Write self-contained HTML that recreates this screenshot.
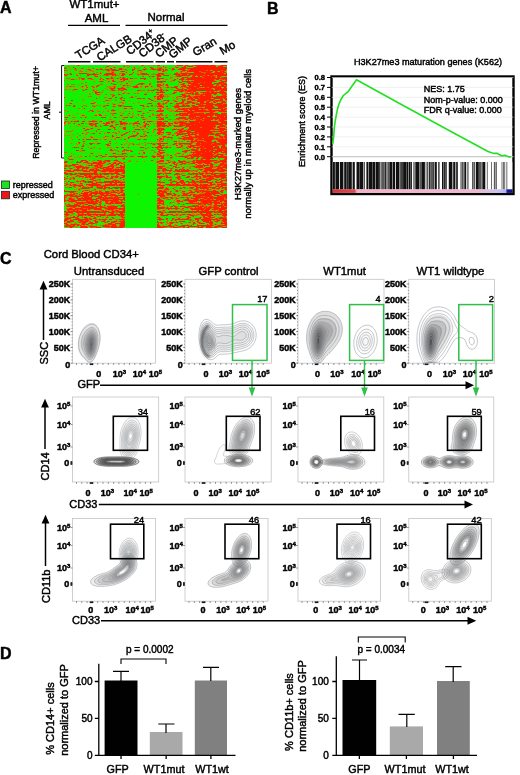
<!DOCTYPE html>
<html><head><meta charset="utf-8"><title>Figure</title>
<style>html,body{margin:0;padding:0;background:#fff}svg{display:block}text{font-family:"Liberation Sans",sans-serif;fill:#000;stroke:#000;stroke-width:0.45px}</style>
</head><body>
<svg width="520" height="775" viewBox="0 0 520 775" font-family="Liberation Sans, sans-serif">
<rect width="520" height="775" fill="#fff"/>
<g opacity="0.999">
<text x="0" y="13" font-size="16" text-anchor="start" font-weight="bold" >A</text>
<text x="94.5" y="7.5" font-size="11.5" text-anchor="middle" font-weight="normal" >WT1mut+</text>
<text x="96.5" y="21.5" font-size="11.5" text-anchor="middle" font-weight="normal" >AML</text>
<path d="M68 25.3H120M125.5 25.3H227.5" stroke="#000" stroke-width="1.3"/>
<text x="166" y="21.3" font-size="11.5" text-anchor="middle" font-weight="normal" >Normal</text>
<path d="M68 61.7H90.5M93 61.7H120.5M126 61.7H153.5M155.5 61.7H165M167 61.7H174M176 61.7H212.5M214.5 61.7H227.5" stroke="#000" stroke-width="1.5"/>
<text x="78.5" y="59.5" font-size="11.5" text-anchor="start" font-weight="normal" transform="rotate(-32 78.5 59.5)" >TCGA</text>
<text x="99.7" y="61.5" font-size="11.5" text-anchor="start" font-weight="normal" transform="rotate(-32 99.7 61.5)" >CALGB</text>
<text x="130" y="55.5" font-size="11.5" text-anchor="start" font-weight="normal" transform="rotate(-39 130 55.5)" >CD34<tspan font-size="7" dy="-4">+</tspan></text>
<text x="142.5" y="58" font-size="11.5" text-anchor="start" font-weight="normal" transform="rotate(-39 142.5 58)" >CD38<tspan font-size="7" dy="-4">-</tspan></text>
<text x="159" y="58" font-size="11.5" text-anchor="start" font-weight="normal" transform="rotate(-39 159 58)" >CMP</text>
<text x="172.5" y="59" font-size="11.5" text-anchor="start" font-weight="normal" transform="rotate(-39 172.5 59)" >GMP</text>
<text x="195.5" y="56.5" font-size="11.5" text-anchor="start" font-weight="normal" transform="rotate(-31 195.5 56.5)" >Gran</text>
<text x="222.5" y="55" font-size="11.5" text-anchor="start" font-weight="normal" transform="rotate(-30 222.5 55)" >Mo</text>
<path d="M64 65.6H61.6V158H64M61.6 112.2H59" stroke="#000" stroke-width="1" fill="none"/>
<text x="39.2" y="112.5" font-size="8.8" text-anchor="middle" font-weight="normal" transform="rotate(-90 39.2 112.5)" >Repressed in WT1mut+</text>
<text x="50.5" y="110.4" font-size="8.9" text-anchor="middle" font-weight="normal" transform="rotate(-90 50.5 110.4)" >AML</text>
<rect x="1.5" y="181" width="8" height="7.5" fill="#1fe21f" stroke="#222" stroke-width="0.8"/>
<rect x="1.5" y="191.3" width="8" height="7.5" fill="#ee1515" stroke="#222" stroke-width="0.8"/>
<text x="12.8" y="188" font-size="9" text-anchor="start" font-weight="normal" >repressed</text>
<text x="12.8" y="197.8" font-size="9" text-anchor="start" font-weight="normal" >expressed</text>
<text x="240.5" y="144" font-size="9.6" text-anchor="middle" font-weight="normal" transform="rotate(-90 240.5 144)" >H3K27me3-marked genes</text>
<text x="250.8" y="143.8" font-size="9.6" text-anchor="middle" font-weight="normal" transform="rotate(-90 250.8 143.8)" >normally up in mature myeloid cells</text>
<defs><filter id="hb" x="0" y="0" width="1" height="1"><feGaussianBlur stdDeviation="0.75 0.42"/></filter><clipPath id="hc"><rect x="64" y="65" width="163" height="163"/></clipPath></defs>
<g clip-path="url(#hc)"><g filter="url(#hb)">
<rect x="61" y="62" width="169" height="169" fill="#0af506"/>
<path d="M64 65.5m11 0h2m31 0h1m2 0h1m6 0h2m5 0h1m6 0h1m5 0h1m5 0h1m2 0h1m18 0h1m8 0h1m7 0h2m4 0h3m24 0h4M64 66.5m3 0h1m1 0h1m39 0h1m2 0h2m14 0h1m30 0h1m2 0h1m10 0h2m1 0h1m6 0h1m2 0h1m6 0h1m1 0h1m21 0h1m5 0h1m1 0h1M64 67.5m0 0h1m4 0h2m3 0h1m4 0h1m7 0h1m24 0h1m3 0h3m4 0h1m8 0h1m2 0h1m2 0h1m1 0h1m2 0h1m1 0h1m3 0h1m12 0h1m1 0h1m2 0h1m2 0h1m8 0h1m12 0h1M64 68.5m3 0h4m5 0h1m3 0h1m13 0h1m1 0h2m11 0h1m13 0h1m3 0h1m5 0h1m2 0h1m7 0h1m2 0h1m2 0h1m3 0h3m5 0h1m1 0h1m6 0h1m4 0h3M64 69.5m7 0h1m1 0h1m3 0h4m3 0h2m5 0h1m3 0h1m7 0h1m12 0h2m11 0h1m5 0h1m1 0h2m10 0h1m14 0h1m6 0h1m5 0h1m7 0h1m1 0h1M64 70.5m4 0h1m5 0h1m4 0h1m1 0h2m9 0h5m5 0h1m1 0h2m4 0h1m17 0h2m1 0h1m10 0h2m1 0h1m8 0h2m5 0h2m10 0h1m3 0h2m2 0h1m28 0h2m14 0h1M64 71.5m5 0h2m12 0h1m1 0h1m1 0h5m2 0h1m5 0h1m6 0h1m1 0h2m3 0h1m10 0h1m14 0h1m12 0h1m5 0h1m1 0h1m4 0h2m10 0h2m6 0h1m27 0h1m4 0h1m5 0h1M64 72.5m15 0h1m18 0h2m1 0h2m7 0h1m9 0h2m3 0h1m8 0h1m2 0h2m7 0h1m7 0h1m2 0h2m20 0h1m2 0h3m3 0h3m21 0h2m12 0h1M64 73.5m0 0h2m2 0h1m6 0h2m12 0h1m1 0h2m5 0h2m16 0h1m1 0h1m6 0h4m2 0h1m1 0h1m2 0h1m1 0h2m9 0h4m4 0h1m7 0h1m58 0h2M64 74.5m5 0h1m2 0h1m2 0h1m1 0h1m21 0h1m3 0h1m12 0h1m3 0h2m4 0h1m1 0h1m3 0h1m16 0h2m13 0h1m6 0h1m15 0h1M64 75.5m3 0h1m10 0h2m6 0h1m9 0h1m4 0h1m9 0h1m7 0h2m3 0h1m5 0h1m6 0h1m1 0h1m2 0h1m3 0h2m14 0h1m6 0h3m19 0h1m16 0h1m5 0h1m1 0h1M64 76.5m0 0h3m20 0h1m10 0h1m11 0h1m1 0h1m3 0h1m15 0h1m28 0h1m12 0h1m7 0h1m1 0h1m6 0h1m5 0h1m2 0h1m15 0h1m6 0h1m2 0h1M64 77.5m5 0h1m23 0h1m2 0h2m1 0h1m13 0h1m1 0h1m5 0h1m11 0h1m25 0h1m13 0h2m6 0h1m34 0h1m3 0h1M64 78.5m0 0h2m4 0h1m2 0h2m2 0h2m1 0h1m11 0h1m9 0h1m16 0h2m7 0h1m4 0h1m3 0h1m8 0h2m3 0h3m10 0h1m2 0h1m3 0h1m4 0h1m1 0h1m5 0h1m1 0h1M64 79.5m11 0h1m1 0h2m1 0h2m6 0h2m11 0h1m2 0h1m4 0h4m1 0h2m3 0h1m8 0h1m8 0h2m4 0h1m16 0h1m2 0h2m3 0h6m2 0h1m1 0h1m40 0h1M64 80.5m17 0h2m11 0h1m11 0h1m15 0h1m8 0h1m3 0h1m18 0h1m16 0h1m3 0h1m7 0h1m5 0h1m1 0h1m1 0h1m21 0h1m8 0h1M64 81.5m3 0h4m2 0h1m8 0h1m10 0h1m1 0h1m2 0h1m8 0h1m2 0h2m4 0h3m5 0h2m4 0h2m1 0h1m14 0h1m1 0h1m2 0h1m12 0h1m1 0h2m2 0h1m4 0h1m2 0h1m36 0h1m2 0h1M64 82.5m10 0h1m12 0h1m18 0h3m13 0h1m8 0h2m4 0h1m18 0h1m21 0h1m3 0h1m42 0h2M64 83.5m3 0h1m12 0h1m12 0h2m5 0h1m4 0h3m2 0h1m2 0h1m5 0h1m2 0h1m2 0h1m2 0h5m5 0h1m12 0h1m6 0h1m3 0h1m1 0h3m4 0h1m9 0h1m30 0h2M64 84.5m5 0h2m6 0h2m4 0h1m2 0h1m16 0h1m8 0h1m4 0h1m6 0h1m3 0h2m2 0h1m3 0h1m6 0h4m1 0h1m2 0h1m9 0h1m2 0h2m2 0h1m8 0h1m1 0h1m5 0h3m1 0h2m24 0h1M64 85.5m3 0h3m21 0h2m1 0h3m10 0h1m13 0h2m7 0h1m14 0h7m16 0h1m9 0h4m4 0h1m13 0h1m12 0h1m1 0h1m3 0h2M64 86.5m4 0h1m6 0h1m8 0h2m1 0h1m7 0h1m2 0h1m9 0h1m2 0h1m6 0h1m3 0h1m1 0h1m4 0h1m1 0h1m6 0h2m4 0h1m5 0h1m9 0h1m3 0h1m1 0h1m13 0h1m6 0h1M64 87.5m0 0h3m2 0h2m7 0h4m1 0h1m4 0h1m3 0h1m2 0h1m16 0h1m3 0h1m7 0h3m12 0h2m1 0h1m1 0h1m1 0h1m2 0h5m3 0h2m3 0h3m4 0h1m7 0h1m1 0h1m3 0h1m17 0h1m1 0h1m17 0h1m1 0h1M64 88.5m3 0h1m16 0h1m7 0h2m10 0h1m37 0h1m14 0h1m1 0h1m2 0h2m3 0h1m7 0h1m10 0h1m26 0h1M64 89.5m0 0h1m2 0h2m1 0h1m7 0h2m3 0h2m7 0h1m1 0h1m1 0h1m9 0h1m1 0h1m1 0h1m3 0h1m17 0h1m6 0h2m2 0h2m4 0h1m2 0h1m6 0h1m5 0h1m1 0h1m2 0h1m5 0h1m10 0h1m25 0h2M64 90.5m0 0h1m4 0h3m2 0h3m11 0h2m2 0h1m2 0h1m5 0h1m5 0h3m6 0h2m7 0h1m1 0h1m3 0h2m12 0h2M64 91.5m29 0h1m3 0h3m12 0h1m3 0h1m15 0h1m6 0h2m8 0h1m24 0h2m2 0h1m17 0h1m1 0h3m13 0h2m1 0h2m7 0h1M64 92.5m21 0h4m2 0h1m11 0h1m8 0h1m4 0h1m5 0h1m2 0h1m5 0h1m15 0h1m2 0h1m3 0h1m24 0h1m1 0h1m1 0h1m3 0h1m5 0h1m3 0h2m26 0h1M64 93.5m3 0h1m13 0h1m8 0h1m15 0h1m1 0h3m19 0h1m2 0h1m2 0h1m2 0h1m4 0h1m1 0h1m14 0h1m20 0h2m15 0h4m14 0h1M64 94.5m0 0h1m11 0h1m5 0h2m30 0h1m6 0h1m4 0h2m9 0h2m4 0h1m15 0h1m3 0h1m4 0h1m2 0h1m1 0h1m5 0h1m6 0h3m24 0h1m3 0h1m3 0h1M64 95.5m9 0h1m22 0h4m22 0h1m28 0h1m5 0h2m5 0h3m1 0h1m7 0h1m13 0h1m3 0h1m9 0h1m8 0h1m4 0h1m7 0h1M64 96.5m15 0h4m3 0h2m19 0h2m2 0h1m22 0h1m2 0h1m15 0h1m2 0h1m9 0h1m2 0h4m3 0h1m36 0h1m1 0h1M64 97.5m1 0h1m32 0h1m8 0h1m2 0h1m3 0h1m5 0h1m17 0h2m13 0h1m1 0h2m2 0h1m3 0h1m2 0h1m5 0h1m1 0h2m2 0h1m2 0h1m44 0h1M64 98.5m15 0h1m15 0h1m1 0h1m1 0h1m4 0h4m4 0h1m9 0h2m1 0h1m19 0h1m1 0h1m5 0h2m1 0h1m6 0h1m8 0h1m6 0h1m4 0h3m24 0h2M64 99.5m1 0h2m26 0h1m20 0h1m1 0h1m5 0h1m32 0h2m4 0h1m10 0h1m13 0h1m8 0h1m23 0h1m4 0h1M64 100.5m0 0h1m17 0h1m1 0h1m8 0h1m6 0h2m2 0h1m23 0h1m13 0h1m11 0h1m21 0h1m1 0h2m1 0h1m4 0h5m32 0h2M64 101.5m20 0h1m23 0h1m23 0h1m3 0h1m9 0h2m10 0h1m14 0h1m7 0h1m2 0h1m7 0h2m2 0h1m8 0h1m6 0h1m12 0h1M64 102.5m12 0h1m5 0h1m13 0h1m27 0h1m4 0h1m35 0h1m5 0h2m5 0h1m7 0h1m10 0h1m1 0h1m4 0h2m3 0h2m5 0h1m9 0h1M64 103.5m2 0h1m5 0h1m5 0h1m16 0h1m15 0h1m1 0h1m1 0h3m6 0h1m3 0h2m4 0h2m1 0h2m13 0h1m1 0h1m6 0h1m5 0h1m1 0h1m5 0h1m37 0h3m7 0h1M64 104.5m48 0h1m3 0h3m25 0h3m14 0h1m2 0h1m9 0h1m4 0h3m9 0h2m11 0h1M64 105.5m1 0h1m13 0h2m10 0h1m2 0h2m2 0h1m2 0h3m5 0h1m3 0h3m1 0h1m6 0h1m10 0h2m2 0h1m4 0h1m5 0h1m2 0h1m1 0h1m1 0h1m4 0h1m3 0h2m3 0h1m7 0h1m1 0h1m8 0h1m4 0h1m1 0h1M64 106.5m3 0h1m15 0h1m3 0h1m3 0h1m8 0h1m1 0h1m19 0h1m9 0h1m9 0h1m2 0h1m3 0h1m3 0h2m1 0h1m7 0h2m24 0h2m22 0h3M64 107.5m0 0h1m28 0h2m62 0h3m4 0h1m23 0h2m9 0h1m2 0h3m10 0h3m7 0h1M64 108.5m13 0h1m2 0h3m2 0h1m7 0h2m24 0h1m7 0h2m1 0h1m4 0h1m16 0h1m4 0h1m4 0h2m1 0h1m5 0h1m2 0h1m1 0h1m46 0h1M64 109.5m45 0h1m11 0h1m14 0h3m3 0h1m16 0h1m1 0h1m1 0h1m2 0h1m3 0h2m3 0h2m11 0h1m10 0h2m5 0h2m8 0h2m1 0h1M64 110.5m2 0h1m4 0h1m21 0h1m2 0h1m1 0h1m7 0h2m1 0h1m6 0h5m11 0h2m3 0h2m9 0h1m15 0h1m5 0h1m3 0h2m2 0h1m3 0h1m6 0h1m3 0h1M64 111.5m2 0h1m1 0h1m18 0h1m8 0h2m2 0h1m1 0h1m1 0h1m9 0h1m6 0h4m1 0h1m3 0h1m11 0h3m8 0h3m13 0h1m2 0h2m42 0h2M64 112.5m6 0h1m32 0h1m15 0h1m38 0h1m6 0h1m13 0h5m2 0h1m10 0h2m5 0h1m1 0h1m7 0h2m5 0h1m1 0h1m1 0h1M64 113.5m9 0h1m1 0h2m1 0h1m2 0h1m14 0h2m6 0h1m4 0h1m11 0h1m2 0h1m5 0h1m14 0h3m3 0h1m7 0h1m12 0h1m3 0h1m27 0h2M64 114.5m4 0h2m10 0h2m1 0h1m11 0h3m7 0h1m5 0h1m1 0h1m7 0h1m5 0h1m11 0h1m23 0h1m2 0h1m1 0h1m5 0h2m12 0h2M64 115.5m1 0h3m2 0h1m1 0h1m8 0h1m3 0h1m5 0h1m5 0h2m5 0h1m2 0h1m3 0h1m6 0h2m9 0h1m1 0h1m1 0h5m1 0h2m9 0h2m1 0h2m12 0h1m1 0h1m1 0h3m4 0h1m35 0h1M64 116.5m18 0h1m2 0h1m4 0h1m31 0h1m25 0h1m11 0h1m13 0h1m9 0h2m2 0h1m7 0h1m12 0h1m6 0h1m7 0h1M64 117.5m4 0h1m2 0h1m4 0h2m4 0h1m10 0h2m14 0h1m3 0h1m4 0h1m1 0h2m6 0h2m3 0h3m4 0h1m4 0h1m3 0h4m2 0h1m6 0h1m1 0h1m3 0h1m4 0h2m12 0h1M64 118.5m6 0h1m25 0h2m27 0h2m15 0h1m2 0h1m1 0h1m9 0h2m44 0h1M64 119.5m3 0h1m6 0h1m33 0h1m3 0h1m6 0h3m4 0h1m8 0h1m10 0h5m29 0h2m1 0h1m4 0h1m24 0h1M64 120.5m0 0h1m30 0h1m4 0h1m14 0h2m2 0h2m28 0h1m4 0h2m1 0h5m5 0h1m6 0h3m1 0h1m1 0h1m3 0h1m1 0h3m4 0h2m16 0h4m1 0h1m8 0h1M64 121.5m5 0h1m11 0h1m3 0h3m9 0h2m8 0h1m7 0h1m6 0h1m2 0h1m13 0h3m1 0h1m2 0h1m7 0h2m6 0h1m8 0h1m1 0h1M64 122.5m2 0h2m5 0h1m12 0h1m5 0h1m7 0h4m6 0h1m3 0h1m11 0h1m3 0h1m14 0h1m1 0h2m16 0h3m2 0h1m2 0h1m14 0h1m30 0h2M64 123.5m1 0h3m7 0h1m9 0h1m1 0h1m10 0h1m1 0h3m7 0h2m1 0h1m1 0h1m3 0h1m8 0h1m11 0h4m5 0h1m2 0h1m1 0h1m12 0h1m5 0h1m4 0h1M64 124.5m0 0h1m12 0h1m5 0h2m3 0h1m12 0h1m12 0h1m4 0h1m8 0h1m3 0h1m1 0h1m9 0h1m6 0h2m12 0h1m1 0h1m3 0h1m1 0h1m1 0h4m45 0h1M64 125.5m2 0h1m6 0h3m1 0h1m1 0h1m1 0h1m7 0h1m3 0h2m4 0h1m9 0h1m6 0h1m6 0h1m5 0h2m1 0h1m2 0h1m2 0h1m3 0h1m3 0h1m1 0h1m1 0h2m1 0h1m1 0h1m16 0h1m45 0h1M64 126.5m5 0h1m3 0h2m4 0h1m1 0h1m1 0h3m5 0h1m1 0h2m3 0h2m26 0h1m2 0h2m8 0h3m14 0h1m12 0h3m11 0h2m31 0h1M64 127.5m24 0h2m22 0h1m7 0h3m3 0h1m8 0h2m2 0h1m2 0h2m5 0h1m13 0h1m1 0h3m1 0h1m1 0h1m2 0h1m8 0h1m4 0h1m26 0h2m6 0h1M64 128.5m12 0h1m9 0h2m25 0h1m1 0h1m2 0h4m4 0h1m26 0h2m2 0h1m15 0h1m1 0h1m4 0h1m3 0h1m31 0h1m1 0h1m7 0h1M64 129.5m9 0h2m2 0h1m4 0h2m1 0h1m4 0h3m18 0h1m4 0h1m1 0h1m7 0h1m6 0h1m6 0h1m3 0h4m1 0h1m3 0h1m2 0h1m8 0h1m5 0h1M64 130.5m0 0h2m7 0h1m9 0h1m10 0h2m36 0h1m7 0h1m11 0h1m1 0h1m22 0h1m33 0h2m4 0h1m7 0h1M64 131.5m1 0h1m6 0h1m24 0h1m2 0h1m1 0h1m10 0h2m2 0h1m2 0h1m7 0h1m13 0h1m3 0h1m5 0h1m4 0h1m3 0h3m12 0h1M64 132.5m0 0h1m24 0h1m10 0h1m3 0h2m4 0h2m4 0h1m3 0h1m1 0h1m2 0h1m6 0h2m10 0h3m5 0h1m3 0h1m7 0h2m5 0h1m2 0h1m3 0h1m4 0h1m29 0h1m1 0h1m2 0h2M64 133.5m0 0h3m3 0h2m6 0h1m2 0h1m2 0h2m1 0h1m2 0h1m7 0h1m6 0h1m1 0h1m1 0h1m7 0h3m3 0h1m3 0h1m3 0h1m4 0h1m2 0h1m5 0h1m3 0h1m6 0h1m4 0h2m4 0h1m22 0h1m23 0h1M64 134.5m6 0h3m10 0h2m2 0h1m23 0h1m5 0h1m2 0h1m8 0h2m1 0h1m5 0h1m2 0h2m2 0h1m11 0h1m8 0h1m5 0h1m1 0h1m1 0h1m10 0h1m9 0h1m23 0h2M64 135.5m2 0h1m1 0h1m1 0h1m12 0h1m12 0h1m1 0h2m4 0h2m7 0h1m1 0h1m23 0h1m7 0h1m2 0h1m5 0h1m1 0h1m1 0h4m4 0h1m5 0h1m8 0h1m8 0h1m1 0h1m15 0h1m3 0h1m6 0h1M64 136.5m0 0h1m11 0h1m9 0h1m5 0h3m6 0h1m2 0h1m4 0h1m1 0h1m2 0h1m2 0h1m5 0h3m2 0h1m7 0h1m9 0h1m1 0h1m3 0h2m5 0h2m6 0h1m11 0h2m5 0h1m1 0h1m26 0h1m1 0h2M64 137.5m0 0h1m7 0h1m3 0h1m3 0h2m1 0h1m1 0h1m4 0h1m2 0h1m1 0h2m5 0h1m2 0h1m5 0h1m3 0h1m4 0h1m1 0h1m3 0h2m2 0h1m3 0h2m2 0h2m3 0h2m3 0h2m5 0h1m1 0h2m1 0h3m13 0h2m4 0h1m31 0h1m1 0h1m1 0h1M64 138.5m3 0h2m2 0h1m12 0h2m12 0h2m2 0h2m2 0h1m7 0h1m9 0h4m9 0h3m18 0h1m17 0h2m16 0h1m29 0h1M64 139.5m6 0h2m1 0h1m10 0h2m5 0h2m5 0h2m1 0h1m1 0h1m3 0h4m1 0h2m2 0h3m7 0h1m6 0h1m2 0h1m4 0h2m21 0h1m1 0h1m3 0h1m1 0h1m7 0h2m12 0h1M64 140.5m6 0h1m33 0h2m21 0h1m30 0h1m17 0h1m8 0h1m1 0h1m2 0h1m2 0h1m9 0h1m8 0h1m3 0h1M64 141.5m18 0h1m2 0h1m8 0h2m12 0h1m12 0h1m4 0h1m24 0h1m5 0h1m10 0h1m8 0h1m2 0h1m2 0h1m2 0h1m26 0h1m2 0h1M64 142.5m4 0h1m14 0h2m9 0h2m14 0h1m12 0h2m32 0h2m4 0h3m11 0h2m1 0h1m2 0h2m10 0h2M64 143.5m4 0h1m1 0h1m1 0h3m2 0h2m1 0h1m4 0h1m9 0h2m10 0h1m3 0h1m4 0h1m2 0h2m2 0h3m1 0h2m1 0h1m7 0h1m1 0h1m2 0h1m2 0h1m21 0h1m1 0h4m19 0h2M64 144.5m0 0h1m11 0h1m19 0h1m1 0h1m14 0h2m8 0h1m1 0h1m2 0h1m1 0h2m3 0h1m4 0h2m4 0h1m24 0h1m5 0h2m4 0h1m8 0h1m2 0h1M64 145.5m12 0h2m6 0h1m53 0h1m5 0h1m6 0h2m5 0h1m6 0h2m1 0h2m10 0h1m2 0h1m2 0h1m2 0h1m30 0h2m3 0h1M64 146.5m20 0h1m2 0h2m5 0h2m8 0h1m63 0h1m7 0h2m5 0h3m1 0h1m7 0h2m16 0h2m4 0h2M64 147.5m0 0h1m2 0h2m10 0h1m7 0h1m1 0h1m2 0h1m6 0h2m5 0h1m2 0h1m2 0h1m2 0h1m3 0h1m4 0h1m1 0h1m2 0h1m7 0h1m1 0h1m4 0h1m6 0h1m2 0h1m16 0h1m2 0h2m5 0h1m3 0h1m6 0h1M64 148.5m16 0h1m8 0h1m2 0h1m1 0h3m1 0h1m8 0h1m4 0h1m26 0h2m3 0h1m2 0h2m3 0h1m6 0h1m3 0h1m1 0h1m4 0h1m3 0h1m3 0h1m2 0h2m6 0h1m9 0h1M64 149.5m35 0h2m11 0h2m9 0h1m3 0h2m6 0h1m7 0h2m3 0h1m22 0h1m4 0h2m3 0h1m16 0h2m15 0h2M64 150.5m15 0h2m4 0h1m21 0h3m4 0h1m3 0h2m2 0h1m22 0h3m2 0h1m7 0h1m15 0h3m1 0h1m20 0h1M64 151.5m15 0h1m1 0h1m9 0h2m18 0h2m6 0h1m1 0h1m6 0h2m25 0h1m4 0h1m5 0h1m21 0h1m1 0h1m1 0h2m28 0h1M64 152.5m3 0h1m3 0h2m9 0h2m1 0h1m8 0h1m12 0h2m1 0h2m6 0h3m4 0h1m16 0h1m2 0h1m2 0h2m3 0h1m2 0h2m7 0h1m5 0h1m4 0h1m1 0h1m4 0h1m5 0h1m29 0h2M64 153.5m3 0h1m18 0h1m8 0h6m9 0h2m4 0h1m4 0h1m6 0h2m10 0h1m4 0h1m3 0h1m6 0h1m6 0h1m2 0h1m8 0h1m5 0h2m1 0h2m3 0h1m2 0h1m20 0h1m7 0h2m1 0h1M64 154.5m10 0h1m32 0h1m5 0h4m11 0h1m4 0h1m7 0h1m13 0h2m6 0h2m1 0h1m1 0h1m4 0h1m2 0h1m10 0h2m26 0h1M64 155.5m6 0h1m1 0h1m4 0h2m1 0h2m6 0h1m1 0h1m1 0h1m4 0h1m4 0h1m2 0h4m3 0h1m2 0h1m3 0h2m20 0h2m8 0h1m2 0h1m1 0h1m5 0h1m2 0h2m5 0h1m6 0h3m1 0h3m38 0h1M64 156.5m3 0h1m4 0h2m4 0h1m3 0h1m15 0h1m8 0h1m20 0h1m5 0h3m19 0h1m7 0h4m3 0h1m1 0h1m15 0h1M64 157.5m11 0h1m2 0h1m1 0h4m7 0h1m3 0h1m24 0h2m11 0h3m5 0h1m3 0h1m6 0h1m2 0h1m1 0h2m1 0h1m3 0h1m11 0h2m2 0h1m7 0h1m7 0h1m2 0h3m11 0h1M64 158.5m3 0h1m1 0h1m5 0h2m14 0h1m4 0h1m12 0h2m10 0h1m31 0h1m3 0h1m9 0h2m17 0h1m13 0h1m15 0h2m5 0h1M64 159.5m10 0h1m30 0h1m9 0h1m5 0h1m16 0h1m19 0h1m2 0h2m11 0h1m9 0h1m4 0h2m4 0h1m14 0h1m7 0h1M64 160.5m24 0h1m6 0h2m14 0h1m6 0h1m3 0h1m5 0h1m21 0h1m2 0h1m3 0h2m5 0h2m4 0h1m14 0h1m32 0h2M64 161.5m4 0h1m1 0h2m1 0h1m4 0h1m4 0h2m3 0h1m2 0h1m1 0h1m8 0h1m17 0h2m2 0h1m2 0h1m15 0h1m11 0h2m7 0h1m4 0h1m5 0h1m11 0h1m7 0h1M64 162.5m6 0h1m10 0h1m7 0h2m1 0h1m18 0h2m4 0h2m3 0h1m3 0h2m27 0h1m7 0h1m2 0h2m3 0h1m4 0h2m5 0h1m7 0h1m21 0h1m6 0h2M64 163.5m1 0h1m4 0h1m8 0h1m2 0h1m1 0h1m1 0h1m18 0h3m27 0h2m5 0h1m14 0h1m12 0h1m4 0h1m12 0h1m6 0h2m6 0h1m9 0h2m2 0h3M64 164.5m0 0h1m2 0h2m10 0h2m6 0h1m2 0h1m4 0h1m7 0h4m2 0h2m11 0h1m17 0h1m17 0h5m2 0h2m3 0h1m12 0h1m6 0h3m4 0h2m3 0h1m1 0h1m4 0h1m5 0h1M64 165.5m13 0h1m4 0h3m1 0h1m16 0h1m4 0h2m7 0h1m4 0h2m34 0h1m1 0h3m2 0h1m9 0h1m13 0h2m26 0h1M64 166.5m20 0h1m18 0h1m10 0h1m2 0h1m47 0h1m14 0h1m1 0h2m2 0h1m1 0h2m13 0h1m1 0h1m3 0h1M64 167.5m1 0h1m2 0h1m1 0h1m4 0h1m15 0h1m18 0h1m3 0h2m47 0h1m5 0h1m1 0h1m1 0h2m29 0h1m11 0h1M64 168.5m9 0h1m2 0h1m4 0h1m7 0h3m6 0h2m14 0h1m4 0h1m46 0h1m1 0h1m4 0h2m12 0h2m11 0h3m9 0h4m7 0h1M64 169.5m5 0h1m3 0h1m6 0h1m2 0h1m1 0h1m2 0h1m10 0h1m2 0h1m56 0h1m7 0h1m10 0h1m6 0h1m7 0h4m6 0h1m22 0h1M64 170.5m7 0h2m14 0h2m72 0h1m18 0h1m17 0h2m2 0h2M64 171.5m10 0h4m1 0h2m9 0h2m5 0h1m1 0h1m14 0h1m46 0h1m3 0h1m5 0h1m18 0h1m2 0h2m13 0h1m8 0h1m7 0h1M64 172.5m9 0h2m5 0h1m2 0h1m2 0h2m3 0h1m11 0h1m1 0h1m2 0h1m3 0h2m4 0h1m2 0h1m39 0h1m1 0h1m6 0h1m9 0h2m10 0h1m7 0h2m2 0h1m3 0h1m1 0h2m4 0h2m1 0h2m1 0h4M64 173.5m34 0h1m21 0h1m51 0h1m7 0h1m4 0h1M64 174.5m0 0h1m12 0h2m30 0h2m3 0h2m6 0h1m37 0h1m3 0h2m1 0h1m5 0h1m8 0h1m2 0h2m16 0h2m5 0h1m5 0h1m1 0h1m7 0h1M64 175.5m11 0h1m16 0h1m1 0h1m9 0h2m4 0h2m3 0h1m41 0h1m15 0h1m5 0h1m1 0h1m19 0h1M64 176.5m2 0h1m1 0h1m3 0h3m9 0h1m20 0h2m12 0h1m1 0h1m18 0h1m27 0h2m14 0h1m8 0h1m7 0h1M64 177.5m1 0h1m12 0h1m1 0h2m2 0h1m22 0h4m7 0h2m43 0h1m1 0h1m6 0h1m11 0h1m5 0h1m11 0h1m11 0h1M64 178.5m4 0h1m12 0h1m1 0h1m2 0h1m2 0h1m6 0h1m6 0h2m8 0h1m3 0h2m2 0h1m2 0h1m33 0h1m8 0h2m2 0h1m4 0h1m5 0h1m12 0h1m2 0h1m16 0h1m4 0h1M64 179.5m4 0h1m2 0h1m3 0h3m1 0h1m6 0h1m1 0h1m7 0h1m8 0h3m1 0h5m2 0h3m39 0h1m1 0h1m2 0h1m1 0h1m3 0h1m5 0h1m1 0h1m3 0h1m5 0h1m5 0h2m23 0h1m5 0h1M64 180.5m10 0h1m3 0h1m1 0h1m11 0h1m5 0h2m1 0h1m17 0h1m2 0h3m38 0h1m1 0h3m8 0h4m4 0h1m13 0h1m6 0h1m5 0h3m2 0h1m2 0h2M64 181.5m2 0h2m6 0h2m17 0h1m3 0h2m15 0h1m6 0h1m41 0h1m13 0h2m5 0h2m3 0h1m18 0h1m2 0h1m5 0h3m3 0h3M64 182.5m5 0h1m5 0h2m2 0h1m1 0h1m1 0h1m11 0h1m69 0h1m3 0h1m5 0h1m11 0h1m35 0h1M64 183.5m8 0h1m4 0h1m1 0h1m3 0h1m18 0h1m1 0h1m2 0h2m3 0h1m4 0h1m4 0h3m34 0h1m3 0h1m8 0h1m12 0h1m5 0h1m5 0h1m4 0h2m3 0h1m4 0h2m1 0h2m2 0h2M64 184.5m1 0h1m5 0h1m5 0h2m4 0h1m20 0h1m56 0h3m17 0h1m17 0h1m8 0h2m6 0h1M64 185.5m19 0h3m1 0h1m125 0h2M64 186.5m4 0h1m7 0h2m3 0h1m2 0h1m1 0h1m1 0h1m1 0h1m15 0h2m12 0h1m2 0h1m26 0h1m8 0h1m13 0h2m7 0h2m3 0h5m1 0h1m4 0h1m15 0h1m10 0h2M64 187.5m0 0h1m11 0h3m2 0h1m11 0h1m9 0h1m6 0h2m45 0h1m7 0h1m1 0h1m5 0h1m5 0h1m1 0h1m6 0h1m5 0h2m20 0h1M64 188.5m11 0h4m11 0h4m2 0h1m9 0h1m57 0h1m4 0h1m12 0h2m2 0h1m1 0h1m4 0h1m5 0h1m9 0h3m8 0h1M64 189.5m11 0h1m1 0h1m11 0h1m3 0h1m2 0h1m8 0h1m1 0h2m1 0h1m13 0h1m33 0h1m3 0h2m5 0h3m1 0h1m2 0h1m5 0h1m5 0h2m2 0h1m7 0h3m3 0h1m5 0h3m1 0h1m2 0h4M64 190.5m1 0h1m3 0h2m5 0h3m3 0h1m7 0h2m2 0h1m1 0h3m3 0h3m4 0h2m3 0h1m4 0h1m47 0h1m1 0h1m4 0h1m3 0h1m2 0h3m8 0h3m17 0h1m3 0h1m3 0h1m4 0h1M64 191.5m14 0h1m2 0h1m2 0h3m7 0h1m3 0h1m5 0h1m11 0h1m6 0h1m33 0h1m10 0h2m11 0h1m4 0h2m1 0h1m3 0h1m25 0h1m3 0h1M64 192.5m2 0h3m6 0h2m3 0h1m1 0h2m83 0h1m8 0h2m7 0h1m14 0h1m3 0h1m15 0h1m5 0h1M64 193.5m3 0h1m12 0h1m7 0h1m23 0h5m3 0h3m41 0h1m7 0h1m5 0h4m8 0h1m2 0h7m2 0h1m19 0h2M64 194.5m2 0h1m8 0h2m1 0h1m18 0h1m1 0h1m5 0h1m14 0h1m16 0h1m19 0h1m6 0h2m6 0h1m6 0h1m2 0h1M64 195.5m33 0h1m67 0h1m3 0h1m1 0h1m4 0h1m3 0h1m11 0h1m20 0h1M64 196.5m3 0h1m1 0h1m19 0h1m12 0h2m3 0h1m1 0h1m3 0h1m4 0h2m2 0h1m42 0h1m1 0h2m2 0h1m1 0h4m2 0h1m6 0h2m1 0h2m1 0h1m23 0h1M64 197.5m3 0h2m3 0h2m1 0h1m4 0h1m2 0h1m8 0h1m65 0h1m14 0h1m3 0h2m13 0h1m15 0h1M64 198.5m11 0h2m42 0h4m38 0h1m8 0h1m4 0h1m13 0h2m10 0h1M64 199.5m2 0h2m31 0h1m65 0h1m5 0h2m4 0h6m8 0h2m6 0h1m15 0h1M64 200.5m35 0h1m19 0h1m3 0h1m40 0h1m3 0h1m4 0h1m1 0h1m4 0h2M64 201.5m2 0h2m9 0h2m4 0h1m20 0h1m4 0h1m10 0h1m43 0h1m7 0h4m7 0h1m3 0h1m9 0h1m14 0h1m10 0h1M64 202.5m2 0h5m2 0h1m23 0h1m10 0h1m48 0h1m3 0h2m2 0h1m10 0h1m2 0h1m1 0h2m12 0h1m3 0h1m22 0h2M64 203.5m0 0h1m1 0h1m3 0h2m1 0h1m1 0h1m22 0h1m5 0h1m59 0h2m11 0h1m34 0h1M64 204.5m0 0h1m1 0h1m3 0h1m10 0h1m10 0h1m3 0h1m4 0h1m5 0h1m3 0h1m6 0h1m2 0h1m36 0h1m1 0h2m8 0h1m5 0h1m12 0h4m4 0h1m8 0h1m5 0h2m6 0h1M64 205.5m1 0h1m14 0h1m3 0h1m2 0h1m9 0h1m3 0h1m4 0h4m5 0h3m44 0h3m1 0h1m32 0h1m9 0h1M64 206.5m1 0h1m11 0h1m27 0h2m52 0h3m2 0h1m3 0h1m4 0h1m5 0h1m6 0h1m25 0h1m12 0h1M64 207.5m1 0h2m2 0h1m6 0h4m37 0h1m4 0h1m46 0h1m2 0h1m1 0h1m5 0h1m2 0h1m10 0h1m8 0h1m15 0h2M64 208.5m9 0h2m27 0h2m76 0h2m2 0h1m3 0h2m22 0h1M64 209.5m2 0h1m25 0h2m23 0h2m41 0h1m1 0h4m1 0h1m2 0h2m11 0h1m4 0h1m1 0h1m19 0h2M64 210.5m2 0h1m13 0h2m5 0h3m5 0h3m1 0h1m4 0h1m2 0h2m1 0h1m3 0h1m4 0h1m1 0h1m37 0h1m2 0h1m2 0h1m12 0h1m9 0h2m3 0h1m15 0h1m2 0h2m3 0h1m4 0h1M64 211.5m46 0h1m53 0h1m1 0h1m15 0h1M64 212.5m9 0h1m33 0h1m105 0h1M64 213.5m4 0h1m11 0h1m5 0h1m4 0h1m1 0h1m2 0h2m1 0h2m22 0h1m47 0h1m4 0h2m9 0h1m4 0h1m1 0h1m1 0h4m11 0h6m3 0h1M64 214.5m12 0h2m29 0h1m51 0h1m3 0h1m1 0h1m7 0h2m4 0h1m13 0h1m1 0h1M64 215.5m5 0h1m2 0h1m2 0h1m16 0h1m5 0h1m18 0h1m41 0h1m8 0h1m2 0h1m6 0h1m3 0h1m15 0h3m18 0h3M64 216.5m3 0h2m1 0h1m1 0h1m6 0h1m1 0h1m1 0h1m11 0h1m5 0h1m4 0h1m12 0h1m4 0h1m33 0h1m1 0h1m15 0h1m12 0h1m4 0h1m7 0h1m2 0h2m6 0h1m1 0h2M64 217.5m1 0h1m12 0h1m2 0h1m8 0h1m2 0h1m10 0h2m8 0h1m1 0h2m2 0h1m39 0h1m14 0h1m2 0h1m5 0h2m5 0h1m3 0h1m6 0h1m12 0h1m1 0h1M64 218.5m7 0h1m20 0h1m3 0h5m3 0h1m1 0h2m3 0h1m3 0h1m5 0h1m43 0h1m2 0h1m8 0h1m2 0h2m1 0h2m5 0h1m1 0h1m8 0h2m9 0h1m1 0h1M64 219.5m8 0h1m34 0h2m5 0h1m50 0h1m8 0h1m24 0h2m20 0h1M64 220.5m5 0h1m4 0h4m18 0h1m1 0h1m1 0h1m9 0h3m2 0h1m1 0h1m43 0h1m1 0h1m4 0h1m1 0h1m6 0h3m14 0h1m1 0h1m2 0h2m10 0h2m2 0h1m4 0h1M64 221.5m2 0h1m24 0h2m5 0h1m1 0h1m5 0h1m3 0h1m47 0h1m1 0h1m7 0h3m3 0h2m15 0h1m1 0h3m3 0h2m20 0h1M64 222.5m0 0h2m5 0h1m2 0h1m1 0h1m11 0h1m9 0h1m17 0h4m44 0h2m2 0h1m9 0h4m4 0h2m3 0h2m2 0h1m9 0h1m7 0h3m1 0h1m2 0h1m2 0h1M64 223.5m3 0h1m2 0h1m1 0h2m6 0h1m5 0h2m14 0h3m2 0h1m5 0h2m42 0h1m1 0h1m6 0h1m12 0h1m3 0h1m3 0h1m1 0h2m5 0h3m6 0h2m6 0h1m1 0h2m2 0h2M64 224.5m5 0h1m10 0h1m12 0h1m1 0h1m8 0h1m11 0h1m42 0h1m3 0h3m1 0h2m2 0h1m2 0h1m1 0h1m9 0h1m1 0h1m5 0h1m3 0h3m8 0h1m3 0h1m3 0h4m1 0h2M64 225.5m11 0h1m6 0h1m4 0h1m22 0h1m7 0h1m41 0h1m11 0h1m5 0h1m13 0h1m23 0h1M64 226.5m12 0h1m11 0h1m8 0h1m1 0h1m17 0h1m69 0h1m12 0h1m12 0h1m9 0h1m1 0h1M64 227.5m4 0h1m10 0h1m8 0h1m12 0h1m2 0h1m5 0h1m13 0h1m47 0h1m8 0h2m2 0h1m3 0h1m4 0h3m6 0h1m1 0h1m12 0h1m1 0h2" stroke="#86b406" stroke-width="1" fill="none"/>
<path d="M64 65.5m13 0h1m1 0h1m29 0h2m13 0h1m1 0h3m12 0h1m1 0h1m4 0h2m3 0h2m21 0h1m11 0h1m3 0h3m14 0h1m5 0h1m4 0h1M64 66.5m4 0h1m37 0h1m16 0h1m5 0h1m45 0h1m11 0h1m8 0h1M64 67.5m1 0h2m21 0h1m16 0h2m6 0h1m1 0h1m11 0h2m4 0h1m5 0h1m12 0h1m4 0h5m1 0h1m2 0h1m8 0h1m2 0h1m2 0h1m4 0h1m6 0h1M64 68.5m2 0h1m7 0h1m6 0h1m1 0h1m8 0h1m7 0h2m20 0h1m11 0h2m1 0h2m6 0h2m10 0h2m10 0h2m8 0h1m6 0h1M64 69.5m6 0h1m3 0h3m9 0h2m2 0h1m7 0h2m4 0h1m4 0h2m7 0h1m3 0h3m1 0h1m15 0h1m3 0h1m3 0h2m4 0h1m4 0h1m5 0h1m20 0h2m36 0h1M64 70.5m1 0h3m7 0h2m3 0h1m8 0h1m1 0h1m11 0h1m2 0h1m4 0h1m14 0h2m5 0h1m7 0h1m2 0h1m12 0h1m6 0h1m1 0h2m3 0h2m13 0h3m17 0h2m4 0h1m8 0h2M64 71.5m15 0h4m3 0h1m5 0h2m14 0h1m2 0h3m6 0h1m16 0h1m3 0h2m21 0h1m15 0h1m1 0h3m14 0h2m16 0h1m6 0h1M64 72.5m32 0h2m2 0h1m10 0h1m28 0h2m34 0h2m2 0h2m3 0h3m13 0h5m5 0h1m2 0h1m7 0h1M64 73.5m5 0h1m1 0h1m15 0h2m12 0h1m3 0h1m7 0h3m3 0h3m2 0h1m12 0h1m2 0h2m3 0h1m7 0h1m12 0h1m7 0h1m3 0h3m23 0h1M64 74.5m1 0h2m1 0h1m7 0h1m21 0h1m20 0h1m5 0h1m11 0h1m1 0h2m10 0h5m4 0h2m8 0h1m2 0h1m6 0h2m6 0h1M64 75.5m0 0h1m11 0h1m3 0h1m8 0h1m5 0h1m4 0h1m2 0h3m2 0h1m4 0h2m1 0h3m10 0h1m8 0h1m9 0h1m7 0h1m4 0h1m1 0h1m13 0h1m12 0h1m1 0h1m3 0h1m6 0h2m2 0h1m5 0h1m1 0h1M64 76.5m22 0h1m24 0h1m30 0h1m7 0h2m2 0h1m20 0h2m4 0h1m5 0h1m23 0h1m3 0h1m5 0h1M64 77.5m14 0h3m19 0h1m11 0h1m1 0h1m4 0h1m2 0h1m1 0h1m33 0h1m11 0h3m15 0h3m11 0h2m11 0h1m5 0h1m1 0h1M64 78.5m2 0h4m9 0h1m4 0h1m2 0h1m12 0h1m8 0h2m2 0h1m2 0h1m1 0h1m2 0h1m3 0h2m2 0h1m4 0h3m13 0h1m5 0h1m13 0h1M64 79.5m6 0h1m3 0h1m1 0h1m2 0h1m4 0h1m5 0h4m5 0h1m2 0h1m4 0h2m4 0h1m8 0h1m22 0h1m19 0h3m16 0h2m28 0h2m4 0h3m1 0h1M64 80.5m0 0h1m40 0h1m66 0h1m8 0h1m5 0h2m3 0h1m21 0h1m4 0h1m5 0h1M64 81.5m30 0h1m4 0h1m3 0h1m5 0h1m2 0h1m2 0h1m3 0h2m1 0h2m4 0h2m2 0h1m16 0h1m20 0h2m7 0h1m10 0h1m25 0h1M64 82.5m21 0h2m30 0h2m2 0h1m37 0h1m2 0h1m23 0h1m4 0h2m7 0h1m3 0h1m13 0h1m5 0h1M64 83.5m17 0h2m18 0h1m10 0h1m31 0h1m4 0h1m13 0h1m18 0h1m15 0h2m22 0h1m3 0h1M64 84.5m3 0h2m2 0h4m10 0h1m13 0h4m13 0h1m3 0h2m17 0h2m9 0h1m11 0h1m15 0h1m1 0h1m3 0h1m3 0h1m25 0h1m1 0h1m2 0h2M64 85.5m14 0h1m6 0h1m13 0h1m25 0h2m1 0h2m5 0h1m23 0h1m2 0h1m2 0h1m16 0h1m4 0h1m30 0h1m5 0h2M64 86.5m2 0h2m1 0h1m1 0h4m6 0h1m1 0h1m2 0h1m4 0h1m1 0h1m12 0h2m1 0h2m1 0h2m1 0h1m7 0h1m6 0h1m1 0h1m7 0h2m6 0h1m3 0h1m10 0h1m3 0h2m5 0h1m11 0h1m1 0h1m5 0h2m21 0h1m8 0h1M64 87.5m18 0h1m3 0h1m7 0h1m1 0h1m11 0h4m1 0h1m1 0h1m5 0h1m1 0h1m3 0h2m4 0h1m4 0h1m2 0h1m17 0h1m1 0h1m3 0h2m3 0h1m1 0h1m7 0h3m1 0h2m13 0h2m1 0h1m1 0h1m2 0h2m17 0h1M64 88.5m41 0h1m3 0h1m7 0h1m7 0h1m32 0h1m1 0h2m16 0h1m4 0h1m6 0h1m6 0h2m12 0h2m1 0h1m7 0h1M64 89.5m1 0h2m2 0h1m3 0h1m3 0h1m4 0h1m4 0h1m5 0h1m13 0h1m5 0h1m6 0h3m25 0h1m4 0h2m3 0h1m3 0h1m3 0h1m4 0h2m4 0h1m5 0h1m4 0h1M64 90.5m8 0h2m8 0h1m1 0h1m9 0h1m1 0h2m4 0h2m6 0h2m3 0h1m2 0h3m2 0h1m2 0h1m13 0h5m2 0h1m1 0h2m3 0h1m7 0h1m1 0h2m2 0h1m4 0h1m6 0h1m3 0h1m33 0h3M64 91.5m30 0h1m1 0h1m79 0h1m6 0h4m4 0h2m13 0h1m2 0h2m5 0h1m2 0h1m4 0h1M64 92.5m28 0h1m7 0h3m15 0h1m5 0h2m11 0h1m9 0h1m4 0h1m20 0h1m2 0h1m4 0h1m3 0h3m2 0h1m2 0h1m1 0h1m4 0h1m9 0h1M64 93.5m25 0h1m32 0h1m1 0h1m2 0h1m1 0h1m4 0h2m1 0h2m6 0h1m11 0h2m3 0h1m8 0h2m11 0h2m5 0h1m6 0h1m5 0h1m14 0h1m6 0h1M64 94.5m25 0h2m5 0h1m2 0h2m4 0h2m3 0h4m6 0h1m35 0h1m8 0h2m2 0h2m9 0h1m4 0h1m3 0h3m2 0h1m4 0h2m10 0h1m4 0h1m6 0h2M64 95.5m48 0h1m8 0h1m40 0h1m4 0h1m18 0h2m7 0h5m3 0h1m7 0h2m4 0h1m3 0h2M64 96.5m24 0h4m21 0h1m17 0h2m2 0h2m27 0h2m1 0h2m8 0h2m3 0h2m7 0h3m17 0h1M64 97.5m35 0h1m4 0h3m22 0h2m2 0h1m20 0h1m12 0h1m5 0h1m3 0h1m4 0h1m2 0h1m2 0h1m3 0h1m5 0h1M64 98.5m44 0h1m10 0h1m21 0h2m12 0h1m4 0h2m15 0h2m1 0h2m5 0h1m5 0h2m4 0h1m13 0h1m8 0h2M64 99.5m18 0h1m32 0h1m4 0h2m27 0h1m1 0h1m21 0h1m2 0h2m3 0h1m1 0h1m1 0h1m3 0h2m6 0h1M64 100.5m19 0h1m8 0h1m12 0h1m2 0h3m4 0h2m4 0h2m6 0h1m23 0h1m9 0h1m2 0h1m2 0h1m3 0h3m9 0h1m5 0h1m3 0h2m10 0h2m4 0h2m10 0h2M64 101.5m39 0h2m49 0h2m1 0h1m3 0h3m3 0h1m6 0h1m2 0h1m13 0h1m12 0h1m1 0h1m3 0h1m4 0h1m2 0h4m4 0h1M64 102.5m31 0h1m23 0h5m1 0h1m12 0h2m18 0h2m7 0h1m11 0h2m13 0h3m14 0h3M64 103.5m5 0h1m20 0h1m3 0h1m12 0h2m3 0h1m9 0h2m9 0h1m13 0h1m12 0h1m1 0h1m1 0h1m1 0h1m5 0h1m10 0h2m4 0h1m5 0h2m1 0h2m16 0h1m7 0h2M64 104.5m51 0h1m31 0h1m9 0h1m2 0h1m1 0h1m12 0h2m1 0h1m3 0h1m1 0h4m13 0h1m1 0h1m1 0h1m16 0h1M64 105.5m3 0h2m1 0h1m2 0h1m9 0h4m5 0h2m2 0h2m1 0h2m3 0h2m16 0h2m32 0h1m1 0h1m11 0h1m3 0h2m9 0h1m3 0h1m1 0h1m6 0h1M64 106.5m11 0h1m10 0h1m5 0h2m1 0h1m9 0h1m6 0h1m2 0h1m2 0h2m1 0h1m1 0h1m20 0h1m1 0h1m4 0h2m2 0h1m7 0h1m8 0h2m12 0h1m17 0h1m12 0h1M64 107.5m96 0h3m11 0h1m4 0h1m10 0h1m1 0h1m5 0h1m1 0h2m12 0h1M64 108.5m14 0h2m3 0h1m21 0h2m16 0h1m5 0h1m12 0h3m8 0h1m7 0h1m4 0h5m4 0h1m2 0h1m1 0h2m42 0h1M64 109.5m48 0h2m53 0h1m17 0h1m1 0h1m15 0h3m12 0h1m7 0h1M64 110.5m0 0h2m31 0h1m10 0h1m6 0h1m35 0h3m3 0h1m10 0h2m1 0h3m3 0h1m5 0h1m4 0h1m3 0h1m1 0h1m11 0h3m16 0h1M64 111.5m3 0h1m20 0h2m8 0h2m3 0h1m3 0h2m4 0h1m11 0h1m3 0h1m7 0h1m3 0h1m21 0h1m6 0h2m2 0h1m40 0h1m2 0h1M64 112.5m38 0h1m17 0h1m26 0h2m35 0h2m8 0h3m2 0h5m1 0h1m3 0h1m3 0h1m8 0h1m1 0h1M64 113.5m13 0h1m32 0h3m3 0h1m5 0h2m4 0h1m3 0h2m8 0h1m1 0h1m7 0h1m4 0h1m4 0h1m10 0h1m19 0h1M64 114.5m34 0h1m13 0h1m24 0h1m14 0h1m4 0h2m3 0h1m4 0h1m13 0h1m32 0h1m5 0h1m5 0h1M64 115.5m4 0h1m4 0h1m10 0h1m9 0h1m10 0h2m5 0h2m8 0h1m4 0h2m3 0h1m5 0h1m4 0h1m8 0h1m2 0h1m4 0h2m1 0h1m1 0h1m4 0h1m3 0h2m1 0h1m1 0h1m33 0h1M64 116.5m22 0h1m45 0h2m16 0h1m7 0h2m22 0h2m13 0h3m7 0h1m4 0h1M64 117.5m0 0h1m7 0h4m4 0h1m3 0h1m1 0h1m5 0h1m17 0h1m5 0h1m2 0h1m2 0h2m8 0h1m3 0h1m7 0h1m14 0h1m1 0h1m1 0h1m1 0h1m12 0h1m7 0h1m1 0h1m5 0h1m24 0h1M64 118.5m82 0h1m12 0h2m25 0h2m3 0h1m5 0h1m6 0h1m15 0h1M64 119.5m1 0h1m7 0h1m10 0h1m20 0h1m3 0h3m10 0h1m1 0h1m17 0h1m2 0h1m11 0h1m10 0h4m2 0h4m1 0h1m2 0h1m1 0h1m8 0h3m4 0h2m12 0h1m2 0h2M64 120.5m13 0h2m13 0h3m19 0h1m64 0h1m3 0h1m5 0h1m5 0h1m6 0h2m11 0h1m2 0h1m5 0h1M64 121.5m2 0h3m1 0h1m1 0h2m14 0h1m10 0h1m8 0h3m3 0h1m11 0h1m18 0h1m6 0h2m2 0h1m6 0h1m8 0h1m1 0h6m3 0h2m2 0h2m29 0h2M64 122.5m1 0h1m2 0h2m23 0h1m15 0h1m3 0h1m1 0h2m5 0h1m2 0h1m8 0h1m2 0h1m11 0h1m18 0h2m6 0h2m7 0h2m2 0h1m9 0h1m18 0h1M64 123.5m4 0h3m2 0h1m12 0h1m1 0h1m4 0h2m10 0h1m6 0h1m16 0h4m11 0h2m4 0h1m2 0h1m1 0h2m17 0h1m4 0h1M64 124.5m4 0h1m23 0h1m3 0h1m18 0h1m2 0h1m4 0h4m2 0h1m3 0h1m5 0h2m21 0h1m5 0h1m1 0h1m1 0h1m6 0h1m3 0h2m9 0h1M64 125.5m0 0h2m10 0h1m3 0h1m9 0h1m5 0h1m3 0h1m2 0h1m4 0h1m1 0h1m4 0h1m8 0h2m7 0h2m1 0h1m6 0h1m5 0h1m4 0h1m1 0h1m10 0h2m2 0h1m1 0h1m1 0h4m6 0h1m4 0h1m24 0h1m3 0h1m5 0h1M64 126.5m6 0h1m7 0h1m3 0h1m3 0h1m5 0h1m4 0h1m3 0h1m7 0h1m3 0h1m5 0h3m15 0h2m3 0h2m16 0h2m3 0h2m15 0h1m2 0h1m31 0h1m7 0h2M64 127.5m51 0h1m17 0h2m6 0h1m2 0h2m11 0h4m23 0h1m1 0h1m13 0h2m11 0h1m6 0h3m1 0h2M64 128.5m26 0h1m31 0h1m23 0h2m26 0h1m1 0h1m4 0h1m6 0h1m25 0h2m9 0h1M64 129.5m25 0h1m7 0h1m9 0h1m6 0h1m8 0h1m5 0h1m4 0h1m6 0h1m6 0h1m11 0h1m15 0h1m6 0h1m2 0h2M64 130.5m8 0h1m11 0h1m1 0h1m9 0h1m41 0h2m13 0h1m3 0h1m4 0h2m8 0h1m5 0h1m3 0h2m2 0h1m2 0h2m19 0h1m2 0h2m3 0h2m6 0h1M64 131.5m2 0h6m29 0h1m16 0h2m12 0h2m1 0h1m7 0h3m7 0h1m4 0h1m18 0h1m7 0h1m8 0h1m27 0h2M64 132.5m22 0h3m23 0h4m3 0h1m8 0h1m7 0h2m15 0h1m21 0h1m1 0h1m4 0h1m14 0h1m14 0h1m1 0h1m5 0h1M64 133.5m13 0h1m5 0h1m2 0h1m4 0h2m7 0h1m3 0h1m3 0h1m6 0h1m8 0h1m1 0h1m5 0h1m10 0h2m15 0h1m2 0h1m4 0h3m3 0h3m3 0h2m9 0h1m1 0h2m3 0h1m16 0h1m10 0h1M64 134.5m9 0h1m11 0h2m34 0h2m13 0h1m6 0h2m15 0h1m1 0h1m4 0h1m2 0h1m2 0h1m9 0h3m10 0h1m1 0h1m10 0h1m4 0h1m4 0h2M64 135.5m0 0h1m2 0h1m1 0h1m9 0h2m35 0h1m14 0h2m7 0h1m10 0h1m3 0h1m1 0h1m15 0h1m4 0h1m5 0h1m5 0h2m5 0h2m9 0h1m11 0h1m3 0h1M64 136.5m13 0h1m12 0h2m14 0h3m20 0h1m5 0h1m7 0h1m1 0h1m1 0h1m14 0h1m3 0h1m1 0h1m12 0h1m2 0h2m6 0h3m13 0h1m4 0h1m2 0h1m6 0h1M64 137.5m7 0h1m5 0h1m6 0h1m18 0h2m7 0h1m8 0h1m37 0h1m4 0h3m5 0h1m5 0h1m4 0h1m33 0h1m1 0h1m3 0h1M64 138.5m51 0h1m43 0h1m2 0h2m7 0h2m5 0h1m6 0h1m7 0h1m1 0h3m4 0h2m14 0h4m1 0h1M64 139.5m8 0h1m5 0h1m3 0h1m17 0h1m3 0h1m1 0h1m4 0h1m2 0h2m4 0h2m15 0h1m2 0h1m2 0h1m2 0h1m11 0h2m2 0h1m4 0h2m2 0h1m10 0h1m4 0h1m7 0h1m2 0h1m14 0h3M64 140.5m93 0h1m2 0h1m2 0h1m20 0h1m9 0h1m2 0h6m14 0h1M64 141.5m32 0h1m30 0h1m30 0h3m6 0h1m5 0h1m4 0h2m1 0h2m6 0h2m13 0h2m5 0h1m5 0h1M64 142.5m52 0h1m27 0h2m13 0h2m15 0h1m2 0h1m10 0h1m2 0h2m21 0h1m2 0h1M64 143.5m7 0h1m4 0h1m6 0h2m8 0h2m5 0h1m7 0h2m5 0h1m10 0h1m2 0h1m1 0h3m5 0h1m2 0h1m4 0h4m1 0h5m20 0h2m13 0h1m2 0h1m4 0h1m11 0h2M64 144.5m13 0h1m5 0h1m2 0h1m10 0h1m7 0h1m16 0h1m1 0h1m4 0h1m2 0h1m1 0h1m1 0h4m5 0h1m6 0h1m2 0h1m1 0h1m5 0h1m8 0h1m2 0h2m4 0h2m1 0h5m2 0h1m19 0h1m13 0h2M64 145.5m18 0h1m27 0h1m17 0h1m16 0h1m15 0h1m2 0h1m2 0h1m2 0h1m16 0h2m11 0h1m16 0h3M64 146.5m17 0h1m75 0h1m8 0h2m11 0h2m1 0h1m11 0h1m2 0h3m3 0h1m21 0h1M64 147.5m8 0h2m3 0h1m10 0h1m4 0h2m12 0h2m1 0h2m6 0h1m2 0h1m5 0h1m19 0h2m4 0h1m8 0h1m1 0h1m3 0h2m6 0h1m5 0h1m4 0h2m2 0h1m21 0h1M64 148.5m26 0h1m8 0h2m45 0h1m11 0h1m1 0h1m5 0h1m16 0h2m3 0h1m3 0h2m2 0h1m3 0h1m3 0h2m14 0h1m1 0h1M64 149.5m50 0h1m10 0h2m30 0h1m2 0h1m21 0h1m7 0h1m4 0h1m17 0h2m8 0h2M64 150.5m17 0h1m31 0h1m1 0h3m7 0h1m3 0h1m1 0h1m7 0h3m1 0h1m7 0h3m10 0h1m19 0h1m5 0h2m6 0h1m1 0h1m9 0h1M64 151.5m16 0h1m42 0h2m5 0h1m23 0h1m32 0h1m3 0h1m2 0h1m10 0h1m3 0h1m13 0h1M64 152.5m0 0h3m87 0h2m2 0h1m18 0h1m6 0h1m1 0h1m3 0h1m27 0h1M64 153.5m7 0h1m18 0h1m21 0h1m13 0h1m11 0h1m4 0h1m14 0h2m2 0h1m13 0h2m2 0h1m2 0h1m10 0h2m5 0h1m10 0h1m3 0h3m4 0h1m1 0h1M64 154.5m9 0h1m43 0h5m1 0h1m3 0h1m6 0h1m7 0h1m17 0h1m6 0h1m6 0h2m6 0h2m5 0h3m22 0h1m1 0h1m6 0h2M64 155.5m7 0h1m17 0h1m3 0h1m4 0h2m13 0h2m9 0h2m26 0h2m3 0h3m1 0h1m2 0h1m2 0h2m6 0h2m5 0h1m3 0h2m4 0h1m6 0h1m13 0h2m3 0h1m1 0h1m2 0h1M64 156.5m4 0h2m1 0h1m5 0h1m2 0h2m7 0h2m4 0h1m9 0h2m1 0h1m15 0h2m1 0h1m1 0h2m2 0h1m3 0h1m5 0h2m2 0h1m3 0h1m20 0h1m3 0h3m9 0h1m1 0h1m9 0h1M64 157.5m10 0h1m4 0h1m20 0h3m8 0h1m12 0h1m18 0h2m27 0h1m11 0h1m2 0h1m1 0h2m11 0h1m9 0h1M64 158.5m58 0h1m37 0h1m9 0h2m18 0h1m2 0h1m1 0h1m22 0h2m4 0h1M64 159.5m9 0h1m42 0h1m6 0h2m32 0h1m38 0h2m2 0h1m4 0h1m13 0h1m3 0h1M64 160.5m22 0h1m2 0h1m3 0h2m4 0h1m1 0h1m2 0h1m5 0h1m2 0h1m15 0h2m28 0h1m6 0h1m2 0h1m13 0h2m10 0h1m21 0h1m8 0h1M64 161.5m0 0h1m2 0h1m4 0h1m12 0h1m6 0h1m5 0h1m6 0h2m8 0h3m1 0h1m8 0h3m5 0h2m6 0h1m23 0h1m1 0h4m4 0h1m7 0h1m1 0h4m2 0h1m17 0h6M64 162.5m3 0h1m3 0h1m11 0h1m4 0h1m8 0h1m4 0h2m9 0h1m2 0h1m4 0h1m1 0h1m32 0h1m1 0h2m10 0h1m1 0h1m5 0h1m5 0h3m2 0h1m2 0h1m17 0h1m7 0h2m6 0h1M64 163.5m0 0h1m18 0h1m3 0h1m2 0h1m13 0h1m3 0h1m3 0h1m3 0h2m2 0h1m2 0h1m34 0h1m4 0h2m2 0h1m4 0h1m3 0h1m4 0h1m4 0h1m2 0h2m6 0h1m3 0h2m1 0h1m7 0h1m2 0h2m7 0h3M64 164.5m1 0h2m11 0h1m7 0h1m5 0h1m3 0h1m4 0h2m4 0h2m14 0h1m33 0h1m21 0h1m2 0h1m1 0h2m2 0h2m5 0h1m3 0h2m7 0h1m4 0h2m4 0h1M64 165.5m0 0h1m2 0h2m6 0h1m2 0h2m1 0h1m5 0h1m4 0h2m4 0h1m14 0h3m41 0h1m5 0h2m4 0h1m7 0h1m17 0h2m12 0h1m8 0h1m4 0h1M64 166.5m0 0h1m2 0h1m1 0h2m3 0h1m8 0h1m1 0h2m7 0h1m3 0h2m2 0h1m4 0h1m49 0h1m6 0h1m11 0h1m4 0h1m5 0h1m2 0h3m2 0h1m17 0h3m4 0h1m1 0h1M64 167.5m0 0h1m4 0h1m3 0h2m6 0h1m7 0h1m2 0h5m4 0h2m6 0h1m1 0h1m45 0h2m3 0h1m3 0h3m3 0h1m4 0h1m1 0h1m2 0h1m1 0h1m4 0h2m3 0h1m8 0h1m1 0h1m7 0h3m1 0h1M64 168.5m2 0h1m2 0h1m2 0h1m6 0h1m5 0h1m2 0h1m3 0h3m2 0h1m6 0h2m7 0h1m1 0h4m1 0h1m1 0h1m1 0h1m32 0h1m4 0h1m6 0h2m1 0h1m10 0h1m5 0h2m7 0h2m3 0h1m12 0h1m8 0h1M64 169.5m6 0h1m4 0h1m3 0h1m1 0h1m4 0h2m1 0h1m4 0h2m16 0h1m11 0h1m32 0h2m11 0h2m5 0h1m4 0h1m3 0h1m1 0h1m8 0h2m5 0h1m14 0h2m4 0h1M64 170.5m37 0h1m58 0h1m11 0h1m17 0h3m1 0h4m2 0h2M64 171.5m2 0h2m10 0h1m13 0h2m6 0h1m5 0h3m50 0h1m2 0h1m1 0h1m4 0h1m3 0h1m1 0h2m12 0h1m1 0h2m2 0h1m1 0h1m4 0h1m4 0h1m1 0h1m5 0h1m2 0h1m5 0h1m1 0h1M64 172.5m2 0h1m23 0h1m2 0h1m10 0h1m4 0h3m2 0h1m7 0h1m37 0h1m3 0h2m3 0h1m23 0h1m4 0h1m3 0h2m3 0h1m1 0h1m3 0h1M64 173.5m4 0h1m3 0h1m1 0h1m2 0h1m19 0h1m1 0h1m1 0h1m17 0h1m1 0h1m40 0h3m6 0h1m3 0h1m3 0h1m1 0h4m5 0h2m6 0h1m5 0h2m7 0h1m5 0h1M64 174.5m1 0h1m2 0h2m6 0h1m2 0h1m10 0h1m2 0h1m4 0h2m2 0h2m9 0h1m2 0h1m3 0h2m44 0h1m11 0h1m1 0h2m5 0h3m2 0h1m1 0h2m2 0h2m5 0h3m11 0h1m5 0h1M64 175.5m6 0h2m4 0h1m2 0h2m6 0h2m2 0h1m3 0h2m1 0h2m1 0h1m15 0h1m2 0h1m37 0h1m6 0h1m1 0h1m6 0h1m2 0h2m6 0h1m9 0h1m1 0h1m8 0h1m4 0h3M64 176.5m11 0h1m1 0h2m6 0h1m1 0h1m4 0h2m10 0h1m3 0h1m5 0h1m7 0h1m41 0h2m4 0h2m5 0h1m2 0h1m21 0h1M64 177.5m6 0h3m1 0h1m4 0h1m2 0h2m4 0h1m2 0h1m4 0h2m4 0h2m1 0h2m6 0h2m9 0h1m37 0h1m1 0h1m6 0h1m3 0h1m4 0h1m4 0h1m3 0h1m4 0h6m1 0h1m4 0h3m4 0h1m1 0h1m3 0h2M64 178.5m0 0h2m1 0h1m1 0h4m9 0h1m7 0h2m3 0h1m12 0h2m9 0h1m59 0h1m1 0h1m15 0h1m3 0h1m4 0h1m7 0h1m9 0h3M64 179.5m1 0h1m3 0h1m3 0h2m12 0h1m1 0h1m3 0h1m3 0h2m1 0h1m7 0h1m5 0h2m8 0h1m34 0h1m6 0h1m22 0h1m1 0h2m2 0h1m2 0h1m2 0h1m10 0h3m2 0h1m3 0h1m3 0h1M64 180.5m13 0h1m3 0h1m2 0h1m11 0h2m2 0h1m11 0h1m5 0h1m1 0h2m38 0h1m3 0h1m3 0h1m2 0h1m2 0h1m16 0h1m2 0h1m4 0h1m2 0h3m13 0h1M64 181.5m0 0h2m3 0h1m9 0h1m1 0h2m3 0h2m7 0h2m2 0h2m16 0h1m2 0h1m1 0h3m32 0h1m2 0h1m10 0h1m7 0h1m11 0h1m3 0h1m3 0h1m12 0h1m9 0h1m3 0h1M64 182.5m2 0h2m6 0h1m5 0h1m3 0h1m1 0h2m5 0h1m78 0h1m3 0h1m8 0h1m10 0h3m14 0h1m1 0h1m6 0h1M64 183.5m0 0h4m2 0h2m6 0h1m3 0h1m8 0h1m5 0h1m2 0h2m3 0h1m3 0h1m4 0h1m5 0h1m39 0h1m9 0h1m7 0h1m4 0h1m4 0h2m2 0h2m2 0h1m3 0h2m6 0h2m4 0h1m2 0h2M64 184.5m4 0h2m2 0h1m3 0h1m2 0h4m17 0h1m16 0h2m41 0h1m4 0h1m14 0h1m1 0h1m8 0h1m2 0h1m3 0h1m3 0h1m12 0h1m10 0h1M64 185.5m0 0h1m1 0h1m2 0h1m2 0h2m12 0h1m1 0h1m12 0h2m12 0h1m51 0h2m6 0h1m9 0h1m26 0h1m2 0h3m1 0h2M64 186.5m3 0h1m7 0h1m2 0h1m3 0h1m4 0h1m8 0h1m1 0h3m2 0h1m17 0h1m2 0h1m35 0h2m1 0h1m30 0h1m4 0h1m1 0h1m5 0h4m4 0h1m3 0h1M64 187.5m1 0h4m5 0h2m11 0h1m8 0h1m15 0h1m45 0h1m15 0h3m3 0h1m1 0h1m2 0h1m3 0h1m28 0h1m1 0h2M64 188.5m15 0h2m8 0h1m7 0h2m3 0h1m5 0h1m3 0h1m1 0h1m3 0h1m4 0h1m39 0h1m1 0h1m2 0h1m3 0h1m6 0h1m4 0h2m1 0h1m1 0h2m7 0h1m9 0h1m6 0h1m5 0h1m1 0h2m1 0h1M64 189.5m10 0h1m5 0h1m22 0h1m16 0h1m1 0h1m41 0h1m10 0h1m17 0h1m4 0h1m4 0h2m4 0h1m1 0h1m5 0h2m5 0h1M64 190.5m15 0h1m3 0h2m3 0h2m2 0h2m1 0h1m3 0h3m9 0h1m3 0h1m4 0h1m3 0h1m33 0h1m3 0h2m1 0h2m1 0h1m6 0h1m3 0h2m7 0h1m2 0h1m3 0h1m1 0h2m5 0h2m1 0h3m16 0h1M64 191.5m12 0h2m5 0h1m17 0h1m7 0h4m2 0h1m1 0h4m45 0h2m3 0h1m3 0h1m2 0h1m6 0h1m4 0h1m1 0h1m1 0h1m4 0h1m1 0h1m16 0h1m7 0h1M64 192.5m5 0h1m4 0h1m4 0h1m1 0h1m7 0h2m7 0h1m4 0h2m4 0h2m6 0h3m3 0h1m36 0h2m8 0h1m10 0h4m3 0h1m10 0h1m1 0h1m1 0h1m1 0h1m4 0h1m8 0h1M64 193.5m6 0h2m1 0h1m1 0h1m13 0h1m21 0h1m5 0h1m53 0h1m10 0h1m2 0h1m3 0h1m1 0h2m7 0h2m1 0h1M64 194.5m4 0h2m10 0h1m1 0h1m5 0h1m5 0h1m9 0h1m3 0h1m1 0h1m4 0h1m22 0h1m19 0h1m7 0h1m9 0h1m10 0h1m4 0h1m3 0h3m13 0h1m2 0h1m6 0h2M64 195.5m9 0h2m2 0h3m13 0h1m1 0h1m2 0h3m16 0h1m48 0h3m8 0h1m3 0h1m13 0h1m15 0h1m7 0h1m1 0h1M64 196.5m1 0h2m13 0h3m10 0h2m11 0h1m3 0h3m1 0h1m8 0h2m47 0h1m4 0h2m22 0h1m1 0h2m8 0h1M64 197.5m2 0h1m2 0h3m9 0h1m22 0h1m3 0h1m4 0h1m2 0h1m5 0h1m36 0h2m1 0h3m3 0h2m2 0h1m1 0h3m2 0h2m3 0h2m2 0h4m15 0h1m16 0h1M64 198.5m4 0h1m3 0h3m26 0h2m59 0h1m2 0h3m5 0h1m4 0h1m20 0h2m1 0h2m9 0h1m10 0h2M64 199.5m1 0h1m2 0h1m5 0h1m2 0h1m3 0h2m14 0h1m8 0h1m1 0h5m44 0h1m3 0h1m4 0h2m1 0h2m4 0h2m6 0h2m4 0h2m2 0h1m4 0h1m5 0h3m3 0h2m1 0h1m10 0h3M64 200.5m2 0h1m2 0h2m17 0h2m3 0h1m1 0h1m4 0h2m16 0h1m1 0h1m1 0h1m40 0h1m10 0h1m1 0h1m5 0h2m35 0h1M64 201.5m1 0h1m2 0h1m7 0h1m5 0h1m7 0h1m7 0h2m1 0h1m6 0h1m1 0h1m8 0h1m2 0h1m34 0h2m17 0h1m23 0h1m12 0h1m3 0h3m2 0h1M64 202.5m7 0h2m2 0h1m18 0h1m3 0h1m2 0h1m3 0h1m3 0h1m3 0h2m56 0h4m2 0h2m4 0h1m5 0h1m3 0h2m1 0h3m1 0h2m18 0h2m2 0h1M64 203.5m1 0h1m8 0h1m1 0h1m7 0h4m11 0h3m3 0h1m8 0h1m9 0h1m44 0h2m14 0h1m22 0h2m10 0h1m1 0h1M64 204.5m1 0h1m1 0h1m10 0h2m2 0h3m10 0h1m12 0h3m11 0h1m1 0h1m32 0h1m1 0h1m2 0h1m1 0h1m12 0h1m3 0h2m1 0h1m16 0h3m3 0h1m3 0h1m2 0h1m8 0h1M64 205.5m3 0h2m13 0h1m9 0h1m2 0h2m2 0h1m5 0h1m4 0h5m3 0h3m3 0h1m35 0h1m6 0h1m6 0h1m17 0h1m2 0h1m2 0h1m1 0h2m1 0h3m4 0h4m9 0h1M64 206.5m2 0h1m23 0h1m3 0h2m6 0h3m15 0h1m41 0h2m3 0h1m2 0h1m5 0h3m6 0h1m1 0h1m11 0h1m4 0h2m1 0h2m2 0h1m1 0h1m3 0h2m1 0h1m3 0h1M64 207.5m6 0h3m2 0h1m23 0h1m6 0h2m15 0h1m41 0h2m1 0h1m1 0h2m5 0h1m6 0h1m4 0h3m4 0h2m4 0h1m4 0h1M64 208.5m2 0h3m3 0h1m10 0h3m1 0h1m13 0h1m2 0h1m59 0h2m13 0h1m7 0h1m5 0h1m11 0h1m5 0h1m1 0h1M64 209.5m15 0h1m7 0h1m2 0h1m14 0h2m7 0h3m4 0h1m35 0h3m9 0h1m5 0h1m4 0h3m21 0h1m13 0h1m6 0h1M64 210.5m3 0h1m1 0h4m2 0h2m1 0h2m20 0h2m3 0h2m2 0h1m1 0h1m1 0h1m1 0h1m2 0h1m3 0h1m59 0h2m8 0h1m3 0h1m6 0h1m10 0h2m2 0h1m5 0h1M64 211.5m2 0h2m32 0h2m7 0h1m1 0h1m3 0h1m45 0h3m1 0h1m18 0h1m30 0h2M64 212.5m0 0h2m40 0h1m7 0h5m38 0h1m5 0h2m1 0h2m8 0h2m2 0h1m6 0h1m5 0h1m3 0h2m13 0h1m4 0h1m5 0h1M64 213.5m1 0h1m4 0h5m2 0h1m1 0h1m1 0h1m1 0h1m5 0h2m3 0h2m9 0h1m4 0h1m5 0h2m6 0h1m38 0h1m29 0h1m8 0h1m14 0h1m3 0h1m4 0h1M64 214.5m5 0h1m2 0h2m32 0h1m1 0h1m15 0h1m41 0h1m2 0h1m5 0h1m2 0h1m1 0h2m3 0h2m4 0h2m1 0h1m1 0h2m1 0h2m7 0h1m7 0h1m2 0h1m1 0h2M64 215.5m1 0h1m2 0h1m1 0h2m4 0h2m5 0h2m1 0h2m3 0h1m1 0h3m3 0h1m5 0h2m13 0h1m3 0h1m35 0h1m11 0h1m2 0h3m1 0h1m1 0h1m6 0h2m4 0h4m3 0h1m11 0h1M64 216.5m0 0h3m15 0h1m7 0h1m2 0h2m2 0h1m1 0h1m7 0h1m12 0h1m2 0h1m62 0h1m5 0h1m14 0h1m6 0h1m8 0h1m1 0h1M64 217.5m2 0h1m1 0h2m13 0h1m5 0h1m6 0h1m5 0h2m4 0h1m2 0h1m1 0h1m7 0h1m54 0h2m1 0h2m6 0h1m11 0h1m1 0h1m5 0h2m5 0h1m3 0h2m3 0h2m1 0h1M64 218.5m11 0h1m3 0h1m4 0h1m3 0h1m2 0h1m13 0h1m6 0h1m1 0h1m7 0h2m34 0h1m2 0h1m12 0h1m7 0h1m2 0h2m2 0h1m4 0h1m8 0h1m6 0h2m3 0h1m1 0h2m7 0h1M64 219.5m0 0h1m3 0h4m16 0h2m2 0h1m2 0h1m1 0h2m2 0h1m13 0h4m48 0h1m5 0h1m15 0h1m1 0h1m26 0h3m1 0h1M64 220.5m3 0h1m5 0h1m9 0h2m4 0h1m3 0h1m5 0h1m1 0h3m1 0h1m14 0h3m1 0h1m34 0h2m6 0h1m4 0h1m1 0h1m1 0h1m12 0h1m1 0h3m19 0h2m1 0h1m4 0h1M64 221.5m1 0h1m11 0h3m8 0h3m3 0h1m6 0h1m3 0h1m3 0h1m1 0h2m4 0h2m47 0h2m8 0h1m15 0h1m3 0h1m1 0h1m10 0h1m2 0h1m1 0h1m3 0h1m3 0h1m3 0h1M64 222.5m2 0h1m3 0h1m4 0h1m2 0h1m2 0h1m4 0h1m2 0h1m14 0h1m1 0h2m7 0h1m4 0h1m38 0h1m2 0h1m3 0h2m1 0h1m4 0h2m9 0h1m2 0h1m8 0h1m2 0h1m15 0h1m5 0h1M64 223.5m7 0h1m2 0h3m4 0h1m3 0h1m9 0h2m15 0h1m47 0h1m1 0h1m4 0h3m10 0h1m1 0h1m12 0h1m8 0h1M64 224.5m1 0h1m2 0h1m1 0h1m5 0h1m2 0h1m1 0h1m3 0h1m2 0h1m2 0h2m3 0h1m9 0h2m11 0h1m46 0h1m2 0h1m5 0h1m11 0h1m4 0h1m4 0h1m10 0h1m3 0h1m1 0h1m1 0h1m4 0h1m2 0h1M64 225.5m0 0h2m5 0h2m3 0h1m2 0h1m1 0h1m1 0h2m3 0h5m7 0h3m6 0h1m1 0h1m4 0h2m1 0h1m42 0h2m7 0h1m2 0h2m1 0h1m3 0h1m7 0h2m22 0h1m3 0h1m3 0h1M64 226.5m0 0h1m3 0h1m5 0h2m4 0h1m6 0h1m1 0h1m8 0h1m3 0h1m58 0h2m5 0h1m5 0h1m2 0h2m25 0h2m5 0h1m2 0h1m7 0h1m3 0h1M64 227.5m5 0h1m2 0h1m3 0h2m12 0h1m1 0h4m9 0h5m13 0h1m40 0h3m3 0h2m6 0h3m5 0h1m10 0h1m15 0h1m3 0h1" stroke="#cf6a06" stroke-width="1" fill="none"/>
<path d="M64 65.5m14 0h1m63 0h1m14 0h3m17 0h6m2 0h3m7 0h14m1 0h5m6 0h6M64 66.5m43 0h2m15 0h1m38 0h1m20 0h2m2 0h5m4 0h19m2 0h5M64 67.5m9 0h1m40 0h1m19 0h1m9 0h1m5 0h2m13 0h1m10 0h2m4 0h4m8 0h33M64 68.5m0 0h2m9 0h1m6 0h1m10 0h1m16 0h2m7 0h3m29 0h3m5 0h3m10 0h2m6 0h6m1 0h40M64 69.5m24 0h2m6 0h2m2 0h3m2 0h4m2 0h5m3 0h3m3 0h1m6 0h3m8 0h3m6 0h4m1 0h4m1 0h2m1 0h2m5 0h3m3 0h7m5 0h36M64 70.5m0 0h1m25 0h1m16 0h3m2 0h7m13 0h1m5 0h3m17 0h3m2 0h1m1 0h1m16 0h4m3 0h17m2 0h2m3 0h8m2 0h3M64 71.5m57 0h4m37 0h2m17 0h1m5 0h12m2 0h12m2 0h2m3 0h4M64 72.5m48 0h2m12 0h1m6 0h1m60 0h7m5 0h5m4 0h7m1 0h3M64 73.5m6 0h1m8 0h8m6 0h2m5 0h1m5 0h7m9 0h2m8 0h1m9 0h3m1 0h1m11 0h6m11 0h3m3 0h23m1 0h19m2 0h1M64 74.5m0 0h1m2 0h1m2 0h2m15 0h11m6 0h12m6 0h3m4 0h3m6 0h1m2 0h8m7 0h4m2 0h2m10 0h6m2 0h5m2 0h38M64 75.5m1 0h2m10 0h1m9 0h2m5 0h1m11 0h2m4 0h1m2 0h1m5 0h3m33 0h4m3 0h5m7 0h1m1 0h12m3 0h3m1 0h6m2 0h2m2 0h4m4 0h10M64 76.5m31 0h3m45 0h1m5 0h1m2 0h2m3 0h4m16 0h4m11 0h3m3 0h2m2 0h9m1 0h3m2 0h4M64 77.5m47 0h1m8 0h1m2 0h1m33 0h1m24 0h6m3 0h11m2 0h11m2 0h3m2 0h1m1 0h3M64 78.5m17 0h3m4 0h4m9 0h1m4 0h3m2 0h2m4 0h1m4 0h3m2 0h1m2 0h3m7 0h6m11 0h7m13 0h1m3 0h3m3 0h40M64 79.5m7 0h3m8 0h2m16 0h1m2 0h1m16 0h2m1 0h5m16 0h1m12 0h3m14 0h2m3 0h5m2 0h28m2 0h3m4 0h1m1 0h2M64 80.5m48 0h2m9 0h2m48 0h2m7 0h1m11 0h20m6 0h2m4 0h1M64 81.5m36 0h3m5 0h1m4 0h2m6 0h1m35 0h9m12 0h1m3 0h8m1 0h25m5 0h6M64 82.5m93 0h2m1 0h2m17 0h3m5 0h4m2 0h7m1 0h3m1 0h7m7 0h5M64 83.5m47 0h1m14 0h2m11 0h5m6 0h1m32 0h2m3 0h10m2 0h12m2 0h8m1 0h3M64 84.5m49 0h3m21 0h2m2 0h2m6 0h1m7 0h4m2 0h1m2 0h2m13 0h3m7 0h23m3 0h2m2 0h6M64 85.5m22 0h1m10 0h2m24 0h2m2 0h1m8 0h1m20 0h2m1 0h2m4 0h2m15 0h3m2 0h12m2 0h11m3 0h2m3 0h3m2 0h1M64 86.5m6 0h1m11 0h1m9 0h1m3 0h2m16 0h1m18 0h5m7 0h3m3 0h1m5 0h3m15 0h3m3 0h5m3 0h5m2 0h21m1 0h8M64 87.5m23 0h1m5 0h1m20 0h1m7 0h1m11 0h4m7 0h1m14 0h1m6 0h2m2 0h1m1 0h4m9 0h13m6 0h2m2 0h12m3 0h2M64 88.5m46 0h5m3 0h7m51 0h2m4 0h1m4 0h3m1 0h6m2 0h12m4 0h7m1 0h4M64 89.5m10 0h3m8 0h2m24 0h2m5 0h2m3 0h4m28 0h3m2 0h2m16 0h5m1 0h3m2 0h24m2 0h12M64 90.5m19 0h1m9 0h1m18 0h3m6 0h2m14 0h3m8 0h1m2 0h3m3 0h5m1 0h1m2 0h2m6 0h6m1 0h3m1 0h33m3 0h6M64 91.5m31 0h1m64 0h3m16 0h4m4 0h4m2 0h3m11 0h2m2 0h3m6 0h4M64 92.5m31 0h5m56 0h9m9 0h2m15 0h2m3 0h2m3 0h9m1 0h15M64 93.5m31 0h2m26 0h1m4 0h1m44 0h2m11 0h5m1 0h2m1 0h3m5 0h1m1 0h12m3 0h6M64 94.5m33 0h2m19 0h2m24 0h3m10 0h2m1 0h3m18 0h4m7 0h2m1 0h4m2 0h10m3 0h2m6 0h1m2 0h2M64 95.5m49 0h2m44 0h3m1 0h1m18 0h4m2 0h2m10 0h3m2 0h6m12 0h3M64 96.5m48 0h1m41 0h2m1 0h7m15 0h3m2 0h7m3 0h17m1 0h1m3 0h11M64 97.5m0 0h1m50 0h2m4 0h2m8 0h2m24 0h2m1 0h3m13 0h1m6 0h2m4 0h3m1 0h5m1 0h27M64 98.5m32 0h1m12 0h3m8 0h2m2 0h1m12 0h4m2 0h2m3 0h2m7 0h3m2 0h1m25 0h5m2 0h4m1 0h11m3 0h8m2 0h3M64 99.5m86 0h1m6 0h4m21 0h1m1 0h1m2 0h2m2 0h4m3 0h17m5 0h3m2 0h2M64 100.5m7 0h2m33 0h2m15 0h2m26 0h2m11 0h2m1 0h2m13 0h3m7 0h3m2 0h10m2 0h4m2 0h8M64 101.5m104 0h1m6 0h2m5 0h2m3 0h4m6 0h7m3 0h3m3 0h2m1 0h2m4 0h3M64 102.5m30 0h1m71 0h1m14 0h3m3 0h7m6 0h4m2 0h3m5 0h2m5 0h5M64 103.5m6 0h2m19 0h3m54 0h4m5 0h3m3 0h1m1 0h1m4 0h2m4 0h7m2 0h4m3 0h3m2 0h1m2 0h13m4 0h6M64 104.5m49 0h2m43 0h2m3 0h1m13 0h1m5 0h1m12 0h5m1 0h1m3 0h16m1 0h4M64 105.5m2 0h1m2 0h1m4 0h1m31 0h3m9 0h4m18 0h4m7 0h2m6 0h3m14 0h3m3 0h3m1 0h3m3 0h3m4 0h14m2 0h12M64 106.5m9 0h2m7 0h1m11 0h1m8 0h2m8 0h2m5 0h1m3 0h8m11 0h1m3 0h2m8 0h6m3 0h2m6 0h12m1 0h3m2 0h12m1 0h9m4 0h9M64 107.5m99 0h1m11 0h4m12 0h1m1 0h5m7 0h9m4 0h7M64 108.5m20 0h1m39 0h3m4 0h2m25 0h3m18 0h1m2 0h41m2 0h2M64 109.5m96 0h1m16 0h8m1 0h1m2 0h10m2 0h2m5 0h4m9 0h5M64 110.5m26 0h3m18 0h4m34 0h2m7 0h6m12 0h1m7 0h4m2 0h2m3 0h11m3 0h16M64 111.5m28 0h2m44 0h3m15 0h7m12 0h40m4 0h8M64 112.5m123 0h7m16 0h3M64 113.5m49 0h3m13 0h1m13 0h1m16 0h2m17 0h14m1 0h10m2 0h12m3 0h6M64 114.5m35 0h2m37 0h1m14 0h1m5 0h3m14 0h5m1 0h6m2 0h24m1 0h5m1 0h5M64 115.5m5 0h1m12 0h2m11 0h2m2 0h3m18 0h2m19 0h2m13 0h4m2 0h1m3 0h1m9 0h1m3 0h33m2 0h12M64 116.5m85 0h1m39 0h7m4 0h7m3 0h2m5 0h7m1 0h2M64 117.5m1 0h3m13 0h1m3 0h1m15 0h5m8 0h2m8 0h4m2 0h2m9 0h3m12 0h3m1 0h1m5 0h2m11 0h7m3 0h5m1 0h24m1 0h7M64 118.5m97 0h3m12 0h10m2 0h3m1 0h5m1 0h5m2 0h15m1 0h6M64 119.5m2 0h1m56 0h1m19 0h2m13 0h6m14 0h1m6 0h3m2 0h3m3 0h4m2 0h11m2 0h2m2 0h8M64 120.5m132 0h6m2 0h7m8 0h5M64 121.5m1 0h1m5 0h1m2 0h5m3 0h3m4 0h8m3 0h2m9 0h3m5 0h3m15 0h2m5 0h1m2 0h5m5 0h5m2 0h4m12 0h3m2 0h2m2 0h29m2 0h7M64 122.5m0 0h1m41 0h3m2 0h2m7 0h2m1 0h2m10 0h2m6 0h2m12 0h7m10 0h2m2 0h7m5 0h9m1 0h18m3 0h6M64 123.5m0 0h1m9 0h1m6 0h3m5 0h4m2 0h3m5 0h2m1 0h4m10 0h8m5 0h7m6 0h1m10 0h9m2 0h5m2 0h3m2 0h47M64 124.5m14 0h2m9 0h3m1 0h3m9 0h2m9 0h2m2 0h3m22 0h4m8 0h5m1 0h2m4 0h1m10 0h3m2 0h9m1 0h28m2 0h2M64 125.5m27 0h2m2 0h1m8 0h4m3 0h2m24 0h1m6 0h2m11 0h10m2 0h2m3 0h1m4 0h6m1 0h4m1 0h24m5 0h5M64 126.5m31 0h2m3 0h1m9 0h3m31 0h2m2 0h1m8 0h3m2 0h3m2 0h2m5 0h8m4 0h30m2 0h7M64 127.5m49 0h2m8 0h3m14 0h1m44 0h1m3 0h11m2 0h11m1 0h1m2 0h3m6 0h1M64 128.5m19 0h2m6 0h2m21 0h1m8 0h3m32 0h6m18 0h2m5 0h25m5 0h6M64 129.5m22 0h3m9 0h2m8 0h3m4 0h1m8 0h2m9 0h5m2 0h2m10 0h2m1 0h3m1 0h4m7 0h4m1 0h6m5 0h39M64 130.5m21 0h1m72 0h4m17 0h3m2 0h2m1 0h2m2 0h19m10 0h4M64 131.5m32 0h1m32 0h1m4 0h1m24 0h2m17 0h7m1 0h5m4 0h27m2 0h3M64 132.5m43 0h3m16 0h2m19 0h2m8 0h7m2 0h5m5 0h1m2 0h3m5 0h10m1 0h14m9 0h6M64 133.5m18 0h1m10 0h2m4 0h1m16 0h1m8 0h1m11 0h2m18 0h3m17 0h3m2 0h8m2 0h1m2 0h3m1 0h15m2 0h10M64 134.5m59 0h2m12 0h1m20 0h2m1 0h1m6 0h2m7 0h6m5 0h8m3 0h10m1 0h4m1 0h4m4 0h4M64 135.5m48 0h1m8 0h2m10 0h4m8 0h2m25 0h1m3 0h2m7 0h5m5 0h2m2 0h9m7 0h5m5 0h2M64 136.5m41 0h1m6 0h2m16 0h5m5 0h3m1 0h1m18 0h3m16 0h2m5 0h3m3 0h13m1 0h4m6 0h4m1 0h3M64 137.5m27 0h2m23 0h4m8 0h2m33 0h1m3 0h5m12 0h30m6 0h3m1 0h3M64 138.5m64 0h1m31 0h2m17 0h6m1 0h7m5 0h4m2 0h14m4 0h1m2 0h2M64 139.5m15 0h1m3 0h1m2 0h5m2 0h5m7 0h1m18 0h2m12 0h2m4 0h2m11 0h1m2 0h2m1 0h1m19 0h4m1 0h6m2 0h2m1 0h14m3 0h11M64 140.5m95 0h1m31 0h2m2 0h2m7 0h8m6 0h9M64 141.5m19 0h2m24 0h2m50 0h2m11 0h3m10 0h2m2 0h13m2 0h5m3 0h2m2 0h9M64 142.5m14 0h2m111 0h2m4 0h19m4 0h7M64 143.5m15 0h1m9 0h4m4 0h3m10 0h1m40 0h1m5 0h11m6 0h3m2 0h13m4 0h4m1 0h11m2 0h13M64 144.5m26 0h2m14 0h3m12 0h1m11 0h1m19 0h2m3 0h3m12 0h2m4 0h2m8 0h2m5 0h15m1 0h13M64 145.5m19 0h1m23 0h3m49 0h2m1 0h2m12 0h2m3 0h2m7 0h10m1 0h16m5 0h3M64 146.5m18 0h2m74 0h4m19 0h1m6 0h6m6 0h3m1 0h9m2 0h4m2 0h4M64 147.5m10 0h3m1 0h1m37 0h2m4 0h2m4 0h1m11 0h4m8 0h1m2 0h7m1 0h1m1 0h3m2 0h1m6 0h4m5 0h1m2 0h2m2 0h20m1 0h5m2 0h6M64 148.5m17 0h2m8 0h1m53 0h1m11 0h1m3 0h2m24 0h1m9 0h2m2 0h3m2 0h14m1 0h1m1 0h4M64 149.5m46 0h2m12 0h1m33 0h2m31 0h4m1 0h2m2 0h13m4 0h6m2 0h2M64 150.5m12 0h3m3 0h3m25 0h3m10 0h2m1 0h3m1 0h1m11 0h1m16 0h5m21 0h5m2 0h6m3 0h9m1 0h16M64 151.5m54 0h1m3 0h1m8 0h2m25 0h2m22 0h5m8 0h10m1 0h3m1 0h3m2 0h7m2 0h3M64 152.5m79 0h2m14 0h6m20 0h1m5 0h27m3 0h6M64 153.5m27 0h2m20 0h3m6 0h4m13 0h1m4 0h1m12 0h1m2 0h2m16 0h2m13 0h1m2 0h5m1 0h10m2 0h2m10 0h1M64 154.5m41 0h2m15 0h1m34 0h3m32 0h22m3 0h6m2 0h2M64 155.5m36 0h2m58 0h1m2 0h1m6 0h2m16 0h4m1 0h6m1 0h13m2 0h3m3 0h2M64 156.5m6 0h1m14 0h2m9 0h2m4 0h3m4 0h15m2 0h1m4 0h2m5 0h5m2 0h2m5 0h4m1 0h7m15 0h9m3 0h9m1 0h26M64 157.5m51 0h2m25 0h1m10 0h2m6 0h3m6 0h2m13 0h2m4 0h3m3 0h2m4 0h9m2 0h2m2 0h9M64 158.5m4 0h1m54 0h2m36 0h3m23 0h3m1 0h2m3 0h2m3 0h13m11 0h2M64 159.5m5 0h4m128 0h2m3 0h4m14 0h3M64 160.5m17 0h5m11 0h2m1 0h1m4 0h5m4 0h4m33 0h2m7 0h4m3 0h2m9 0h2m13 0h2m1 0h21m3 0h6M64 161.5m1 0h2m10 0h1m2 0h3m3 0h2m11 0h3m1 0h2m2 0h3m8 0h1m38 0h7m10 0h1m4 0h7m6 0h2m2 0h16m6 0h9M64 162.5m0 0h3m9 0h5m3 0h4m5 0h4m1 0h4m2 0h2m8 0h2m3 0h2m3 0h1m32 0h1m10 0h2m3 0h3m3 0h4m4 0h2m4 0h17m4 0h4m4 0h4M64 163.5m24 0h2m1 0h13m5 0h2m2 0h3m2 0h2m1 0h2m36 0h4m2 0h2m6 0h2m2 0h1m4 0h4m5 0h4m3 0h3m4 0h7m8 0h4M64 164.5m8 0h6m13 0h1m5 0h4m10 0h3m2 0h3m5 0h1m49 0h3m3 0h2m14 0h1m6 0h1m3 0h1m2 0h3m7 0h7M64 165.5m1 0h2m2 0h6m5 0h1m7 0h4m2 0h4m1 0h4m7 0h3m3 0h1m3 0h2m2 0h1m45 0h2m4 0h1m20 0h12m1 0h3m6 0h4m1 0h3M64 166.5m1 0h2m1 0h1m6 0h8m12 0h3m2 0h2m6 0h6m6 0h5m33 0h6m9 0h3m17 0h2m1 0h7m1 0h1m5 0h3m3 0h4m3 0h4M64 167.5m12 0h5m1 0h7m8 0h4m2 0h6m3 0h2m2 0h9m34 0h3m13 0h2m1 0h1m4 0h1m11 0h8m3 0h7m5 0h9M64 168.5m0 0h2m4 0h2m5 0h2m3 0h3m1 0h2m7 0h2m3 0h4m2 0h7m8 0h1m1 0h1m34 0h4m1 0h3m5 0h1m10 0h1m21 0h8m5 0h6m3 0h1M64 169.5m10 0h1m1 0h3m3 0h1m7 0h4m2 0h3m4 0h9m1 0h11m38 0h5m8 0h2m2 0h3m1 0h2m2 0h1m11 0h4m2 0h14m2 0h4M64 170.5m0 0h7m2 0h14m2 0h12m1 0h23m32 0h3m2 0h10m3 0h5m1 0h9m3 0h1m10 0h23M64 171.5m4 0h6m9 0h7m4 0h3m4 0h5m3 0h5m1 0h10m32 0h2m4 0h1m6 0h1m3 0h1m2 0h12m7 0h1m6 0h4m3 0h5m4 0h5M64 172.5m0 0h2m28 0h3m18 0h3m5 0h2m74 0h1m5 0h2m5 0h1M64 173.5m0 0h4m1 0h3m3 0h2m1 0h19m3 0h1m1 0h17m3 0h3m32 0h5m3 0h6m5 0h3m9 0h2m2 0h6m1 0h5m2 0h7m1 0h5m1 0h7M64 174.5m2 0h2m2 0h6m4 0h10m1 0h2m1 0h4m2 0h2m2 0h5m2 0h2m4 0h3m37 0h3m3 0h1m10 0h4m1 0h1m10 0h2m1 0h1m2 0h2m2 0h3m8 0h5m4 0h5M64 175.5m13 0h2m5 0h3m2 0h2m6 0h1m2 0h1m15 0h1m4 0h4m41 0h1m15 0h3m11 0h1m5 0h4m1 0h4m3 0h13M64 176.5m3 0h1m8 0h1m2 0h5m2 0h1m1 0h4m2 0h10m3 0h1m3 0h3m1 0h4m4 0h2m32 0h7m2 0h2m10 0h2m7 0h3m4 0h7m2 0h23M64 177.5m0 0h1m8 0h1m11 0h3m1 0h2m1 0h4m2 0h4m2 0h1m6 0h2m2 0h3m2 0h4m33 0h5m4 0h5m5 0h4m6 0h3m2 0h3m6 0h1m2 0h3m3 0h4m3 0h3m2 0h6M64 178.5m2 0h1m6 0h2m17 0h3m10 0h3m2 0h3m7 0h1m38 0h2m16 0h2m1 0h1m15 0h1m2 0h2m6 0h7m7 0h3M64 179.5m0 0h1m5 0h1m19 0h3m6 0h1m23 0h1m33 0h1m12 0h2m6 0h2m10 0h1m5 0h2m4 0h10m3 0h2m2 0h2m5 0h1M64 180.5m18 0h2m9 0h3m17 0h5m51 0h2m9 0h4m8 0h2m6 0h2m4 0h5m6 0h1m3 0h6M64 181.5m4 0h1m7 0h3m1 0h1m2 0h3m2 0h5m11 0h10m1 0h2m1 0h2m38 0h2m12 0h5m3 0h4m2 0h3m3 0h3m1 0h3m1 0h8m7 0h2m3 0h2M64 182.5m6 0h4m11 0h1m2 0h5m3 0h29m32 0h8m5 0h2m5 0h8m3 0h8m3 0h14m3 0h6M64 183.5m16 0h2m10 0h5m13 0h2m3 0h2m4 0h1m49 0h1m4 0h2m3 0h2m1 0h1m9 0h2m14 0h2m9 0h6M64 184.5m2 0h2m2 0h1m2 0h3m10 0h14m5 0h12m2 0h6m32 0h3m6 0h14m3 0h8m1 0h2m1 0h3m2 0h2m1 0h5m2 0h5m2 0h9M64 185.5m1 0h1m4 0h2m2 0h9m6 0h12m2 0h12m1 0h9m32 0h8m4 0h6m1 0h9m1 0h26m6 0h1m2 0h6M64 186.5m9 0h2m4 0h2m2 0h1m7 0h2m4 0h1m3 0h2m1 0h2m56 0h1m32 0h3m2 0h1m1 0h5m9 0h3m1 0h3M64 187.5m5 0h3m10 0h5m1 0h5m4 0h6m1 0h6m3 0h12m34 0h5m2 0h1m16 0h2m5 0h4m2 0h20m3 0h1m2 0h5M64 188.5m17 0h8m10 0h3m1 0h3m3 0h3m3 0h3m2 0h3m34 0h6m3 0h2m5 0h1m6 0h2m9 0h2m3 0h2m2 0h8m4 0h3m1 0h4m2 0h1m2 0h1M64 189.5m14 0h2m14 0h2m8 0h1m16 0h1m35 0h1m7 0h4m5 0h1m19 0h4m9 0h2m1 0h1m14 0h2M64 190.5m0 0h1m20 0h3m24 0h2m2 0h3m2 0h3m33 0h1m1 0h3m2 0h1m11 0h2m11 0h2m5 0h1m2 0h5m2 0h1m6 0h3m5 0h3M64 191.5m0 0h12m6 0h1m6 0h3m3 0h3m1 0h2m4 0h4m4 0h2m6 0h2m35 0h8m4 0h1m5 0h2m4 0h3m6 0h1m3 0h4m1 0h1m1 0h16m2 0h3M64 192.5m6 0h4m10 0h5m2 0h7m1 0h4m2 0h4m2 0h6m3 0h3m34 0h3m2 0h5m22 0h6m2 0h2m3 0h1m3 0h4m1 0h8m2 0h2M64 193.5m10 0h1m1 0h2m3 0h7m2 0h21m7 0h2m3 0h2m32 0h7m2 0h5m2 0h2m8 0h2m1 0h3m15 0h16M64 194.5m3 0h1m2 0h5m4 0h1m3 0h5m1 0h3m3 0h2m3 0h4m2 0h2m3 0h4m6 0h4m34 0h5m3 0h5m2 0h2m7 0h4m3 0h2m1 0h3m3 0h13m1 0h2m5 0h2m2 0h3M64 195.5m0 0h9m2 0h2m3 0h13m1 0h1m6 0h16m1 0h7m32 0h8m7 0h4m2 0h2m2 0h9m2 0h2m1 0h15m3 0h5m3 0h5M64 196.5m0 0h1m5 0h10m3 0h6m2 0h2m2 0h7m2 0h2m9 0h3m42 0h5m28 0h8m1 0h1m2 0h8m4 0h10M64 197.5m0 0h2m10 0h2m4 0h1m1 0h8m6 0h6m1 0h3m1 0h4m1 0h2m1 0h5m1 0h2m36 0h1m3 0h3m2 0h2m9 0h3m2 0h2m7 0h12m2 0h15m1 0h2M64 198.5m0 0h1m4 0h3m5 0h15m4 0h5m2 0h16m4 0h2m32 0h3m3 0h2m6 0h2m3 0h2m9 0h2m2 0h8m5 0h9m1 0h10m2 0h1M64 199.5m0 0h1m4 0h5m4 0h3m2 0h14m3 0h6m1 0h1m5 0h12m33 0h3m7 0h1m16 0h4m5 0h4m2 0h4m3 0h3m2 0h1m3 0h8M64 200.5m0 0h2m1 0h2m2 0h17m2 0h3m3 0h3m3 0h16m3 0h1m2 0h1m32 0h6m14 0h3m4 0h35m1 0h7M64 201.5m0 0h1m4 0h7m10 0h4m1 0h7m2 0h1m4 0h3m3 0h8m2 0h1m37 0h5m13 0h6m5 0h9m4 0h11m2 0h3m3 0h2m2 0h3M64 202.5m12 0h18m1 0h2m2 0h2m5 0h2m2 0h3m2 0h10m33 0h3m2 0h1m6 0h1m19 0h3m9 0h18m5 0h2M64 203.5m13 0h7m4 0h10m8 0h8m1 0h7m35 0h7m14 0h2m6 0h22m2 0h2m2 0h6m1 0h1m1 0h4M64 204.5m4 0h2m4 0h4m2 0h1m4 0h3m5 0h2m4 0h2m22 0h1m39 0h1m19 0h1m14 0h3m3 0h2m2 0h3m4 0h2m4 0h2m1 0h3M64 205.5m2 0h1m2 0h11m3 0h1m4 0h4m8 0h1m3 0h1m16 0h3m33 0h3m13 0h1m19 0h2m1 0h2m4 0h1m11 0h9m1 0h3M64 206.5m3 0h10m1 0h12m1 0h3m2 0h6m5 0h11m3 0h4m32 0h2m12 0h2m1 0h2m4 0h5m3 0h11m1 0h4m2 0h1m2 0h2m3 0h3m2 0h1m1 0h3m2 0h1M64 207.5m9 0h2m6 0h16m3 0h6m2 0h9m7 0h1m32 0h8m2 0h1m7 0h2m8 0h4m6 0h1m2 0h4m2 0h3m1 0h11m2 0h6M64 208.5m5 0h3m3 0h8m3 0h1m1 0h13m4 0h20m32 0h7m2 0h13m3 0h2m6 0h3m1 0h11m1 0h5m3 0h13M64 209.5m3 0h12m1 0h7m1 0h2m4 0h8m5 0h7m5 0h2m1 0h3m43 0h1m7 0h1m14 0h13m1 0h5m2 0h6m1 0h6M64 210.5m4 0h1m4 0h2m2 0h1m4 0h5m15 0h2m8 0h1m3 0h2m5 0h2m38 0h2m32 0h2m2 0h2m1 0h5m10 0h3m3 0h2M64 211.5m0 0h2m2 0h32m2 0h7m3 0h3m1 0h9m32 0h4m8 0h13m3 0h30m2 0h10M64 212.5m2 0h7m3 0h30m2 0h6m5 0h6m33 0h5m2 0h1m2 0h8m2 0h2m1 0h6m1 0h5m1 0h3m2 0h13m2 0h3m1 0h5m1 0h3M64 213.5m2 0h2m10 0h1m3 0h1m4 0h2m15 0h1m6 0h3m6 0h3m38 0h2m37 0h2m4 0h5m11 0h4M64 214.5m0 0h5m9 0h28m3 0h15m33 0h2m1 0h3m4 0h2m1 0h3m3 0h2m4 0h3m2 0h4m7 0h1m2 0h7m1 0h3m2 0h2m1 0h2m1 0h1m2 0h4M64 215.5m2 0h2m10 0h5m2 0h1m2 0h3m5 0h2m2 0h5m2 0h9m2 0h2m1 0h3m37 0h7m5 0h2m5 0h1m9 0h4m8 0h11m9 0h5M64 216.5m9 0h2m2 0h2m12 0h2m5 0h1m1 0h1m20 0h2m64 0h2m4 0h1m9 0h2m3 0h3m13 0h1M64 217.5m3 0h1m2 0h8m4 0h1m1 0h3m7 0h2m10 0h2m4 0h1m9 0h3m32 0h3m28 0h3m9 0h1m2 0h4m2 0h5m6 0h3m2 0h1M64 218.5m1 0h6m5 0h3m6 0h3m1 0h2m2 0h3m17 0h1m45 0h2m5 0h2m4 0h2m4 0h2m7 0h2m6 0h6m3 0h6m6 0h1m2 0h7M64 219.5m1 0h3m5 0h15m2 0h2m4 0h1m2 0h2m1 0h5m2 0h3m7 0h6m32 0h7m2 0h1m5 0h1m2 0h14m1 0h1m4 0h4m2 0h17m5 0h4M64 220.5m0 0h3m3 0h3m5 0h5m2 0h4m5 0h2m8 0h1m11 0h1m6 0h1m47 0h1m3 0h1m14 0h1m6 0h2m3 0h9m6 0h3m2 0h5M64 221.5m0 0h1m2 0h7m6 0h8m7 0h3m4 0h3m2 0h2m4 0h4m2 0h6m32 0h1m21 0h6m12 0h1m5 0h6m1 0h2m3 0h3m5 0h3M64 222.5m3 0h3m9 0h2m1 0h4m4 0h3m2 0h3m7 0h1m5 0h4m6 0h4m32 0h2m1 0h2m1 0h1m6 0h4m2 0h2m11 0h2m2 0h2m3 0h2m6 0h7m8 0h1m2 0h3M64 223.5m0 0h3m15 0h3m3 0h7m13 0h4m3 0h10m33 0h1m2 0h1m8 0h3m8 0h1m11 0h2m4 0h5m5 0h4m8 0h6M64 224.5m2 0h2m3 0h5m1 0h2m3 0h3m1 0h2m17 0h1m2 0h8m4 0h5m32 0h2m11 0h1m22 0h1m13 0h1m2 0h2m3 0h1m9 0h2M64 225.5m2 0h5m2 0h2m2 0h2m1 0h1m22 0h6m3 0h4m4 0h5m32 0h3m8 0h3m5 0h1m5 0h7m2 0h1m5 0h16m5 0h3m1 0h5M64 226.5m1 0h3m1 0h5m7 0h6m3 0h7m6 0h14m2 0h6m32 0h4m2 0h5m1 0h5m5 0h6m3 0h11m2 0h3m2 0h5m4 0h7M64 227.5m6 0h2m8 0h8m3 0h1m4 0h5m10 0h12m34 0h7m9 0h5m5 0h2m2 0h2m9 0h5m3 0h7m1 0h3m5 0h5" stroke="#ff1a04" stroke-width="1" fill="none"/>
</g></g>
<text x="267" y="14" font-size="16" text-anchor="start" font-weight="bold" >B</text>
<text x="428" y="65" font-size="9.1" text-anchor="middle" font-weight="normal" >H3K27me3 maturation genes (K562)</text>
<rect x="331.5" y="76.5" width="182.0" height="117.5" fill="#fff" stroke="#000" stroke-width="2.4"/>
<path d="M331.5 156.7H513.5M331.5 146.8H513.5M331.5 136.9H513.5M331.5 127.0H513.5M331.5 117.1H513.5M331.5 107.2H513.5M331.5 97.3H513.5M331.5 87.4H513.5M331.5 77.5H513.5" stroke="#e6e6e6" stroke-width="0.6"/>
<path d="M331.5 156.7H513.5" stroke="#aaa" stroke-width="0.7"/>
<text x="325" y="159.5" font-size="7.6" text-anchor="end" font-weight="bold" >0.0</text>
<text x="325" y="149.6" font-size="7.6" text-anchor="end" font-weight="bold" >0.1</text>
<text x="325" y="139.7" font-size="7.6" text-anchor="end" font-weight="bold" >0.2</text>
<text x="325" y="129.79999999999998" font-size="7.6" text-anchor="end" font-weight="bold" >0.3</text>
<text x="325" y="119.89999999999999" font-size="7.6" text-anchor="end" font-weight="bold" >0.4</text>
<text x="325" y="109.99999999999999" font-size="7.6" text-anchor="end" font-weight="bold" >0.5</text>
<text x="325" y="100.09999999999998" font-size="7.6" text-anchor="end" font-weight="bold" >0.6</text>
<text x="325" y="90.19999999999999" font-size="7.6" text-anchor="end" font-weight="bold" >0.7</text>
<text x="325" y="80.29999999999998" font-size="7.6" text-anchor="end" font-weight="bold" >0.8</text>
<path d="M327 156.7H331.5M327 146.8H331.5M327 136.9H331.5M327 127.0H331.5M327 117.1H331.5M327 107.2H331.5M327 97.3H331.5M327 87.4H331.5M327 77.5H331.5" stroke="#000" stroke-width="1"/>
<text x="305.4" y="121.4" font-size="9.05" text-anchor="middle" font-weight="normal" transform="rotate(-90 305.4 121.4)" >Enrichment score (ES)</text>
<polyline points="332.7,144.5 333.5,138 334.3,128 335.2,121 336.3,115 337.5,109 338.8,104.5 340.2,101 341.8,98 343.3,95.5 344.8,94.3 346.3,93 347.6,92.2 349,90.5 351,87.5 353.5,84 356.5,79.8 400,103.8 450,131 488,151.5 491,152.6 494,153.4 497,153.2 499,154.5 502,155.8 505,155.2 508,156.6 511,157" fill="none" stroke="#22e022" stroke-width="1.6" stroke-linejoin="round"/>
<rect x="332.7" y="162" width="179.59999999999997" height="27.5" fill="#fff"/>
<path d="M332.7 162h2.2v27.5h-2.2zM335.4 162h3.6v27.5h-3.6zM339.8 162h3.6v27.5h-3.6zM344.2 162h2.2v27.5h-2.2zM346.7 162h1.2v27.5h-1.2zM348.2 162h3.6v27.5h-3.6zM352.6 162h2.2v27.5h-2.2zM356.5 162h3.0v27.5h-3.0zM359.8 162h3.6v27.5h-3.6zM364.2 162h0.7v27.5h-0.7zM366.4 162h1.6v27.5h-1.6zM368.5 162h3.6v27.5h-3.6zM372.4 162h3.0v27.5h-3.0zM375.9 162h3.0v27.5h-3.0zM379.2 162h1.2v27.5h-1.2zM381.4 162h1.2v27.5h-1.2zM382.9 162h0.7v27.5h-0.7zM383.9 162h0.7v27.5h-0.7zM385.1 162h1.2v27.5h-1.2zM386.8 162h0.7v27.5h-0.7zM388.3 162h0.9v27.5h-0.9zM389.5 162h3.0v27.5h-3.0zM393.0 162h2.2v27.5h-2.2zM396.0 162h3.0v27.5h-3.0zM399.5 162h1.2v27.5h-1.2zM401.2 162h1.6v27.5h-1.6zM403.1 162h3.0v27.5h-3.0zM406.4 162h1.6v27.5h-1.6zM408.5 162h2.2v27.5h-2.2zM411.0 162h0.9v27.5h-0.9zM413.5 162h0.7v27.5h-0.7zM414.7 162h0.9v27.5h-0.9zM415.9 162h3.6v27.5h-3.6zM420.3 162h0.7v27.5h-0.7zM421.3 162h3.6v27.5h-3.6zM425.7 162h0.7v27.5h-0.7zM427.2 162h0.7v27.5h-0.7zM428.7 162h1.2v27.5h-1.2zM430.4 162h0.7v27.5h-0.7zM431.4 162h0.9v27.5h-0.9zM432.6 162h1.2v27.5h-1.2zM434.6 162h2.2v27.5h-2.2zM438.3 162h1.2v27.5h-1.2zM442.0 162h1.6v27.5h-1.6zM444.1 162h1.6v27.5h-1.6zM446.0 162h0.7v27.5h-0.7zM448.8 162h3.6v27.5h-3.6zM453.2 162h2.2v27.5h-2.2zM456.2 162h1.6v27.5h-1.6zM460.6 162h0.9v27.5h-0.9zM462.3 162h1.2v27.5h-1.2zM464.0 162h0.7v27.5h-0.7zM465.0 162h1.2v27.5h-1.2zM467.5 162h0.9v27.5h-0.9zM472.3 162h1.2v27.5h-1.2zM474.3 162h0.7v27.5h-0.7zM475.8 162h3.0v27.5h-3.0zM479.3 162h0.7v27.5h-0.7zM480.3 162h1.2v27.5h-1.2zM482.3 162h3.0v27.5h-3.0zM486.9 162h0.6v27.5h-0.6zM491.3 162h0.6v27.5h-0.6zM493.9 162h0.6v27.5h-0.6zM494.8 162h0.6v27.5h-0.6zM496.2 162h0.6v27.5h-0.6zM501.7 162h0.6v27.5h-0.6zM503.1 162h0.6v27.5h-0.6zM504.5 162h0.6v27.5h-0.6zM506.6 162h0.6v27.5h-0.6z" fill="#111"/>
<defs><linearGradient id="cb" x1="0" x2="1"><stop offset="0" stop-color="#d23434"/><stop offset="0.122" stop-color="#dc4a52"/><stop offset="0.135" stop-color="#f3b2c8"/><stop offset="0.8" stop-color="#eeb8d2"/><stop offset="0.92" stop-color="#c9c4ee"/><stop offset="0.965" stop-color="#b0b0f0"/><stop offset="0.97" stop-color="#1a1a9a"/><stop offset="1" stop-color="#10108a"/></linearGradient></defs>
<rect x="332.7" y="189.3" width="179.59999999999997" height="3.6" fill="url(#cb)"/>
<text x="423.8" y="92.3" font-size="9" text-anchor="start" font-weight="normal" >NES: 1.75</text>
<text x="423.8" y="103.2" font-size="9" text-anchor="start" font-weight="normal" >Nom-p-value: 0.000</text>
<text x="423.8" y="113.2" font-size="9" text-anchor="start" font-weight="normal" >FDR q-value: 0.000</text>
<text x="0" y="264" font-size="16" text-anchor="start" font-weight="bold" >C</text>
<text x="43.7" y="258.4" font-size="11.3" text-anchor="start" font-weight="normal" >Cord Blood CD34+</text>
<text x="109" y="274.6" font-size="11.3" text-anchor="middle" font-weight="normal" >Untransduced</text>
<text x="228.5" y="274.6" font-size="11.3" text-anchor="middle" font-weight="normal" >GFP control</text>
<text x="344.6" y="274.6" font-size="11.3" text-anchor="middle" font-weight="normal" >WT1mut</text>
<text x="450.4" y="274.6" font-size="11.3" text-anchor="middle" font-weight="normal" >WT1 wildtype</text>
<rect x="72.5" y="279.3" width="83.0" height="83.89999999999998" fill="#fff" stroke="#c4c4c4" stroke-width="0.8"/>
<text x="70.2" y="287.2" font-size="9" text-anchor="end" font-weight="bold" stroke="none">250K</text>
<text x="70.2" y="303.05" font-size="9" text-anchor="end" font-weight="bold" stroke="none">200K</text>
<text x="70.2" y="318.9" font-size="9" text-anchor="end" font-weight="bold" stroke="none">150K</text>
<text x="70.2" y="334.75" font-size="9" text-anchor="end" font-weight="bold" stroke="none">100K</text>
<text x="70.2" y="350.59999999999997" font-size="9" text-anchor="end" font-weight="bold" stroke="none">50K</text>
<text x="70.2" y="367.65" font-size="9" text-anchor="end" font-weight="bold" stroke="none">0</text>
<path d="M70.5 284.0H72.5M70.5 299.9H72.5M70.5 315.7H72.5M70.5 331.6H72.5M70.5 347.4H72.5M70.5 363.2H72.5M71.5 284.0H72.5M71.5 287.2H72.5M71.5 290.3H72.5M71.5 293.5H72.5M71.5 296.7H72.5M71.5 299.9H72.5M71.5 303.0H72.5M71.5 306.2H72.5M71.5 309.4H72.5M71.5 312.5H72.5M71.5 315.7H72.5M71.5 318.9H72.5M71.5 322.0H72.5M71.5 325.2H72.5M71.5 328.4H72.5M71.5 331.6H72.5M71.5 334.7H72.5M71.5 337.9H72.5M71.5 341.1H72.5M71.5 344.2H72.5M71.5 347.4H72.5M71.5 350.6H72.5M71.5 353.7H72.5M71.5 356.9H72.5M71.5 360.1H72.5M71.5 363.2H72.5" stroke="#555" stroke-width="0.6"/>
<text x="98.8" y="377.2" font-size="9" text-anchor="middle" font-weight="bold" stroke="none">0</text>
<text x="112.7" y="377.2" font-size="9" text-anchor="start" font-weight="bold" stroke="none">10<tspan font-size="6" dy="-3.2">3</tspan></text>
<text x="132.7" y="377.2" font-size="9" text-anchor="start" font-weight="bold" stroke="none">10<tspan font-size="6" dy="-3.2">4</tspan></text>
<text x="148.7" y="377.2" font-size="9" text-anchor="start" font-weight="bold" stroke="none">10<tspan font-size="6" dy="-3.2">5</tspan></text>
<path d="M76.5 363.2v1.8M81.8 363.2v1.8M87.1 363.2v1.8M92.4 363.2v1.8M97.7 363.2v1.8M103.0 363.2v1.8M108.3 363.2v1.8M113.6 363.2v1.8M118.9 363.2v1.8M124.2 363.2v1.8M129.5 363.2v1.8M134.8 363.2v1.8M140.1 363.2v1.8M145.4 363.2v1.8M150.7 363.2v1.8" stroke="#666" stroke-width="0.7"/>
<rect x="89.7" y="363.4" width="3.6" height="1.7" fill="#1a1a1a"/>
<rect x="185" y="279.3" width="86.5" height="83.89999999999998" fill="#fff" stroke="#c4c4c4" stroke-width="0.8"/>
<text x="182.7" y="287.2" font-size="9" text-anchor="end" font-weight="bold" stroke="none">250K</text>
<text x="182.7" y="303.05" font-size="9" text-anchor="end" font-weight="bold" stroke="none">200K</text>
<text x="182.7" y="318.9" font-size="9" text-anchor="end" font-weight="bold" stroke="none">150K</text>
<text x="182.7" y="334.75" font-size="9" text-anchor="end" font-weight="bold" stroke="none">100K</text>
<text x="182.7" y="350.59999999999997" font-size="9" text-anchor="end" font-weight="bold" stroke="none">50K</text>
<text x="182.7" y="367.65" font-size="9" text-anchor="end" font-weight="bold" stroke="none">0</text>
<path d="M183 284.0H185M183 299.9H185M183 315.7H185M183 331.6H185M183 347.4H185M183 363.2H185M184 284.0H185M184 287.2H185M184 290.3H185M184 293.5H185M184 296.7H185M184 299.9H185M184 303.0H185M184 306.2H185M184 309.4H185M184 312.5H185M184 315.7H185M184 318.9H185M184 322.0H185M184 325.2H185M184 328.4H185M184 331.6H185M184 334.7H185M184 337.9H185M184 341.1H185M184 344.2H185M184 347.4H185M184 350.6H185M184 353.7H185M184 356.9H185M184 360.1H185M184 363.2H185" stroke="#555" stroke-width="0.6"/>
<text x="206" y="377.2" font-size="9" text-anchor="middle" font-weight="bold" stroke="none">0</text>
<text x="218.7" y="377.2" font-size="9" text-anchor="start" font-weight="bold" stroke="none">10<tspan font-size="6" dy="-3.2">3</tspan></text>
<text x="238.7" y="377.2" font-size="9" text-anchor="start" font-weight="bold" stroke="none">10<tspan font-size="6" dy="-3.2">4</tspan></text>
<text x="256.2" y="377.2" font-size="9" text-anchor="start" font-weight="bold" stroke="none">10<tspan font-size="6" dy="-3.2">5</tspan></text>
<path d="M189.0 363.2v1.8M194.3 363.2v1.8M199.6 363.2v1.8M204.9 363.2v1.8M210.2 363.2v1.8M215.5 363.2v1.8M220.8 363.2v1.8M226.1 363.2v1.8M231.4 363.2v1.8M236.7 363.2v1.8M242.0 363.2v1.8M247.3 363.2v1.8M252.6 363.2v1.8M257.9 363.2v1.8M263.2 363.2v1.8" stroke="#666" stroke-width="0.7"/>
<rect x="201.7" y="363.4" width="3.6" height="1.7" fill="#1a1a1a"/>
<rect x="298" y="279.3" width="86" height="83.89999999999998" fill="#fff" stroke="#c4c4c4" stroke-width="0.8"/>
<text x="295.7" y="287.2" font-size="9" text-anchor="end" font-weight="bold" stroke="none">250K</text>
<text x="295.7" y="303.05" font-size="9" text-anchor="end" font-weight="bold" stroke="none">200K</text>
<text x="295.7" y="318.9" font-size="9" text-anchor="end" font-weight="bold" stroke="none">150K</text>
<text x="295.7" y="334.75" font-size="9" text-anchor="end" font-weight="bold" stroke="none">100K</text>
<text x="295.7" y="350.59999999999997" font-size="9" text-anchor="end" font-weight="bold" stroke="none">50K</text>
<text x="295.7" y="367.65" font-size="9" text-anchor="end" font-weight="bold" stroke="none">0</text>
<path d="M296 284.0H298M296 299.9H298M296 315.7H298M296 331.6H298M296 347.4H298M296 363.2H298M297 284.0H298M297 287.2H298M297 290.3H298M297 293.5H298M297 296.7H298M297 299.9H298M297 303.0H298M297 306.2H298M297 309.4H298M297 312.5H298M297 315.7H298M297 318.9H298M297 322.0H298M297 325.2H298M297 328.4H298M297 331.6H298M297 334.7H298M297 337.9H298M297 341.1H298M297 344.2H298M297 347.4H298M297 350.6H298M297 353.7H298M297 356.9H298M297 360.1H298M297 363.2H298" stroke="#555" stroke-width="0.6"/>
<text x="317.5" y="377.2" font-size="9" text-anchor="middle" font-weight="bold" stroke="none">0</text>
<text x="330.2" y="377.2" font-size="9" text-anchor="start" font-weight="bold" stroke="none">10<tspan font-size="6" dy="-3.2">3</tspan></text>
<text x="351.2" y="377.2" font-size="9" text-anchor="start" font-weight="bold" stroke="none">10<tspan font-size="6" dy="-3.2">4</tspan></text>
<text x="367.7" y="377.2" font-size="9" text-anchor="start" font-weight="bold" stroke="none">10<tspan font-size="6" dy="-3.2">5</tspan></text>
<path d="M302.0 363.2v1.8M307.3 363.2v1.8M312.6 363.2v1.8M317.9 363.2v1.8M323.2 363.2v1.8M328.5 363.2v1.8M333.8 363.2v1.8M339.1 363.2v1.8M344.4 363.2v1.8M349.7 363.2v1.8M355.0 363.2v1.8M360.3 363.2v1.8M365.6 363.2v1.8M370.9 363.2v1.8M376.2 363.2v1.8" stroke="#666" stroke-width="0.7"/>
<rect x="314.7" y="363.4" width="3.6" height="1.7" fill="#1a1a1a"/>
<rect x="408.8" y="279.3" width="85.69999999999999" height="83.89999999999998" fill="#fff" stroke="#c4c4c4" stroke-width="0.8"/>
<text x="406.5" y="287.2" font-size="9" text-anchor="end" font-weight="bold" stroke="none">250K</text>
<text x="406.5" y="303.05" font-size="9" text-anchor="end" font-weight="bold" stroke="none">200K</text>
<text x="406.5" y="318.9" font-size="9" text-anchor="end" font-weight="bold" stroke="none">150K</text>
<text x="406.5" y="334.75" font-size="9" text-anchor="end" font-weight="bold" stroke="none">100K</text>
<text x="406.5" y="350.59999999999997" font-size="9" text-anchor="end" font-weight="bold" stroke="none">50K</text>
<text x="406.5" y="367.65" font-size="9" text-anchor="end" font-weight="bold" stroke="none">0</text>
<path d="M406.8 284.0H408.8M406.8 299.9H408.8M406.8 315.7H408.8M406.8 331.6H408.8M406.8 347.4H408.8M406.8 363.2H408.8M407.8 284.0H408.8M407.8 287.2H408.8M407.8 290.3H408.8M407.8 293.5H408.8M407.8 296.7H408.8M407.8 299.9H408.8M407.8 303.0H408.8M407.8 306.2H408.8M407.8 309.4H408.8M407.8 312.5H408.8M407.8 315.7H408.8M407.8 318.9H408.8M407.8 322.0H408.8M407.8 325.2H408.8M407.8 328.4H408.8M407.8 331.6H408.8M407.8 334.7H408.8M407.8 337.9H408.8M407.8 341.1H408.8M407.8 344.2H408.8M407.8 347.4H408.8M407.8 350.6H408.8M407.8 353.7H408.8M407.8 356.9H408.8M407.8 360.1H408.8M407.8 363.2H408.8" stroke="#555" stroke-width="0.6"/>
<text x="429.5" y="377.2" font-size="9" text-anchor="middle" font-weight="bold" stroke="none">0</text>
<text x="442.7" y="377.2" font-size="9" text-anchor="start" font-weight="bold" stroke="none">10<tspan font-size="6" dy="-3.2">3</tspan></text>
<text x="462.7" y="377.2" font-size="9" text-anchor="start" font-weight="bold" stroke="none">10<tspan font-size="6" dy="-3.2">4</tspan></text>
<text x="479.2" y="377.2" font-size="9" text-anchor="start" font-weight="bold" stroke="none">10<tspan font-size="6" dy="-3.2">5</tspan></text>
<path d="M412.8 363.2v1.8M418.1 363.2v1.8M423.4 363.2v1.8M428.7 363.2v1.8M434.0 363.2v1.8M439.3 363.2v1.8M444.6 363.2v1.8M449.9 363.2v1.8M455.2 363.2v1.8M460.5 363.2v1.8M465.8 363.2v1.8M471.1 363.2v1.8M476.4 363.2v1.8M481.7 363.2v1.8M487.0 363.2v1.8" stroke="#666" stroke-width="0.7"/>
<rect x="424.5" y="363.4" width="3.6" height="1.7" fill="#1a1a1a"/>
<path d="M89 363l-1.1-0.5-1.3-1-1-1-0.9-1-1-1-1.1-1-0.9-1-0.9-1-0.6-1-0.7-1.2-0.5-1.2-0.5-1.5-0.4-1.6-0.2-1.5-0.1-1.5-0.1-2 0.1-2 0.2-1.5 0.3-1.5 0.3-1.5 0.4-1.3 0.5-1.5 0.5-1.2 0.5-1.2 0.7-1.3 0.8-1.3 0.8-1.2 0.8-1 0.9-0.9 1-0.9 1-0.8 1-0.6 1.5-0.8 1.5-0.4 1.5-0.2 1.5 0.2 1.5 0.6 1 0.7 1 1 0.8 1.1 0.6 1 0.6 1.1 0.5 1.3 0.5 1.6 0.3 1.5 0.3 1.5 0.1 1.5 0 2-0.1 2-0.1 1.5-0.3 1.5-0.3 1.5-0.3 1.5-0.4 1.5-0.5 1.5-0.5 1.5-0.6 1.5-0.5 1.5-0.6 1.4-0.5 1.1-0.7 1.5-0.8 1.4-0.7 1.1-0.7 1-1 1-1.1 0.8z" fill="#1c1c1c" fill-opacity="0.130"/>
<path d="M90.4 328l1.6-0.3 1.3 0.3 1.2 0.7 1 1.2 0.7 1.1 0.6 1.5 0.4 1.5 0.3 1.5 0.2 1.5 0.1 2 0 2-0.1 1.5-0.2 1.5-0.2 1.5-0.3 1.4-0.3 1.6-0.4 1.5-0.5 1.5-0.5 1.5-0.6 1.5-0.7 1.5-0.6 1-0.7 1-1 1-1.2 0.6-1.5-0.2-1-0.7-1-1.2-0.6-1-0.8-1.5-0.6-1.1-0.8-1.4-0.7-1.3-0.6-1.2-0.6-1.5-0.4-1.5-0.3-1.5-0.1-1.5 0.1-2 0.1-1.5 0.3-1.3 0.5-1.7 0.5-1.5 0.7-1.5 0.8-1.3 0.8-1.2 0.9-1 0.8-0.8 1-0.9 1-0.6z" fill="#1c1c1c" fill-opacity="0.130"/>
<path d="M90.4 331l1.6-0.4 1.2 0.4 1.1 1 0.7 1 0.5 1.2 0.4 1.3 0.3 1.5 0.2 1.5 0.1 2-0.1 2-0.1 1.5-0.2 1.5-0.2 1.5-0.3 1.5-0.4 1.5-0.5 1.5-0.5 1.5-0.7 1.5-0.6 1-0.8 1-1.1 0.8-2-0.2-1-1.1-0.6-1-0.7-1.5-0.6-1.5-0.5-1.5-0.4-1.5-0.4-1.5-0.3-1.5-0.2-1.5 0-2 0.1-1.5 0.3-1.5 0.5-1.5 0.6-1.5 0.7-1.4 0.7-1.1 0.8-1 1-1 1-0.8z" fill="#1c1c1c" fill-opacity="0.130"/>
<path d="M91 333l1.6 0 1.2 1 0.6 1 0.6 1.5 0.3 1.5 0.2 1.5 0.1 2-0.1 2-0.1 1.5-0.2 1.5-0.3 1.5-0.3 1.5-0.5 1.5-0.6 1.5-0.8 1.5-0.8 1-1.4 0.8-1.5-0.7-0.8-1.1-0.7-1.5-0.5-1.5-0.4-1.5-0.2-1.5-0.2-1.5-0.2-2 0.1-2 0.2-1.5 0.3-1.5 0.5-1.5 0.7-1.5 0.7-1.2 1-1.3 1-0.8z" fill="#1c1c1c" fill-opacity="0.130"/>
<path d="M90.8 335l1.7-0.1 1 0.9 0.6 1.2 0.4 1.3 0.3 1.7 0.1 1.5 0 2-0.1 1.5-0.2 1.5-0.3 1.5-0.4 1.5-0.5 1.5-0.8 1.5-0.7 1-1.4 0.7-1.3-0.7-0.7-1-0.5-1.3-0.5-1.7-0.2-1.5-0.2-1.5 0-2 0.1-2 0.3-1.5 0.4-1.5 0.5-1.5 0.6-1.1 1-1.3z" fill="#1c1c1c" fill-opacity="0.130"/>
<path d="M91.2 336.5l1.6 0.5 0.7 1 0.5 1.5 0.2 1.5 0.1 2-0.1 2-0.2 1.5-0.3 1.5-0.5 1.5-0.6 1.5-0.7 1-0.9 0.7-1.5-0.5-0.7-1.2-0.5-1.5-0.3-1.5-0.1-1.5 0-2 0.1-1.5 0.3-1.5 0.4-1.5 0.6-1.5 0.7-1 1-0.9z" fill="#1c1c1c" fill-opacity="0.130"/>
<path d="M90.7 338.5l1.3-0.4 0.8 0.9 0.6 1.5 0.2 1.5 0.1 2-0.2 1.5-0.2 1.5-0.4 1.5-0.7 1.5-0.7 1-1.9-0.5-0.6-1.4-0.3-1.6-0.1-1.5 0-2 0.3-1.5 0.4-1.5 0.6-1.5z" fill="#1c1c1c" fill-opacity="0.130"/>
<path d="M91.1 340l1.3 0.5 0.5 1.5 0.1 1.5-0.1 2-0.3 1.5-0.5 1.5-0.8 1-1.3-0.4-0.5-1.4-0.2-1.7 0.1-2 0.3-1.5 0.5-1.5 0.8-1z" fill="#1c1c1c" fill-opacity="0.130"/>
<path d="M90.9 342.5l1.1 0.5 0.2 1.5-0.2 1.5-0.5 1.2-1.2-0.7-0.1-1.5 0.2-1.5z" fill="#1c1c1c" fill-opacity="0.130"/>
<path d="M89.7 324.5l1.3-0.4 2 0.1 1.5 0.5 1 0.7 1 1 0.8 1.1 0.7 1.2 0.6 1.3 0.5 1.5 0.4 1.5 0.2 1.5 0.2 1.5 0.1 2-0.1 2-0.2 1.5-0.2 1.5-0.3 1.5-0.3 1.5-0.4 1.5-0.4 1.5-0.5 1.5-0.5 1.5-0.6 1.5-0.5 1.3-0.5 1.2-0.7 1.5-0.8 1.3-0.8 1.2-0.9 1-1.3 0.9-1.5 0.3-1.5-0.5-1-0.9-0.8-0.8-0.8-1-0.8-1-0.9-1-1-1-0.8-1-0.8-1-0.6-1.1-0.7-1.4-0.5-1.5-0.3-1.4-0.3-1.6-0.1-1.5 0-2 0.1-2 0.2-1.5 0.3-1.5 0.4-1.5 0.5-1.5 0.6-1.5 0.7-1.5 0.6-1.1 0.9-1.4 0.7-1 0.9-1 1-1 1-0.8 1-0.7 1.5-0.8zM91.1 327.5l1.9 0.1 1.5 0.8 1 1.1 0.6 1 0.7 1.5 0.5 1.5 0.3 1.5 0.2 1.5 0.2 1.5 0 2-0.1 2-0.2 1.5-0.2 1.5-0.3 1.5-0.3 1.5-0.4 1.5-0.4 1.5-0.5 1.5-0.6 1.5-0.5 1.2-0.7 1.3-0.6 1-0.7 0.9-1 0.9-1.5 0.6-1.5-0.6-0.9-0.8-0.8-1-0.6-1-0.7-1.2-0.7-1.3-0.8-1.4-0.6-1.1-0.8-1.5-0.6-1.5-0.4-1.5-0.2-1.5-0.1-1.5 0-2 0.2-1.5 0.3-1.5 0.4-1.5 0.5-1.5 0.7-1.5 0.6-1 0.6-1 0.8-1 0.9-1 1.1-1 1.1-0.8 1.1-0.7 1.4-0.5zM91.5 330l1.5 0.2 1 0.7 0.9 1.1 0.6 1.1 0.5 1.4 0.4 1.5 0.2 1.5 0.1 1.5 0.1 2-0.1 2-0.2 1.5-0.2 1.5-0.3 1.5-0.3 1.5-0.4 1.5-0.5 1.5-0.6 1.5-0.7 1.5-0.6 1-0.8 1-1.1 0.8-2-0.2-1-0.9-0.8-1.2-0.7-1.5-0.5-1.3-0.5-1.2-0.5-1.5-0.5-1.5-0.4-1.5-0.2-1.5-0.2-1.5 0-2 0.2-1.5 0.3-1.5 0.5-1.5 0.6-1.5 0.7-1.2 0.9-1.3 0.8-1 0.8-0.9 1-0.8 1.5-0.7zM90.5 332.5l1.5-0.4 1.5 0.7 0.9 1.2 0.6 1.3 0.5 1.7 0.2 1.5 0.1 1.5 0.1 2-0.1 2-0.2 1.5-0.2 1.5-0.4 1.5-0.3 1.5-0.5 1.5-0.6 1.5-0.6 1.1-1 1.3-1 0.8-1.7-0.2-0.8-0.8-0.7-1.2-0.7-1.5-0.5-1.5-0.3-1.5-0.3-1.5-0.3-1.5-0.1-1.5 0-2 0.1-1.5 0.3-1.5 0.4-1.5 0.6-1.5 0.5-1.1 0.9-1.4 0.8-1 1.3-1zM90.6 334.5l1.4-0.4 1.4 0.9 0.6 1 0.5 1.2 0.3 1.3 0.2 1.5 0.1 2 0 2-0.2 1.5-0.2 1.5-0.3 1.5-0.4 1.3-0.4 1.2-0.6 1.3-0.7 1.2-1.1 1-1.7-0.1-0.8-0.9-0.7-1.4-0.5-1.6-0.3-1.5-0.2-1.5-0.2-1.5 0-2 0.1-1.5 0.2-1.5 0.4-1.4 0.5-1.5 0.5-1.1 0.6-1 0.9-1zM90.6 336.5l1.4-0.4 1 0.6 0.7 1.3 0.4 1.5 0.2 1.5 0.1 2-0.1 2-0.2 1.5-0.3 1.5-0.4 1.5-0.6 1.5-0.8 1.2-0.9 0.8-1.6-0.4-0.7-1.1-0.5-1.5-0.3-1.5-0.2-1.5-0.1-2 0.2-2 0.2-1.5 0.4-1.5 0.5-1.3 0.7-1.2 0.8-1zM91.2 338l1.3 0.3 0.7 1.2 0.4 1.5 0.1 1.5 0 2-0.2 1.5-0.3 1.5-0.4 1.5-0.7 1.5-1.1 1-1.2-0.5-0.8-1.5-0.3-1.5-0.2-1.5 0-2 0.2-1.5 0.3-1.5 0.5-1.4 0.6-1.1 0.9-0.9zM91 340l1.4 0.5 0.5 1.5 0.1 1.5-0.1 2-0.3 1.5-0.5 1.5-0.7 1-1.4-0.4-0.5-1.3-0.2-1.8 0.1-2 0.3-1.5 0.5-1.5 0.8-1zM90.9 342l1.2 0.5 0.3 1.5-0.2 2-0.6 1.5-1.4-0.5-0.2-1.5 0.1-1.5 0.4-1.5z" fill="none" stroke="#8a8f94" stroke-width="0.5"/>
<path d="M204.9 322.5l1.6-0.4 1.5 0.2 1.5 0.7 1 0.7 1 0.8 1 0.9 1 0.9 1 0.7 1 0.6 1.5 0.4 2 0 1.5-0.2 1.5-0.2 1.5-0.1 2 0 2-0.1 2 0 1.5-0.2 1.5-0.4 1.5-0.5 1.5-0.6 1.5-0.7 1.3-0.5 1.6-0.5 1.6-0.3 2-0.1 1.5 0.2 1.5 0.4 1.5 0.7 1 0.7 1 0.8 1 1.1 0.7 1 0.8 1.5 0.5 1.3 0.4 1.7 0.2 1.5-0.1 2-0.2 1.5-0.4 1.5-0.7 1.5-0.7 1.3-0.9 1.2-1 1-1.1 0.9-1 0.7-1.5 0.8-1.5 0.6-1.5 0.4-1.5 0.4-1.5 0.3-1.5 0.3-1.5 0.3-1.5 0.3-1.5 0.4-1.5 0.4-1.5 0.3-1.5 0.3-1.5 0.3-1.5 0.1-2 0.1-2 0-2 0-1.5 0.2-1.5 0.8-1 0.8-1 1-1 1-0.9 0.8-1.1 0.7-1.5 0.4-1.5-0.2-1.5-0.7-1-0.9-0.8-0.8-0.8-1-0.7-1-0.7-1.2-0.6-1.3-0.7-1.5-0.5-1.5-0.5-1.5-0.4-1.5-0.3-1.5-0.3-1.5-0.2-1.5-0.1-1.5-0.1-2 0.1-2 0.1-1.5 0.2-1.5 0.3-1.5 0.4-1.5 0.5-1.5 0.6-1.3 0.8-1.2 0.9-1z" fill="#1c1c1c" fill-opacity="0.035"/>
<path d="M205.6 325l1.4-0.4 1.5 0.4 1.5 0.8 1 0.8 1 0.9 1 1 1 0.9 1 0.7 1.5 0.7 1.5 0.2 1.5-0.2 1.5-0.2 1.5-0.2 1.5-0.1 2 0 2 0 2 0 1.5-0.1 1.5-0.4 1.5-0.5 1.5-0.7 1.2-0.6 1.1-0.5 1.2-0.5 1.5-0.4 1.5-0.1 2 0.1 1.5 0.5 1.5 0.9 1 0.9 0.9 1.1 0.8 1.5 0.5 1.5 0.3 1.5-0.1 2-0.3 1.5-0.6 1.5-0.9 1.5-0.8 1-1.2 1-1.1 0.8-1.5 0.7-1.5 0.5-1.5 0.4-1.5 0.2-1.5 0.2-1.5 0.3-1.5 0.3-1.5 0.3-1.5 0.5-1.5 0.4-1.5 0.4-1.5 0.3-1.5 0.2-2 0.1-2-0.1-2-0.1-1.5 0.1-1.2 0.5-1.3 1-1 1-0.8 1-1 1-1.2 0.9-1.5 0.6-1.5-0.1-1.5-0.8-1-0.8-1-1.2-0.8-1.1-0.7-1.3-0.5-1.2-0.7-1.5-0.5-1.5-0.3-1.3-0.4-1.7-0.2-1.5-0.2-1.5-0.1-2 0-2 0.1-1.5 0.2-1.5 0.3-1.5 0.5-1.5 0.6-1.5 0.6-1 0.9-1z" fill="#1c1c1c" fill-opacity="0.035"/>
<path d="M205.9 327l1.6-0.4 1.3 0.4 1.2 0.7 1 0.8 1 1 0.9 1 1 1 1.1 1 1 0.7 1.5 0.5 2-0.2 1.5-0.3 1.5-0.3 1.5-0.1 2 0 2 0.1 1.5 0.1 2 0 1.5-0.2 1.5-0.6 1.5-0.7 1-0.6 1.5-0.8 1.4-0.6 1.6-0.4 2 0 1.5 0.4 1.5 0.9 1 1.1 0.7 1.5 0.4 1.5-0.1 2-0.4 1.5-0.6 1.1-1 1.3-1 0.8-1 0.6-1.5 0.6-1.5 0.4-1.5 0.2-1.5 0.1-1.5 0.1-1.5 0.2-1.5 0.4-1.5 0.5-1.5 0.5-1.5 0.5-1.5 0.4-1.5 0.3-1.5 0.1-2-0.1-1.5-0.1-1.5-0.2-1.5 0.1-1.3 0.7-1 1-0.8 1-0.8 1-0.8 1-0.8 0.9-1 0.7-1.5 0.5-1.5-0.3-1.3-0.8-1-1-0.7-1-0.6-1-0.8-1.5-0.6-1.5-0.4-1.5-0.4-1.5-0.3-1.5-0.2-1.5-0.1-1.5-0.1-2 0.2-2 0.2-1.5 0.4-1.5 0.5-1.5 0.7-1.2 1-1z" fill="#1c1c1c" fill-opacity="0.035"/>
<path d="M206.6 328.5l1.9 0 1.5 0.8 1 0.9 1 1.1 1 1.2 0.8 1 0.8 1 0.9 1 1 1 1 0.6 1.8-0.1 1.2-0.5 1.3-0.5 1.7-0.4 2 0 1.5 0.2 1.5 0.3 1.5 0.5 1.5 0.6 1.5 0.4 1.5-0.5 1-0.9 1-1 1-1 1-0.8 1-0.7 1.5-0.6 1.5-0.2 1.5 0.3 1 0.8 0.6 1 0.3 1.5-0.3 1.5-1.1 1.5-1 0.7-1.5 0.6-1.5 0.2-2-0.2-1.4-0.3-1.6-0.5-1.5-0.3-1.2 0.8-1.3 1-1 0.8-1 0.6-1.1 0.6-1.4 0.5-1.5 0.3-2 0-1.5-0.3-1.5-0.4-1.5-0.4-1.5 0.6-1 1.2-0.6 1-0.9 1.4-0.6 1.1-0.7 1-0.8 1-0.9 0.8-1.5 0.6-1.5-0.2-1-0.6-1-1-0.8-1.1-0.7-1.3-0.5-1.1-0.5-1.3-0.4-1.3-0.3-1.5-0.3-1.5-0.1-1.5 0-2 0.1-2 0.3-1.5 0.4-1.5 0.7-1.5 0.9-1z" fill="#1c1c1c" fill-opacity="0.035"/>
<path d="M207 330l1.6 0 1.4 0.8 1 0.9 1 1.2 0.8 1.1 0.6 1 0.6 1 0.7 1.5 0.5 1.5 0.2 1.5-0.2 1.5-0.4 1.5-0.5 1.5-0.8 1.5-0.6 1-0.9 1-1 0.7-1.5 0.1-1.5-0.8-1-1-0.6-1-0.8-1.5-0.6-1.5-0.4-1.5-0.3-1.5-0.1-1.5-0.1-2 0.2-2 0.3-1.5 0.4-1.3 0.7-1.2z" fill="#1c1c1c" fill-opacity="0.035"/>
<path d="M207.2 331.5l1.8 0.1 1 0.7 1 1 0.9 1.2 0.6 1.1 0.7 1.4 0.5 1.5 0.2 1.5 0 2-0.3 1.5-0.6 1.5-0.8 1.5-1.1 1-1.6 0.4-1.5-0.8-0.9-1.1-0.6-1-0.7-1.5-0.4-1.5-0.3-1.5-0.2-1.5-0.1-2 0.2-1.5 0.3-1.5 0.7-1.4 1-1z" fill="#1c1c1c" fill-opacity="0.035"/>
<path d="M207.5 333l2 0.4 1 0.9 0.8 1.2 0.7 1.3 0.4 1.2 0.4 1.5 0 2-0.2 1.5-0.6 1.5-0.6 1-1.4 0.9-1.4-0.4-1.1-1-0.6-1-0.6-1.5-0.4-1.5-0.2-1.5-0.1-2 0.2-1.5 0.4-1.5 0.6-1z" fill="#1c1c1c" fill-opacity="0.035"/>
<path d="M207.4 335l1.6-0.3 1 0.8 0.7 1 0.7 1.5 0.3 1.5 0 2-0.3 1.5-0.9 1.3-1.5 0.3-1-0.8-0.8-1.3-0.5-1.5-0.2-1.5 0-2 0.3-1.5z" fill="#1c1c1c" fill-opacity="0.035"/>
<path d="M208.2 337l1.5 0.5 0.7 1.5 0.1 1.5-0.4 1.5-1.6 0.1-0.6-1.1-0.3-1.5 0.2-2z" fill="#1c1c1c" fill-opacity="0.035"/>
<path d="M205 319.5l1.5-0.2 1.5 0.3 1.5 0.8 1 0.7 1 0.8 1 0.8 0.9 0.8 1.1 0.8 1.5 0.7 1.5 0.2 2-0.1 1.5-0.2 1.5-0.1 2-0.1 2 0 2-0.1 1.5-0.2 1.5-0.3 1.5-0.5 1.5-0.5 1.5-0.6 1.2-0.5 1.3-0.4 1.5-0.4 1.5-0.3 2-0.1 1.5 0.2 1.5 0.3 1.5 0.5 1.3 0.7 1.2 0.8 1 0.8 0.9 0.9 0.8 1 0.7 1 0.6 1.1 0.5 1.1 0.5 1.3 0.3 1.5 0.3 1.5 0 2-0.1 1.5-0.2 1.5-0.4 1.5-0.6 1.5-0.7 1.5-0.6 1-0.8 1-0.8 1-0.9 0.8-1 0.8-1 0.7-1.1 0.7-1.4 0.7-1.5 0.5-1.5 0.5-1.5 0.4-1.5 0.3-1.5 0.3-1.4 0.3-1.6 0.4-1.5 0.3-1.5 0.4-1.5 0.3-1.5 0.3-1.5 0.2-1.5 0.1-2 0.1-2 0.1-2 0-1.5 0.3-1.2 0.5-1.3 1-1 1-1 0.9-1 0.8-1.4 0.8-1.6 0.3-1.5-0.2-1.2-0.6-1.3-0.9-1-1-0.9-1.1-0.7-1-0.6-1-0.8-1.4-0.5-1.1-0.7-1.5-0.6-1.5-0.5-1.5-0.4-1.5-0.4-1.5-0.3-1.5-0.3-1.5-0.2-1.5-0.1-1.5-0.1-2 0.1-2 0.1-2 0.2-1.5 0.2-1.5 0.4-1.5 0.4-1.5 0.5-1.5 0.7-1.5 0.9-1.5 1-1 1.1-0.8zM205.3 322l1.7-0.3 1.5 0.4 1.5 0.9 1 0.8 1 0.9 1 0.8 1 0.9 1 0.6 1.2 0.5 1.8 0.2 1.5-0.1 1.5-0.2 1.5-0.2 2-0.1 2 0 2 0 1.5-0.1 1.5-0.3 1.5-0.4 1.5-0.6 1.5-0.6 1.4-0.6 1.4-0.5 1.2-0.4 1.5-0.2 2-0.1 1.5 0.1 1.5 0.5 1.4 0.6 1.1 0.7 1 0.8 1 1 0.8 1 0.6 1 0.6 1.3 0.5 1.6 0.3 1.6 0.1 1.5-0.1 2-0.3 1.5-0.5 1.5-0.5 1.2-0.8 1.3-0.7 1-0.9 1-1.1 0.9-1 0.8-1.5 0.8-1.1 0.5-1.4 0.5-1.5 0.4-1.5 0.4-1.5 0.2-1.5 0.3-1.5 0.3-1.5 0.4-1.5 0.4-1.5 0.3-1.5 0.4-1.5 0.3-1.5 0.2-1.5 0.1-2 0-2 0-2 0.1-1.5 0.4-1.3 0.8-1.1 1-1 1-1 1-1.1 0.8-1.5 0.5-2-0.1-1.4-0.7-1.1-0.8-1-1.1-0.8-1.1-0.7-1-0.8-1.5-0.7-1.4-0.5-1.2-0.5-1.4-0.5-1.5-0.4-1.5-0.3-1.5-0.3-1.5-0.2-1.5-0.1-1.5 0-2 0-2 0.1-1.5 0.2-1.5 0.3-1.5 0.4-1.5 0.5-1.5 0.6-1.5 0.6-1 0.9-1 1.2-0.9zM206.4 323.5l1.6 0.1 1.5 0.7 0.9 0.7 1.1 0.9 1 0.9 1 0.9 1 0.8 1 0.6 1.2 0.4 1.8 0.1 1.5-0.2 1.5-0.2 1.5-0.2 2 0 2 0 2 0 1.5-0.2 1.5-0.2 1.5-0.5 1.5-0.6 1.2-0.5 1.1-0.5 1.2-0.5 1.5-0.5 1.5-0.3 2-0.1 1.5 0.3 1.5 0.5 1.2 0.6 1.3 1 0.9 1 0.7 1 0.8 1.5 0.5 1.5 0.3 1.5 0 2-0.2 1.4-0.4 1.6-0.6 1.3-0.7 1.2-0.8 1-0.9 1-1.1 0.9-1 0.6-1.5 0.7-1.5 0.5-1.5 0.4-1.5 0.3-1.5 0.3-1.5 0.3-1.5 0.3-1.5 0.3-1.5 0.4-1.5 0.4-1.5 0.4-1.5 0.3-1.5 0.2-1.5 0.1-2 0-2-0.1-2 0.1-1.5 0.5-1 0.6-1 1-0.9 1-1 1-1.1 0.9-1.3 0.6-1.7 0.1-1.5-0.5-1-0.7-0.9-0.9-0.9-1-0.6-1-0.9-1.5-0.7-1.5-0.5-1.2-0.4-1.3-0.5-1.5-0.4-1.5-0.2-1.5-0.3-1.5-0.1-1.5-0.1-2 0-2 0.2-1.5 0.2-1.5 0.3-1.5 0.4-1.5 0.6-1.5 0.8-1.5 0.9-1 1.1-0.7zM205.5 325.5l1.5-0.4 1.5 0.3 1.2 0.6 1.3 1 1 0.9 1 1 1 1 1 0.7 1.5 0.8 1.5 0.1 1.5-0.1 1.5-0.3 1.5-0.2 1.5-0.1 2 0 2 0.1 2 0 1.5-0.2 1.5-0.3 1.5-0.6 1.5-0.7 1.3-0.6 1.2-0.5 1.2-0.5 1.3-0.3 1.5-0.2 2 0.2 1.5 0.5 1.3 0.8 1.1 1 0.8 1 0.7 1.5 0.4 1.5 0.2 1.5-0.2 2-0.4 1.5-0.7 1.5-0.7 1-0.9 1-1.1 0.9-1 0.6-1.1 0.5-1.4 0.5-1.5 0.3-1.5 0.3-1.5 0.2-1.4 0.2-1.6 0.3-1.5 0.4-1.5 0.4-1.4 0.4-1.6 0.4-1.5 0.4-1.5 0.2-1.5 0.1-2-0.1-1.5-0.1-2 0-1.5 0.4-1 0.6-1 1-0.9 1.1-0.9 1-1.1 1-1.1 0.7-1.5 0.4-1.5-0.3-1.3-0.8-1-1-0.8-1-0.7-1-0.7-1.4-0.5-1.1-0.5-1.2-0.4-1.3-0.4-1.5-0.4-1.5-0.2-1.5-0.2-1.5-0.1-2 0-2 0.1-1.5 0.3-1.5 0.3-1.5 0.5-1.5 0.5-1.2 0.9-1.3 1.1-1zM205.9 327l1.6-0.4 1.3 0.4 1.2 0.7 1 0.8 1 1 0.9 1 1 1 1.1 1 1 0.7 1.5 0.5 2-0.2 1.5-0.3 1.5-0.3 1.5-0.1 2 0 2 0.1 1.5 0.1 2 0 1.5-0.2 1.5-0.6 1.5-0.7 1-0.6 1.5-0.8 1.4-0.6 1.6-0.4 2 0 1.5 0.4 1.5 0.9 1 1.1 0.7 1.5 0.4 1.5-0.1 2-0.4 1.5-0.6 1.1-1 1.3-1 0.8-1 0.6-1.5 0.6-1.5 0.4-1.5 0.2-1.5 0.1-1.5 0.1-1.5 0.2-1.5 0.4-1.5 0.5-1.5 0.5-1.5 0.5-1.5 0.4-1.5 0.3-1.5 0.1-2-0.1-1.5-0.1-1.5-0.2-1.5 0.1-1.3 0.7-1 1-0.8 1-0.8 1-0.8 1-0.8 0.9-1 0.7-1.5 0.5-1.5-0.3-1.3-0.8-1-1-0.7-1-0.6-1-0.8-1.5-0.6-1.5-0.4-1.5-0.4-1.5-0.3-1.5-0.2-1.5-0.1-1.5-0.1-2 0.2-2 0.2-1.5 0.4-1.5 0.5-1.5 0.7-1.2 1-1zM206.2 328.5l1.3-0.4 1.4 0.4 1.1 0.7 1 0.8 0.9 1 0.9 1 0.7 0.9 0.9 1.1 0.9 1 1.1 1 1.1 0.7 1.9-0.2 1.3-0.5 1.3-0.4 1.5-0.3 2 0 1.5 0.1 1.5 0.3 1.5 0.4 1.5 0.4 1.5 0.1 1.5-0.5 1-0.7 1-0.9 1-0.8 0.9-0.7 1.1-0.7 1.5-0.6 1.5-0.2 1.5 0.4 1 0.6 0.7 1 0.5 1.5-0.1 1.5-0.6 1.3-1 1.1-1 0.7-1.5 0.5-1.5 0.2-2-0.1-1.5-0.2-1.5-0.2-1.5 0.1-1.3 0.6-1.2 0.7-1 0.6-1.3 0.7-1.1 0.5-1.6 0.5-1.5 0.1-2 0-1.5-0.4-1.5-0.4-2 0.1-1 0.8-0.9 1.3-0.7 1-0.6 1-0.6 1-0.7 1-1 1-1 0.7-1.5 0.4-1.5-0.5-1-0.8-1-1.2-0.7-1.1-0.7-1.5-0.6-1.5-0.5-1.5-0.3-1.5-0.2-1.5-0.2-1.5 0-2 0.1-2 0.3-1.5 0.4-1.5 0.7-1.5 0.7-0.9zM206.6 330l1.4-0.3 1.5 0.6 1 0.8 0.9 0.9 0.8 1 0.7 1 0.6 1 0.9 1.5 0.6 1.3 0.5 1.7 0 1.8-0.4 1.7-0.5 1.5-0.6 1.4-0.6 1.1-0.7 1-1.1 1-1.3 0.5-1.8-0.4-1-0.9-0.9-1.2-0.9-1.5-0.6-1.5-0.4-1.5-0.3-1.5-0.3-1.5-0.1-1.5 0.1-2 0.2-1.5 0.3-1.5 0.6-1.5 0.8-1zM207.2 331.5l1.8 0.1 1 0.7 1 1 0.9 1.2 0.6 1.1 0.7 1.4 0.5 1.5 0.2 1.5 0 2-0.3 1.5-0.6 1.5-0.8 1.5-1.1 1-1.6 0.4-1.5-0.8-0.9-1.1-0.6-1-0.7-1.5-0.4-1.5-0.3-1.5-0.2-1.5-0.1-2 0.2-1.5 0.3-1.5 0.7-1.4 1-1zM207.3 333.5l1.7-0.1 1 0.7 0.8 0.9 0.6 1 0.6 1.3 0.5 1.7 0.1 1.5-0.1 1.9-0.5 1.6-1 1.5-1.5 0.6-1.2-0.6-0.8-0.9-0.6-1.1-0.6-1.5-0.4-1.5-0.1-1.5 0-2 0.3-1.5 0.7-1.5zM207.9 335.5l1.6 0.3 0.9 1.2 0.6 1.3 0.3 1.7-0.1 2-0.7 1.4-1.5 0.4-1-0.8-0.7-1.5-0.4-1.5-0.1-2 0.4-1.5z" fill="none" stroke="#8a8f94" stroke-width="0.5"/>
<defs><filter id="b1" x="-0.5" y="-0.2" width="2" height="1.4"><feGaussianBlur stdDeviation="0.9"/></filter></defs>
<path d="M208.5 325.5C203.5 329 201 337 202 345C202.8 351 205.5 355.5 209.5 357" fill="none" stroke="#3c3c3c" stroke-width="2.6" stroke-opacity="0.75" filter="url(#b1)"/>
<path d="M206 330C204 336 204 347 207.5 354L216 345Z" fill="#444" fill-opacity="0.22" filter="url(#b1)"/>
<path d="M314.6 363l-0.8-1-0.7-1-0.9-1.5-0.7-1.5-0.5-1.2-0.5-1.3-0.5-1.3-0.4-1.2-0.5-1.5-0.5-1.5-0.5-1.5-0.4-1.5-0.3-1.5-0.3-1.5-0.3-1.5-0.1-1.5-0.1-2 0-2 0.1-2 0.1-1.5 0.2-1.5 0.3-1.5 0.4-1.5 0.4-1.5 0.4-1.3 0.4-1.2 0.6-1.4 0.5-1.1 0.8-1.5 0.7-1.2 0.8-1.3 0.8-1 0.8-1 0.9-1 1.1-1 1.1-0.8 1-0.6 1.2-0.6 1.3-0.5 1.5-0.4 1.5-0.2 1.5-0.1 2 0.1 1.5 0.1 1.5 0.4 1.5 0.5 1.4 0.6 1.1 0.6 1 0.6 1 0.8 1 0.9 1 1.1 0.8 1 0.7 1 0.8 1.5 0.7 1.5 0.5 1.4 0.4 1.6 0.3 1.5 0.1 1.5 0 2-0.1 1.5-0.2 1.5-0.3 1.5-0.4 1.5-0.6 1.5-0.6 1.5-0.6 1.2-0.7 1.3-0.7 1-0.6 1-0.7 1-0.8 1-0.7 1-0.8 1-0.9 1-0.8 1-0.8 0.9-1 1.1-1 1-1 0.9-1 1-1 0.9-1 1-1 1.2-0.8 1-0.7 0.9-0.8 1.1-0.8 1-0.9 0.9z" fill="#1c1c1c" fill-opacity="0.140"/>
<path d="M319.6 318.5l1.4-0.3 1.5-0.2 2 0 2 0.1 1.5 0.3 1.5 0.4 1.5 0.7 1 0.6 1 0.8 1 1 0.9 1.1 0.6 1.1 0.5 1.1 0.4 1.3 0.3 1.5 0.1 1.5-0.1 2-0.2 1.4-0.4 1.6-0.6 1.5-0.7 1.5-0.8 1.4-0.7 1.1-0.7 1-0.7 1-0.8 1-0.8 1-0.8 1-0.9 1-0.9 1-0.8 1-0.8 1-0.6 1-0.6 1-0.9 1.5-0.8 1.5-0.7 1.2-0.8 1.3-0.7 1-0.9 1-1.1 0.8-1.5 0.4-1.5-0.5-1-0.9-0.9-1.3-0.6-1.2-0.5-1.2-0.5-1.4-0.5-1.7-0.4-1.5-0.3-1.5-0.3-1.5-0.2-1.5-0.2-1.5-0.1-1.5-0.1-2 0-2 0-2 0.2-1.5 0.2-1.5 0.2-1.4 0.3-1.6 0.5-1.5 0.4-1.5 0.6-1.5 0.7-1.4 0.6-1.1 0.6-1 0.8-1 0.9-1 1.1-0.9 1-0.6z" fill="#1c1c1c" fill-opacity="0.140"/>
<path d="M318.8 322.5l1.7-0.4 2 0.2 1.5 0.3 1.4 0.4 1.6 0.5 1.2 0.5 1.3 0.8 1 1 0.8 1.2 0.6 1.5 0.3 1.5-0.1 2-0.3 1.5-0.5 1.5-0.7 1.5-0.6 1.1-0.9 1.4-0.7 1-0.6 1-0.7 1-0.6 1-0.8 1.5-0.7 1.4-0.5 1.1-0.5 1.2-0.5 1.1-0.5 1.2-0.7 1.5-0.8 1.5-0.6 1-0.8 1-1.1 1-1.5 0.4-1.5-0.7-1-1.2-0.8-1.5-0.6-1.5-0.4-1.5-0.4-1.5-0.3-1.5-0.2-1.5-0.2-1.5-0.1-1.5 0-2 0-2 0.1-2 0.1-1.5 0.3-1.5 0.3-1.5 0.3-1.5 0.5-1.5 0.6-1.5 0.7-1.5 0.6-1 0.7-1 0.8-0.8 1-0.8z" fill="#1c1c1c" fill-opacity="0.140"/>
<path d="M318.3 325.5l1.7-0.4 1.5 0.3 1.1 0.6 0.9 0.7 0.9 0.8 1 1 0.6 1 0.7 1.5 0.2 1.5-0.2 2-0.3 1.5-0.4 1.3-0.5 1.7-0.5 1.5-0.4 1.5-0.5 1.5-0.4 1.5-0.5 1.5-0.5 1.5-0.6 1.5-0.6 1.3-0.6 1.2-0.7 1-0.7 0.9-1 0.7-1.6-0.1-1.1-1-0.7-1-0.6-1.4-0.5-1.6-0.3-1.5-0.3-1.5-0.2-1.5-0.1-1.5-0.1-2 0-2 0.1-2 0.2-1.5 0.3-1.5 0.3-1.5 0.4-1.5 0.6-1.5 0.6-1.4 0.7-1.1 0.8-1 1-0.8z" fill="#1c1c1c" fill-opacity="0.140"/>
<path d="M318 328l1.5-0.4 1.3 0.4 1.2 1 0.7 1 0.7 1.5 0.4 1.5 0.2 1.5 0 2-0.1 1.5-0.2 1.5-0.3 1.5-0.3 1.5-0.3 1.5-0.4 1.5-0.4 1.3-0.5 1.4-0.5 1.2-0.6 1.1-0.6 1-1.1 1-1.7 0.1-1-1-0.6-1.1-0.6-1.5-0.4-1.5-0.2-1.5-0.2-1.5-0.1-1.5-0.1-2 0.1-2 0.1-1.5 0.2-1.5 0.3-1.5 0.4-1.5 0.6-1.5 0.5-1.1 0.9-1.4 1.1-1z" fill="#1c1c1c" fill-opacity="0.140"/>
<path d="M318.4 330l1.6 0 1 0.9 0.7 1.1 0.5 1.5 0.3 1.5 0.1 1.5 0 2-0.1 1.5-0.2 1.5-0.2 1.5-0.4 1.5-0.4 1.5-0.5 1.5-0.7 1.5-0.7 1-0.9 0.8-1.5-0.2-0.9-1.1-0.6-1.4-0.4-1.6-0.3-1.5-0.2-1.5 0-2 0-2 0.2-1.5 0.2-1.5 0.3-1.5 0.5-1.5 0.7-1.5 0.6-1 0.9-0.8z" fill="#1c1c1c" fill-opacity="0.140"/>
<path d="M317.8 332.5l1.2-0.5 1.4 1 0.6 1.2 0.4 1.3 0.2 1.5 0 2-0.1 2-0.2 1.5-0.3 1.5-0.4 1.5-0.6 1.5-1 1.5-1.3 0.5-1.1-1-0.6-1.3-0.4-1.7-0.2-1.5-0.1-2 0.1-2 0.1-1.5 0.3-1.5 0.5-1.5 0.7-1.5z" fill="#1c1c1c" fill-opacity="0.140"/>
<path d="M318.2 334.5l1.5 0.5 0.7 1.5 0.2 1.5 0.1 2-0.1 1.5-0.3 1.5-0.4 1.5-0.7 1.5-1.2 1-1-0.8-0.5-1.2-0.3-1.5-0.1-1.5 0-2 0.2-1.5 0.3-1.5 0.7-1.5 0.7-0.9z" fill="#1c1c1c" fill-opacity="0.140"/>
<path d="M318.1 337.5l1.3 1 0.2 1.5-0.2 2-0.4 1.3-1 0.9-0.7-1.2-0.2-1.5 0.1-2 0.5-1.5z" fill="#1c1c1c" fill-opacity="0.140"/>
<path d="M314.6 363l-0.8-1-0.7-1-0.9-1.5-0.7-1.5-0.5-1.2-0.5-1.3-0.5-1.3-0.4-1.2-0.5-1.5-0.5-1.5-0.5-1.5-0.4-1.5-0.3-1.5-0.3-1.5-0.3-1.5-0.1-1.5-0.1-2 0-2 0.1-2 0.1-1.5 0.2-1.5 0.3-1.5 0.4-1.5 0.4-1.5 0.4-1.3 0.4-1.2 0.6-1.4 0.5-1.1 0.8-1.5 0.7-1.2 0.8-1.3 0.8-1 0.8-1 0.9-1 1.1-1 1.1-0.8 1-0.6 1.2-0.6 1.3-0.5 1.5-0.4 1.5-0.2 1.5-0.1 2 0.1 1.5 0.1 1.5 0.4 1.5 0.5 1.4 0.6 1.1 0.6 1 0.6 1 0.8 1 0.9 1 1.1 0.8 1 0.7 1 0.8 1.5 0.7 1.5 0.5 1.4 0.4 1.6 0.3 1.5 0.1 1.5 0 2-0.1 1.5-0.2 1.5-0.3 1.5-0.4 1.5-0.6 1.5-0.6 1.5-0.6 1.2-0.7 1.3-0.7 1-0.6 1-0.7 1-0.8 1-0.7 1-0.8 1-0.9 1-0.8 1-0.8 0.9-1 1.1-1 1-1 0.9-1 1-1 0.9-1 1-1 1.2-0.8 1-0.7 0.9-0.8 1.1-0.8 1-0.9 0.9zM323.4 315.5l1.6-0.1 1.7 0.1 1.8 0.3 1.5 0.4 1.5 0.6 1.3 0.7 1.2 0.9 1 0.8 1 1.2 0.8 1.1 0.7 1.2 0.5 1.1 0.5 1.5 0.4 1.7 0.1 1.5 0 2-0.1 1.5-0.3 1.5-0.4 1.5-0.6 1.5-0.6 1.4-0.6 1.1-0.9 1.5-0.6 1-0.7 1-0.8 1-0.8 1-0.8 1-0.8 1-0.9 1-1 1-0.9 1-1 1-0.8 1-0.8 1-0.7 1-0.6 1-0.7 1-0.6 1-0.6 1-0.7 1-0.9 1-0.8 0.8-1 0.7-1.5 0.4-1.5-0.4-1-0.8-0.9-1.2-0.6-1-0.8-1.5-0.6-1.5-0.5-1.5-0.4-1.5-0.4-1.5-0.4-1.5-0.3-1.5-0.3-1.5-0.2-1.5-0.2-1.5-0.2-1.5-0.1-2 0-2 0.1-2 0.2-1.5 0.2-1.5 0.3-1.5 0.3-1.5 0.5-1.5 0.5-1.5 0.6-1.5 0.7-1.5 0.8-1.5 0.6-1 0.8-1 0.8-1 1-0.9 1-0.8 1.4-0.8 1.4-0.5 1.7-0.4zM321 319l1.5-0.1 2 0 1.5 0.1 1.5 0.3 1.5 0.4 1.5 0.6 1.1 0.7 1.2 1 0.9 1 0.7 1 0.6 1.1 0.5 1.4 0.4 1.5 0.1 1.5-0.1 2-0.3 1.5-0.4 1.5-0.6 1.5-0.6 1.3-0.7 1.2-0.6 1-0.6 1-0.8 1-0.7 1-0.9 1-0.7 0.9-1 1.1-0.8 1-0.7 0.9-0.7 1.1-0.6 1-0.7 1.2-0.7 1.3-0.8 1.5-0.8 1.5-0.6 1-0.7 1-0.9 1-1 0.8-1.5 0.4-1.5-0.6-1-1-0.7-1.1-0.8-1.5-0.5-1.3-0.4-1.2-0.4-1.5-0.4-1.5-0.3-1.5-0.2-1.5-0.2-1.5-0.2-1.5-0.1-1.5-0.1-2 0-2 0.2-2 0.1-1.5 0.2-1.5 0.3-1.5 0.4-1.5 0.5-1.5 0.5-1.5 0.6-1.4 0.6-1.1 0.9-1.5 0.7-1 1-1 1.3-1 1.5-0.7zM319.4 322l1.6-0.2 1.5 0.1 1.5 0.3 1.5 0.4 1.5 0.4 1.3 0.5 1.2 0.7 1 0.8 0.8 1 0.7 1.3 0.4 1.2 0.2 1.5-0.1 2-0.3 1.5-0.5 1.5-0.7 1.5-0.8 1.5-0.7 1-0.6 1-0.7 1-0.7 1-0.7 1-0.6 1-0.7 1.3-0.6 1.2-0.7 1.5-0.6 1.5-0.6 1.3-0.6 1.2-0.7 1.5-0.6 1-0.8 1-0.8 0.9-1 0.6-1.6 0-1.4-1-0.7-1-0.7-1.5-0.6-1.5-0.4-1.5-0.4-1.5-0.3-1.5-0.2-1.5-0.2-1.5-0.1-1.5-0.1-2 0.1-2 0.1-2 0.1-1.5 0.2-1.5 0.3-1.5 0.4-1.5 0.4-1.5 0.6-1.5 0.5-1.1 0.8-1.4 0.7-1 0.9-1 1.1-0.9zM319 324.5l1.5-0.1 1.5 0.4 1.5 0.7 1 0.7 1 0.7 1 0.8 1 1.2 0.5 1.1 0.3 1.5-0.1 2-0.4 1.5-0.5 1.5-0.7 1.5-0.6 1.5-0.5 1.4-0.5 1.3-0.4 1.3-0.6 1.5-0.5 1.5-0.5 1.5-0.5 1.3-0.5 1.2-0.7 1.5-0.8 1.3-1 1.2-1 0.6-1.8-0.1-1.1-1-0.6-1-0.5-1.1-0.5-1.4-0.4-1.5-0.3-1.5-0.2-1.5-0.2-1.5-0.1-1.5-0.1-2 0.1-2 0.1-1.5 0.1-1.5 0.3-1.5 0.3-1.5 0.4-1.5 0.5-1.5 0.5-1.2 0.7-1.3 0.7-1 0.9-1 1.2-0.8zM319 327l1.5 0.1 1.4 0.9 0.9 1 0.6 1 0.6 1.4 0.4 1.6 0.1 1.5 0 2-0.2 1.5-0.2 1.5-0.3 1.5-0.3 1.5-0.4 1.5-0.4 1.5-0.5 1.5-0.5 1.5-0.7 1.5-0.8 1.5-0.8 1-1.4 0.8-1.5-0.6-0.9-1.2-0.6-1.2-0.4-1.3-0.4-1.5-0.3-1.5-0.1-1.5-0.2-1.5 0-2 0.1-2 0.1-1.5 0.2-1.5 0.3-1.5 0.4-1.5 0.5-1.5 0.6-1.5 0.7-1.1 0.8-0.9 1.2-0.9zM318.7 329.5l1.8 0.4 1 1.1 0.5 1.1 0.5 1.4 0.2 1.5 0.2 1.5-0.1 2-0.1 1.5-0.2 1.5-0.3 1.5-0.3 1.5-0.4 1.5-0.5 1.4-0.5 1.2-0.8 1.4-1 1-1.6 0-0.9-1-0.7-1.4-0.5-1.6-0.3-1.5-0.2-1.5-0.1-2 0.1-2 0.1-1.5 0.2-1.5 0.2-1.5 0.4-1.5 0.6-1.5 0.8-1.5 0.9-1zM318.2 332l1.8 0.3 0.8 1.2 0.6 1.5 0.2 1.5 0.1 1.5 0 2-0.2 1.5-0.2 1.5-0.3 1.3-0.5 1.7-0.5 1.2-0.8 1.3-1.2 0.7-1.2-0.7-0.8-1.5-0.4-1.5-0.2-1.5-0.2-1.5 0-2 0.1-1.5 0.2-1.5 0.4-1.5 0.5-1.5 0.6-1.3 1-1.1zM318.2 334.5l1.5 0.5 0.7 1.5 0.2 1.5 0.1 2-0.1 1.5-0.3 1.5-0.4 1.5-0.7 1.5-1.2 1-1-0.8-0.5-1.2-0.3-1.5-0.1-1.5 0-2 0.2-1.5 0.3-1.5 0.7-1.5 0.7-0.9zM317.9 337l1.5 0.5 0.3 1.5 0.1 2-0.3 1.5-0.5 1.5-1 0.8-0.9-1.3-0.2-1.5 0-2 0.3-1.5z" fill="none" stroke="#8a8f94" stroke-width="0.5"/>
<path d="M366.3 324.5l1.7 0 1.5 0.3 1.5 0.7 1 0.6 1 0.8 1 1 0.8 1.1 0.7 1 0.5 1.1 0.5 1.2 0.4 1.2 0.4 1.5 0.2 1.5 0.2 1.5 0 2-0.1 2-0.2 1.5-0.4 1.5-0.4 1.5-0.5 1.5-0.6 1.5-0.8 1.5-0.6 1-0.7 1-0.8 1-0.9 1-1.1 1-1.1 0.8-1.3 0.7-1.2 0.5-1.5 0.4-1.5 0.1-1.5-0.1-1.5-0.4-1.1-0.5-1.4-0.9-1-0.9-1-1.2-0.7-1-0.8-1.5-0.5-1.3-0.4-1.2-0.4-1.5-0.2-1.5-0.2-1.5 0-2 0.1-2 0.2-1.5 0.4-1.5 0.4-1.5 0.5-1.5 0.6-1.5 0.8-1.5 0.6-1 0.7-1 0.8-1 0.9-1 1.1-1 1.1-0.8 1.3-0.7 1.2-0.5 1.5-0.4z" fill="#1c1c1c" fill-opacity="0.004"/>
<path d="M365.5 327.5l2-0.1 1.5 0.4 1.5 0.7 1 0.7 0.8 0.8 0.8 1 0.7 1 0.7 1.5 0.5 1.5 0.3 1.5 0.2 1.5 0.1 2-0.1 1.8-0.2 1.7-0.4 1.5-0.4 1.3-0.5 1.2-0.5 1.2-0.7 1.3-0.7 1-0.8 1-1 1-1.3 1-1 0.6-1.5 0.7-1.5 0.3-2-0.1-1.5-0.5-1.5-0.8-1-0.9-1-1.1-0.8-1.2-0.7-1.5-0.5-1.5-0.3-1.5-0.2-1.5-0.1-2 0.1-1.8 0.2-1.7 0.4-1.5 0.4-1.3 0.5-1.2 0.5-1.2 0.7-1.3 0.7-1 0.8-1 1-1 1.3-1 1-0.6 1.5-0.7z" fill="#1c1c1c" fill-opacity="0.004"/>
<path d="M365.4 329.5l1.6-0.1 1.5 0.3 1.5 0.8 1 0.8 1 1.1 0.7 1.1 0.6 1.5 0.5 1.5 0.3 1.5 0.1 1.5-0.1 2-0.2 1.5-0.3 1.5-0.5 1.5-0.6 1.4-0.6 1.1-0.6 1-0.8 1-1 1-1 0.8-1.3 0.7-1.6 0.5-1.6 0.1-1.5-0.3-1.5-0.8-1-0.8-1-1.1-0.7-1.1-0.6-1.5-0.5-1.5-0.3-1.5-0.1-1.5 0.1-2 0.2-1.5 0.3-1.5 0.5-1.5 0.6-1.4 0.6-1.1 0.6-1 0.8-1 1-1 1-0.8 1.3-0.7z" fill="#1c1c1c" fill-opacity="0.004"/>
<path d="M364.2 331.5l1.3-0.4 2 0 1.5 0.6 1 0.7 1 1.1 0.7 1 0.6 1.5 0.4 1.5 0.3 1.5 0 2-0.2 1.5-0.3 1.5-0.5 1.5-0.5 1.2-0.7 1.3-0.8 1-0.9 1-1.1 0.9-1.2 0.6-1.3 0.4-2 0-1.5-0.6-1-0.7-1-1.1-0.7-1-0.6-1.5-0.4-1.5-0.3-1.5 0-2 0.2-1.5 0.3-1.5 0.5-1.5 0.5-1.2 0.7-1.3 0.8-1 0.9-1 1.1-0.9z" fill="#1c1c1c" fill-opacity="0.004"/>
<path d="M366 332.5l1.5 0.2 1.5 0.7 1 0.9 0.8 1.2 0.6 1.5 0.4 1.5 0.2 1.5-0.1 2-0.3 1.5-0.5 1.5-0.6 1.3-0.8 1.2-0.7 0.9-1 0.9-1 0.6-1.5 0.5-2-0.1-1.5-0.7-1-0.9-0.8-1.2-0.6-1.5-0.4-1.5-0.2-1.5 0.1-2 0.3-1.5 0.5-1.5 0.6-1.3 0.8-1.2 0.7-0.9 1-0.9 1-0.6 1.5-0.5z" fill="#1c1c1c" fill-opacity="0.004"/>
<path d="M365.3 334l1.7 0 1.2 0.5 1.2 1 0.6 1 0.6 1.5 0.3 1.5 0 2-0.2 1.5-0.5 1.5-0.7 1.4-0.7 1.1-1.1 1-1.2 0.8-1.5 0.3-1.5-0.2-1.4-0.9-0.8-1-0.8-1.5-0.3-1.5-0.2-1.5 0.2-2 0.4-1.5 0.7-1.5 0.6-1 0.8-1 1.3-1z" fill="#1c1c1c" fill-opacity="0.004"/>
<path d="M364.9 335.5l1.6-0.2 1.5 0.7 0.9 1 0.6 1.2 0.3 1.3 0.1 2-0.3 1.5-0.5 1.5-1 1.5-1.1 1-1.5 0.6-1.5-0.1-1.5-1-0.7-1-0.5-1.5-0.2-1.5 0.1-2 0.5-1.5 0.8-1.5 0.9-1 1.1-0.8z" fill="#1c1c1c" fill-opacity="0.004"/>
<path d="M365.2 337l1.8 0.2 1 0.8 0.6 1.5 0.2 1.5-0.2 1.5-0.6 1.5-0.7 1-1.3 1-1.6 0-1.4-1-0.6-1.5-0.2-1.5 0.2-1.5 0.6-1.5 0.7-1 1.3-1z" fill="#1c1c1c" fill-opacity="0.004"/>
<path d="M365.4 339l1.4 0.5 0.5 1.5-0.2 1.5-0.7 1-1.4 0.5-1-0.8-0.3-1.7 0.5-1.5 0.8-0.8z" fill="#1c1c1c" fill-opacity="0.004"/>
<path d="M364.5 325.5l1.5-0.3 2 0 1.5 0.4 1.5 0.6 1 0.7 1 0.8 1 1.2 0.8 1.1 0.7 1.3 0.5 1.2 0.5 1.5 0.3 1.5 0.3 1.5 0.1 1.5 0 2-0.1 1.5-0.2 1.5-0.4 1.5-0.4 1.5-0.5 1.5-0.6 1.3-0.6 1.2-0.9 1.5-0.8 1-0.7 0.9-1 1-1 0.8-1 0.7-1.2 0.6-1.3 0.5-1.5 0.3-2 0-1.5-0.4-1.5-0.6-1-0.7-1-0.8-1-1.2-0.8-1.1-0.7-1.3-0.5-1.2-0.5-1.5-0.3-1.5-0.3-1.5-0.1-1.5 0-2 0.1-1.5 0.2-1.5 0.4-1.5 0.4-1.5 0.5-1.5 0.6-1.3 0.6-1.2 0.9-1.5 0.8-1 0.7-0.9 1-1 1-0.8 1-0.7 1.2-0.6 1.3-0.5zM364.6 329.5l1.4-0.3 2 0.1 1.5 0.6 1 0.7 1 0.9 0.8 1 0.7 1.3 0.5 1.2 0.4 1.5 0.3 1.5 0.1 1.5 0 2-0.2 1.5-0.4 1.5-0.4 1.5-0.7 1.5-0.6 1.1-0.9 1.4-0.9 1-1.1 1-1.1 0.8-1.5 0.7-1.5 0.3-2-0.1-1.5-0.6-1-0.7-1-0.9-0.8-1-0.7-1.3-0.5-1.2-0.4-1.5-0.3-1.5-0.1-1.5 0-2 0.2-1.5 0.4-1.5 0.4-1.5 0.7-1.5 0.6-1.1 0.9-1.4 0.9-1 1.1-1 1.1-0.8 1.5-0.7zM364.5 332.5l1.5-0.3 1.5 0.1 1.5 0.7 1 0.9 0.8 1.1 0.7 1.4 0.5 1.6 0.2 1.5-0.1 2-0.2 1.5-0.4 1.5-0.5 1.3-0.6 1.2-0.7 1-0.9 1-1.3 1-1.5 0.7-1.5 0.1-1.5-0.3-1.5-0.9-1-1.1-0.6-1-0.6-1.5-0.4-1.5-0.1-1.5 0.1-2 0.3-1.5 0.4-1.5 0.7-1.5 0.6-1 0.8-1 1.1-1 1.2-0.8zM364.9 335l1.6-0.2 1.5 0.6 1 0.9 0.7 1.2 0.4 1.5 0.2 1.5-0.2 2-0.4 1.5-0.7 1.5-0.8 1-1.1 1-1.1 0.5-1.5 0.2-1.5-0.6-1-0.9-0.7-1.2-0.4-1.5-0.2-1.5 0.2-2 0.4-1.5 0.7-1.5 0.8-1 1.1-1zM365.8 337.5l1.4 0.5 0.7 1 0.4 1.5-0.1 2-0.7 1.5-0.9 1-1.4 0.5-1.4-0.5-0.7-1-0.4-1.5 0.1-2 0.7-1.5 0.9-1z" fill="none" stroke="#8a8f94" stroke-width="0.5"/>
<path d="M428.7 363l-1.2-0.9-0.9-1.1-0.6-1-0.5-1.1-0.5-1.1-0.5-1.3-0.4-1.5-0.5-1.5-0.3-1.5-0.3-1.4-0.3-1.6-0.2-1.5-0.3-1.5-0.1-1.5-0.1-1.5-0.1-2 0-2 0-2 0.2-1.5 0.1-1.5 0.3-1.5 0.3-1.5 0.3-1.5 0.4-1.3 0.4-1.2 0.6-1.5 0.5-1.2 0.6-1.3 0.9-1.5 0.7-1 0.8-1 0.9-1 1.1-0.9 1-0.7 1.5-0.7 1.5-0.6 1.5-0.3 1.5-0.2 2-0.1 2 0.1 1.5 0.4 1.5 0.5 1.5 0.8 0.9 0.7 1.1 1 0.9 1 0.7 1 0.8 1.5 0.6 1.4 0.5 1.5 0.3 1.6 0.2 1.5-0.1 2-0.3 1.5-0.5 1.5-0.6 1.4-0.7 1.6-0.8 1.5-0.8 1.5-0.7 1.4-0.6 1.1-0.8 1.5-0.9 1.5-0.7 1.2-0.8 1.3-0.6 1-0.7 1-0.7 1-0.7 0.9-0.8 1.1-0.7 1-0.7 1-0.6 1-0.7 1-0.6 1-0.6 1-0.6 1-0.7 1-0.7 1-0.8 0.8-1 0.9z" fill="#1c1c1c" fill-opacity="0.140"/>
<path d="M434.2 320.5l1.8-0.1 2-0.1 1.5 0.2 1.5 0.3 1.5 0.6 1 0.6 1 1 0.8 1 0.7 1.4 0.4 1.6 0.2 1.5-0.1 1.7-0.3 1.8-0.5 1.5-0.6 1.5-0.6 1.5-0.7 1.5-0.8 1.5-0.8 1.5-0.7 1.3-0.7 1.2-0.8 1.5-0.6 1-0.8 1.5-0.6 1.3-0.6 1.2-0.7 1.5-0.6 1.5-0.6 1.2-0.7 1.3-0.8 1.4-0.8 1.1-0.7 0.9-1 0.7-1.5 0.4-1.4-0.5-1-1-0.6-1-0.8-1.5-0.5-1.5-0.5-1.5-0.3-1.5-0.3-1.5-0.3-1.5-0.1-1.5-0.2-1.5-0.1-1.5-0.1-2 0.1-2 0.1-2 0.1-1.5 0.2-1.5 0.3-1.5 0.3-1.5 0.4-1.5 0.5-1.5 0.6-1.5 0.6-1.3 0.7-1.2 0.6-1 0.9-1 1.1-1 1.2-0.7 1.5-0.6z" fill="#1c1c1c" fill-opacity="0.140"/>
<path d="M431.5 324.5l1.5-0.3 2 0.2 1.5 0.4 1.5 0.5 1.4 0.7 1.1 0.9 0.8 1.1 0.5 1.5 0.1 1.5-0.2 1.5-0.3 1.5-0.4 1.3-0.5 1.5-0.5 1.2-0.5 1.4-0.5 1.3-0.5 1.3-0.5 1.5-0.5 1.4-0.5 1.5-0.5 1.5-0.5 1.4-0.5 1.4-0.5 1.2-0.5 1.2-0.7 1.4-0.6 1-0.8 1-0.9 0.8-1.5 0.4-1.3-0.7-0.9-1-0.8-1.5-0.5-1.4-0.5-1.6-0.3-1.5-0.3-1.5-0.2-1.5-0.1-1.5-0.1-2 0-2 0.1-2 0.1-1.5 0.2-1.5 0.2-1.5 0.4-1.5 0.4-1.5 0.5-1.5 0.6-1.5 0.8-1.5 0.7-1 0.9-1 1.1-0.8z" fill="#1c1c1c" fill-opacity="0.140"/>
<path d="M432.2 327l1.8 0.4 1 0.6 1 1 0.7 1 0.6 1.5 0.4 1.5 0 2-0.1 2-0.2 1.5-0.2 1.5-0.3 1.5-0.3 1.5-0.4 1.5-0.3 1.5-0.4 1.3-0.5 1.6-0.5 1.4-0.5 1.2-0.5 1.1-0.8 1.4-0.9 1-1.3 0.7-1.5-0.5-0.9-1.2-0.6-1.1-0.5-1.4-0.4-1.5-0.3-1.5-0.2-1.5-0.2-1.5-0.1-2 0.1-2 0.1-2 0.1-1.5 0.3-1.5 0.3-1.5 0.3-1.3 0.5-1.5 0.5-1.2 0.8-1.5 0.7-1 1-0.9 1.5-0.6z" fill="#1c1c1c" fill-opacity="0.140"/>
<path d="M431.2 329.5l1.8 0.1 1 0.8 0.8 1.1 0.6 1.5 0.4 1.5 0.1 1.5 0.1 2-0.1 2-0.2 1.5-0.2 1.4-0.3 1.6-0.3 1.5-0.4 1.5-0.5 1.5-0.5 1.4-0.5 1.1-0.7 1-0.8 0.9-1.5 0.4-1-0.6-0.8-1.2-0.6-1.5-0.4-1.5-0.3-1.5-0.2-1.5-0.1-1.5 0-2 0-2 0.2-1.5 0.2-1.5 0.3-1.5 0.4-1.5 0.6-1.5 0.7-1.4 0.8-1.1 1.2-0.9z" fill="#1c1c1c" fill-opacity="0.140"/>
<path d="M430.4 332l1.6-0.4 1.3 0.9 0.6 1 0.5 1.5 0.3 1.5 0.2 1.5 0 2-0.2 2-0.2 1.5-0.2 1.5-0.4 1.5-0.4 1.5-0.5 1.3-0.6 1.2-0.8 1-1.1 0.6-1.3-0.6-0.6-1-0.6-1.5-0.4-1.5-0.2-1.5-0.1-1.5-0.1-2 0.1-2 0.2-1.5 0.3-1.5 0.4-1.5 0.5-1.5 0.8-1.5z" fill="#1c1c1c" fill-opacity="0.140"/>
<path d="M430.5 334l1.5-0.2 1 1.1 0.5 1.3 0.4 1.8 0.1 1.5 0 2-0.2 1.5-0.2 1.5-0.3 1.5-0.5 1.5-0.7 1.5-0.8 1-1.8-0.2-0.8-1.3-0.4-1.5-0.3-1.5-0.1-1.5 0-2 0.1-1.5 0.2-1.5 0.4-1.5 0.4-1.2 0.6-1.3z" fill="#1c1c1c" fill-opacity="0.140"/>
<path d="M430.9 336l1.2 0.5 0.7 1.5 0.2 1.5 0.1 2-0.1 1.5-0.2 1.5-0.4 1.5-0.7 1.5-1.2 0.9-1-0.9-0.5-1.3-0.3-1.7-0.1-2 0.2-2 0.3-1.5 0.4-1.3 0.7-1.2z" fill="#1c1c1c" fill-opacity="0.140"/>
<path d="M430.6 339l1.3 1 0.2 1.5-0.2 2-0.4 1.3-1 0.9-0.7-1.2-0.2-1.5 0.2-2 0.4-1.5z" fill="#1c1c1c" fill-opacity="0.140"/>
<path d="M423.4 363l-0.8-1.5-0.6-1.4-0.5-1.1-0.5-1.2-0.5-1.2-0.5-1.3-0.5-1.3-0.5-1.5-0.5-1.5-0.4-1.5-0.3-1.5-0.3-1.5-0.2-1.5-0.2-1.5-0.1-1.5-0.1-2 0-2 0.1-1.9 0.1-1.6 0.2-1.5 0.2-1.5 0.3-1.5 0.3-1.5 0.4-1.5 0.4-1.5 0.5-1.5 0.6-1.5 0.5-1.3 0.5-1.1 0.6-1.1 0.8-1.5 0.6-1 0.6-1 0.7-1 0.8-1 0.9-1 1-1 1-0.9 1-0.8 1-0.7 1.2-0.6 1.3-0.6 1.5-0.5 1.5-0.3 1.5-0.2 2-0.1 1.5 0.1 1.5 0.3 1.4 0.3 1.5 0.5 1.1 0.5 1.5 0.8 1 0.6 1 0.7 1 0.9 1 1 0.9 1 0.7 1 0.7 1 0.7 1.2 0.7 1.3 0.7 1.5 0.6 1.2 0.7 1.3 0.7 1 0.8 1 0.8 0.8 1 0.8 1 0.7 1 0.7 1 0.7 1 0.7 1 0.8 0.9 0.8 1.1 0.8 1.4 0.7 1.4 0.5 1.2 0.4 1.3 0.6 1.2 0.8 1 0.9 1 1.3 0.7 1.5 0.5 1.5 0.2 1.5 0 2-0.3 1.5-0.4 1.5-0.7 1.3-1 1.2-1 0.8-1.5 0.5-2-0.3-1.5-0.9-0.9-1.1-0.7-1-0.7-1.5-0.5-1.5-0.6-1.5-0.6-1.5-0.8-1-1.2-0.8-1.5-0.4-1.5-0.2-2 0.2-1.5 0.5-1 0.7-1 0.9-0.8 1.1-0.7 1-0.6 1-0.9 1.5-0.8 1.5-0.7 1.2-0.7 1.3-0.8 1.4-0.6 1.1-0.9 1.5-0.6 1-0.6 1-0.7 1-0.7 1-0.8 1-0.8 1-1 1-0.8 0.8-1 1-1 0.9zM470.4 337.5l1.6-0.1 1 0.6 0.7 1 0.5 1.5 0 2-0.7 1.5-1 0.7-1.5-0.1-1-1-0.7-1.6-0.2-1.5 0.2-1.5 0.7-1.3zM425.4 363l-0.8-1.5-0.6-1.4-0.5-1.2-0.5-1.3-0.5-1.5-0.5-1.6-0.5-1.5-0.4-1.5-0.4-1.5-0.3-1.5-0.3-1.5-0.3-1.5-0.2-1.5-0.1-1.5-0.1-1.5-0.1-2 0.1-2 0.1-1.7 0.2-1.8 0.2-1.5 0.3-1.5 0.3-1.4 0.4-1.6 0.5-1.5 0.5-1.5 0.6-1.4 0.5-1.1 0.7-1.5 0.8-1.3 0.8-1.2 0.7-1 0.8-1 0.9-1 1.1-1 1.2-0.9 1-0.6 1.5-0.8 1.5-0.5 1.5-0.4 1.5-0.2 2-0.1 2 0.2 1.5 0.2 1.5 0.5 1.5 0.6 1.5 0.8 0.9 0.7 1.1 0.9 1 1 0.9 1.1 0.7 1 0.6 1 0.8 1.5 0.7 1.5 0.7 1.5 0.6 1.4 0.7 1.6 0.8 1.5 0.8 1.5 0.6 1.5-0.3 1.5-1.1 1-1 0.9-1 1-0.9 1.1-0.7 1-0.7 1-0.6 1-0.9 1.5-0.7 1.2-0.7 1.3-0.8 1.4-0.6 1.1-0.9 1.5-0.8 1.5-0.7 1.1-0.9 1.4-0.6 1-0.7 1-0.8 1-0.8 1-0.8 1-0.9 1-0.9 1-0.9 1-0.8 1-0.8 1-0.8 1zM427.5 363l-0.9-1-0.6-1-0.8-1.5-0.6-1.5-0.6-1.5-0.4-1.5-0.5-1.5-0.3-1.5-0.3-1.5-0.4-1.5-0.2-1.5-0.2-1.5-0.2-1.5-0.1-1.5-0.2-2 0-2 0.1-2 0.1-1.5 0.2-1.5 0.2-1.5 0.3-1.5 0.3-1.5 0.4-1.5 0.5-1.5 0.6-1.5 0.6-1.4 0.5-1.1 0.9-1.5 0.6-1 0.8-1 0.9-1 0.8-0.8 1-0.9 1-0.6 1.3-0.7 1.2-0.4 1.5-0.5 1.5-0.2 1.5-0.2 2 0 1.5 0.2 1.5 0.4 1.5 0.6 1.2 0.6 1.3 0.9 1 0.9 1 1.1 0.8 1.1 0.6 1 0.6 1.2 0.5 1.2 0.5 1.5 0.4 1.6 0.3 1.5 0.1 2-0.3 1.5-0.5 1.5-0.5 1.2-0.6 1.3-0.8 1.5-0.6 1.2-0.7 1.3-0.8 1.5-0.8 1.5-0.7 1.2-0.7 1.3-0.8 1.4-0.7 1.1-0.6 1-0.6 1-0.7 1-0.7 1-0.8 1-0.8 1-0.7 1-0.8 1-0.7 1-0.7 1-0.6 1-0.7 1-0.7 1-0.7 1-0.8 1zM435.3 317.5l1.7-0.2 2-0.1 1.5 0.2 1.5 0.3 1.5 0.5 1.3 0.8 1.2 1 1 1 0.7 1 0.7 1.5 0.6 1.5 0.3 1.5 0.1 1.5-0.1 2-0.3 1.5-0.4 1.5-0.6 1.5-0.5 1.2-0.6 1.3-0.8 1.5-0.6 1.2-0.7 1.3-0.8 1.4-0.6 1.1-0.9 1.5-0.6 1-0.7 1-0.6 1-0.7 1-0.6 1-0.6 1-0.7 1.1-0.8 1.4-0.7 1.3-0.6 1.2-0.9 1.5-0.6 1-0.7 1-0.9 1-1.3 1-1.5 0.4-1.3-0.4-1.2-1-0.7-1-0.8-1.5-0.5-1.2-0.5-1.3-0.4-1.5-0.4-1.5-0.3-1.5-0.3-1.5-0.3-1.5-0.1-1.5-0.2-1.5-0.1-1.5-0.1-2 0-2 0.1-2 0.1-1.5 0.2-1.5 0.3-1.5 0.3-1.5 0.3-1.5 0.4-1.2 0.4-1.3 0.6-1.5 0.7-1.5 0.8-1.4 0.8-1.1 0.7-0.9 1-1 1-0.8 1-0.6 1.5-0.6 1.5-0.4zM432.4 321.5l1.6-0.3 2-0.2 2 0.1 1.5 0.2 1.5 0.3 1.5 0.8 1 0.7 0.8 0.9 0.7 1 0.5 1.3 0.3 1.7 0 2-0.2 1.5-0.4 1.5-0.5 1.5-0.6 1.5-0.6 1.3-0.6 1.2-0.7 1.5-0.7 1.2-0.7 1.3-0.8 1.5-0.8 1.5-0.7 1.4-0.5 1.1-0.7 1.5-0.6 1.5-0.7 1.5-0.7 1.5-0.8 1.5-0.9 1.5-0.7 1-0.9 0.9-1.1 0.6-1.9-0.2-1-0.8-0.7-1-0.8-1.5-0.5-1.3-0.4-1.2-0.4-1.5-0.3-1.5-0.3-1.5-0.2-1.5-0.2-1.5-0.1-1.5 0-2 0-2 0.1-2 0.1-1.5 0.2-1.5 0.2-1.5 0.3-1.3 0.4-1.7 0.5-1.5 0.6-1.5 0.5-1.2 0.7-1.3 0.7-1 0.9-1 1.1-1 1.1-0.7zM431.2 325l1.3-0.4 2 0.1 1.5 0.4 1.5 0.6 1.4 0.8 1.1 0.9 0.7 1.1 0.5 1.5 0 2-0.2 1.5-0.4 1.5-0.4 1.5-0.5 1.5-0.6 1.5-0.5 1.5-0.5 1.5-0.5 1.5-0.5 1.5-0.5 1.5-0.5 1.5-0.5 1.5-0.6 1.5-0.5 1.2-0.6 1.3-0.9 1.4-0.9 1.1-1.1 0.8-2-0.3-1-1-0.6-1-0.6-1.5-0.5-1.5-0.4-1.5-0.3-1.5-0.2-1.5-0.2-1.5-0.1-2 0-2 0.1-2 0.1-1.5 0.1-1.5 0.3-1.5 0.3-1.5 0.4-1.5 0.4-1.5 0.6-1.5 0.6-1.1 0.9-1.4 0.9-1 1.2-0.9zM431.8 327.5l1.7 0.2 1.3 0.8 0.9 1 0.6 1 0.6 1.5 0.3 1.5 0.1 2-0.1 2-0.2 1.5-0.2 1.5-0.3 1.5-0.2 1.5-0.4 1.5-0.4 1.5-0.4 1.5-0.5 1.5-0.5 1.5-0.6 1.2-0.7 1.3-0.8 1-1 0.7-1.7-0.2-1-1-0.8-1.5-0.5-1.5-0.4-1.5-0.2-1.5-0.2-1.5-0.2-1.5 0-2 0-1.6 0.1-1.9 0.2-1.5 0.2-1.4 0.3-1.6 0.4-1.5 0.6-1.5 0.7-1.5 0.6-1 0.8-1 1.1-0.8zM430.6 330.5l1.4-0.4 1.5 0.8 0.8 1.1 0.7 1.5 0.3 1.5 0.2 1.5 0.1 2-0.1 1.6-0.2 1.9-0.2 1.5-0.3 1.5-0.3 1.4-0.4 1.6-0.6 1.5-0.5 1.2-0.8 1.3-1 1-1.7 0-0.9-1-0.6-1.2-0.4-1.3-0.4-1.5-0.2-1.5-0.1-1.5-0.1-2 0-2 0.2-1.5 0.2-1.5 0.3-1.5 0.4-1.5 0.5-1.5 0.6-1.2 1-1.3zM430.4 333l1.6-0.3 1 0.8 0.8 1.5 0.4 1.5 0.2 1.5 0 2-0.1 2-0.1 1.5-0.3 1.5-0.4 1.5-0.4 1.5-0.6 1.3-0.8 1.2-1.2 0.8-1.3-0.8-0.7-1.3-0.5-1.7-0.2-1.5-0.2-1.5 0-2 0.1-2 0.2-1.5 0.3-1.5 0.4-1.5 0.7-1.5 0.6-1zM430.4 335.5l1.6-0.1 0.7 1.1 0.5 1.5 0.2 1.5 0 2-0.1 1.5-0.2 1.5-0.4 1.5-0.6 1.5-0.6 1-1 0.6-1-0.7-0.6-1.4-0.4-1.5-0.1-1.5 0-2 0.1-1.5 0.3-1.5 0.4-1.5 0.7-1.5zM430.3 338l1.7 0.4 0.4 1.6 0.1 2-0.2 1.5-0.3 1.5-0.5 1.2-1 0.7-0.8-0.9-0.4-1.5-0.1-1.5 0.1-2 0.3-1.5z" fill="none" stroke="#8a8f94" stroke-width="0.5"/>
<rect x="232.5" y="304.6" width="34.5" height="55.8" fill="none" stroke="#2fbf4a" stroke-width="1.5"/>
<path d="M252 361V389" stroke="#2fbf4a" stroke-width="1.4"/>
<path d="M248.7 387.5H255.3L252 396.5Z" fill="#2fbf4a"/>
<text x="267.5" y="302.3" font-size="9.3" text-anchor="end" font-weight="normal" >17</text>
<rect x="349.6" y="304.6" width="34.0" height="55.8" fill="none" stroke="#2fbf4a" stroke-width="1.5"/>
<path d="M364.5 361V389" stroke="#2fbf4a" stroke-width="1.4"/>
<path d="M361.2 387.5H367.8L364.5 396.5Z" fill="#2fbf4a"/>
<text x="380.7" y="302.3" font-size="9.3" text-anchor="end" font-weight="normal" >4</text>
<rect x="458.8" y="304.6" width="33.80000000000001" height="55.8" fill="none" stroke="#2fbf4a" stroke-width="1.5"/>
<path d="M476 361V389" stroke="#2fbf4a" stroke-width="1.4"/>
<path d="M472.7 387.5H479.3L476 396.5Z" fill="#2fbf4a"/>
<text x="494" y="302.3" font-size="9.3" text-anchor="end" font-weight="normal" >2</text>
<path d="M43.5 340V287" stroke="#000" stroke-width="1.5"/><path d="M39.6 289.5H47.4L43.5 280.8Z" fill="#000"/>
<text x="47.6" y="364.5" font-size="11" text-anchor="start" font-weight="normal" transform="rotate(-90 47.6 364.5)" >SSC</text>
<text x="77.5" y="388.3" font-size="11" text-anchor="start" font-weight="normal" >GFP</text>
<path d="M100 385.3H467" stroke="#000" stroke-width="1.5"/><path d="M465.5 381.3V389.3L474 385.3Z" fill="#000"/>
<rect x="72.5" y="397" width="86.19999999999999" height="85" fill="#fff" stroke="#c4c4c4" stroke-width="0.8"/>
<text x="70.3" y="409.4" font-size="9" text-anchor="end" font-weight="bold" stroke="none">10<tspan font-size="6" dy="-3.2">5</tspan></text>
<text x="70.3" y="427.9" font-size="9" text-anchor="end" font-weight="bold" stroke="none">10<tspan font-size="6" dy="-3.2">4</tspan></text>
<text x="70.3" y="450.4" font-size="9" text-anchor="end" font-weight="bold" stroke="none">10<tspan font-size="6" dy="-3.2">3</tspan></text>
<text x="69.3" y="466.2" font-size="9" text-anchor="end" font-weight="bold" stroke="none">0</text>
<rect x="70.5" y="461.2" width="1.8" height="3.6" fill="#111"/>
<path d="M70.5 406.0H72.5M70.5 424.5H72.5M70.5 447.0H72.5M70.5 463.0H72.5" stroke="#555" stroke-width="0.6"/>
<text x="88" y="495.7" font-size="9" text-anchor="middle" font-weight="bold" stroke="none">0</text>
<text x="100.8" y="495.7" font-size="9" text-anchor="start" font-weight="bold" stroke="none">10<tspan font-size="6" dy="-3.2">3</tspan></text>
<text x="123.60000000000001" y="495.7" font-size="9" text-anchor="start" font-weight="bold" stroke="none">10<tspan font-size="6" dy="-3.2">4</tspan></text>
<text x="139.39999999999998" y="495.7" font-size="9" text-anchor="start" font-weight="bold" stroke="none">10<tspan font-size="6" dy="-3.2">5</tspan></text>
<path d="M76.5 482v1.8M81.8 482v1.8M87.1 482v1.8M92.4 482v1.8M97.7 482v1.8M103.0 482v1.8M108.3 482v1.8M113.6 482v1.8M118.9 482v1.8M124.2 482v1.8M129.5 482v1.8M134.8 482v1.8M140.1 482v1.8M145.4 482v1.8M150.7 482v1.8" stroke="#666" stroke-width="0.7"/>
<rect x="89.7" y="482.2" width="3.6" height="1.7" fill="#1a1a1a"/>
<rect x="185" y="397" width="86.19999999999999" height="85" fill="#fff" stroke="#c4c4c4" stroke-width="0.8"/>
<text x="182.8" y="409.4" font-size="9" text-anchor="end" font-weight="bold" stroke="none">10<tspan font-size="6" dy="-3.2">5</tspan></text>
<text x="182.8" y="427.9" font-size="9" text-anchor="end" font-weight="bold" stroke="none">10<tspan font-size="6" dy="-3.2">4</tspan></text>
<text x="182.8" y="450.4" font-size="9" text-anchor="end" font-weight="bold" stroke="none">10<tspan font-size="6" dy="-3.2">3</tspan></text>
<text x="181.8" y="466.2" font-size="9" text-anchor="end" font-weight="bold" stroke="none">0</text>
<rect x="183" y="461.2" width="1.8" height="3.6" fill="#111"/>
<path d="M183 406.0H185M183 424.5H185M183 447.0H185M183 463.0H185" stroke="#555" stroke-width="0.6"/>
<text x="196" y="495.7" font-size="9" text-anchor="middle" font-weight="bold" stroke="none">0</text>
<text x="208.6" y="495.7" font-size="9" text-anchor="start" font-weight="bold" stroke="none">10<tspan font-size="6" dy="-3.2">3</tspan></text>
<text x="228.6" y="495.7" font-size="9" text-anchor="start" font-weight="bold" stroke="none">10<tspan font-size="6" dy="-3.2">4</tspan></text>
<text x="245.89999999999998" y="495.7" font-size="9" text-anchor="start" font-weight="bold" stroke="none">10<tspan font-size="6" dy="-3.2">5</tspan></text>
<path d="M189.0 482v1.8M194.3 482v1.8M199.6 482v1.8M204.9 482v1.8M210.2 482v1.8M215.5 482v1.8M220.8 482v1.8M226.1 482v1.8M231.4 482v1.8M236.7 482v1.8M242.0 482v1.8M247.3 482v1.8M252.6 482v1.8M257.9 482v1.8M263.2 482v1.8" stroke="#666" stroke-width="0.7"/>
<rect x="201.7" y="482.2" width="3.6" height="1.7" fill="#1a1a1a"/>
<rect x="298" y="397" width="85.80000000000001" height="85" fill="#fff" stroke="#c4c4c4" stroke-width="0.8"/>
<text x="295.8" y="409.4" font-size="9" text-anchor="end" font-weight="bold" stroke="none">10<tspan font-size="6" dy="-3.2">5</tspan></text>
<text x="295.8" y="427.9" font-size="9" text-anchor="end" font-weight="bold" stroke="none">10<tspan font-size="6" dy="-3.2">4</tspan></text>
<text x="295.8" y="450.4" font-size="9" text-anchor="end" font-weight="bold" stroke="none">10<tspan font-size="6" dy="-3.2">3</tspan></text>
<text x="294.8" y="466.2" font-size="9" text-anchor="end" font-weight="bold" stroke="none">0</text>
<rect x="296" y="461.2" width="1.8" height="3.6" fill="#111"/>
<path d="M296 406.0H298M296 424.5H298M296 447.0H298M296 463.0H298" stroke="#555" stroke-width="0.6"/>
<text x="317.5" y="495.7" font-size="9" text-anchor="middle" font-weight="bold" stroke="none">0</text>
<text x="329.7" y="495.7" font-size="9" text-anchor="start" font-weight="bold" stroke="none">10<tspan font-size="6" dy="-3.2">3</tspan></text>
<text x="349.9" y="495.7" font-size="9" text-anchor="start" font-weight="bold" stroke="none">10<tspan font-size="6" dy="-3.2">4</tspan></text>
<text x="367.09999999999997" y="495.7" font-size="9" text-anchor="start" font-weight="bold" stroke="none">10<tspan font-size="6" dy="-3.2">5</tspan></text>
<path d="M302.0 482v1.8M307.3 482v1.8M312.6 482v1.8M317.9 482v1.8M323.2 482v1.8M328.5 482v1.8M333.8 482v1.8M339.1 482v1.8M344.4 482v1.8M349.7 482v1.8M355.0 482v1.8M360.3 482v1.8M365.6 482v1.8M370.9 482v1.8M376.2 482v1.8" stroke="#666" stroke-width="0.7"/>
<rect x="314.7" y="482.2" width="3.6" height="1.7" fill="#1a1a1a"/>
<rect x="408.8" y="397" width="85.0" height="85" fill="#fff" stroke="#c4c4c4" stroke-width="0.8"/>
<text x="406.6" y="409.4" font-size="9" text-anchor="end" font-weight="bold" stroke="none">10<tspan font-size="6" dy="-3.2">5</tspan></text>
<text x="406.6" y="427.9" font-size="9" text-anchor="end" font-weight="bold" stroke="none">10<tspan font-size="6" dy="-3.2">4</tspan></text>
<text x="406.6" y="450.4" font-size="9" text-anchor="end" font-weight="bold" stroke="none">10<tspan font-size="6" dy="-3.2">3</tspan></text>
<text x="405.6" y="466.2" font-size="9" text-anchor="end" font-weight="bold" stroke="none">0</text>
<rect x="406.8" y="461.2" width="1.8" height="3.6" fill="#111"/>
<path d="M406.8 406.0H408.8M406.8 424.5H408.8M406.8 447.0H408.8M406.8 463.0H408.8" stroke="#555" stroke-width="0.6"/>
<text x="426" y="495.7" font-size="9" text-anchor="middle" font-weight="bold" stroke="none">0</text>
<text x="437.7" y="495.7" font-size="9" text-anchor="start" font-weight="bold" stroke="none">10<tspan font-size="6" dy="-3.2">3</tspan></text>
<text x="457.4" y="495.7" font-size="9" text-anchor="start" font-weight="bold" stroke="none">10<tspan font-size="6" dy="-3.2">4</tspan></text>
<text x="474.2" y="495.7" font-size="9" text-anchor="start" font-weight="bold" stroke="none">10<tspan font-size="6" dy="-3.2">5</tspan></text>
<path d="M412.8 482v1.8M418.1 482v1.8M423.4 482v1.8M428.7 482v1.8M434.0 482v1.8M439.3 482v1.8M444.6 482v1.8M449.9 482v1.8M455.2 482v1.8M460.5 482v1.8M465.8 482v1.8M471.1 482v1.8M476.4 482v1.8M481.7 482v1.8M487.0 482v1.8" stroke="#666" stroke-width="0.7"/>
<rect x="424.5" y="482.2" width="3.6" height="1.7" fill="#1a1a1a"/>
<path d="M130.6 417.5l1.4-0.2 1.5 0.1 1.5 0.5 1 0.6 1 0.9 0.9 1.1 0.6 1 0.8 1.5 0.6 1.5 0.4 1.5 0.3 1.5 0.2 1.5 0.2 1.5 0.1 2-0.1 2-0.1 1.5-0.2 1.5-0.2 1.4-0.3 1.6-0.4 1.5-0.4 1.5-0.4 1.3-0.5 1.7-0.4 1.5-0.4 1.5-0.4 1.5-0.5 1.5-0.6 1.5-0.7 1.2-1 1.3-1 1-1 0.7-1.5 0.8-1.5 0.4-2 0-1.5-0.4-1.1-0.5-1.4-0.9-1-1.1-0.8-1-0.7-1.4-0.5-1.5-0.4-1.6-0.1-1.5-0.1-2 0-2 0-2 0-2 0-2 0.1-2 0.1-1.5 0.2-1.5 0.2-1.4 0.3-1.6 0.4-1.5 0.5-1.5 0.5-1.5 0.7-1.5 0.6-1.2 0.8-1.3 0.6-1 0.8-1 0.8-0.9 1-0.9 1-0.7 1.5-0.8z" fill="#1c1c1c" fill-opacity="0.030"/>
<path d="M129.9 420.5l1.6-0.4 2 0.1 1.5 0.8 1 0.9 0.9 1.1 0.6 1 0.7 1.5 0.5 1.5 0.4 1.5 0.2 1.5 0.1 1.5 0.1 2-0.1 2-0.1 1.5-0.3 1.5-0.3 1.5-0.4 1.5-0.4 1.5-0.4 1.2-0.4 1.3-0.4 1.5-0.5 1.5-0.4 1.5-0.4 1.5-0.6 1.5-0.8 1.3-1 1.2-1 0.9-1.2 0.6-1.3 0.4-2 0-1.3-0.4-1.2-0.6-1-0.9-0.8-1-0.7-1.4-0.5-1.5-0.3-1.6-0.1-1.5 0-2 0-2-0.1-2 0-2 0-2 0.1-2 0.1-1.5 0.3-1.5 0.3-1.5 0.4-1.5 0.5-1.5 0.6-1.5 0.7-1.4 0.6-1.1 0.7-1 0.8-1 0.9-0.9 1-0.8 1-0.6z" fill="#1c1c1c" fill-opacity="0.030"/>
<path d="M130 422.5l1.5-0.4 1.5 0.2 1.5 0.7 1 0.9 0.8 1.1 0.7 1.4 0.5 1.3 0.3 1.3 0.3 1.5 0.2 1.5 0 2-0.1 2-0.2 1.5-0.2 1.5-0.4 1.5-0.4 1.3-0.5 1.6-0.5 1.4-0.5 1.6-0.5 1.6-0.4 1.5-0.5 1.5-0.6 1.5-0.6 1-0.9 1-1 0.7-1.5 0.6-2 0-1.5-0.6-1-0.8-0.7-0.9-0.8-1.5-0.4-1.5-0.2-1.5 0-2-0.1-2 0-2-0.1-2-0.1-2 0.1-2 0.1-1.5 0.3-1.5 0.3-1.5 0.4-1.5 0.5-1.5 0.7-1.5 0.8-1.5 0.7-1 0.8-1 1.1-1 1.1-0.8z" fill="#1c1c1c" fill-opacity="0.030"/>
<path d="M130.9 424l2.1 0.2 1.3 0.8 0.9 1 0.7 1 0.6 1.5 0.4 1.5 0.3 1.5 0.1 1.5 0 2-0.1 1.5-0.3 1.5-0.3 1.5-0.4 1.5-0.5 1.5-0.6 1.5-0.5 1.5-0.5 1.5-0.5 1.5-0.4 1.5-0.6 1.5-0.7 1-0.9 1-1 0.6-1.5 0.3-1.5-0.3-1-0.7-1-1.4-0.5-1.2-0.3-1.8-0.1-2-0.1-2-0.1-2-0.1-1.5-0.1-2 0-2 0.1-1.5 0.2-1.5 0.3-1.5 0.4-1.5 0.6-1.5 0.7-1.5 0.9-1.5 0.8-1 1.1-1 1.2-0.7z" fill="#1c1c1c" fill-opacity="0.030"/>
<path d="M129.9 426l1.6-0.4 1.5 0.4 1 0.7 1 1.3 0.5 1.1 0.4 1.4 0.3 1.5 0.1 1.5 0 2-0.2 1.5-0.2 1.5-0.4 1.4-0.5 1.5-0.5 1.3-0.5 1.2-0.5 1.2-0.5 1.3-0.5 1.5-0.5 1.5-0.5 1.1-1 1.4-1 0.6-1.8 0-1.2-0.9-0.6-1.1-0.4-1.5-0.1-1.5-0.2-2-0.1-1.5-0.2-1.5-0.1-1.5-0.1-1.5-0.1-2 0.2-2 0.2-1.5 0.4-1.5 0.5-1.5 0.6-1.2 0.7-1.3 0.8-1 1-0.9z" fill="#1c1c1c" fill-opacity="0.030"/>
<path d="M130.3 427.5l1.7-0.1 1.2 0.6 0.8 0.9 0.6 1.1 0.4 1.2 0.3 1.8 0.1 2-0.1 1.5-0.3 1.5-0.4 1.5-0.5 1.5-0.6 1.3-0.6 1.2-0.8 1.5-0.6 1.3-0.5 1.2-0.8 1.5-1 1-1.5-0.5-0.6-1.5-0.3-1.5-0.2-1.5-0.3-1.5-0.3-1.5-0.2-1.5-0.2-1.5 0-2 0.1-1.5 0.3-1.5 0.4-1.5 0.6-1.4 0.6-1.1 0.7-1 1.1-1z" fill="#1c1c1c" fill-opacity="0.030"/>
<path d="M130.9 429l1.6 0.4 1 1.1 0.5 1.2 0.3 1.3 0.2 1.5-0.1 2-0.3 1.5-0.5 1.5-0.6 1.4-0.6 1.1-0.7 1-0.8 1-0.9 0.7-1.5-0.2-0.6-1-0.6-1.5-0.5-1.5-0.2-1.5-0.1-2 0.1-1.5 0.4-1.5 0.5-1.5 0.5-1.1 1-1.4 1-0.7z" fill="#1c1c1c" fill-opacity="0.030"/>
<path d="M130.7 430.5l1.6 0.5 0.7 0.9 0.5 1.6 0.1 1.5-0.1 1.5-0.3 1.5-0.6 1.5-0.6 1.1-1 1.2-1.5 0.5-1-0.7-0.6-1.1-0.4-1.5-0.1-1.5 0.1-2 0.3-1.5 0.6-1.5 0.7-1 0.9-0.7z" fill="#fff" fill-opacity="0.4"/>
<path d="M130 432.5l1.5-0.1 0.8 1.1 0.3 1.5-0.1 1.8-0.5 1.5-0.8 1.2-1.2 0.7-1-0.7-0.5-1.2-0.2-1.8 0.3-1.5 0.4-1.2 1-1.3z" fill="#fff" fill-opacity="0.5"/>
<path d="M130 434l1.5 0.2 0.3 1.3-0.2 1.5-0.6 1.1-1.5-0.1-0.3-1.5 0.2-1.5z" fill="#fff" fill-opacity="0.7"/>
<path d="M130.6 417.5l1.4-0.2 1.5 0.1 1.5 0.5 1 0.6 1 0.9 0.9 1.1 0.6 1 0.8 1.5 0.6 1.5 0.4 1.5 0.3 1.5 0.2 1.5 0.2 1.5 0.1 2-0.1 2-0.1 1.5-0.2 1.5-0.2 1.4-0.3 1.6-0.4 1.5-0.4 1.5-0.4 1.3-0.5 1.7-0.4 1.5-0.4 1.5-0.4 1.5-0.5 1.5-0.6 1.5-0.7 1.2-1 1.3-1 1-1 0.7-1.5 0.8-1.5 0.4-2 0-1.5-0.4-1.1-0.5-1.4-0.9-1-1.1-0.8-1-0.7-1.4-0.5-1.5-0.4-1.6-0.1-1.5-0.1-2 0-2 0-2 0-2 0-2 0.1-2 0.1-1.5 0.2-1.5 0.2-1.4 0.3-1.6 0.4-1.5 0.5-1.5 0.5-1.5 0.7-1.5 0.6-1.2 0.8-1.3 0.6-1 0.8-1 0.8-0.9 1-0.9 1-0.7 1.5-0.8zM129.9 420.5l1.6-0.4 2 0.1 1.5 0.8 1 0.9 0.9 1.1 0.6 1 0.7 1.5 0.5 1.5 0.4 1.5 0.2 1.5 0.1 1.5 0.1 2-0.1 2-0.1 1.5-0.3 1.5-0.3 1.5-0.4 1.5-0.4 1.5-0.4 1.2-0.4 1.3-0.4 1.5-0.5 1.5-0.4 1.5-0.4 1.5-0.6 1.5-0.8 1.3-1 1.2-1 0.9-1.2 0.6-1.3 0.4-2 0-1.3-0.4-1.2-0.6-1-0.9-0.8-1-0.7-1.4-0.5-1.5-0.3-1.6-0.1-1.5 0-2 0-2-0.1-2 0-2 0-2 0.1-2 0.1-1.5 0.3-1.5 0.3-1.5 0.4-1.5 0.5-1.5 0.6-1.5 0.7-1.4 0.6-1.1 0.7-1 0.8-1 0.9-0.9 1-0.8 1-0.6zM130 422.5l1.5-0.4 1.5 0.2 1.5 0.7 1 0.9 0.8 1.1 0.7 1.4 0.5 1.3 0.3 1.3 0.3 1.5 0.2 1.5 0 2-0.1 2-0.2 1.5-0.2 1.5-0.4 1.5-0.4 1.3-0.5 1.6-0.5 1.4-0.5 1.6-0.5 1.6-0.4 1.5-0.5 1.5-0.6 1.5-0.6 1-0.9 1-1 0.7-1.5 0.6-2 0-1.5-0.6-1-0.8-0.7-0.9-0.8-1.5-0.4-1.5-0.2-1.5 0-2-0.1-2 0-2-0.1-2-0.1-2 0.1-2 0.1-1.5 0.3-1.5 0.3-1.5 0.4-1.5 0.5-1.5 0.7-1.5 0.8-1.5 0.7-1 0.8-1 1.1-1 1.1-0.8zM130.9 424l2.1 0.2 1.3 0.8 0.9 1 0.7 1 0.6 1.5 0.4 1.5 0.3 1.5 0.1 1.5 0 2-0.1 1.5-0.3 1.5-0.3 1.5-0.4 1.5-0.5 1.5-0.6 1.5-0.5 1.5-0.5 1.5-0.5 1.5-0.4 1.5-0.6 1.5-0.7 1-0.9 1-1 0.6-1.5 0.3-1.5-0.3-1-0.7-1-1.4-0.5-1.2-0.3-1.8-0.1-2-0.1-2-0.1-2-0.1-1.5-0.1-2 0-2 0.1-1.5 0.2-1.5 0.3-1.5 0.4-1.5 0.6-1.5 0.7-1.5 0.9-1.5 0.8-1 1.1-1 1.2-0.7zM129.9 426l1.6-0.4 1.5 0.4 1 0.7 1 1.3 0.5 1.1 0.4 1.4 0.3 1.5 0.1 1.5 0 2-0.2 1.5-0.2 1.5-0.4 1.4-0.5 1.5-0.5 1.3-0.5 1.2-0.5 1.2-0.5 1.3-0.5 1.5-0.5 1.5-0.5 1.1-1 1.4-1 0.6-1.8 0-1.2-0.9-0.6-1.1-0.4-1.5-0.1-1.5-0.2-2-0.1-1.5-0.2-1.5-0.1-1.5-0.1-1.5-0.1-2 0.2-2 0.2-1.5 0.4-1.5 0.5-1.5 0.6-1.2 0.7-1.3 0.8-1 1-0.9zM130.3 427.5l1.7-0.1 1.2 0.6 0.8 0.9 0.6 1.1 0.4 1.2 0.3 1.8 0.1 2-0.1 1.5-0.3 1.5-0.4 1.5-0.5 1.5-0.6 1.3-0.6 1.2-0.8 1.5-0.6 1.3-0.5 1.2-0.8 1.5-1 1-1.5-0.5-0.6-1.5-0.3-1.5-0.2-1.5-0.3-1.5-0.3-1.5-0.2-1.5-0.2-1.5 0-2 0.1-1.5 0.3-1.5 0.4-1.5 0.6-1.4 0.6-1.1 0.7-1 1.1-1zM130.9 429l1.6 0.4 1 1.1 0.5 1.2 0.3 1.3 0.2 1.5-0.1 2-0.3 1.5-0.5 1.5-0.6 1.4-0.6 1.1-0.7 1-0.8 1-0.9 0.7-1.5-0.2-0.6-1-0.6-1.5-0.5-1.5-0.2-1.5-0.1-2 0.1-1.5 0.4-1.5 0.5-1.5 0.5-1.1 1-1.4 1-0.7zM130.1 431l1.7 0 1 1 0.5 1.5 0.2 1.5-0.1 1.5-0.4 1.5-0.5 1.3-0.7 1.2-0.8 0.9-1.5 0.5-1-0.9-0.7-1.5-0.2-1.5 0-2 0.3-1.5 0.5-1.5 0.6-1 1-0.9zM129.9 433l1.6-0.1 0.7 1.1 0.2 1.5-0.2 1.5-0.6 1.5-0.9 1-1.6-0.5-0.5-1.5 0.1-2 0.5-1.5z" fill="none" stroke="#a3a6aa" stroke-width="0.5"/>
<path d="M103.6 457l1.9-0.2 2-0.1 2 0 2 0 2 0 2-0.1 2 0 2 0 2 0 2 0.1 2 0.1 1.5 0.1 1.5 0.2 1.5 0.1 1.5 0.3 1.5 0.3 1.5 0.3 1.5 0.5 1.5 0.6 1.2 0.8 0.8 0.9-0.1 1.6-0.9 0.9-1.1 0.6-1.2 0.5-1.2 0.4-1.5 0.4-1.5 0.3-1.5 0.3-1.5 0.2-1.5 0.2-1.5 0.1-2 0.1-2 0-2 0.1-2-0.1-2 0-2 0-2 0-2 0-2 0-2-0.1-2-0.1-1.5-0.2-1.5-0.2-1.5-0.3-1.5-0.4-1.5-0.6-1.3-0.6-1.2-0.9-0.7-1.1 0.3-1.5 0.9-0.9 1-0.6 1.2-0.5 1.3-0.5 1.5-0.4 1.5-0.3 1.5-0.2z" fill="#1c1c1c" fill-opacity="0.170"/>
<path d="M107.2 457.5l1.8-0.1 2 0 2 0 2 0 2 0 2 0 2 0 2 0 2 0.1 1.5 0.1 1.5 0.2 1.5 0.2 1.5 0.3 1.5 0.3 1.5 0.5 1.5 0.7 1 0.7 0.4 1.5-0.8 1-1.1 0.7-1.5 0.6-1.5 0.4-1.5 0.3-1.5 0.3-1.5 0.2-1.5 0.1-1.5 0.1-2 0.1-2 0-2 0-2 0-2 0-2 0-2 0-2 0-2-0.1-1.5-0.1-1.5-0.2-1.5-0.2-1.5-0.3-1.2-0.4-1.3-0.5-1.5-0.8-0.9-1.2 0.4-1.5 1-0.8 1.4-0.7 1.5-0.5 1.6-0.4 1.5-0.2 1.5-0.2 1.5-0.1z" fill="#1c1c1c" fill-opacity="0.170"/>
<path d="M108.9 458l1.6 0 2 0 2 0 2-0.1 2 0 2 0 2 0.1 2 0.1 1.5 0.1 1.5 0.2 1.5 0.2 1.5 0.3 1.5 0.4 1.5 0.7 1 0.7 0.4 1.3-0.9 0.9-1.5 0.8-1.5 0.5-1.4 0.3-1.6 0.3-1.5 0.2-1.5 0.1-2 0.1-2 0.1-2 0-2 0-2 0-2-0.1-2 0-2 0-2-0.1-1.5-0.1-1.5-0.1-1.5-0.3-1.5-0.4-1.5-0.5-1.3-0.7-0.9-1 0.5-1.5 1.2-0.8 1.5-0.6 1.5-0.4 1.5-0.3 1.5-0.2 1.5-0.1 2-0.1z" fill="#1c1c1c" fill-opacity="0.170"/>
<path d="M108.4 458.5l1.6 0 2-0.1 2 0 2 0 2 0 2 0 2 0 2 0.1 1.5 0.1 1.5 0.2 1.5 0.3 1.5 0.3 1.5 0.6 1.5 1-0.3 1.5-1.2 0.7-1.5 0.6-1.5 0.3-1.5 0.3-1.5 0.1-1.5 0.2-2 0.1-2 0-2 0-2 0-2 0-2 0-2 0-2-0.1-2-0.1-1.5-0.2-1.5-0.3-1.5-0.4-1.5-0.6-1-0.9 0.5-1.7 1-0.6 1.5-0.6 1.5-0.3 1.5-0.2 1.5-0.2z" fill="#1c1c1c" fill-opacity="0.170"/>
<path d="M107.7 459l1.8-0.1 2 0 2 0 2 0 2 0 2 0 2 0 2 0.1 1.5 0.1 1.5 0.2 1.5 0.3 1.5 0.4 1.1 0.5 0.9 1-1 1.2-1.5 0.7-1.5 0.3-1.5 0.3-1.5 0.2-1.5 0.1-2 0-2 0-2 0-2 0-2 0-2 0-2 0-2-0.1-1.5-0.2-1.5-0.3-1.5-0.4-1.5-0.7-0.7-1.1 0.7-0.9 1.1-0.6 1.4-0.4 1.5-0.3 1.5-0.2z" fill="#1c1c1c" fill-opacity="0.170"/>
<path d="M107.3 459.5l1.7-0.1 2 0 2-0.1 2 0 2 0 2 0 2 0 2 0.1 1.5 0.1 1.5 0.2 1.5 0.4 1.2 0.4 1.1 1-0.7 1-1.2 0.5-1.4 0.4-1.5 0.2-1.5 0.2-2 0.1-2 0-2 0-2 0-2-0.1-2 0-2 0-2-0.1-1.5-0.1-1.5-0.3-1.5-0.5-1-0.8 0.5-1.3 1.5-0.6 1.5-0.4 1.5-0.2z" fill="#1c1c1c" fill-opacity="0.170"/>
<path d="M107.3 460l1.7-0.1 2-0.1 2 0 2 0 2 0 2-0.1 2 0.1 2 0.1 1.5 0.1 1.5 0.3 1.5 0.6-0.4 1.6-1.6 0.5-1.5 0.2-1.5 0.2-2 0.1-2 0-2-0.1-2 0-2 0-2 0-2-0.1-1.5-0.1-1.5-0.3-1.5-0.6 0.5-1.7 1.5-0.4z" fill="#1c1c1c" fill-opacity="0.170"/>
<path d="M110.8 460.5l1.7 0 2 0 2-0.1 2 0 2 0 1.8 0.1 1.7 0.3 1.4 0.7-0.9 0.8-1.5 0.3-1.5 0.1-2 0.1-2 0-2-0.1-2 0-2 0-2-0.1-1.5-0.1-1.5-0.4 0.5-1.2 1.5-0.2 1.5-0.2z" fill="#fff" fill-opacity="0.3"/>
<path d="M116.1 461l1.9-0.1 2 0 1.6 0.1 1.4 0.4-1 0.7-1.5 0.1-2 0.1-2-0.1-2-0.1-2 0-2 0-1.5-0.4 1.5-0.5 2-0.1 2 0z" fill="#fff" fill-opacity="0.5"/>
<path d="M106.7 457l1.8-0.1 2 0 2 0 2 0 2 0 2 0 2 0 2 0 2 0.1 2 0.1 1.5 0.1 1.5 0.2 1.5 0.3 1.5 0.3 1.5 0.3 1.5 0.5 1.5 0.7 1 0.6 0.8 0.9-0.2 1.5-1.1 0.9-1.5 0.8-1.5 0.5-1.5 0.4-1.5 0.3-1.5 0.3-1.5 0.2-1.5 0.2-1.5 0.1-2 0.1-2 0-2 0-2 0-2 0-2 0-2 0-2 0-2 0-2-0.2-1.5-0.1-1.5-0.2-1.5-0.2-1.5-0.3-1.5-0.5-1.5-0.5-1.3-0.8-1-1-0.2-1.5 0.8-1 1.2-0.8 1.5-0.7 1.5-0.4 1.5-0.4 1.5-0.3 1.5-0.2 1.5-0.1zM104.3 458l1.7-0.2 2-0.1 2 0 2 0 2 0 2 0 2-0.1 2 0 2 0.1 2 0 2 0.2 1.5 0.1 1.5 0.2 1.3 0.3 1.7 0.4 1.5 0.5 1.3 0.6 1.1 1-0.3 1.5-1.1 0.8-1.5 0.7-1.5 0.4-1.5 0.4-1.5 0.2-1.5 0.2-1.5 0.2-2 0.1-2 0-2 0.1-2-0.1-2 0-2 0-2 0-2 0-2-0.1-2-0.1-1.5-0.1-1.5-0.3-1.5-0.3-1.5-0.4-1.5-0.7-1-0.7-0.6-1.3 0.6-1.1 1-0.7 1.5-0.7 1.5-0.4 1.5-0.3 1.5-0.3zM106.1 458.5l1.9-0.1 2-0.1 2 0 2 0 2 0 2 0 2 0 2 0 2 0.1 1.5 0.1 1.5 0.2 1.5 0.2 1.5 0.4 1.5 0.4 1.5 0.8 0.7 1-0.7 1.2-1.5 0.8-1.5 0.4-1.5 0.4-1.4 0.2-1.6 0.2-1.5 0.1-2 0.1-2 0-2 0-2 0-2 0-2 0-2 0-2-0.1-2-0.1-1.5-0.2-1.5-0.2-1.5-0.4-1.5-0.6-1-0.6-0.6-1.2 0.6-1 1-0.6 1.5-0.6 1.5-0.4 1.5-0.2 1.5-0.2zM107.1 459l1.9-0.1 2 0 2 0 2-0.1 2 0 2 0 2 0 2 0.1 1.5 0.1 1.5 0.2 1.5 0.2 1.5 0.4 1.5 0.6 1 0.8-0.4 1.3-1.1 0.6-1.3 0.4-1.7 0.4-1.5 0.2-1.5 0.1-2 0.1-2 0.1-2 0-2 0-2-0.1-2 0-2 0-2 0-1.5-0.1-1.5-0.2-1.5-0.3-1.5-0.5-1.3-0.7-0.3-1.5 1.1-0.8 1.5-0.6 1.5-0.3 1.5-0.2zM107.3 459.5l1.7-0.1 2 0 2-0.1 2 0 2 0 2 0 2 0 2 0.1 1.5 0.1 1.5 0.2 1.5 0.4 1.2 0.4 1.1 1-0.7 1-1.2 0.5-1.4 0.4-1.5 0.2-1.5 0.2-2 0.1-2 0-2 0-2 0-2-0.1-2 0-2 0-2-0.1-1.5-0.1-1.5-0.3-1.5-0.5-1-0.8 0.5-1.3 1.5-0.6 1.5-0.4 1.5-0.2zM107.3 460l1.7-0.1 2-0.1 2 0 2 0 2 0 2-0.1 2 0.1 2 0.1 1.5 0.1 1.5 0.3 1.5 0.6-0.4 1.6-1.6 0.5-1.5 0.2-1.5 0.2-2 0.1-2 0-2-0.1-2 0-2 0-2 0-2-0.1-1.5-0.1-1.5-0.3-1.5-0.6 0.5-1.7 1.5-0.4z" fill="none" stroke="#505050" stroke-width="0.6"/>
<path d="M223.9 444.5l1.1 0.6 0.3 1.4-0.1 2-0.3 1.5-0.5 1.5-0.6 1.5-0.5 1.5 0.5 1.5 1.7 0.3 2-0.1 2 0 1.5 0.1 1.5 0.4 1.3 0.8 0.1 1.5-0.7 1-1.2 0.9-1.5 0.9-1.5 0.6-1.5 0.5-1.5 0.4-1.5 0.3-1.5 0.2-1.5 0.1-1.5 0.1-2 0.1-1.5-0.1-1.2-0.5-0.8-0.9-0.1-1.6 0.6-1.5 0.8-1.5 0.6-1.5 0.4-1.5 0.5-1.5 0.5-1.5 0.7-1.5 0.8-1.5 0.6-1 0.7-1 0.9-1 1-0.9z" fill="none" stroke="#aaa" stroke-width="0.5"/>
<path d="M246.3 417l1.7 0 1.5 0.5 1.5 0.9 1 1.1 0.7 1 0.8 1.5 0.5 1.5 0.3 1.5 0.2 1.5 0.1 2-0.1 2-0.1 1.5-0.2 1.5-0.3 1.5-0.4 1.5-0.4 1.5-0.6 1.5-0.5 1.4-0.5 1.3-0.5 1.2-0.5 1.4-0.4 1.2-0.4 1.5-0.5 1.5-0.6 1.5-0.6 1.2-0.9 1.3-1 1-1.1 0.9-1 0.6-1.5 0.7-1.5 0.5-1.5 0.2-2 0.1-1.5-0.3-1.5-0.4-1.5-0.8-1-0.8-1-1-0.9-1.2-0.6-1.4-0.4-1.6-0.1-1.5 0.1-2 0.3-1.5 0.3-1.5 0.3-1.3 0.3-1.7 0.3-1.5 0.3-1.5 0.3-1.5 0.4-1.5 0.5-1.5 0.6-1.5 0.6-1.5 0.7-1.5 0.8-1.5 0.6-1 0.7-1 0.7-1 0.8-1 0.9-1 1-1 1-0.9 1-0.7 1-0.6 1.5-0.7 1.5-0.5z" fill="#1c1c1c" fill-opacity="0.075"/>
<path d="M244.4 420l1.6-0.3 1.5 0.1 1.5 0.6 1 0.8 1 1.2 0.6 1.1 0.6 1.5 0.3 1.3 0.2 1.7 0.1 2-0.1 2-0.2 1.5-0.3 1.5-0.4 1.5-0.4 1.5-0.6 1.5-0.6 1.5-0.6 1.5-0.6 1.4-0.5 1.4-0.5 1.6-0.5 1.5-0.5 1.3-0.7 1.3-0.7 1-1 1-1.1 0.8-1.3 0.7-1.6 0.5-1.6 0.2-2-0.1-1.5-0.4-1.3-0.7-1.2-0.9-0.9-1.1-0.8-1.5-0.4-1.5-0.1-2 0.2-1.5 0.3-1.5 0.3-1.5 0.3-1.5 0.2-1.5 0.3-1.5 0.3-1.5 0.3-1.4 0.5-1.6 0.5-1.5 0.5-1.2 0.6-1.3 0.8-1.5 0.6-1 0.6-1 0.8-1 0.8-1 0.8-0.8 1-1 0.9-0.7 1.1-0.7 1.5-0.7z" fill="#1c1c1c" fill-opacity="0.075"/>
<path d="M244.3 422l1.7-0.2 1.5 0.3 1.4 0.9 0.9 1 0.7 1.2 0.5 1.3 0.3 1.5 0.1 1.5 0 2-0.1 1.5-0.2 1.5-0.4 1.5-0.4 1.5-0.6 1.5-0.6 1.5-0.6 1.4-0.5 1.1-0.5 1.2-0.5 1.3-0.5 1.5-0.5 1.5-0.5 1.1-0.9 1.4-0.9 1-1.2 0.8-1.5 0.7-1.5 0.3-2 0-1.5-0.5-1.4-0.8-1-1-0.7-1-0.5-1.5-0.1-1.5 0.1-1.5 0.2-1.5 0.3-1.5 0.2-1.5 0.2-1.5 0.3-1.5 0.2-1.5 0.4-1.5 0.4-1.5 0.4-1.3 0.5-1.2 0.5-1.1 0.7-1.4 0.6-1 0.7-1 0.8-1 0.9-1 0.8-0.8 1-0.8 1-0.7 1.5-0.6z" fill="#1c1c1c" fill-opacity="0.075"/>
<path d="M243.3 424l1.7-0.4 1.5 0.1 1.5 0.8 0.9 1 0.6 1.2 0.4 1.3 0.3 1.5 0.1 2-0.1 1.5-0.2 1.5-0.4 1.5-0.4 1.5-0.6 1.5-0.6 1.4-0.7 1.6-0.8 1.5-0.5 1.3-0.4 1.2-0.6 1.5-0.5 1.3-0.7 1.2-0.8 0.9-1 0.8-1.5 0.6-1.5 0.3-1.5-0.2-1.2-0.4-1.3-1-0.8-1-0.5-1.5-0.1-1.5 0.1-1.5 0.3-1.5 0.2-1.5 0.2-1.5 0.2-1.5 0.1-1.5 0.3-1.4 0.4-1.6 0.4-1.5 0.6-1.5 0.6-1.3 0.7-1.2 0.6-1 0.7-0.9 0.9-1.1 1-1 1.1-0.8z" fill="#1c1c1c" fill-opacity="0.075"/>
<path d="M243.5 425.5l1.5-0.3 1.5 0.4 1 0.7 0.8 1.2 0.6 1.5 0.3 1.5 0 2-0.2 1.5-0.3 1.5-0.4 1.5-0.5 1.5-0.7 1.5-0.6 1.2-0.7 1.3-0.7 1.5-0.6 1.4-0.5 1.3-0.5 1.2-0.6 1.1-0.9 1-1 0.7-1.5 0.5-2-0.2-1.5-1-0.7-1-0.3-1.5 0-1.8 0.2-1.7 0.2-1.5 0.1-1.5 0.1-1.5 0.2-1.5 0.2-1.5 0.4-1.5 0.5-1.5 0.6-1.5 0.8-1.5 0.6-1 0.7-1 0.9-1 1-0.9 1-0.6z" fill="#1c1c1c" fill-opacity="0.075"/>
<path d="M243.8 427l1.7 0 1.4 1 0.6 1 0.4 1.5 0.2 1.5-0.1 2-0.3 1.5-0.4 1.5-0.6 1.5-0.7 1.4-0.6 1.1-0.9 1.5-0.8 1.5-0.7 1.4-0.5 1.2-0.8 1.4-1 1-1.1 0.5-1.6-0.2-1-0.8-0.5-1.5 0-1.6 0.1-1.9 0.1-2 0-2 0.2-2 0.3-1.5 0.3-1.3 0.5-1.4 0.5-1.2 0.6-1.1 0.7-1 0.9-1 0.8-0.8 1-0.7z" fill="#1c1c1c" fill-opacity="0.075"/>
<path d="M242.6 429l1.4-0.4 1.5 0.4 0.9 1 0.5 1.5 0.1 1.5-0.1 1.5-0.3 1.5-0.5 1.5-0.6 1.3-0.7 1.2-0.7 1-0.7 1-0.8 1-0.7 1-0.8 1-0.9 1-1.4-0.5-0.4-1.5-0.2-1.5-0.2-1.5-0.1-1.5 0-2 0.3-1.5 0.3-1.3 0.4-1.2 0.6-1.2 0.9-1.3 0.8-1 1.3-1z" fill="#1c1c1c" fill-opacity="0.075"/>
<path d="M242.5 431l1.5-0.3 1 0.6 0.5 1.2 0.2 1.5-0.2 1.5-0.5 1.4-0.5 1.1-0.7 1-0.8 1-1 0.8-1.5 0.1-0.8-0.9-0.4-1.5 0.1-2 0.3-1.5 0.6-1.5 0.6-1 0.9-1z" fill="#fff" fill-opacity="0.3"/>
<path d="M242.3 432.5l1.7-0.1 0.6 1.1-0.1 2-0.5 1.5-0.7 1-0.8 0.8-1.5 0.2-0.6-1-0.1-1.5 0.3-1.5 0.8-1.5z" fill="#fff" fill-opacity="0.4"/>
<path d="M246.3 417l1.7 0 1.5 0.5 1.5 0.9 1 1.1 0.7 1 0.8 1.5 0.5 1.5 0.3 1.5 0.2 1.5 0.1 2-0.1 2-0.1 1.5-0.2 1.5-0.3 1.5-0.4 1.5-0.4 1.5-0.6 1.5-0.5 1.4-0.5 1.3-0.5 1.2-0.5 1.4-0.4 1.2-0.4 1.5-0.5 1.5-0.6 1.5-0.6 1.2-0.9 1.3-1 1-1.1 0.9-1 0.6-1.5 0.7-1.5 0.5-1.5 0.2-2 0.1-1.5-0.3-1.5-0.4-1.5-0.8-1-0.8-1-1-0.9-1.2-0.6-1.4-0.4-1.6-0.1-1.5 0.1-2 0.3-1.5 0.3-1.5 0.3-1.3 0.3-1.7 0.3-1.5 0.3-1.5 0.3-1.5 0.4-1.5 0.5-1.5 0.6-1.5 0.6-1.5 0.7-1.5 0.8-1.5 0.6-1 0.7-1 0.7-1 0.8-1 0.9-1 1-1 1-0.9 1-0.7 1-0.6 1.5-0.7 1.5-0.5zM244.4 420l1.6-0.3 1.5 0.1 1.5 0.6 1 0.8 1 1.2 0.6 1.1 0.6 1.5 0.3 1.3 0.2 1.7 0.1 2-0.1 2-0.2 1.5-0.3 1.5-0.4 1.5-0.4 1.5-0.6 1.5-0.6 1.5-0.6 1.5-0.6 1.4-0.5 1.4-0.5 1.6-0.5 1.5-0.5 1.3-0.7 1.3-0.7 1-1 1-1.1 0.8-1.3 0.7-1.6 0.5-1.6 0.2-2-0.1-1.5-0.4-1.3-0.7-1.2-0.9-0.9-1.1-0.8-1.5-0.4-1.5-0.1-2 0.2-1.5 0.3-1.5 0.3-1.5 0.3-1.5 0.2-1.5 0.3-1.5 0.3-1.5 0.3-1.4 0.5-1.6 0.5-1.5 0.5-1.2 0.6-1.3 0.8-1.5 0.6-1 0.6-1 0.8-1 0.8-1 0.8-0.8 1-1 0.9-0.7 1.1-0.7 1.5-0.7zM244.3 422l1.7-0.2 1.5 0.3 1.4 0.9 0.9 1 0.7 1.2 0.5 1.3 0.3 1.5 0.1 1.5 0 2-0.1 1.5-0.2 1.5-0.4 1.5-0.4 1.5-0.6 1.5-0.6 1.5-0.6 1.4-0.5 1.1-0.5 1.2-0.5 1.3-0.5 1.5-0.5 1.5-0.5 1.1-0.9 1.4-0.9 1-1.2 0.8-1.5 0.7-1.5 0.3-2 0-1.5-0.5-1.4-0.8-1-1-0.7-1-0.5-1.5-0.1-1.5 0.1-1.5 0.2-1.5 0.3-1.5 0.2-1.5 0.2-1.5 0.3-1.5 0.2-1.5 0.4-1.5 0.4-1.5 0.4-1.3 0.5-1.2 0.5-1.1 0.7-1.4 0.6-1 0.7-1 0.8-1 0.9-1 0.8-0.8 1-0.8 1-0.7 1.5-0.6zM243.3 424l1.7-0.4 1.5 0.1 1.5 0.8 0.9 1 0.6 1.2 0.4 1.3 0.3 1.5 0.1 2-0.1 1.5-0.2 1.5-0.4 1.5-0.4 1.5-0.6 1.5-0.6 1.4-0.7 1.6-0.8 1.5-0.5 1.3-0.4 1.2-0.6 1.5-0.5 1.3-0.7 1.2-0.8 0.9-1 0.8-1.5 0.6-1.5 0.3-1.5-0.2-1.2-0.4-1.3-1-0.8-1-0.5-1.5-0.1-1.5 0.1-1.5 0.3-1.5 0.2-1.5 0.2-1.5 0.2-1.5 0.1-1.5 0.3-1.4 0.4-1.6 0.4-1.5 0.6-1.5 0.6-1.3 0.7-1.2 0.6-1 0.7-0.9 0.9-1.1 1-1 1.1-0.8zM243.5 425.5l1.5-0.3 1.5 0.4 1 0.7 0.8 1.2 0.6 1.5 0.3 1.5 0 2-0.2 1.5-0.3 1.5-0.4 1.5-0.5 1.5-0.7 1.5-0.6 1.2-0.7 1.3-0.7 1.5-0.6 1.4-0.5 1.3-0.5 1.2-0.6 1.1-0.9 1-1 0.7-1.5 0.5-2-0.2-1.5-1-0.7-1-0.3-1.5 0-1.8 0.2-1.7 0.2-1.5 0.1-1.5 0.1-1.5 0.2-1.5 0.2-1.5 0.4-1.5 0.5-1.5 0.6-1.5 0.8-1.5 0.6-1 0.7-1 0.9-1 1-0.9 1-0.6zM243.8 427l1.7 0 1.4 1 0.6 1 0.4 1.5 0.2 1.5-0.1 2-0.3 1.5-0.4 1.5-0.6 1.5-0.7 1.4-0.6 1.1-0.9 1.5-0.8 1.5-0.7 1.4-0.5 1.2-0.8 1.4-1 1-1.1 0.5-1.6-0.2-1-0.8-0.5-1.5 0-1.6 0.1-1.9 0.1-2 0-2 0.2-2 0.3-1.5 0.3-1.3 0.5-1.4 0.5-1.2 0.6-1.1 0.7-1 0.9-1 0.8-0.8 1-0.7zM242.6 429l1.4-0.4 1.5 0.4 0.9 1 0.5 1.5 0.1 1.5-0.1 1.5-0.3 1.5-0.5 1.5-0.6 1.3-0.7 1.2-0.7 1-0.7 1-0.8 1-0.7 1-0.8 1-0.9 1-1.4-0.5-0.4-1.5-0.2-1.5-0.2-1.5-0.1-1.5 0-2 0.3-1.5 0.3-1.3 0.4-1.2 0.6-1.2 0.9-1.3 0.8-1 1.3-1zM242.9 430.5l1.6 0 1 1 0.4 1.5-0.2 2-0.3 1.5-0.7 1.5-0.6 1-0.8 1-0.8 0.8-1 0.6-1.5-0.3-0.6-1.1-0.3-1.5 0.1-2 0.3-1.5 0.5-1.3 0.7-1.2 0.8-1 1-0.8zM242.3 432.5l1.7-0.1 0.6 1.1-0.1 2-0.5 1.5-0.7 1-0.8 0.8-1.5 0.2-0.6-1-0.1-1.5 0.3-1.5 0.8-1.5z" fill="none" stroke="#9a9da1" stroke-width="0.5"/>
<path d="M234.6 455l1.9-0.2 2-0.1 2 0.1 1.5 0.1 1.5 0.3 1.5 0.3 1.5 0.4 1.5 0.5 1.1 0.6 1.4 0.9 1 1.1 0.5 1.5-0.4 1.5-0.8 1-1.3 1-1.5 0.8-1.5 0.5-1.5 0.4-1.3 0.3-1.7 0.3-1.5 0.1-2 0.1-2-0.1-1.5-0.1-1.5-0.3-1.5-0.3-1.5-0.4-1.5-0.5-1.5-0.8-1-0.7-1-1.2-0.5-1.1 0.2-1.5 0.7-1 1.1-1 1-0.6 1.5-0.7 1.5-0.5 1.5-0.3 1.5-0.3z" fill="#1c1c1c" fill-opacity="0.130"/>
<path d="M234.1 456l1.4-0.2 1.5-0.1 2-0.1 2 0.1 1.5 0.2 1.5 0.3 1.5 0.4 1.5 0.6 1.3 0.8 1.1 1 0.6 1.5-0.5 1.5-0.9 1-1.1 0.7-1.5 0.7-1.5 0.5-1.5 0.3-1.5 0.2-1.5 0.1-2 0.1-1.5-0.1-1.5-0.1-1.5-0.3-1.5-0.4-1.5-0.5-1.3-0.7-1.2-0.9-0.8-1.1-0.1-1.5 0.9-1.4 1-0.8 1.5-0.8 1.5-0.5 1.5-0.4z" fill="#1c1c1c" fill-opacity="0.130"/>
<path d="M235.3 456.5l1.7-0.2 2 0 2 0.1 1.5 0.2 1.5 0.4 1.5 0.5 1.5 0.8 1 1 0.5 1.2-0.5 1.4-1 1-1.1 0.6-1.2 0.5-1.7 0.5-1.5 0.2-1.5 0.2-2 0-2-0.1-1.5-0.2-1.5-0.4-1.5-0.5-1.3-0.7-1.2-1-0.5-1.5 0.5-1.2 1-1 1.5-0.8 1.4-0.5 1.6-0.4z" fill="#1c1c1c" fill-opacity="0.130"/>
<path d="M235.9 457l1.6-0.2 2 0 1.5 0.2 1.5 0.2 1.5 0.5 1.5 0.7 1 0.7 0.7 1.4-0.6 1.5-1.1 0.8-1.4 0.7-1.6 0.4-1.5 0.3-1.5 0.2-2 0-1.5-0.2-1.5-0.3-1.5-0.4-1.2-0.5-1.3-0.9-0.7-1.1 0.4-1.5 0.8-0.8 1-0.6 1.5-0.6 1.5-0.4z" fill="#1c1c1c" fill-opacity="0.130"/>
<path d="M236.3 457.5l1.7-0.1 2 0 1.5 0.2 1.5 0.4 1.2 0.5 1.3 1 0.4 1.5-0.7 1-1.2 0.8-1.5 0.5-1.5 0.4-1.5 0.1-2 0-1.5-0.1-1.5-0.4-1.5-0.5-1.2-0.8-0.7-1 0.4-1.5 1-0.8 1.5-0.7 1.5-0.4z" fill="#1c1c1c" fill-opacity="0.130"/>
<path d="M236.7 458l1.8-0.1 1.8 0.1 1.7 0.3 1.5 0.7 1 0.8-0.1 1.7-0.9 0.7-1.5 0.6-1.5 0.4-1.5 0.1-2-0.1-1.4-0.2-1.6-0.5-1-0.6-0.8-1.4 0.8-1.2 1.5-0.8 1.5-0.4z" fill="#1c1c1c" fill-opacity="0.130"/>
<path d="M237 458.5l2-0.1 1.5 0.2 1.5 0.4 1 0.6 0.5 1.3-1 1-1.5 0.6-1.5 0.3-2 0-1.5-0.3-1.4-0.5-1.1-1 0.5-1.4 1-0.6 1.5-0.4z" fill="#1c1c1c" fill-opacity="0.130"/>
<path d="M236.9 459l1.6-0.1 1.5 0.1 1.5 0.5 1 1-1 1.2-1.5 0.5-1.5 0.1-1.5-0.1-1.5-0.5-0.9-0.7 0.4-1.2 1.5-0.7z" fill="#fff" fill-opacity="0.5"/>
<path d="M237.4 459.5l1.6-0.1 1.5 0.4 0.6 1.2-1.1 0.6-1.5 0.2-1.5-0.2-1.1-0.6 0.6-1.2z" fill="#fff" fill-opacity="0.7"/>
<path d="M237.5 460l1.5-0.1 1.2 0.6-1.2 0.8-1.5-0.1z" fill="#fff" fill-opacity="0.9"/>
<path d="M236.4 454.5l1.6-0.1 2 0.1 1.5 0.1 1.5 0.1 1.5 0.3 1.5 0.3 1.5 0.5 1.5 0.6 1.1 0.6 1.3 1 0.9 1 0.4 1.5-0.3 1.5-0.8 1-1.1 0.9-1.5 0.9-1.5 0.6-1.5 0.5-1.5 0.3-1.5 0.3-1.5 0.1-1.5 0.2-2 0-2-0.1-1.5-0.2-1.5-0.2-1.4-0.3-1.6-0.4-1.5-0.6-1.5-0.8-1-0.6-1-1-0.6-1.1 0.1-2 0.6-1 0.9-0.9 1-0.6 1.5-0.8 1.5-0.6 1.5-0.4 1.5-0.3 1.5-0.2 1.5-0.2zM236.8 455.5l1.7-0.1 1.7 0.1 1.8 0.2 1.5 0.2 1.5 0.4 1.5 0.5 1.5 0.7 1 0.7 0.8 0.8 0.6 1.5-0.4 1.4-1 1.1-1 0.7-1.5 0.7-1.5 0.5-1.5 0.4-1.5 0.2-1.5 0.2-2 0.1-2-0.1-1.5-0.2-1.5-0.2-1.5-0.4-1.3-0.4-1.1-0.5-1.1-0.6-1-0.8-0.7-1.1-0.1-1.5 0.8-1.4 1-0.8 1.5-0.8 1.3-0.5 1.7-0.5 1.5-0.3 1.5-0.1zM235.3 456.5l1.7-0.2 2 0 2 0.1 1.5 0.2 1.5 0.4 1.5 0.5 1.5 0.8 1 1 0.5 1.2-0.5 1.4-1 1-1.1 0.6-1.2 0.5-1.7 0.5-1.5 0.2-1.5 0.2-2 0-2-0.1-1.5-0.2-1.5-0.4-1.5-0.5-1.3-0.7-1.2-1-0.5-1.5 0.5-1.2 1-1 1.5-0.8 1.4-0.5 1.6-0.4zM234.7 457.5l1.3-0.3 1.5-0.1 2 0 1.5 0.1 1.3 0.3 1.7 0.5 1.5 0.8 1 1.2-0.1 1.5-0.9 0.9-1.1 0.6-1.3 0.5-1.6 0.4-1.5 0.2-2 0-1.5-0.1-1.5-0.2-1.5-0.4-1.5-0.7-1-0.7-0.6-1 0.4-1.5 1.2-1 1.5-0.7zM235.8 458l1.7-0.2 2 0 1.5 0.2 1.5 0.3 1.4 0.7 1 1-0.2 1.5-1.2 0.9-1.5 0.6-1.5 0.3-1.5 0.1-2 0-1.5-0.3-1.5-0.4-1.2-0.7-0.8-1 0.4-1.5 1.1-0.7 1.5-0.6zM237 458.5l2-0.1 1.5 0.2 1.5 0.4 1 0.6 0.5 1.3-1 1-1.5 0.6-1.5 0.3-2 0-1.5-0.3-1.4-0.5-1.1-1 0.5-1.4 1-0.6 1.5-0.4z" fill="none" stroke="#777" stroke-width="0.5"/>
<path d="M349.8 431.5l1.7-0.2 1.5 0.2 1.5 0.5 1.5 0.8 0.9 0.7 1.1 1 0.9 1 0.8 1 0.6 1 0.7 1.3 0.5 1.1 0.5 1.4 0.5 1.7 0.2 1.5 0.1 1.5-0.1 2-0.3 1.5-0.4 1.4-0.5 1.1-0.6 1-0.9 1-1 0.7-1.5 0.7-1.5 0.3-2-0.2-1.5-0.5-1.5-0.8-0.9-0.7-1.1-1-0.9-1-0.8-1-0.6-1-0.7-1.3-0.5-1.1-0.5-1.4-0.5-1.7-0.2-1.5-0.1-1.5 0.1-2 0.3-1.5 0.4-1.4 0.5-1.1 0.6-1 0.9-1 1-0.7 1.5-0.7z" fill="#1c1c1c" fill-opacity="0.012"/>
<path d="M349.7 433.5l1.3-0.4 2 0.1 1.5 0.6 1.3 0.7 1.2 1 1 1 0.7 1 0.7 1 0.6 1.2 0.5 1.2 0.5 1.6 0.3 1.5 0.1 1.5-0.1 2-0.3 1.5-0.5 1.3-0.7 1.2-0.8 0.9-1 0.8-1.5 0.6-1.5 0.1-1.5-0.3-1.4-0.6-1.1-0.7-1-0.8-1-1-0.7-1-0.7-1-0.6-1.2-0.5-1.2-0.5-1.6-0.3-1.5-0.1-1.5 0.1-2 0.3-1.5 0.5-1.3 0.7-1.2 0.8-0.9 1-0.8z" fill="#1c1c1c" fill-opacity="0.012"/>
<path d="M351.3 434.5l1.7 0.1 1.3 0.4 1.2 0.7 1 0.8 1 1 0.7 1 0.6 1 0.7 1.5 0.5 1.5 0.3 1.5 0.1 1.5-0.2 2-0.4 1.5-0.8 1.5-1 1-1 0.6-1.3 0.4-1.7-0.1-1.3-0.4-1.2-0.7-1-0.8-1-1-0.7-1-0.6-1-0.7-1.5-0.5-1.5-0.3-1.5-0.1-1.5 0.2-2 0.4-1.5 0.8-1.5 1-1 1-0.6z" fill="#1c1c1c" fill-opacity="0.012"/>
<path d="M350.4 436l1.6-0.4 1.5 0.2 1.4 0.7 1.1 0.8 1 1 0.8 1.2 0.7 1.3 0.5 1.2 0.3 1.5 0.2 1.5-0.2 2-0.4 1.5-0.9 1.4-1 0.9-1.5 0.5-2-0.1-1.4-0.7-1.1-0.8-1-1-0.8-1.2-0.7-1.3-0.5-1.2-0.3-1.5-0.2-1.5 0.2-2 0.4-1.5 0.9-1.4 1-0.9z" fill="#1c1c1c" fill-opacity="0.012"/>
<path d="M351 437l1.5-0.3 1.5 0.4 1.4 0.9 1.1 1 0.7 1 0.7 1.5 0.5 1.5 0.2 1.5-0.1 2-0.5 1.5-0.6 1-0.9 0.8-1.5 0.5-1.5-0.2-1.3-0.6-1.2-1-0.8-1-0.7-1-0.5-1.2-0.4-1.3-0.2-1.5 0.1-2 0.5-1.5 0.6-1 0.9-0.8z" fill="#1c1c1c" fill-opacity="0.012"/>
<path d="M351.5 438l1.5-0.1 1.5 0.5 1 0.8 1 1.2 0.6 1.1 0.5 1.5 0.2 1.5-0.1 1.5-0.5 1.5-0.9 1-1.3 0.6-1.5-0.1-1.1-0.5-0.9-0.7-1-1.2-0.6-1.1-0.5-1.5-0.2-1.5 0.1-1.5 0.5-1.5 0.9-1z" fill="#1c1c1c" fill-opacity="0.012"/>
<path d="M352.1 439l1.9 0.2 1 0.7 0.9 1.1 0.6 1.1 0.4 1.4 0 2-0.6 1.5-1.3 1-2-0.2-1-0.7-0.9-1.1-0.6-1.1-0.4-1.4 0-2 0.6-1.5 1.3-1z" fill="#1c1c1c" fill-opacity="0.012"/>
<path d="M352.2 440l1.8 0.2 1 0.8 0.7 1 0.5 1.5-0.1 2-0.6 1-1.5 0.6-1.5-0.6-0.9-1-0.6-1.3-0.3-1.7 0.4-1.5 0.9-0.9z" fill="#fff" fill-opacity="0.4"/>
<path d="M352.1 441.5l1.4-0.4 1 0.7 0.7 1.2 0.2 1.5-0.9 1.4-1.5-0.2-1-1.2-0.4-1.5 0.4-1.4z" fill="#fff" fill-opacity="0.5"/>
<path d="M353 442l1.2 0.5 0.5 1.5-0.7 1-1.2-0.5-0.5-1.5z" fill="#fff" fill-opacity="0.7"/>
<path d="M350.1 432l1.9-0.1 1.5 0.3 1.5 0.6 1 0.6 1 0.7 0.9 0.9 0.9 1 0.7 1 0.7 1 0.7 1.5 0.6 1.5 0.4 1.5 0.3 1.5 0.2 1.5-0.1 2-0.2 1.5-0.5 1.5-0.6 1.3-0.8 1.2-1.1 1-1.1 0.6-1.5 0.5-2 0-1.5-0.4-1.4-0.7-1.1-0.7-0.9-0.8-1-1-0.8-1-0.7-1-0.6-1.2-0.6-1.3-0.6-1.5-0.3-1.3-0.3-1.7-0.1-2 0.1-1.5 0.3-1.5 0.5-1.3 0.6-1.2 0.7-1 1.1-1 1.1-0.6zM351.3 434.5l1.7 0.1 1.3 0.4 1.2 0.7 1 0.8 1 1 0.7 1 0.6 1 0.7 1.5 0.5 1.5 0.3 1.5 0.1 1.5-0.2 2-0.4 1.5-0.8 1.5-1 1-1 0.6-1.3 0.4-1.7-0.1-1.3-0.4-1.2-0.7-1-0.8-1-1-0.7-1-0.6-1-0.7-1.5-0.5-1.5-0.3-1.5-0.1-1.5 0.2-2 0.4-1.5 0.8-1.5 1-1 1-0.6zM350.6 436.5l1.4-0.3 1.5 0.1 1.4 0.7 1.1 0.9 1 1.1 0.7 1 0.7 1.5 0.4 1.5 0.3 1.5-0.1 2-0.4 1.5-0.6 1.1-0.8 0.9-1.2 0.7-1.5 0.1-1.4-0.3-1.1-0.6-1-0.8-1-1.1-0.7-1-0.7-1.5-0.4-1.5-0.3-1.5 0.1-2 0.4-1.5 0.6-1.1 0.8-0.9zM350.9 438l1.6-0.4 1.5 0.3 1.5 1 0.9 1.1 0.6 1 0.7 1.5 0.3 1.5-0.1 2-0.4 1.4-0.8 1.1-1.2 0.8-1.5 0.1-1.5-0.6-1-0.7-0.9-1.1-0.6-1-0.7-1.5-0.3-1.5 0.1-2 0.4-1.4 0.8-1.1zM352.1 439l1.9 0.2 1 0.7 0.9 1.1 0.6 1.1 0.4 1.4 0 2-0.6 1.5-1.3 1-2-0.2-1-0.7-0.9-1.1-0.6-1.1-0.4-1.4 0-2 0.6-1.5 1.3-1zM352.4 440.5l1.6 0.2 0.9 0.8 0.6 1 0.3 1.5-0.2 1.5-1 1-1.6-0.2-0.9-0.8-0.6-1-0.3-1.5 0.2-1.5z" fill="none" stroke="#a0a3a7" stroke-width="0.5"/>
<path d="M349.3 455l1.7-0.3 2-0.1 2 0.1 1.5 0.3 1.5 0.3 1.5 0.5 1.4 0.7 1.1 0.7 1 0.8 0.9 1 0.8 1.5 0.3 1.5-0.3 1.5-0.7 1.4-1 1.1-1 0.8-1 0.6-1.1 0.6-1.3 0.5-1.6 0.4-1.5 0.3-1.5 0.1-2 0-1.5-0.1-1.5-0.3-1.5-0.3-1.5-0.5-1.5-0.6-1.5-0.5-1.5-0.3-1.5-0.3-1.5-0.1-1.5-0.1-1.5-0.2-1.5-0.1-1.5-0.1-1.5-0.2-1.5-0.2-1.5-0.2-1.5-0.2-1.5-0.3-1.5-0.4-1.5-0.6-1.2-0.7-0.5-1.5 1.2-1 1.2-0.5 1.3-0.4 1.5-0.4 1.5-0.2 1.5-0.3 1.5-0.2 1.5-0.2 1.5-0.1 1.5-0.1 1.5-0.2 1.5-0.1 1.5-0.1 1.5-0.2 1.5-0.3 1.5-0.4 1.5-0.5 1.5-0.6 1.5-0.4z" fill="#1c1c1c" fill-opacity="0.075"/>
<path d="M350.5 456l1.5-0.2 2 0 1.5 0.2 1.5 0.3 1.5 0.5 1.4 0.7 1.1 0.8 1 1 0.8 1.2 0.3 1.5-0.3 1.5-0.8 1.2-1 1-1 0.7-1.1 0.6-1.4 0.5-1.5 0.4-1.5 0.2-2 0.1-1.5-0.1-1.5-0.3-1.3-0.3-1.7-0.5-1.5-0.5-1.5-0.4-1.5-0.2-1.5-0.2-1.5-0.2-1.5-0.1-2-0.1-1.5-0.1-1.5-0.1-1.5-0.2-1.5-0.2-1.5-0.2-1.5-0.2-1.5-0.4-1.5-0.6-1-0.6 0.4-1.7 1.1-0.5 1.5-0.5 1.5-0.4 1.5-0.2 1.5-0.2 1.5-0.2 1.5-0.1 1.5-0.1 1.5-0.1 2-0.2 1.5-0.1 1.5-0.1 1.5-0.2 1.5-0.4 1.5-0.4 1.5-0.5 1.5-0.4 1.5-0.3z" fill="#1c1c1c" fill-opacity="0.075"/>
<path d="M349.9 457l1.6-0.2 2-0.1 1.5 0.2 1.5 0.3 1.5 0.5 1.4 0.8 1.1 0.9 0.8 1.1 0.4 1.5-0.4 1.5-0.7 1-1.1 1-1.5 0.8-1.5 0.5-1.5 0.3-1.5 0.2-2-0.1-1.5-0.2-1.5-0.3-1.5-0.4-1.5-0.4-1.5-0.4-1.5-0.2-1.5-0.2-1.5-0.1-2-0.1-2-0.1-1.5-0.1-1.5-0.2-1.5-0.1-1.5-0.2-1.5-0.2-1.5-0.3-1.5-0.5-1-0.6 0.5-1.5 1.4-0.6 1.6-0.4 1.5-0.3 1.5-0.2 1.5-0.1 1.5-0.1 1.5-0.1 2-0.2 2-0.1 1.5-0.1 1.5-0.1 1.5-0.2 1.5-0.3 1.5-0.4 1.3-0.4 1.7-0.4z" fill="#1c1c1c" fill-opacity="0.075"/>
<path d="M351.7 457.5l1.8 0 1.5 0.1 1.4 0.4 1.2 0.5 1.4 0.9 1 1.1 0.4 1.5-0.4 1.4-0.9 1.1-1.1 0.8-1.5 0.7-1.5 0.4-1.5 0.1-1.8 0-1.7-0.2-1.5-0.3-1.5-0.4-1.5-0.4-1.5-0.3-1.5-0.2-1.5-0.1-2-0.1-2-0.1-2-0.1-2-0.2-1.5-0.1-1.5-0.1-1.5-0.3-1.5-0.3-1.5-0.7 0.5-1.5 1.5-0.5 1.5-0.3 1.5-0.2 1.5-0.2 1.5-0.1 2-0.1 2-0.1 2-0.1 2-0.1 1.5-0.2 1.5-0.2 1.5-0.3 1.5-0.4 1.5-0.4 1.5-0.3z" fill="#1c1c1c" fill-opacity="0.075"/>
<path d="M349.5 458.5l1.5-0.3 2 0 1.5 0.1 1.5 0.4 1.5 0.7 1 0.9 0.7 1.2-0.2 1.5-0.7 1-1.3 0.9-1.5 0.6-1.5 0.3-2 0-1.5-0.1-1.5-0.3-1.5-0.3-1.5-0.4-1.5-0.3-1.5-0.2-1.5-0.1-1.9-0.1-1.6-0.1-2 0-2-0.1-2-0.2-1.5-0.1-1.5-0.3-1.5-0.4-0.9-0.8 0.9-0.8 1.5-0.4 1.5-0.3 1.5-0.1 1.5-0.1 2-0.1 2-0.1 2-0.1 2-0.1 1.5-0.1 1.5-0.2 1.5-0.3 1.5-0.4 1.5-0.3z" fill="#1c1c1c" fill-opacity="0.075"/>
<path d="M350.3 459l1.7-0.2 2 0.2 1.5 0.3 1.3 0.7 1 1 0.2 1.5-1 1.3-1 0.7-1.5 0.5-1.5 0.2-2-0.1-1.5-0.2-1.5-0.4-1.5-0.3-1.5-0.3-1.5-0.2-1.5-0.1-2-0.1-2-0.1-2 0-2-0.1-2-0.1-1.5-0.2-1.5-0.4 0.5-1.4 1.5-0.3 1.5-0.1 2-0.1 2-0.1 2 0 2-0.1 2-0.1 1.5-0.2 1.4-0.2 1.6-0.3 1.5-0.4 1.5-0.3z" fill="#1c1c1c" fill-opacity="0.075"/>
<path d="M351.4 459.5l2.1 0.1 1.5 0.4 1.5 1 0.3 1.5-0.8 1-1.5 0.7-1.5 0.3-2 0-1.5-0.3-1.5-0.3-1.5-0.3-1.5-0.3-1.5-0.2-1.5-0.2-2-0.1-2 0-2 0-2 0-1.5-0.1-1.5-0.3 1-1 1.5-0.1 2-0.1 2 0 2 0 2-0.1 1.5-0.1 1.5-0.2 1.5-0.3 1.5-0.3 1.5-0.3 1.5-0.3z" fill="#1c1c1c" fill-opacity="0.075"/>
<path d="M350.4 460.5l1.6-0.1 1.5 0.2 1.4 0.9-0.4 1.4-1.5 0.6-1.5 0.1-1.5-0.2-1.5-0.3-1.5-0.5 0.5-1.3 1.5-0.5z" fill="#fff" fill-opacity="0.3"/>
<path d="M349.3 461.5l1.7-0.4 2 0.3-0.5 1.4-2 0-1.5-0.6z" fill="#fff" fill-opacity="0.4"/>
<path d="M349.3 455l1.7-0.3 2-0.1 2 0.1 1.5 0.3 1.5 0.3 1.5 0.5 1.4 0.7 1.1 0.7 1 0.8 0.9 1 0.8 1.5 0.3 1.5-0.3 1.5-0.7 1.4-1 1.1-1 0.8-1 0.6-1.1 0.6-1.3 0.5-1.6 0.4-1.5 0.3-1.5 0.1-2 0-1.5-0.1-1.5-0.3-1.5-0.3-1.5-0.5-1.5-0.6-1.5-0.5-1.5-0.3-1.5-0.3-1.5-0.1-1.5-0.1-1.5-0.2-1.5-0.1-1.5-0.1-1.5-0.2-1.5-0.2-1.5-0.2-1.5-0.2-1.5-0.3-1.5-0.4-1.5-0.6-1.2-0.7-0.5-1.5 1.2-1 1.2-0.5 1.3-0.4 1.5-0.4 1.5-0.2 1.5-0.3 1.5-0.2 1.5-0.2 1.5-0.1 1.5-0.1 1.5-0.2 1.5-0.1 1.5-0.1 1.5-0.2 1.5-0.3 1.5-0.4 1.5-0.5 1.5-0.6 1.5-0.4zM349.1 456.5l1.4-0.3 1.5-0.1 2 0 1.5 0.1 1.5 0.4 1.2 0.4 1.3 0.6 1 0.6 0.9 0.8 0.7 1 0.6 1.5-0.1 1.5-0.6 1.2-1 1.1-1 0.8-1.5 0.8-1.5 0.5-1.5 0.4-1.5 0.1-2 0-1.5-0.1-1.4-0.3-1.6-0.4-1.5-0.5-1.5-0.4-1.5-0.3-1.5-0.3-1.5-0.1-1.5-0.1-2-0.2-1.5-0.1-1.5-0.1-1.5-0.1-1.5-0.2-1.5-0.2-1.5-0.2-1.5-0.3-1.5-0.4-1.2-0.6-0.8-1 0.8-1 1.2-0.6 1.5-0.4 1.5-0.3 1.5-0.2 1.5-0.2 1.5-0.2 1.5-0.1 1.5-0.1 1.5-0.1 2-0.2 1.5-0.1 1.5-0.1 1.5-0.3 1.5-0.3 1.5-0.4 1.2-0.4 1.3-0.4zM349.3 457.5l1.7-0.3 1.5-0.1 2 0.1 1.5 0.3 1.5 0.5 1.5 0.8 1 0.9 0.8 1.3 0.2 1.5-0.5 1.2-1 1.1-1 0.7-1.5 0.7-1.5 0.4-1.5 0.3-2 0-1.5-0.2-1.5-0.3-1.5-0.4-1.5-0.4-1.5-0.3-1.5-0.3-1.5-0.1-1.5-0.1-2-0.1-2-0.2-2-0.1-1.5-0.1-1.5-0.1-1.5-0.2-1.5-0.2-1.5-0.4-1.5-0.7 0.4-1.7 1.5-0.5 1.6-0.3 1.5-0.3 1.5-0.1 1.5-0.2 2-0.1 2-0.1 2-0.1 2-0.1 1.5-0.2 1.5-0.2 1.5-0.3 1.5-0.4 1.5-0.4zM349.2 458.5l1.8-0.3 2-0.1 1.5 0.1 1.5 0.4 1.5 0.7 1 0.8 0.8 1.4-0.2 1.5-0.7 1-1.4 1-1.4 0.5-1.6 0.3-2 0.1-1.5-0.2-1.5-0.2-1.5-0.4-1.5-0.3-1.4-0.3-1.6-0.2-1.5-0.2-2-0.1-2 0-2-0.1-2-0.1-1.5-0.1-1.5-0.2-1.5-0.2-1.5-0.4-1-0.8 1-1 1.5-0.4 1.5-0.2 1.5-0.2 1.5-0.1 2-0.1 2-0.1 2 0 2-0.1 1.5-0.2 1.5-0.2 1.5-0.3 1.5-0.3 1.5-0.4zM351.2 459l1.8 0 1.5 0.2 1.5 0.5 1 0.7 0.8 1.1-0.3 1.5-1 1-1.5 0.7-1.5 0.3-2 0-1.5-0.2-1.5-0.2-1.5-0.4-1.5-0.3-1.5-0.2-1.5-0.2-2-0.1-2-0.1-2 0-2 0-2-0.2-1.5-0.1-1.5-0.4-1-0.6 1-0.6 1.5-0.4 1.5-0.1 2-0.2 2 0 2 0 2-0.1 1.8-0.1 1.7-0.2 1.5-0.2 1.5-0.3 1.5-0.4 1.5-0.2zM349.6 460l1.4-0.2 2 0 1.5 0.3 1.4 0.9 0.3 1.5-0.9 1-1.2 0.5-1.6 0.2-2-0.1-1.5-0.2-1.5-0.4-1.5-0.3-1.5-0.4-1.5-0.2-1.5-0.2-2 0-2 0-2 0.1-2-0.1-1.5-0.3 1.5-0.5 2-0.1 2 0.1 2 0 2 0 1.5-0.2 1.5-0.2 1.5-0.4 1.3-0.3 1.7-0.4z" fill="none" stroke="#8a8d91" stroke-width="0.5"/>
<path d="M315.8 455.5l1.7 0.1 1.4 0.4 1.1 0.6 1 0.9 0.8 1 0.7 1.5 0.3 1.5-0.1 2-0.6 1.5-0.6 1-1 1-1 0.7-1.5 0.6-1.5 0.2-1.5-0.1-1.3-0.4-1.2-0.7-0.9-0.8-0.8-1-0.7-1.5-0.3-1.5 0.1-2 0.6-1.5 0.6-1 0.9-0.9 1-0.7 1.5-0.7z" fill="#1c1c1c" fill-opacity="0.150"/>
<path d="M315.5 456.5l2 0.1 1.2 0.4 1.3 0.8 1 1.2 0.7 1.5 0.2 1.5-0.2 1.5-0.7 1.5-0.8 1-1.2 0.9-1.5 0.5-1.5 0.2-1.5-0.3-1.5-0.8-1-1-0.7-1-0.5-1.5 0-2 0.5-1.5 0.7-1 1-1 1.5-0.8z" fill="#1c1c1c" fill-opacity="0.150"/>
<path d="M314.5 457.5l1.5-0.3 1.5 0.1 1.5 0.7 1 0.9 0.7 1.1 0.4 1.5-0.1 1.6-0.5 1.3-0.9 1.1-1.1 0.8-1.5 0.5-2-0.1-1.4-0.7-1.1-1-0.6-1-0.4-1.5 0.1-1.5 0.4-1.2 1-1.3 1-0.8z" fill="#1c1c1c" fill-opacity="0.150"/>
<path d="M315 458l1.5-0.2 1.5 0.3 1 0.7 1 1.2 0.5 1.5-0.3 2-0.7 1.2-0.9 0.8-1.1 0.5-1.5 0.2-1.5-0.4-1-0.7-0.9-1.1-0.5-1.5 0.3-2 0.6-1.1 1-0.9z" fill="#1c1c1c" fill-opacity="0.150"/>
<path d="M315.4 458.5l1.6-0.1 1.3 0.6 1 1 0.6 1.5-0.1 1.5-0.8 1.4-1 0.8-1.5 0.4-1.5-0.2-1.3-0.9-0.7-1-0.3-1.5 0.3-1.5 0.7-1 1.3-0.9z" fill="#1c1c1c" fill-opacity="0.150"/>
<path d="M315.9 459l1.6 0.2 1 0.7 0.7 1.1 0.1 1.5-0.7 1.5-1.1 0.8-1.5 0.2-1.4-0.5-0.9-1-0.4-1.5 0.4-1.5 0.8-0.9z" fill="#1c1c1c" fill-opacity="0.150"/>
<path d="M314.9 460l1.6-0.4 1.2 0.4 0.8 0.9 0.2 1.6-0.7 1.3-1.5 0.6-1.5-0.3-0.9-1.1-0.2-1.5 0.6-1.2z" fill="#1c1c1c" fill-opacity="0.150"/>
<path d="M315.1 460l1.4-0.3 1.5 0.7 0.6 1.1-0.2 1.5-0.9 1-1.5 0.3-1.5-0.8-0.6-1.5 0.6-1.5z" fill="#fff" fill-opacity="0.6"/>
<path d="M315.5 460.5l1.5-0.1 0.9 1.1-0.2 1.5-1.2 0.7-1.5-0.6-0.3-1.6z" fill="#fff" fill-opacity="0.8"/>
<path d="M315.8 461l1.5 0.5-0.3 1.3-1.7-0.3z" fill="#fff" fill-opacity="1"/>
<path d="M314.6 456l1.9-0.2 1.5 0.2 1.2 0.5 1.3 0.9 1 1.1 0.7 1.5 0.3 1.4 0 1.6-0.5 1.5-0.9 1.5-1.1 1-1 0.6-1.5 0.5-1.5 0.1-1.5-0.2-1.5-0.7-1-0.8-0.9-1-0.6-1.2-0.4-1.3 0-2 0.4-1.3 0.6-1.2 0.9-1 1-0.8 1.5-0.7zM314.5 457.5l1.5-0.3 1.5 0.1 1.5 0.7 1 0.9 0.7 1.1 0.4 1.5-0.1 1.6-0.5 1.3-0.9 1.1-1.1 0.8-1.5 0.5-2-0.1-1.4-0.7-1.1-1-0.6-1-0.4-1.5 0.1-1.5 0.4-1.2 1-1.3 1-0.8zM314.8 458.5l1.7-0.3 1.3 0.3 1.2 0.8 0.8 1.2 0.3 1.5-0.3 1.5-0.6 1-1.2 0.9-1.5 0.4-1.5-0.2-1.1-0.6-0.9-1-0.5-1.5 0.3-2 0.6-1 1.1-0.9zM314.8 459.5l1.2-0.4 1.5 0.2 0.9 0.7 0.7 1 0.1 1.5-0.7 1.4-1 0.8-1.5 0.2-1.2-0.4-1-1-0.4-1.5 0.4-1.5z" fill="none" stroke="#666" stroke-width="0.5"/>
<path d="M464.6 417l1.7-0.3 2 0.2 1.5 0.5 1.1 0.6 0.9 0.7 0.8 0.8 0.9 1 0.6 1 0.7 1.3 0.5 1.2 0.5 1.5 0.3 1.5 0.3 1.5 0.1 1.5 0 2-0.1 2-0.2 1.5-0.3 1.5-0.3 1.5-0.5 1.5-0.5 1.5-0.5 1.5-0.5 1.5-0.5 1.5-0.5 1.5-0.6 1.5-0.7 1.1-1 1.2-1 0.9-1 0.7-1.5 0.8-1.5 0.6-1.5 0.4-1.5 0.1-2 0-1.5-0.2-1.5-0.4-1.5-0.6-1-0.6-1-0.7-0.9-0.8-0.8-1-0.7-1.5-0.3-1.5 0.1-1.5 0.4-1.5 0.4-1.5 0.3-1.5 0.1-1.5 0-2 0.1-2 0.2-1.5 0.2-1.5 0.3-1.5 0.4-1.5 0.5-1.5 0.6-1.5 0.6-1.3 0.6-1.2 0.6-1 0.7-1 0.8-1 0.8-0.9 1-1 1-0.8 1-0.6 1.3-0.7z" fill="#1c1c1c" fill-opacity="0.110"/>
<path d="M465 419.5l1.8-0.1 1.5 0.3 1.5 0.7 1 0.7 0.9 0.9 0.7 1 0.9 1.5 0.5 1.3 0.5 1.7 0.3 1.5 0.1 1.5 0 2-0.1 2-0.2 1.5-0.4 1.5-0.4 1.5-0.5 1.5-0.6 1.5-0.6 1.5-0.5 1.5-0.5 1.5-0.6 1.4-0.6 1.1-0.7 1-1.1 1-1.1 0.8-1.5 0.7-1.5 0.4-1.5 0.3-2-0.1-1.5-0.2-1.5-0.6-1.5-0.8-1-0.8-0.9-1.2-0.5-1.5 0-2 0.3-1.5 0.3-1.5 0.2-1.5 0-2 0-2 0.1-1.8 0.2-1.7 0.2-1.5 0.4-1.5 0.5-1.5 0.6-1.5 0.6-1.3 0.7-1.2 0.6-1 0.8-1 0.9-1 1-0.9 1-0.8 1.5-0.8 1.5-0.5z" fill="#1c1c1c" fill-opacity="0.110"/>
<path d="M464.7 421.5l1.6-0.2 1.5 0.3 1.5 0.7 1 0.8 0.7 0.9 0.7 1 0.6 1.2 0.5 1.3 0.3 1.5 0.2 1.5 0.1 2-0.1 1.7-0.3 1.8-0.3 1.5-0.4 1.3-0.4 1.2-0.6 1.3-0.5 1.2-0.5 1.2-0.5 1.2-0.5 1.3-0.5 1.2-0.6 1.1-0.8 1-1.1 0.9-1.5 0.8-1.5 0.5-1.5 0.2-2-0.2-1.5-0.4-1.4-0.8-1-1-0.6-1.1-0.3-1.4 0.1-1.5 0.3-1.5 0.3-1.5 0-2-0.1-2 0-2 0.1-2 0.3-1.5 0.3-1.4 0.5-1.6 0.5-1.2 0.6-1.3 0.9-1.5 0.8-1 0.9-1 1.1-1 1.2-0.8 1.5-0.6z" fill="#1c1c1c" fill-opacity="0.110"/>
<path d="M463.7 423.5l1.6-0.4 2 0.2 1.5 0.7 1 0.9 0.8 1.1 0.7 1.3 0.4 1.2 0.4 1.5 0.1 1.5 0 2-0.1 1.5-0.3 1.4-0.4 1.6-0.6 1.5-0.5 1.1-0.7 1.4-0.7 1.5-0.6 1.4-0.5 1.2-0.7 1.4-0.7 1-1.1 1-1.5 0.7-1.5 0.4-1.8-0.1-1.6-0.5-1.1-0.7-0.9-1.3-0.3-1.5 0.2-1.5 0.2-1.5 0.1-2-0.2-1.5-0.1-1.5-0.1-2 0.2-2 0.2-1.5 0.4-1.5 0.5-1.5 0.7-1.5 0.9-1.5 0.8-1 0.9-0.9 1-0.8z" fill="#1c1c1c" fill-opacity="0.110"/>
<path d="M463.9 425l1.4-0.3 1.5 0.1 1.4 0.7 1.1 1 0.7 1 0.6 1.5 0.4 1.5 0.2 1.5-0.1 2-0.2 1.5-0.3 1.5-0.6 1.5-0.6 1.5-0.6 1.1-0.8 1.4-0.7 1.2-0.7 1.3-0.8 1.5-0.7 1-0.8 0.8-1.5 0.7-1.5 0.1-1.5-0.5-1-1-0.4-1.6 0.1-2 0-2-0.2-1.5-0.3-1.5-0.1-1.5-0.1-2 0.2-1.5 0.3-1.4 0.5-1.6 0.5-1.2 0.7-1.3 0.7-1 0.9-1 1.2-0.9z" fill="#1c1c1c" fill-opacity="0.110"/>
<path d="M464.1 426.5l1.7-0.2 1.5 0.4 1 0.8 0.7 1 0.6 1.5 0.4 1.5 0.1 1.5-0.2 2-0.3 1.5-0.5 1.5-0.8 1.5-0.6 1-0.7 1-0.7 0.9-0.9 1.1-0.7 1-0.9 1-1 0.8-1.5-0.2-0.5-1.2-0.3-1.4-0.4-1.5-0.5-1.5-0.4-1.5-0.2-1.5-0.1-2 0.2-1.5 0.3-1.5 0.5-1.5 0.8-1.5 0.8-1 0.8-0.9 1-0.7z" fill="#1c1c1c" fill-opacity="0.110"/>
<path d="M464.3 428l1.5-0.1 1.4 0.6 0.8 1 0.7 1.5 0.3 1.5 0 2-0.3 1.5-0.6 1.5-0.8 1.5-0.7 1-1.1 1-1.2 0.8-1.5 0.1-1-0.7-0.8-1.2-0.6-1.5-0.3-1.5-0.1-2 0.2-1.5 0.5-1.5 0.6-1.3 0.9-1.2 1.1-1z" fill="#1c1c1c" fill-opacity="0.110"/>
<path d="M464.2 430l1.6 0 1 0.7 0.6 1.3 0.3 1.5-0.2 1.5-0.4 1.5-0.8 1.4-1 1-1.5 0.5-1.5-0.9-0.6-1-0.3-1.5 0.1-2 0.4-1.5 0.9-1.4 1-0.9z" fill="#fff" fill-opacity="0.4"/>
<path d="M464.1 431.5l1.7 0.1 0.8 1.4 0 2-0.6 1.5-1 1-1.7 0.1-0.7-1.1-0.3-1.5 0.3-1.5 0.7-1.3z" fill="#fff" fill-opacity="0.6"/>
<path d="M463.8 433l1.5-0.2 0.5 1.2-0.3 1.5-1.2 1-1-0.8 0-1.7z" fill="#fff" fill-opacity="0.8"/>
<path d="M464.6 417l1.7-0.3 2 0.2 1.5 0.5 1.1 0.6 0.9 0.7 0.8 0.8 0.9 1 0.6 1 0.7 1.3 0.5 1.2 0.5 1.5 0.3 1.5 0.3 1.5 0.1 1.5 0 2-0.1 2-0.2 1.5-0.3 1.5-0.3 1.5-0.5 1.5-0.5 1.5-0.5 1.5-0.5 1.5-0.5 1.5-0.5 1.5-0.6 1.5-0.7 1.1-1 1.2-1 0.9-1 0.7-1.5 0.8-1.5 0.6-1.5 0.4-1.5 0.1-2 0-1.5-0.2-1.5-0.4-1.5-0.6-1-0.6-1-0.7-0.9-0.8-0.8-1-0.7-1.5-0.3-1.5 0.1-1.5 0.4-1.5 0.4-1.5 0.3-1.5 0.1-1.5 0-2 0.1-2 0.2-1.5 0.2-1.5 0.3-1.5 0.4-1.5 0.5-1.5 0.6-1.5 0.6-1.3 0.6-1.2 0.6-1 0.7-1 0.8-1 0.8-0.9 1-1 1-0.8 1-0.6 1.3-0.7zM465 419.5l1.8-0.1 1.5 0.3 1.5 0.7 1 0.7 0.9 0.9 0.7 1 0.9 1.5 0.5 1.3 0.5 1.7 0.3 1.5 0.1 1.5 0 2-0.1 2-0.2 1.5-0.4 1.5-0.4 1.5-0.5 1.5-0.6 1.5-0.6 1.5-0.5 1.5-0.5 1.5-0.6 1.4-0.6 1.1-0.7 1-1.1 1-1.1 0.8-1.5 0.7-1.5 0.4-1.5 0.3-2-0.1-1.5-0.2-1.5-0.6-1.5-0.8-1-0.8-0.9-1.2-0.5-1.5 0-2 0.3-1.5 0.3-1.5 0.2-1.5 0-2 0-2 0.1-1.8 0.2-1.7 0.2-1.5 0.4-1.5 0.5-1.5 0.6-1.5 0.6-1.3 0.7-1.2 0.6-1 0.8-1 0.9-1 1-0.9 1-0.8 1.5-0.8 1.5-0.5zM464.7 421.5l1.6-0.2 1.5 0.3 1.5 0.7 1 0.8 0.7 0.9 0.7 1 0.6 1.2 0.5 1.3 0.3 1.5 0.2 1.5 0.1 2-0.1 1.7-0.3 1.8-0.3 1.5-0.4 1.3-0.4 1.2-0.6 1.3-0.5 1.2-0.5 1.2-0.5 1.2-0.5 1.3-0.5 1.2-0.6 1.1-0.8 1-1.1 0.9-1.5 0.8-1.5 0.5-1.5 0.2-2-0.2-1.5-0.4-1.4-0.8-1-1-0.6-1.1-0.3-1.4 0.1-1.5 0.3-1.5 0.3-1.5 0-2-0.1-2 0-2 0.1-2 0.3-1.5 0.3-1.4 0.5-1.6 0.5-1.2 0.6-1.3 0.9-1.5 0.8-1 0.9-1 1.1-1 1.2-0.8 1.5-0.6zM463.7 423.5l1.6-0.4 2 0.2 1.5 0.7 1 0.9 0.8 1.1 0.7 1.3 0.4 1.2 0.4 1.5 0.1 1.5 0 2-0.1 1.5-0.3 1.4-0.4 1.6-0.6 1.5-0.5 1.1-0.7 1.4-0.7 1.5-0.6 1.4-0.5 1.2-0.7 1.4-0.7 1-1.1 1-1.5 0.7-1.5 0.4-1.8-0.1-1.6-0.5-1.1-0.7-0.9-1.3-0.3-1.5 0.2-1.5 0.2-1.5 0.1-2-0.2-1.5-0.1-1.5-0.1-2 0.2-2 0.2-1.5 0.4-1.5 0.5-1.5 0.7-1.5 0.9-1.5 0.8-1 0.9-0.9 1-0.8zM463.9 425l1.4-0.3 1.5 0.1 1.4 0.7 1.1 1 0.7 1 0.6 1.5 0.4 1.5 0.2 1.5-0.1 2-0.2 1.5-0.3 1.5-0.6 1.5-0.6 1.5-0.6 1.1-0.8 1.4-0.7 1.2-0.7 1.3-0.8 1.5-0.7 1-0.8 0.8-1.5 0.7-1.5 0.1-1.5-0.5-1-1-0.4-1.6 0.1-2 0-2-0.2-1.5-0.3-1.5-0.1-1.5-0.1-2 0.2-1.5 0.3-1.4 0.5-1.6 0.5-1.2 0.7-1.3 0.7-1 0.9-1 1.2-0.9zM464.1 426.5l1.7-0.2 1.5 0.4 1 0.8 0.7 1 0.6 1.5 0.4 1.5 0.1 1.5-0.2 2-0.3 1.5-0.5 1.5-0.8 1.5-0.6 1-0.7 1-0.7 0.9-0.9 1.1-0.7 1-0.9 1-1 0.8-1.5-0.2-0.5-1.2-0.3-1.4-0.4-1.5-0.5-1.5-0.4-1.5-0.2-1.5-0.1-2 0.2-1.5 0.3-1.5 0.5-1.5 0.8-1.5 0.8-1 0.8-0.9 1-0.7zM464.3 428l1.5-0.1 1.4 0.6 0.8 1 0.7 1.5 0.3 1.5 0 2-0.3 1.5-0.6 1.5-0.8 1.5-0.7 1-1.1 1-1.2 0.8-1.5 0.1-1-0.7-0.8-1.2-0.6-1.5-0.3-1.5-0.1-2 0.2-1.5 0.5-1.5 0.6-1.3 0.9-1.2 1.1-1zM463.6 430l1.2-0.5 1.5 0.4 1 1.1 0.5 1.5 0 2-0.3 1.5-0.7 1.5-0.7 1-1.3 1-1.5 0.2-1-0.7-0.6-1-0.5-1.5 0-2 0.3-1.5 0.7-1.5 0.8-1zM464.1 431.5l1.7 0.1 0.8 1.4 0 2-0.6 1.5-1 1-1.7 0.1-0.7-1.1-0.3-1.5 0.3-1.5 0.7-1.3z" fill="none" stroke="#909397" stroke-width="0.5"/>
<path d="M446.1 456l1.7-0.3 2 0 1.5 0.1 1.5 0.2 1.5 0.3 1.5 0.1 2-0.1 1.5-0.2 1.5-0.2 1.5-0.1 2 0 1.5 0.2 1.5 0.3 1.5 0.6 1.3 0.6 1.2 0.9 1 1 0.6 1.1 0.3 1.5-0.3 1.5-0.6 1.1-0.9 0.9-1.1 0.9-1.2 0.6-1.3 0.5-1.5 0.4-1.5 0.2-1.5 0.1-2 0-1.5-0.2-1.5-0.2-1.5-0.2-2 0.1-1.5 0.2-1.5 0.2-1.5 0.2-2 0-1.5-0.2-1.5-0.3-1.5-0.4-1.5-0.7-1.4-0.7-1.6-0.5-1.5 0.4-1.3 0.6-1.2 0.5-1.5 0.5-1.5 0.3-1.5 0.1-2-0.1-1.4-0.3-1.6-0.5-1.1-0.5-1.4-0.9-1-1-0.6-1.1-0.3-1.5 0.3-1.5 0.6-1.1 0.9-0.9 1.1-0.8 1.4-0.7 1.6-0.5 1.5-0.3 2-0.1 1.5 0.1 1.4 0.3 1.6 0.5 1.2 0.5 1.3 0.6 1.5 0.4 1.5-0.4 1.1-0.6 1.4-0.7 1.5-0.5z" fill="#1c1c1c" fill-opacity="0.120"/>
<path d="M446 457l1.8-0.3 2-0.1 1.5 0.2 1.5 0.2 1.5 0.3 1.5 0.2 2-0.1 1.5-0.3 1.5-0.3 1.5-0.1 2 0.1 1.4 0.2 1.6 0.4 1.3 0.6 1.2 0.7 1 1 0.7 1.3 0.1 1.5-0.6 1.5-0.9 1-1.3 0.9-1.3 0.6-1.7 0.5-1.5 0.2-2 0.1-1.5-0.1-1.5-0.3-1.5-0.3-1.5-0.1-2 0.2-1.5 0.3-1.5 0.2-1.5 0.2-2-0.1-1.5-0.2-1.5-0.5-1.4-0.6-1.1-0.7-1-0.7-1-0.9-1.4-0.2-1.1 0.7-1 0.8-1 0.6-1.5 0.7-1.5 0.4-1.5 0.2-2 0-1.5-0.3-1.5-0.5-1.2-0.6-1.2-1-0.7-1-0.4-1.5 0.4-1.5 0.7-1 0.9-0.8 1-0.6 1.5-0.6 1.5-0.3 1.5-0.1 2 0.1 1.3 0.3 1.4 0.5 1.3 0.7 1 0.7 1 0.8 1.5 0.3 1-0.7 1-0.8 1-0.7 1.5-0.7 1.5-0.6z" fill="#1c1c1c" fill-opacity="0.120"/>
<path d="M447.2 457.5l1.6-0.2 2 0.1 1.5 0.3 1.5 0.4 1.5 0.2 2 0 1.4-0.3 1.6-0.3 1.5-0.2 2 0 1.5 0.1 1.3 0.4 1.2 0.5 1 0.6 0.9 0.9 0.8 1.5-0.2 1.5-1 1.5-1 0.7-1.5 0.7-1.5 0.5-1.5 0.1-2 0-1.5-0.2-1.5-0.3-1.5-0.3-1.5-0.1-1.5 0.2-1.5 0.4-1.5 0.3-1.5 0.2-2-0.1-1.5-0.3-1.5-0.5-1.4-0.8-1.1-1-0.7-1-0.2-1.5 0.9-1.5 1-1 1-0.6 1.5-0.6zM428.5 458l1.8-0.2 2 0.1 1.5 0.5 1.4 0.6 1.1 0.9 0.9 1.1 0.1 1.5-0.9 1.5-1.1 0.9-1.1 0.6-1.4 0.4-1.5 0.3-2-0.1-1.5-0.3-1.5-0.6-1-0.6-0.9-1.1-0.5-1.5 0.4-1.3 0.9-1.2 1.1-0.7 1.5-0.6z" fill="#1c1c1c" fill-opacity="0.120"/>
<path d="M448 458l1.8 0 1.5 0.1 1.5 0.4 1.5 0.4 1.5 0.3 1.5-0.1 1.5-0.4 1.5-0.4 1.5-0.2 2 0 1.5 0.2 1.5 0.5 1.2 0.7 1 1 0.5 1.5-0.5 1.5-1 1-1.2 0.7-1.5 0.5-1.5 0.2-2 0-1.5-0.2-1.5-0.4-1.5-0.4-1.5-0.1-1.5 0.3-1.5 0.4-1.5 0.4-1.5 0.1-1.8 0-1.7-0.3-1.5-0.7-1-0.6-0.8-0.9-0.5-1.5 0.5-1.5 0.8-0.9 1-0.6 1.5-0.7 1.5-0.3zM429.3 458.5l2 0 1.5 0.2 1.5 0.7 1 0.7 0.8 1.4-0.1 1.5-0.8 1-1.4 0.9-1.5 0.5-1.5 0.2-2-0.2-1.3-0.4-1.2-0.7-0.9-0.8-0.5-1.5 0.4-1.3 1-1 1.2-0.7 1.3-0.4z" fill="#1c1c1c" fill-opacity="0.120"/>
<path d="M446.2 459l1.6-0.4 2-0.1 1.5 0.2 1.5 0.5 1.5 0.5 1.5 0.4 1.5-0.2 1.3-0.4 1.2-0.4 1.5-0.3 1.5-0.2 1.5 0.1 1.5 0.4 1.5 0.8 1 1.1 0.1 1.5-0.6 1.1-1 0.8-1.3 0.6-1.7 0.3-2 0-1.5-0.3-1.5-0.4-1.5-0.5-1.5-0.2-1.5 0.4-1.5 0.5-1.5 0.5-1.5 0.2-2-0.1-1.5-0.4-1.1-0.5-0.9-0.7-0.8-1.3 0.2-1.5 0.8-1 1.3-0.8zM428 459.5l1.3-0.4 2 0 1.5 0.3 1.1 0.6 0.9 0.9 0.3 1.6-0.8 1.2-1 0.7-1.5 0.5-1.5 0.1-1.5-0.2-1.5-0.7-1-0.9-0.4-1.2 0.4-1.2 1-0.9z" fill="#1c1c1c" fill-opacity="0.120"/>
<path d="M446.7 459.5l1.6-0.4 2 0.1 1.4 0.3 1.3 0.5 1.3 0.8 1 0.7-0.5 1.3-0.9 0.7-1.1 0.6-1.5 0.5-1.5 0.3-2-0.1-1.5-0.5-1-0.6-0.8-1.2 0.2-1.5 1-1zM460.8 459.5l1.5-0.3 2 0.2 1.5 0.4 1 0.7 0.7 1-0.3 1.5-0.9 0.9-1.4 0.6-1.6 0.3-2-0.2-1.5-0.4-1.4-0.7-1.1-0.7-0.4-1.3 1.4-1 1.5-0.7zM428.6 460l1.7-0.3 1.5 0.1 1.5 0.7 0.8 1-0.3 1.5-1 0.8-1.5 0.5-2-0.1-1.5-0.6-0.8-1.1 0.2-1.5 1.1-0.8z" fill="#1c1c1c" fill-opacity="0.120"/>
<path d="M447.1 460l1.7-0.4 2 0.3 1.5 0.6 1 0.9-0.3 1.6-1.2 0.8-1.5 0.5-2 0-1.5-0.4-1-0.8-0.5-1.1 0.5-1.1 1-0.8zM461.4 460l1.9-0.2 1.5 0.3 1.3 0.9 0.3 1.5-0.9 1-1.1 0.5-1.6 0.2-1.5-0.2-1.3-0.5-1.1-1 0.4-1.5 1-0.6zM429.5 460.5l1.8-0.1 1.2 0.6 0.4 1.5-1.1 0.9-1.5 0.2-1.5-0.4-0.8-1.2 0.8-1.2z" fill="#1c1c1c" fill-opacity="0.120"/>
<path d="M447.3 460.5l1.5-0.4 1.5 0.2 1.5 0.7 0.6 1-0.6 1-1.5 0.7-1.5 0.2-1.5-0.4-1-0.9 0.3-1.6zM461.8 460.5l1.5-0.1 1.5 0.4 0.8 1.2-0.8 1.2-1.5 0.4-1.5-0.1-1.2-0.5-0.7-1 0.7-1zM429.4 461.5l1.4-0.3 1 0.7-1 0.9-1.4-0.3z" fill="#fff" fill-opacity="0.4"/>
<path d="M447.8 461l1.5-0.3 1.5 0.5 0.3 1.3-1.3 0.7-2-0.2-0.7-1 0.7-1zM461.6 461.5l1.7-0.3 1.1 0.8-1.1 0.8-1.5-0.2z" fill="#fff" fill-opacity="0.6"/>
<path d="M448.1 461.5l1.7-0.2-0.5 1.5-1.5-0.8z" fill="#fff" fill-opacity="0.8"/>
<path d="M446.1 456l1.7-0.3 2 0 1.5 0.1 1.5 0.2 1.5 0.3 1.5 0.1 2-0.1 1.5-0.2 1.5-0.2 1.5-0.1 2 0 1.5 0.2 1.5 0.3 1.5 0.6 1.3 0.6 1.2 0.9 1 1 0.6 1.1 0.3 1.5-0.3 1.5-0.6 1.1-0.9 0.9-1.1 0.9-1.2 0.6-1.3 0.5-1.5 0.4-1.5 0.2-1.5 0.1-2 0-1.5-0.2-1.5-0.2-1.5-0.2-2 0.1-1.5 0.2-1.5 0.2-1.5 0.2-2 0-1.5-0.2-1.5-0.3-1.5-0.4-1.5-0.7-1.4-0.7-1.6-0.5-1.5 0.4-1.3 0.6-1.2 0.5-1.5 0.5-1.5 0.3-1.5 0.1-2-0.1-1.4-0.3-1.6-0.5-1.1-0.5-1.4-0.9-1-1-0.6-1.1-0.3-1.5 0.3-1.5 0.6-1.1 0.9-0.9 1.1-0.8 1.4-0.7 1.6-0.5 1.5-0.3 2-0.1 1.5 0.1 1.4 0.3 1.6 0.5 1.2 0.5 1.3 0.6 1.5 0.4 1.5-0.4 1.1-0.6 1.4-0.7 1.5-0.5zM448.3 457l1.6 0 1.9 0.2 1.4 0.3 1.6 0.3 1.5 0.1 1.5-0.2 1.5-0.2 1.5-0.3 1.5-0.1 2 0 1.5 0.3 1.5 0.4 1.4 0.7 1.1 0.8 0.9 1.2 0.4 1.5-0.3 1.3-0.8 1.2-1.2 0.9-1.1 0.6-1.4 0.5-1.5 0.3-1.5 0.1-2 0-1.5-0.3-1.5-0.3-1.5-0.2-2 0.1-1.5 0.3-1.5 0.3-1.5 0.2-2 0-1.5-0.2-1.5-0.4-1.5-0.6-1-0.6-1-0.9-1-1.2-0.3-1.6 0.8-1.3 1-1 1-0.7 1.5-0.8 1.5-0.4 1.5-0.3zM429.2 457.5l1.6-0.1 1.5 0.2 1.5 0.3 1.4 0.6 1.1 0.7 0.9 0.8 0.8 1 0.3 1.5-1 1.4-1 0.9-1 0.6-1.3 0.6-1.7 0.4-1.5 0.2-1.6-0.1-1.4-0.3-1.5-0.5-1.2-0.7-1-1-0.7-1.5 0.1-1.5 0.8-1.2 1-0.9 1.5-0.8 1.5-0.5zM448 458l1.8 0 1.5 0.1 1.5 0.4 1.5 0.4 1.5 0.3 1.5-0.1 1.5-0.4 1.5-0.4 1.5-0.2 2 0 1.5 0.2 1.5 0.5 1.2 0.7 1 1 0.5 1.5-0.5 1.5-1 1-1.2 0.7-1.5 0.5-1.5 0.2-2 0-1.5-0.2-1.5-0.4-1.5-0.4-1.5-0.1-1.5 0.3-1.5 0.4-1.5 0.4-1.5 0.1-1.8 0-1.7-0.3-1.5-0.7-1-0.6-0.8-0.9-0.5-1.5 0.5-1.5 0.8-0.9 1-0.6 1.5-0.7 1.5-0.3zM429.3 458.5l2 0 1.5 0.2 1.5 0.7 1 0.7 0.8 1.4-0.1 1.5-0.8 1-1.4 0.9-1.5 0.5-1.5 0.2-2-0.2-1.3-0.4-1.2-0.7-0.9-0.8-0.5-1.5 0.4-1.3 1-1 1.2-0.7 1.3-0.4zM446.9 459l1.4-0.3 2 0.1 1.5 0.3 1.2 0.4 1.2 0.5 1.6 0.5 1.5-0.2 1.5-0.6 1.5-0.5 1.5-0.3 2 0 1.5 0.3 1.5 0.7 1 0.9 0.3 1.7-0.8 1.2-1 0.7-1.5 0.6-1.5 0.2-2-0.2-1.5-0.3-1.5-0.6-1.5-0.5-2 0.1-1.5 0.7-1.5 0.5-1.5 0.3-2 0.1-1.4-0.3-1.2-0.5-1.3-1-0.6-1.5 0.5-1.4 1-0.9 1.5-0.7zM428.7 459.5l1.6-0.3 1.5 0.2 1.5 0.5 1 0.8 0.5 1.3-0.5 1.3-1 0.8-1.5 0.5-1.5 0.2-1.5-0.3-1.2-0.5-1.1-1-0.2-1.5 0.6-1 1.4-0.9zM448 459.5l1.8-0.1 1.5 0.3 1.5 0.7 1 0.9-0.2 1.7-1.3 0.9-1.5 0.5-1.5 0.2-1.5-0.1-1.4-0.5-1.1-0.9-0.3-1.6 0.7-1 1.1-0.7zM460.4 460l1.4-0.3 2-0.1 1.4 0.4 1.1 0.7 0.7 1.3-0.7 1.3-1 0.7-1.5 0.4-2-0.1-1.4-0.3-1.1-0.5-1-0.9 0.4-1.6 1.1-0.7zM428.6 460.5l1.7-0.4 1.5 0.2 1.3 0.7 0.3 1.5-1 1-1.6 0.4-1.5-0.1-1.4-0.8-0.3-1.5z" fill="none" stroke="#7a7d81" stroke-width="0.5"/>
<rect x="113.3" y="416.3" width="34.2" height="34" fill="none" stroke="#000" stroke-width="1.6"/>
<text x="148.0" y="415" font-size="9.3" text-anchor="end" font-weight="normal" >34</text>
<rect x="226.3" y="416.3" width="33.69999999999999" height="34" fill="none" stroke="#000" stroke-width="1.6"/>
<text x="260.5" y="415" font-size="9.3" text-anchor="end" font-weight="normal" >62</text>
<rect x="340.8" y="416.3" width="33.69999999999999" height="34" fill="none" stroke="#000" stroke-width="1.6"/>
<text x="375.0" y="415" font-size="9.3" text-anchor="end" font-weight="normal" >16</text>
<rect x="447.5" y="416.3" width="33.80000000000001" height="34" fill="none" stroke="#000" stroke-width="1.6"/>
<text x="481.8" y="415" font-size="9.3" text-anchor="end" font-weight="normal" >59</text>
<path d="M45 449V405" stroke="#000" stroke-width="1.5"/><path d="M41.1 407.5H48.9L45 398.8Z" fill="#000"/>
<text x="49" y="480.5" font-size="11" text-anchor="start" font-weight="normal" transform="rotate(-90 49 480.5)" >CD14</text>
<text x="69.3" y="508" font-size="11" text-anchor="start" font-weight="normal" >CD33</text>
<path d="M98.8 504.5H466" stroke="#000" stroke-width="1.5"/><path d="M464.5 500.5V508.5L473 504.5Z" fill="#000"/>
<rect x="72.5" y="518.5" width="83.0" height="82.70000000000005" fill="#fff" stroke="#c4c4c4" stroke-width="0.8"/>
<text x="70.3" y="530.9" font-size="9" text-anchor="end" font-weight="bold" stroke="none">10<tspan font-size="6" dy="-3.2">5</tspan></text>
<text x="70.3" y="548.9" font-size="9" text-anchor="end" font-weight="bold" stroke="none">10<tspan font-size="6" dy="-3.2">4</tspan></text>
<text x="70.3" y="571.4" font-size="9" text-anchor="end" font-weight="bold" stroke="none">10<tspan font-size="6" dy="-3.2">3</tspan></text>
<text x="69.3" y="587.2" font-size="9" text-anchor="end" font-weight="bold" stroke="none">0</text>
<rect x="70.5" y="582.2" width="1.8" height="3.6" fill="#111"/>
<path d="M70.5 527.5H72.5M70.5 545.5H72.5M70.5 568.0H72.5M70.5 584.0H72.5" stroke="#555" stroke-width="0.6"/>
<text x="90.8" y="613.4" font-size="9" text-anchor="middle" font-weight="bold" stroke="none">0</text>
<text x="104.0" y="613.4" font-size="9" text-anchor="start" font-weight="bold" stroke="none">10<tspan font-size="6" dy="-3.2">3</tspan></text>
<text x="125.50000000000001" y="613.4" font-size="9" text-anchor="start" font-weight="bold" stroke="none">10<tspan font-size="6" dy="-3.2">4</tspan></text>
<text x="140.39999999999998" y="613.4" font-size="9" text-anchor="start" font-weight="bold" stroke="none">10<tspan font-size="6" dy="-3.2">5</tspan></text>
<path d="M76.5 601.2v1.8M81.8 601.2v1.8M87.1 601.2v1.8M92.4 601.2v1.8M97.7 601.2v1.8M103.0 601.2v1.8M108.3 601.2v1.8M113.6 601.2v1.8M118.9 601.2v1.8M124.2 601.2v1.8M129.5 601.2v1.8M134.8 601.2v1.8M140.1 601.2v1.8M145.4 601.2v1.8M150.7 601.2v1.8" stroke="#666" stroke-width="0.7"/>
<rect x="89.7" y="601.4000000000001" width="3.6" height="1.7" fill="#1a1a1a"/>
<rect x="185" y="518.5" width="83" height="82.70000000000005" fill="#fff" stroke="#c4c4c4" stroke-width="0.8"/>
<text x="182.8" y="530.9" font-size="9" text-anchor="end" font-weight="bold" stroke="none">10<tspan font-size="6" dy="-3.2">5</tspan></text>
<text x="182.8" y="548.9" font-size="9" text-anchor="end" font-weight="bold" stroke="none">10<tspan font-size="6" dy="-3.2">4</tspan></text>
<text x="182.8" y="571.4" font-size="9" text-anchor="end" font-weight="bold" stroke="none">10<tspan font-size="6" dy="-3.2">3</tspan></text>
<text x="181.8" y="587.2" font-size="9" text-anchor="end" font-weight="bold" stroke="none">0</text>
<rect x="183" y="582.2" width="1.8" height="3.6" fill="#111"/>
<path d="M183 527.5H185M183 545.5H185M183 568.0H185M183 584.0H185" stroke="#555" stroke-width="0.6"/>
<text x="203" y="613.4" font-size="9" text-anchor="middle" font-weight="bold" stroke="none">0</text>
<text x="216.2" y="613.4" font-size="9" text-anchor="start" font-weight="bold" stroke="none">10<tspan font-size="6" dy="-3.2">3</tspan></text>
<text x="236.2" y="613.4" font-size="9" text-anchor="start" font-weight="bold" stroke="none">10<tspan font-size="6" dy="-3.2">4</tspan></text>
<text x="252.7" y="613.4" font-size="9" text-anchor="start" font-weight="bold" stroke="none">10<tspan font-size="6" dy="-3.2">5</tspan></text>
<path d="M189.0 601.2v1.8M194.3 601.2v1.8M199.6 601.2v1.8M204.9 601.2v1.8M210.2 601.2v1.8M215.5 601.2v1.8M220.8 601.2v1.8M226.1 601.2v1.8M231.4 601.2v1.8M236.7 601.2v1.8M242.0 601.2v1.8M247.3 601.2v1.8M252.6 601.2v1.8M257.9 601.2v1.8M263.2 601.2v1.8" stroke="#666" stroke-width="0.7"/>
<rect x="201.7" y="601.4000000000001" width="3.6" height="1.7" fill="#1a1a1a"/>
<rect x="298" y="518.5" width="82.5" height="82.70000000000005" fill="#fff" stroke="#c4c4c4" stroke-width="0.8"/>
<text x="295.8" y="530.9" font-size="9" text-anchor="end" font-weight="bold" stroke="none">10<tspan font-size="6" dy="-3.2">5</tspan></text>
<text x="295.8" y="548.9" font-size="9" text-anchor="end" font-weight="bold" stroke="none">10<tspan font-size="6" dy="-3.2">4</tspan></text>
<text x="295.8" y="571.4" font-size="9" text-anchor="end" font-weight="bold" stroke="none">10<tspan font-size="6" dy="-3.2">3</tspan></text>
<text x="294.8" y="587.2" font-size="9" text-anchor="end" font-weight="bold" stroke="none">0</text>
<rect x="296" y="582.2" width="1.8" height="3.6" fill="#111"/>
<path d="M296 527.5H298M296 545.5H298M296 568.0H298M296 584.0H298" stroke="#555" stroke-width="0.6"/>
<text x="315.8" y="613.4" font-size="9" text-anchor="middle" font-weight="bold" stroke="none">0</text>
<text x="328.59999999999997" y="613.4" font-size="9" text-anchor="start" font-weight="bold" stroke="none">10<tspan font-size="6" dy="-3.2">3</tspan></text>
<text x="348.59999999999997" y="613.4" font-size="9" text-anchor="start" font-weight="bold" stroke="none">10<tspan font-size="6" dy="-3.2">4</tspan></text>
<text x="365.2" y="613.4" font-size="9" text-anchor="start" font-weight="bold" stroke="none">10<tspan font-size="6" dy="-3.2">5</tspan></text>
<path d="M302.0 601.2v1.8M307.3 601.2v1.8M312.6 601.2v1.8M317.9 601.2v1.8M323.2 601.2v1.8M328.5 601.2v1.8M333.8 601.2v1.8M339.1 601.2v1.8M344.4 601.2v1.8M349.7 601.2v1.8M355.0 601.2v1.8M360.3 601.2v1.8M365.6 601.2v1.8M370.9 601.2v1.8M376.2 601.2v1.8" stroke="#666" stroke-width="0.7"/>
<rect x="314.7" y="601.4000000000001" width="3.6" height="1.7" fill="#1a1a1a"/>
<rect x="408.8" y="518.5" width="82.5" height="82.70000000000005" fill="#fff" stroke="#c4c4c4" stroke-width="0.8"/>
<text x="406.6" y="530.9" font-size="9" text-anchor="end" font-weight="bold" stroke="none">10<tspan font-size="6" dy="-3.2">5</tspan></text>
<text x="406.6" y="548.9" font-size="9" text-anchor="end" font-weight="bold" stroke="none">10<tspan font-size="6" dy="-3.2">4</tspan></text>
<text x="406.6" y="571.4" font-size="9" text-anchor="end" font-weight="bold" stroke="none">10<tspan font-size="6" dy="-3.2">3</tspan></text>
<text x="405.6" y="587.2" font-size="9" text-anchor="end" font-weight="bold" stroke="none">0</text>
<rect x="406.8" y="582.2" width="1.8" height="3.6" fill="#111"/>
<path d="M406.8 527.5H408.8M406.8 545.5H408.8M406.8 568.0H408.8M406.8 584.0H408.8" stroke="#555" stroke-width="0.6"/>
<text x="423.3" y="613.4" font-size="9" text-anchor="middle" font-weight="bold" stroke="none">0</text>
<text x="435.8" y="613.4" font-size="9" text-anchor="start" font-weight="bold" stroke="none">10<tspan font-size="6" dy="-3.2">3</tspan></text>
<text x="456.2" y="613.4" font-size="9" text-anchor="start" font-weight="bold" stroke="none">10<tspan font-size="6" dy="-3.2">4</tspan></text>
<text x="473.0" y="613.4" font-size="9" text-anchor="start" font-weight="bold" stroke="none">10<tspan font-size="6" dy="-3.2">5</tspan></text>
<path d="M412.8 601.2v1.8M418.1 601.2v1.8M423.4 601.2v1.8M428.7 601.2v1.8M434.0 601.2v1.8M439.3 601.2v1.8M444.6 601.2v1.8M449.9 601.2v1.8M455.2 601.2v1.8M460.5 601.2v1.8M465.8 601.2v1.8M471.1 601.2v1.8M476.4 601.2v1.8M481.7 601.2v1.8M487.0 601.2v1.8" stroke="#666" stroke-width="0.7"/>
<rect x="424.5" y="601.4000000000001" width="3.6" height="1.7" fill="#1a1a1a"/>
<path d="M127.5 538.5l1.5-0.3 2 0.2 1.4 0.6 1.1 0.7 1 1 1 1.3 0.6 1 0.7 1.5 0.5 1.5 0.4 1.5 0.2 1.5 0.2 1.5 0 2-0.1 1.5-0.2 1.5-0.3 1.5-0.4 1.5-0.5 1.5-0.6 1.3-0.6 1.2-0.7 1-0.7 1-1 1-1 0.9-1 0.6-1.3 0.5-1.7 0.3-1.5-0.1-1.5-0.6-1-0.6-1-0.9-1-1.1-0.6-1-0.8-1.5-0.6-1.5-0.4-1.5-0.3-1.5-0.1-1.5-0.1-2 0.1-2 0.2-1.5 0.3-1.5 0.4-1.5 0.5-1.5 0.7-1.5 0.7-1.3 0.8-1.2 0.9-1 0.8-0.8 0.9-0.7 1.1-0.6z" fill="#1c1c1c" fill-opacity="0.035"/>
<path d="M128.2 540.5l1.8-0.1 1.5 0.5 1 0.6 1 0.9 0.9 1.1 0.6 1 0.7 1.5 0.4 1.5 0.4 1.5 0.1 1.5 0.1 2-0.1 1.5-0.2 1.5-0.4 1.5-0.4 1.5-0.6 1.4-0.6 1.1-0.6 1-0.8 1-1 1-1 0.7-1.5 0.7-1.5 0.2-1.5-0.2-1.5-0.7-0.9-0.7-0.9-1-0.7-1-0.8-1.5-0.5-1.5-0.4-1.5-0.2-1.5-0.1-2 0.1-2 0.2-1.5 0.4-1.5 0.4-1.5 0.7-1.5 0.7-1.4 0.8-1.1 0.9-1 1.2-1 1.1-0.6z" fill="#1c1c1c" fill-opacity="0.035"/>
<path d="M127.1 542.5l1.4-0.4 2 0.1 1.5 0.8 1 0.9 0.8 1.1 0.7 1.3 0.5 1.2 0.3 1.5 0.3 1.5 0 2-0.1 1.5-0.2 1.5-0.4 1.5-0.4 1.2-0.5 1.1-0.7 1.2-0.7 1-1 1-1.1 0.8-1.5 0.6-2-0.1-1.5-0.6-1-0.8-0.8-0.9-0.6-1-0.6-1.3-0.4-1.2-0.3-1.5-0.2-1.5 0-2 0.1-1.5 0.3-1.4 0.4-1.6 0.6-1.4 0.6-1.1 0.6-1 0.8-0.9 1-0.9 1-0.6z" fill="#1c1c1c" fill-opacity="0.035"/>
<path d="M128.5 543.5l2 0.2 1.3 0.8 1 1 0.6 1 0.6 1.3 0.5 1.7 0.2 1.5 0 2-0.2 1.5-0.3 1.5-0.5 1.5-0.7 1.5-0.6 1-0.9 1-1 0.8-1.5 0.6-2 0-1.5-0.8-1-1-0.7-1.1-0.7-1.5-0.4-1.5-0.2-1.5 0-2 0.1-1.5 0.4-1.5 0.5-1.5 0.5-1.2 0.8-1.3 0.9-1 1.3-1 1.5-0.5z" fill="#1c1c1c" fill-opacity="0.035"/>
<path d="M127.9 545l1.6-0.2 1.5 0.6 1 0.9 0.8 1.2 0.6 1.5 0.3 1.5 0.2 1.5-0.1 2-0.3 1.4-0.5 1.5-0.8 1.6-0.7 1-1 0.9-1.2 0.6-1.8 0.1-1.4-0.6-1-1-0.7-1-0.6-1.5-0.3-1.3-0.2-1.7 0.1-2 0.3-1.5 0.5-1.5 0.8-1.5 0.7-1 1.2-1z" fill="#1c1c1c" fill-opacity="0.035"/>
<path d="M127.5 546.5l1.5-0.4 1.4 0.4 1.1 1 0.7 1 0.5 1.5 0.3 1.5 0 2-0.3 1.5-0.5 1.5-0.7 1.3-1 1.1-1 0.7-1.5 0.3-1.5-0.6-0.8-0.8-0.7-1-0.5-1.5-0.3-1.5 0-2 0.3-1.5 0.5-1.5 0.8-1.5 1-1z" fill="#1c1c1c" fill-opacity="0.035"/>
<path d="M128.4 547.5l1.6 0.2 0.9 0.8 0.6 1 0.5 1.4 0.2 1.6-0.2 1.5-0.4 1.5-0.6 1.3-1 1.1-1.2 0.6-1.8-0.3-1-1.1-0.5-1.1-0.4-1.5 0-2 0.3-1.5 0.6-1.5 0.8-1 1.2-0.9z" fill="#1c1c1c" fill-opacity="0.035"/>
<path d="M128.5 550l1.3 0.5 0.7 1.5-0.1 2-0.8 1.5-1.3 0.5-1.2-1-0.4-1.5 0.1-1.5 0.7-1.3z" fill="#fff" fill-opacity="0.3"/>
<path d="M127.5 538.5l1.5-0.3 2 0.2 1.4 0.6 1.1 0.7 1 1 1 1.3 0.6 1 0.7 1.5 0.5 1.5 0.4 1.5 0.2 1.5 0.2 1.5 0 2-0.1 1.5-0.2 1.5-0.3 1.5-0.4 1.5-0.5 1.5-0.6 1.3-0.6 1.2-0.7 1-0.7 1-1 1-1 0.9-1 0.6-1.3 0.5-1.7 0.3-1.5-0.1-1.5-0.6-1-0.6-1-0.9-1-1.1-0.6-1-0.8-1.5-0.6-1.5-0.4-1.5-0.3-1.5-0.1-1.5-0.1-2 0.1-2 0.2-1.5 0.3-1.5 0.4-1.5 0.5-1.5 0.7-1.5 0.7-1.3 0.8-1.2 0.9-1 0.8-0.8 0.9-0.7 1.1-0.6zM128.2 540.5l1.8-0.1 1.5 0.5 1 0.6 1 0.9 0.9 1.1 0.6 1 0.7 1.5 0.4 1.5 0.4 1.5 0.1 1.5 0.1 2-0.1 1.5-0.2 1.5-0.4 1.5-0.4 1.5-0.6 1.4-0.6 1.1-0.6 1-0.8 1-1 1-1 0.7-1.5 0.7-1.5 0.2-1.5-0.2-1.5-0.7-0.9-0.7-0.9-1-0.7-1-0.8-1.5-0.5-1.5-0.4-1.5-0.2-1.5-0.1-2 0.1-2 0.2-1.5 0.4-1.5 0.4-1.5 0.7-1.5 0.7-1.4 0.8-1.1 0.9-1 1.2-1 1.1-0.6zM127.1 542.5l1.4-0.4 2 0.1 1.5 0.8 1 0.9 0.8 1.1 0.7 1.3 0.5 1.2 0.3 1.5 0.3 1.5 0 2-0.1 1.5-0.2 1.5-0.4 1.5-0.4 1.2-0.5 1.1-0.7 1.2-0.7 1-1 1-1.1 0.8-1.5 0.6-2-0.1-1.5-0.6-1-0.8-0.8-0.9-0.6-1-0.6-1.3-0.4-1.2-0.3-1.5-0.2-1.5 0-2 0.1-1.5 0.3-1.4 0.4-1.6 0.6-1.4 0.6-1.1 0.6-1 0.8-0.9 1-0.9 1-0.6zM128.5 543.5l2 0.2 1.3 0.8 1 1 0.6 1 0.6 1.3 0.5 1.7 0.2 1.5 0 2-0.2 1.5-0.3 1.5-0.5 1.5-0.7 1.5-0.6 1-0.9 1-1 0.8-1.5 0.6-2 0-1.5-0.8-1-1-0.7-1.1-0.7-1.5-0.4-1.5-0.2-1.5 0-2 0.1-1.5 0.4-1.5 0.5-1.5 0.5-1.2 0.8-1.3 0.9-1 1.3-1 1.5-0.5zM127.9 545l1.6-0.2 1.5 0.6 1 0.9 0.8 1.2 0.6 1.5 0.3 1.5 0.2 1.5-0.1 2-0.3 1.4-0.5 1.5-0.8 1.6-0.7 1-1 0.9-1.2 0.6-1.8 0.1-1.4-0.6-1-1-0.7-1-0.6-1.5-0.3-1.3-0.2-1.7 0.1-2 0.3-1.5 0.5-1.5 0.8-1.5 0.7-1 1.2-1zM127.5 546.5l1.5-0.4 1.4 0.4 1.1 1 0.7 1 0.5 1.5 0.3 1.5 0 2-0.3 1.5-0.5 1.5-0.7 1.3-1 1.1-1 0.7-1.5 0.3-1.5-0.6-0.8-0.8-0.7-1-0.5-1.5-0.3-1.5 0-2 0.3-1.5 0.5-1.5 0.8-1.5 1-1zM128.4 547.5l1.6 0.2 0.9 0.8 0.6 1 0.5 1.4 0.2 1.6-0.2 1.5-0.4 1.5-0.6 1.3-1 1.1-1.2 0.6-1.8-0.3-1-1.1-0.5-1.1-0.4-1.5 0-2 0.3-1.5 0.6-1.5 0.8-1 1.2-0.9zM128.1 549l1.9 0.3 0.8 1.2 0.4 1.5-0.1 2-0.5 1.5-0.8 1-1.3 0.6-1.5-0.6-0.6-1-0.4-1.3 0-1.7 0.4-1.5 0.6-1.1 1-0.9zM128.1 550.5l1.7 0.5 0.5 1.5-0.2 1.5-0.6 1.2-1.5 0.4-0.9-1.1-0.2-1.5 0.4-1.5 0.7-0.9z" fill="none" stroke="#a3a6aa" stroke-width="0.5"/>
<path d="M127.1 553.5l1.4-0.3 1.5 0.1 1.5 0.6 1 0.8 0.8 0.8 0.7 1 0.8 1.5 0.7 1.5 0.5 1.2 0.5 1.3 0.4 1.5 0.1 1.5-0.2 1.5-0.3 1.3-0.5 1.4-0.7 1.3-0.6 1-0.7 1-0.8 1-1 1-1 1-1.2 1-1 0.8-1 0.8-1 0.7-1 0.6-1 0.7-1 0.6-1.5 0.8-1.5 0.7-1.5 0.7-1.5 0.6-1.4 0.5-1.6 0.5-1.5 0.4-1.5 0.3-1.5 0.3-1.5 0.3-1.5 0.1-1.5 0.2-1.5 0.2-2 0.1-2 0-2 0-1.5-0.2-1.5-0.2-1.5-0.5-1.3-0.5-1.2-0.9-0.8-1.1-0.1-1.5 0.4-1.2 1-1.3 1-1 1-0.7 1-0.7 1.1-0.6 1.4-0.7 1.5-0.6 1.5-0.5 1.5-0.5 1.5-0.4 1.5-0.4 1.5-0.5 1.5-0.6 1.5-0.8 1-0.6 1-0.7 1-0.7 1-0.8 1-0.7 1-0.7 1-0.7 1-0.7 1-0.8 1-1.1 0.7-1 0.8-1.5 0.5-1.2 0.6-1.3 0.9-1.5 0.7-1 0.8-0.9 1-0.8 1.5-0.8z" fill="#1c1c1c" fill-opacity="0.075"/>
<path d="M126.9 555.5l1.6-0.4 1.5 0.2 1.3 0.7 1 1 0.8 1 0.7 1.5 0.6 1.5 0.5 1.5 0.3 1.5 0 2-0.2 1.4-0.5 1.5-0.5 1.1-0.9 1.5-0.8 1-0.8 0.9-1 1-1 0.9-1 0.8-1 0.8-1 0.7-1 0.7-1 0.6-1.5 0.9-1.3 0.7-1.2 0.6-1.5 0.6-1.5 0.6-1.5 0.5-1.5 0.4-1.3 0.3-1.7 0.3-1.5 0.3-1.5 0.2-1.5 0.1-1.5 0.1-2 0.1-2 0.1-2-0.2-1.5-0.2-1.5-0.5-1.3-0.8-0.7-1 0.3-2 0.7-1 1-0.8 1-0.7 1-0.6 1.5-0.7 1.5-0.6 1.5-0.5 1.5-0.5 1.5-0.4 1.5-0.6 1.3-0.6 1.2-0.7 1-0.6 0.9-0.7 1.1-0.8 1-0.8 1-0.7 1-0.8 1-0.7 1-0.7 1-0.8 1-0.8 1-1.3 0.7-1.1 0.7-1.5 0.6-1.3 0.7-1.2 0.7-1 0.9-1 1.2-0.8z" fill="#1c1c1c" fill-opacity="0.075"/>
<path d="M126.9 557l1.6-0.4 1.5 0.3 1 0.6 0.9 1 0.6 1 0.7 1.5 0.5 1.5 0.3 1.5 0 2-0.2 1.5-0.5 1.5-0.8 1.5-0.7 1-0.8 1-0.9 1-1.1 1-1 0.9-1 0.7-1 0.8-1 0.6-1 0.7-1.5 0.8-1.5 0.8-1.5 0.7-1.4 0.5-1.5 0.5-1.6 0.4-1.5 0.4-1.5 0.2-1.5 0.2-1.5 0.2-1.5 0.1-2 0.1-2 0-2-0.1-1.5-0.3-1.5-0.7-0.7-1 0.5-1.5 1.1-1 1.1-0.7 1.5-0.8 1.4-0.5 1.3-0.5 1.3-0.5 1.4-0.5 1.1-0.5 1.5-0.9 1-0.6 1-0.8 0.9-0.7 1.1-0.9 1-0.8 1-0.7 1-0.8 1-0.7 1-0.7 1-0.8 1-0.9 0.9-1.2 0.9-1.5 0.7-1.4 0.6-1.1 0.6-1 0.8-1 1-0.8z" fill="#1c1c1c" fill-opacity="0.075"/>
<path d="M128.2 558l1.8 0.4 1 0.9 0.8 1.2 0.7 1.5 0.4 1.5 0.2 1.5-0.2 2-0.4 1.5-0.5 1.1-0.9 1.4-0.7 1-0.9 0.9-1 1-1 0.8-1 0.8-1 0.7-1 0.7-1 0.6-1.5 0.9-1.3 0.6-1.1 0.5-1.3 0.5-1.3 0.4-1.5 0.4-1.5 0.3-1.5 0.3-1.5 0.1-2 0.1-2 0-1.9-0.1-1.6-0.3-1.3-0.7 0.3-1.3 1-0.8 1.5-0.8 1.2-0.6 1.3-0.6 1.5-0.8 1-0.7 1-0.7 1-0.8 1-0.8 1-0.9 1-0.8 1-0.8 1-0.8 1-0.7 1-0.7 1-0.8 1-0.8 0.8-0.8 0.8-1 0.6-1 0.8-1.4 0.6-1.1 0.6-1 0.8-0.9 1-0.7z" fill="#1c1c1c" fill-opacity="0.075"/>
<path d="M127.7 559.5l1.8 0.2 1 0.8 0.6 1 0.6 1.5 0.3 1.5 0.1 2-0.4 1.5-0.6 1.5-0.6 1-0.8 1-0.9 1-0.8 0.8-1 0.9-1 0.8-1 0.7-1 0.6-1 0.6-1.5 0.9-1.5 0.7-1.4 0.5-1.6 0.5-1.5 0.3-1.5 0.3-2 0-1.5-0.1-1.5-0.3-0.8-1.2 0.8-1 1-1 1-0.9 1-0.9 1-0.9 0.8-0.8 1.1-1 1.1-0.9 1-0.8 1-0.8 1-0.7 1-0.7 1-0.8 0.9-0.8 1-1 0.7-1 0.6-1 0.8-1.4 0.8-1.1 0.9-1z" fill="#1c1c1c" fill-opacity="0.075"/>
<path d="M127.8 561l1.7 0.4 0.9 1.1 0.5 1.5 0.2 1.5-0.1 1.5-0.4 1.5-0.6 1.2-0.9 1.3-0.9 1-1 1-1.2 1-1 0.8-1 0.7-1 0.6-1.5 0.8-1.3 0.6-1.2 0.5-1.5 0.4-1.5 0.3-2 0.1-1.5-0.5-0.4-1.3 0.8-1.5 0.8-1 0.8-0.9 1-1 1-0.9 1-0.9 1-0.7 1-0.8 1-0.7 1-0.7 1-0.9 1-1 0.8-1 0.6-1 0.7-1 0.8-1 1.1-0.9z" fill="#1c1c1c" fill-opacity="0.075"/>
<path d="M127.2 563l1.3-0.3 1 0.8 0.5 1.3 0.1 1.7-0.3 1.5-0.6 1.5-0.7 1-0.9 1-1 1-1.1 1-1 0.7-1 0.7-1 0.6-1.5 0.8-1.5 0.6-1.5 0.4-1.5 0.2-1.5-0.3-0.6-1.2 0.6-1.3 0.9-1.2 0.9-1 1.1-1 1.1-0.9 1-0.7 1-0.7 1-0.8 1-0.8 1-0.9 1-1.2 0.7-1 0.8-0.9z" fill="#1c1c1c" fill-opacity="0.075"/>
<path d="M127.1 565l1.6 0.5 0.2 1.5-0.3 1.5-0.6 1.1-1 1.3-1 1.1-1 0.8-1 0.8-1 0.7-1.2 0.7-1.3 0.6-1.2 0.4-1.8 0.1-1-0.6 0.4-1.5 0.7-1 0.9-0.9 1-0.9 1-0.7 1-0.7 1-0.7 1-0.8 0.9-0.8 1-1 1-1z" fill="#fff" fill-opacity="0.4"/>
<path d="M126.4 567l1.3 0.5-0.3 1.5-0.9 1.4-1 1.1-1 0.9-1 0.8-1 0.7-1.2 0.6-1.3 0.5-1.6 0 0.1-1.8 1-1.1 1-0.9 1-0.7 1-0.6 1-0.7 0.9-0.7 1.1-0.9z" fill="#fff" fill-opacity="0.6"/>
<path d="M124.5 569.5l1.1 0.5-0.7 1-0.9 1-1 0.8-1 0.6-1.4 0.6-1.1-0.5 1-1.4 1-0.8 1-0.6 1-0.6z" fill="#fff" fill-opacity="0.8"/>
<path d="M127.1 553.5l1.4-0.3 1.5 0.1 1.5 0.6 1 0.8 0.8 0.8 0.7 1 0.8 1.5 0.7 1.5 0.5 1.2 0.5 1.3 0.4 1.5 0.1 1.5-0.2 1.5-0.3 1.3-0.5 1.4-0.7 1.3-0.6 1-0.7 1-0.8 1-1 1-1 1-1.2 1-1 0.8-1 0.8-1 0.7-1 0.6-1 0.7-1 0.6-1.5 0.8-1.5 0.7-1.5 0.7-1.5 0.6-1.4 0.5-1.6 0.5-1.5 0.4-1.5 0.3-1.5 0.3-1.5 0.3-1.5 0.1-1.5 0.2-1.5 0.2-2 0.1-2 0-2 0-1.5-0.2-1.5-0.2-1.5-0.5-1.3-0.5-1.2-0.9-0.8-1.1-0.1-1.5 0.4-1.2 1-1.3 1-1 1-0.7 1-0.7 1.1-0.6 1.4-0.7 1.5-0.6 1.5-0.5 1.5-0.5 1.5-0.4 1.5-0.4 1.5-0.5 1.5-0.6 1.5-0.8 1-0.6 1-0.7 1-0.7 1-0.8 1-0.7 1-0.7 1-0.7 1-0.7 1-0.8 1-1.1 0.7-1 0.8-1.5 0.5-1.2 0.6-1.3 0.9-1.5 0.7-1 0.8-0.9 1-0.8 1.5-0.8zM126.9 555.5l1.6-0.4 1.5 0.2 1.3 0.7 1 1 0.8 1 0.7 1.5 0.6 1.5 0.5 1.5 0.3 1.5 0 2-0.2 1.4-0.5 1.5-0.5 1.1-0.9 1.5-0.8 1-0.8 0.9-1 1-1 0.9-1 0.8-1 0.8-1 0.7-1 0.7-1 0.6-1.5 0.9-1.3 0.7-1.2 0.6-1.5 0.6-1.5 0.6-1.5 0.5-1.5 0.4-1.3 0.3-1.7 0.3-1.5 0.3-1.5 0.2-1.5 0.1-1.5 0.1-2 0.1-2 0.1-2-0.2-1.5-0.2-1.5-0.5-1.3-0.8-0.7-1 0.3-2 0.7-1 1-0.8 1-0.7 1-0.6 1.5-0.7 1.5-0.6 1.5-0.5 1.5-0.5 1.5-0.4 1.5-0.6 1.3-0.6 1.2-0.7 1-0.6 0.9-0.7 1.1-0.8 1-0.8 1-0.7 1-0.8 1-0.7 1-0.7 1-0.8 1-0.8 1-1.3 0.7-1.1 0.7-1.5 0.6-1.3 0.7-1.2 0.7-1 0.9-1 1.2-0.8zM126.9 557l1.6-0.4 1.5 0.3 1 0.6 0.9 1 0.6 1 0.7 1.5 0.5 1.5 0.3 1.5 0 2-0.2 1.5-0.5 1.5-0.8 1.5-0.7 1-0.8 1-0.9 1-1.1 1-1 0.9-1 0.7-1 0.8-1 0.6-1 0.7-1.5 0.8-1.5 0.8-1.5 0.7-1.4 0.5-1.5 0.5-1.6 0.4-1.5 0.4-1.5 0.2-1.5 0.2-1.5 0.2-1.5 0.1-2 0.1-2 0-2-0.1-1.5-0.3-1.5-0.7-0.7-1 0.5-1.5 1.1-1 1.1-0.7 1.5-0.8 1.4-0.5 1.3-0.5 1.3-0.5 1.4-0.5 1.1-0.5 1.5-0.9 1-0.6 1-0.8 0.9-0.7 1.1-0.9 1-0.8 1-0.7 1-0.8 1-0.7 1-0.7 1-0.8 1-0.9 0.9-1.2 0.9-1.5 0.7-1.4 0.6-1.1 0.6-1 0.8-1 1-0.8zM128.2 558l1.8 0.4 1 0.9 0.8 1.2 0.7 1.5 0.4 1.5 0.2 1.5-0.2 2-0.4 1.5-0.5 1.1-0.9 1.4-0.7 1-0.9 0.9-1 1-1 0.8-1 0.8-1 0.7-1 0.7-1 0.6-1.5 0.9-1.3 0.6-1.1 0.5-1.3 0.5-1.3 0.4-1.5 0.4-1.5 0.3-1.5 0.3-1.5 0.1-2 0.1-2 0-1.9-0.1-1.6-0.3-1.3-0.7 0.3-1.3 1-0.8 1.5-0.8 1.2-0.6 1.3-0.6 1.5-0.8 1-0.7 1-0.7 1-0.8 1-0.8 1-0.9 1-0.8 1-0.8 1-0.8 1-0.7 1-0.7 1-0.8 1-0.8 0.8-0.8 0.8-1 0.6-1 0.8-1.4 0.6-1.1 0.6-1 0.8-0.9 1-0.7zM127.7 559.5l1.8 0.2 1 0.8 0.6 1 0.6 1.5 0.3 1.5 0.1 2-0.4 1.5-0.6 1.5-0.6 1-0.8 1-0.9 1-0.8 0.8-1 0.9-1 0.8-1 0.7-1 0.6-1 0.6-1.5 0.9-1.5 0.7-1.4 0.5-1.6 0.5-1.5 0.3-1.5 0.3-2 0-1.5-0.1-1.5-0.3-0.8-1.2 0.8-1 1-1 1-0.9 1-0.9 1-0.9 0.8-0.8 1.1-1 1.1-0.9 1-0.8 1-0.8 1-0.7 1-0.7 1-0.8 0.9-0.8 1-1 0.7-1 0.6-1 0.8-1.4 0.8-1.1 0.9-1zM127.8 561l1.7 0.4 0.9 1.1 0.5 1.5 0.2 1.5-0.1 1.5-0.4 1.5-0.6 1.2-0.9 1.3-0.9 1-1 1-1.2 1-1 0.8-1 0.7-1 0.6-1.5 0.8-1.3 0.6-1.2 0.5-1.5 0.4-1.5 0.3-2 0.1-1.5-0.5-0.4-1.3 0.8-1.5 0.8-1 0.8-0.9 1-1 1-0.9 1-0.9 1-0.7 1-0.8 1-0.7 1-0.7 1-0.9 1-1 0.8-1 0.6-1 0.7-1 0.8-1 1.1-0.9zM127.2 563l1.3-0.3 1 0.8 0.5 1.3 0.1 1.7-0.3 1.5-0.6 1.5-0.7 1-0.9 1-1 1-1.1 1-1 0.7-1 0.7-1 0.6-1.5 0.8-1.5 0.6-1.5 0.4-1.5 0.2-1.5-0.3-0.6-1.2 0.6-1.3 0.9-1.2 0.9-1 1.1-1 1.1-0.9 1-0.7 1-0.7 1-0.8 1-0.8 1-0.9 1-1.2 0.7-1 0.8-0.9zM127.1 565l1.6 0.5 0.2 1.5-0.3 1.5-0.6 1.1-1 1.3-1 1.1-1 0.8-1 0.8-1 0.7-1.2 0.7-1.3 0.6-1.2 0.4-1.8 0.1-1-0.6 0.4-1.5 0.7-1 0.9-0.9 1-0.9 1-0.7 1-0.7 1-0.7 1-0.8 0.9-0.8 1-1 1-1zM126.4 567.5l0.8 1-0.7 1.5-0.8 1-1 1-1.2 1-1 0.7-1.5 0.7-1.5 0.4-1.1-0.8 0.6-1.1 0.9-0.9 1.1-0.9 1-0.7 1-0.6 1-0.7 1-0.7 1-0.7z" fill="none" stroke="#8e9195" stroke-width="0.5"/>
<path d="M243.7 533.5l1.8-0.1 1.5 0.5 1 0.6 1 1 0.7 1 0.7 1.5 0.5 1.5 0.4 1.5 0.1 1.5 0.1 2 0 2-0.2 1.5-0.2 1.5-0.3 1.5-0.4 1.5-0.5 1.5-0.5 1.5-0.7 1.5-0.7 1.4-0.6 1.1-0.6 1-0.7 1-0.8 1-0.8 0.8-1 1-0.9 0.7-1.1 0.7-1.5 0.6-1.5 0.3-1.5-0.1-1.2-0.5-1.3-0.9-0.9-1.1-0.6-1-0.5-1.2-0.4-1.3-0.4-1.5-0.1-1.5-0.1-2 0-2 0.2-1.5 0.2-1.5 0.3-1.5 0.4-1.5 0.5-1.5 0.5-1.5 0.7-1.5 0.7-1.4 0.6-1.1 0.6-1 0.7-1 0.8-1 0.8-0.8 1-1 0.9-0.7 1.1-0.7 1.5-0.6z" fill="#1c1c1c" fill-opacity="0.085"/>
<path d="M243.1 536l1.9-0.1 1.5 0.5 1 0.8 1 1.3 0.7 1.5 0.4 1.5 0.3 1.5 0.1 1.5 0 2-0.1 1.5-0.2 1.5-0.3 1.5-0.4 1.3-0.5 1.6-0.5 1.2-0.5 1.2-0.6 1.2-0.9 1.4-0.8 1.1-0.7 0.9-1 1-1 0.8-1 0.7-1.5 0.6-1.5 0.2-1.5-0.4-1.3-0.8-0.9-1-0.6-1-0.6-1.5-0.4-1.5-0.2-1.5 0-2 0.1-2 0.1-1.5 0.3-1.5 0.4-1.5 0.5-1.5 0.5-1.5 0.6-1.3 0.6-1.2 0.9-1.4 0.8-1.1 0.7-0.9 1-1 1-0.8 1-0.7 1.5-0.6z" fill="#1c1c1c" fill-opacity="0.085"/>
<path d="M242.3 538l1.7-0.3 1.4 0.3 1.1 0.7 1 1.2 0.6 1.1 0.4 1.3 0.3 1.7 0.1 1.5 0 2-0.2 1.5-0.3 1.5-0.4 1.5-0.5 1.5-0.5 1.3-0.6 1.2-0.8 1.5-0.7 1-0.8 1-1 1-1.1 0.8-1.3 0.7-1.7 0.3-1.4-0.3-1.1-0.7-1-1.2-0.6-1.1-0.4-1.3-0.3-1.7-0.1-1.5 0-2 0.2-1.5 0.3-1.5 0.4-1.5 0.5-1.5 0.5-1.3 0.6-1.2 0.8-1.5 0.7-1 0.8-1 1-1 1.1-0.8z" fill="#1c1c1c" fill-opacity="0.085"/>
<path d="M242.4 539.5l1.6-0.2 1.5 0.6 1 1 0.6 1.1 0.5 1.5 0.3 1.5 0.1 2-0.2 1.5-0.2 1.5-0.3 1.5-0.5 1.5-0.6 1.5-0.7 1.3-0.8 1.2-0.7 1-1 1-1 0.8-1.4 0.7-1.6 0.2-1.5-0.6-1-1-0.6-1.1-0.5-1.5-0.3-1.5-0.1-2 0.2-1.5 0.2-1.5 0.3-1.5 0.5-1.5 0.6-1.5 0.7-1.3 0.8-1.2 0.7-1 1-1 1-0.8z" fill="#1c1c1c" fill-opacity="0.085"/>
<path d="M242.2 541l1.8-0.1 1.2 0.6 0.8 0.9 0.7 1.6 0.3 1.5 0.1 2-0.2 1.5-0.3 1.5-0.4 1.5-0.5 1.5-0.7 1.4-0.7 1.1-0.8 1-1 1-1 0.7-1.5 0.5-1.5-0.2-1-0.8-0.8-1.2-0.5-1.5-0.2-1.5 0-2 0.2-1.5 0.3-1.5 0.4-1.5 0.6-1.4 0.6-1.1 0.6-1 0.8-1 1-1 1-0.7z" fill="#1c1c1c" fill-opacity="0.085"/>
<path d="M242 542.5l1.5-0.2 1.2 0.7 0.8 1 0.5 1.5 0.1 1.5 0 2-0.3 1.5-0.4 1.5-0.7 1.5-0.7 1.3-0.9 1.2-1.1 1-1.5 0.7-1.5-0.2-1-0.8-0.7-1.2-0.4-1.5-0.1-1.5 0.2-1.9 0.3-1.6 0.5-1.5 0.7-1.4 0.6-1.1 0.8-1 1.1-1z" fill="#1c1c1c" fill-opacity="0.085"/>
<path d="M241.7 544l1.8-0.1 1 0.9 0.5 1.1 0.3 1.6-0.2 2-0.3 1.5-0.5 1.5-0.8 1.4-0.9 1.1-1.1 0.9-1.5 0.3-1.3-0.7-0.7-1.4-0.3-1.6 0.2-2 0.3-1.5 0.5-1.5 0.8-1.4 0.9-1.1 1.1-0.9z" fill="#1c1c1c" fill-opacity="0.085"/>
<path d="M241.3 545.5l1.2-0.4 1.4 0.9 0.5 1.5 0 2-0.3 1.5-0.6 1.4-0.7 1.1-0.8 0.8-1.5 0.6-1.4-0.9-0.5-1.5 0-2 0.3-1.5 0.6-1.4 0.7-1.1 0.8-0.8z" fill="#fff" fill-opacity="0.4"/>
<path d="M241.2 547l1.3-0.3 0.8 0.8 0.2 1.5-0.2 1.5-0.6 1.5-0.9 1-1.3 0.3-0.8-0.8-0.2-1.5 0.2-1.5 0.6-1.5z" fill="#fff" fill-opacity="0.6"/>
<path d="M241.5 548l1.2 1-0.1 1.5-0.6 1.1-1.2 0.4-0.5-1.5 0.4-1.5 0.8-1z" fill="#fff" fill-opacity="0.8"/>
<path d="M243.7 533.5l1.8-0.1 1.5 0.5 1 0.6 1 1 0.7 1 0.7 1.5 0.5 1.5 0.4 1.5 0.1 1.5 0.1 2 0 2-0.2 1.5-0.2 1.5-0.3 1.5-0.4 1.5-0.5 1.5-0.5 1.5-0.7 1.5-0.7 1.4-0.6 1.1-0.6 1-0.7 1-0.8 1-0.8 0.8-1 1-0.9 0.7-1.1 0.7-1.5 0.6-1.5 0.3-1.5-0.1-1.2-0.5-1.3-0.9-0.9-1.1-0.6-1-0.5-1.2-0.4-1.3-0.4-1.5-0.1-1.5-0.1-2 0-2 0.2-1.5 0.2-1.5 0.3-1.5 0.4-1.5 0.5-1.5 0.5-1.5 0.7-1.5 0.7-1.4 0.6-1.1 0.6-1 0.7-1 0.8-1 0.8-0.8 1-1 0.9-0.7 1.1-0.7 1.5-0.6zM243.1 536l1.9-0.1 1.5 0.5 1 0.8 1 1.3 0.7 1.5 0.4 1.5 0.3 1.5 0.1 1.5 0 2-0.1 1.5-0.2 1.5-0.3 1.5-0.4 1.3-0.5 1.6-0.5 1.2-0.5 1.2-0.6 1.2-0.9 1.4-0.8 1.1-0.7 0.9-1 1-1 0.8-1 0.7-1.5 0.6-1.5 0.2-1.5-0.4-1.3-0.8-0.9-1-0.6-1-0.6-1.5-0.4-1.5-0.2-1.5 0-2 0.1-2 0.1-1.5 0.3-1.5 0.4-1.5 0.5-1.5 0.5-1.5 0.6-1.3 0.6-1.2 0.9-1.4 0.8-1.1 0.7-0.9 1-1 1-0.8 1-0.7 1.5-0.6zM242.3 538l1.7-0.3 1.4 0.3 1.1 0.7 1 1.2 0.6 1.1 0.4 1.3 0.3 1.7 0.1 1.5 0 2-0.2 1.5-0.3 1.5-0.4 1.5-0.5 1.5-0.5 1.3-0.6 1.2-0.8 1.5-0.7 1-0.8 1-1 1-1.1 0.8-1.3 0.7-1.7 0.3-1.4-0.3-1.1-0.7-1-1.2-0.6-1.1-0.4-1.3-0.3-1.7-0.1-1.5 0-2 0.2-1.5 0.3-1.5 0.4-1.5 0.5-1.5 0.5-1.3 0.6-1.2 0.8-1.5 0.7-1 0.8-1 1-1 1.1-0.8zM242.4 539.5l1.6-0.2 1.5 0.6 1 1 0.6 1.1 0.5 1.5 0.3 1.5 0.1 2-0.2 1.5-0.2 1.5-0.3 1.5-0.5 1.5-0.6 1.5-0.7 1.3-0.8 1.2-0.7 1-1 1-1 0.8-1.4 0.7-1.6 0.2-1.5-0.6-1-1-0.6-1.1-0.5-1.5-0.3-1.5-0.1-2 0.2-1.5 0.2-1.5 0.3-1.5 0.5-1.5 0.6-1.5 0.7-1.3 0.8-1.2 0.7-1 1-1 1-0.8zM242.2 541l1.8-0.1 1.2 0.6 0.8 0.9 0.7 1.6 0.3 1.5 0.1 2-0.2 1.5-0.3 1.5-0.4 1.5-0.5 1.5-0.7 1.4-0.7 1.1-0.8 1-1 1-1 0.7-1.5 0.5-1.5-0.2-1-0.8-0.8-1.2-0.5-1.5-0.2-1.5 0-2 0.2-1.5 0.3-1.5 0.4-1.5 0.6-1.4 0.6-1.1 0.6-1 0.8-1 1-1 1-0.7zM242 542.5l1.5-0.2 1.2 0.7 0.8 1 0.5 1.5 0.1 1.5 0 2-0.3 1.5-0.4 1.5-0.7 1.5-0.7 1.3-0.9 1.2-1.1 1-1.5 0.7-1.5-0.2-1-0.8-0.7-1.2-0.4-1.5-0.1-1.5 0.2-1.9 0.3-1.6 0.5-1.5 0.7-1.4 0.6-1.1 0.8-1 1.1-1zM241.7 544l1.8-0.1 1 0.9 0.5 1.1 0.3 1.6-0.2 2-0.3 1.5-0.5 1.5-0.8 1.4-0.9 1.1-1.1 0.9-1.5 0.3-1.3-0.7-0.7-1.4-0.3-1.6 0.2-2 0.3-1.5 0.5-1.5 0.8-1.4 0.9-1.1 1.1-0.9zM241.8 545.5l1.7 0.3 0.6 1.2 0.2 1.5-0.2 1.5-0.4 1.5-0.7 1.4-0.9 1.1-1.1 0.6-1.5-0.4-0.6-1.2-0.2-1.5 0.2-1.5 0.4-1.5 0.7-1.4 0.9-1.1zM242 547l1 0.6 0.3 1.4-0.2 1.5-0.6 1.3-1 1-1.4-0.3-0.4-1.5 0.2-1.5 0.6-1.3 1-1z" fill="none" stroke="#8e9195" stroke-width="0.5"/>
<path d="M241.9 559.5l1.6 0 1.5 0.3 1.5 0.5 1.2 0.7 1.1 1 0.8 1 0.7 1.5 0.3 1.5 0 2-0.2 1.5-0.4 1.4-0.5 1.3-0.7 1.3-0.6 1-0.7 1-0.9 1-0.9 1-1.2 1-1 0.8-1 0.7-1.5 0.8-1.4 0.7-1.2 0.5-1.4 0.5-1.5 0.5-1.5 0.4-1.5 0.5-1.5 0.4-1.5 0.5-1.5 0.4-1.5 0.5-1.5 0.4-1.5 0.4-1.5 0.3-1.5 0.2-1.5 0.2-1.5 0.1-2 0-2-0.1-1.5-0.3-1.3-0.4-1.2-0.6-1-0.9-0.5-1.1 0.2-1.9 0.8-1.3 1-1.2 1-0.8 1-0.8 1-0.6 1.4-0.8 1.1-0.5 1.5-0.7 1.5-0.6 1.5-0.5 1.5-0.5 1.5-0.5 1.5-0.6 1-0.6 1-0.8 1-1.2 0.7-1 0.7-1 0.7-1 0.7-1 0.9-1 0.8-0.9 1-0.9 1-0.7 1-0.7 1.5-0.8 1.1-0.5 1.4-0.5 1.5-0.4z" fill="#1c1c1c" fill-opacity="0.085"/>
<path d="M239.3 561.5l1.7-0.3 2 0 1.5 0.3 1.2 0.5 1.3 0.9 0.9 1.1 0.6 1.2 0.3 1.3 0.1 2-0.3 1.5-0.5 1.5-0.6 1.3-0.7 1.2-0.8 1-0.9 1-1 1-1.1 0.9-1 0.7-1 0.6-1.5 0.7-1.4 0.6-1.5 0.5-1.6 0.4-1.5 0.4-1.5 0.4-1.5 0.4-1.5 0.5-1.2 0.4-1.3 0.4-1.5 0.4-1.5 0.4-1.5 0.3-1.5 0.2-1.5 0.1-2 0-1.5-0.1-1.5-0.5-1.2-0.7-0.7-1 0.3-2 0.8-1 1.1-1 1.2-0.9 1.1-0.6 1.4-0.7 1.5-0.6 1.5-0.5 1.5-0.5 1.5-0.5 1.5-0.6 1-0.6 1-0.8 1-1.2 0.6-1 0.9-1.5 0.6-1 0.7-1 0.9-1 0.8-0.9 1-0.9 1-0.7 1-0.6 1.5-0.8 1.5-0.5z" fill="#1c1c1c" fill-opacity="0.085"/>
<path d="M240.1 562.5l1.9-0.1 1.5 0.2 1.5 0.6 1 0.8 0.8 1 0.6 1.5 0.2 1.5-0.1 1.5-0.4 1.5-0.6 1.3-0.7 1.2-0.8 1-0.9 1-1.1 1-1 0.8-1 0.6-1.1 0.6-1.1 0.5-1.3 0.5-1.5 0.4-1.5 0.3-1.5 0.3-1.5 0.3-1.5 0.4-1.5 0.4-1.2 0.4-1.3 0.4-1.5 0.4-1.5 0.4-1.5 0.2-1.5 0.1-2-0.1-1.2-0.4-1-1 0.3-1.5 0.9-1 1-0.7 1.5-0.8 1.1-0.5 1.4-0.5 1.5-0.5 1.5-0.4 1.3-0.6 1.2-0.7 1-1 0.9-1.3 0.6-1.1 0.7-1.4 0.8-1.3 0.8-1.2 0.8-1 0.9-0.9 1-0.8 1-0.7 1.1-0.6 1.2-0.5 1.2-0.4z" fill="#1c1c1c" fill-opacity="0.085"/>
<path d="M240.3 563.5l1.7 0 1.5 0.3 1.2 0.7 1 1 0.6 1.5 0.2 1.5-0.2 1.5-0.5 1.5-0.8 1.4-0.8 1.1-0.9 1-1.1 1-1.2 0.8-1.3 0.7-1.1 0.5-1.6 0.5-1.5 0.3-1.5 0.2-2 0.1-2 0-2 0.1-1.5 0.5-1.5 0.6-1.5 0.4-1.9-0.2 0.6-1 1.2-0.5 1.6-0.5 1.5-0.4 1.1-0.6 0.9-0.8 0.8-1.2 0.7-1.3 0.5-1.2 0.5-1.2 0.5-1.1 0.6-1.2 0.6-1 0.8-1 0.9-1 1.1-0.9 1-0.7 1.5-0.8 1.5-0.5z" fill="#1c1c1c" fill-opacity="0.085"/>
<path d="M240.1 564.5l1.7 0 1.5 0.5 1.2 0.9 0.6 1.1 0.3 1.5-0.1 1.5-0.5 1.5-0.8 1.3-0.9 1.2-1.1 1-1 0.8-1.3 0.7-1.1 0.5-1.6 0.4-1.5 0.2-2-0.1-1.2-0.5-0.8-1 0-1.6 0.3-1.4 0.4-1.5 0.7-1.5 0.6-1 0.7-1 0.8-0.9 1-0.8 1-0.7 1.2-0.6 1.3-0.4z" fill="#1c1c1c" fill-opacity="0.085"/>
<path d="M239.9 565.5l1.6 0 1.3 0.5 1 1 0.5 1.5-0.2 2-0.6 1.5-0.7 1-0.8 0.9-1 0.8-1 0.6-1.5 0.7-1.5 0.4-2-0.1-1.4-0.8-0.6-1.4 0.1-1.6 0.4-1.5 0.5-1.1 0.9-1.4 1-1 1.1-0.9 1.1-0.6 1.4-0.4z" fill="#1c1c1c" fill-opacity="0.085"/>
<path d="M239.6 566.5l1.9 0.1 1 0.7 0.7 1.2-0.1 2-0.6 1.4-0.8 1.1-1.2 1-1 0.6-1.5 0.5-1.5 0.2-1.5-0.6-0.7-1.2 0.1-2 0.5-1.5 0.7-1 0.9-1 1-0.7 1.5-0.7z" fill="#1c1c1c" fill-opacity="0.085"/>
<path d="M238.6 568l1.4-0.3 1.5 0.7 0.5 1.1-0.3 1.5-0.6 1-1.1 1-1 0.6-1.5 0.3-1.5-0.8-0.3-1.6 0.6-1.5 0.7-1 1-0.7z" fill="#fff" fill-opacity="0.4"/>
<path d="M238.3 569l1.7-0.3 0.9 0.8-0.1 1.5-0.7 1-1.1 0.7-1.5 0.1-0.8-1.3 0.5-1.5z" fill="#fff" fill-opacity="0.6"/>
<path d="M239 569.5l1.1 0.5-0.5 1.5-1.1 0.5-1-1 1-1.3z" fill="#fff" fill-opacity="0.8"/>
<path d="M241.9 559.5l1.6 0 1.5 0.3 1.5 0.5 1.2 0.7 1.1 1 0.8 1 0.7 1.5 0.3 1.5 0 2-0.2 1.5-0.4 1.4-0.5 1.3-0.7 1.3-0.6 1-0.7 1-0.9 1-0.9 1-1.2 1-1 0.8-1 0.7-1.5 0.8-1.4 0.7-1.2 0.5-1.4 0.5-1.5 0.5-1.5 0.4-1.5 0.5-1.5 0.4-1.5 0.5-1.5 0.4-1.5 0.5-1.5 0.4-1.5 0.4-1.5 0.3-1.5 0.2-1.5 0.2-1.5 0.1-2 0-2-0.1-1.5-0.3-1.3-0.4-1.2-0.6-1-0.9-0.5-1.1 0.2-1.9 0.8-1.3 1-1.2 1-0.8 1-0.8 1-0.6 1.4-0.8 1.1-0.5 1.5-0.7 1.5-0.6 1.5-0.5 1.5-0.5 1.5-0.5 1.5-0.6 1-0.6 1-0.8 1-1.2 0.7-1 0.7-1 0.7-1 0.7-1 0.9-1 0.8-0.9 1-0.9 1-0.7 1-0.7 1.5-0.8 1.1-0.5 1.4-0.5 1.5-0.4zM239.3 561.5l1.7-0.3 2 0 1.5 0.3 1.2 0.5 1.3 0.9 0.9 1.1 0.6 1.2 0.3 1.3 0.1 2-0.3 1.5-0.5 1.5-0.6 1.3-0.7 1.2-0.8 1-0.9 1-1 1-1.1 0.9-1 0.7-1 0.6-1.5 0.7-1.4 0.6-1.5 0.5-1.6 0.4-1.5 0.4-1.5 0.4-1.5 0.4-1.5 0.5-1.2 0.4-1.3 0.4-1.5 0.4-1.5 0.4-1.5 0.3-1.5 0.2-1.5 0.1-2 0-1.5-0.1-1.5-0.5-1.2-0.7-0.7-1 0.3-2 0.8-1 1.1-1 1.2-0.9 1.1-0.6 1.4-0.7 1.5-0.6 1.5-0.5 1.5-0.5 1.5-0.5 1.5-0.6 1-0.6 1-0.8 1-1.2 0.6-1 0.9-1.5 0.6-1 0.7-1 0.9-1 0.8-0.9 1-0.9 1-0.7 1-0.6 1.5-0.8 1.5-0.5zM240.1 562.5l1.9-0.1 1.5 0.2 1.5 0.6 1 0.8 0.8 1 0.6 1.5 0.2 1.5-0.1 1.5-0.4 1.5-0.6 1.3-0.7 1.2-0.8 1-0.9 1-1.1 1-1 0.8-1 0.6-1.1 0.6-1.1 0.5-1.3 0.5-1.5 0.4-1.5 0.3-1.5 0.3-1.5 0.3-1.5 0.4-1.5 0.4-1.2 0.4-1.3 0.4-1.5 0.4-1.5 0.4-1.5 0.2-1.5 0.1-2-0.1-1.2-0.4-1-1 0.3-1.5 0.9-1 1-0.7 1.5-0.8 1.1-0.5 1.4-0.5 1.5-0.5 1.5-0.4 1.3-0.6 1.2-0.7 1-1 0.9-1.3 0.6-1.1 0.7-1.4 0.8-1.3 0.8-1.2 0.8-1 0.9-0.9 1-0.8 1-0.7 1.1-0.6 1.2-0.5 1.2-0.4zM240.3 563.5l1.7 0 1.5 0.3 1.2 0.7 1 1 0.6 1.5 0.2 1.5-0.2 1.5-0.5 1.5-0.8 1.4-0.8 1.1-0.9 1-1.1 1-1.2 0.8-1.3 0.7-1.1 0.5-1.6 0.5-1.5 0.3-1.5 0.2-2 0.1-2 0-2 0.1-1.5 0.5-1.5 0.6-1.5 0.4-1.9-0.2 0.6-1 1.2-0.5 1.6-0.5 1.5-0.4 1.1-0.6 0.9-0.8 0.8-1.2 0.7-1.3 0.5-1.2 0.5-1.2 0.5-1.1 0.6-1.2 0.6-1 0.8-1 0.9-1 1.1-0.9 1-0.7 1.5-0.8 1.5-0.5zM240.1 564.5l1.7 0 1.5 0.5 1.2 0.9 0.6 1.1 0.3 1.5-0.1 1.5-0.5 1.5-0.8 1.3-0.9 1.2-1.1 1-1 0.8-1.3 0.7-1.1 0.5-1.6 0.4-1.5 0.2-2-0.1-1.2-0.5-0.8-1 0-1.6 0.3-1.4 0.4-1.5 0.7-1.5 0.6-1 0.7-1 0.8-0.9 1-0.8 1-0.7 1.2-0.6 1.3-0.4zM239.9 565.5l1.6 0 1.3 0.5 1 1 0.5 1.5-0.2 2-0.6 1.5-0.7 1-0.8 0.9-1 0.8-1 0.6-1.5 0.7-1.5 0.4-2-0.1-1.4-0.8-0.6-1.4 0.1-1.6 0.4-1.5 0.5-1.1 0.9-1.4 1-1 1.1-0.9 1.1-0.6 1.4-0.4zM239.6 566.5l1.9 0.1 1 0.7 0.7 1.2-0.1 2-0.6 1.4-0.8 1.1-1.2 1-1 0.6-1.5 0.5-1.5 0.2-1.5-0.6-0.7-1.2 0.1-2 0.5-1.5 0.7-1 0.9-1 1-0.7 1.5-0.7zM238.2 568l1.3-0.4 1.5 0.1 0.9 0.8 0.3 1.5-0.6 1.5-0.7 1-0.9 0.7-1.5 0.7-1.6 0.1-1.3-1-0.1-1.5 0.5-1.4 0.8-1.1 1.2-0.9zM238.3 569l1.7-0.3 0.9 0.8-0.1 1.5-0.7 1-1.1 0.7-1.5 0.1-0.8-1.3 0.5-1.5z" fill="none" stroke="#8e9195" stroke-width="0.5"/>
<path d="M351.7 532.5l1.3-0.4 1.5-0.1 1.5 0.2 1.5 0.4 1.5 0.9 1 0.9 1 1.1 0.6 1 0.8 1.5 0.5 1.5 0.4 1.5 0.2 1.5 0.1 1.5 0 2-0.1 1.5-0.3 1.5-0.3 1.5-0.4 1.2-0.5 1.3-0.5 1.2-0.6 1.3-0.9 1.4-0.8 1.1-0.8 1-0.9 0.9-1 0.8-1 0.7-1.5 0.8-1.5 0.5-1.5 0.3-2-0.2-1.5-0.4-1.5-0.9-1-0.9-1-1.1-0.6-1-0.8-1.5-0.5-1.5-0.4-1.5-0.2-1.5-0.1-1.5 0-2 0.1-1.5 0.3-1.5 0.3-1.5 0.4-1.2 0.5-1.3 0.5-1.2 0.6-1.3 0.9-1.4 0.8-1.1 0.8-1 0.9-0.9 1-0.8 1-0.7 1.5-0.8z" fill="#1c1c1c" fill-opacity="0.012"/>
<path d="M352.6 534.5l1.4-0.2 1.5 0.1 1.5 0.6 1 0.6 1 0.8 0.9 1.1 0.6 1 0.5 1.1 0.5 1.4 0.3 1.5 0.2 1.5 0 2-0.2 1.5-0.2 1.5-0.4 1.5-0.5 1.5-0.7 1.5-0.8 1.5-0.6 1-0.8 1-1 1-1.2 1-1.1 0.7-1.5 0.6-1.5 0.4-2-0.1-1.5-0.6-1-0.6-1-0.8-0.9-1.1-0.6-1-0.5-1.1-0.5-1.4-0.3-1.5-0.2-1.5 0-2 0.2-1.5 0.2-1.5 0.4-1.5 0.5-1.5 0.7-1.5 0.8-1.5 0.6-1 0.8-1 1-1 1.2-1 1.1-0.7 1.5-0.6z" fill="#1c1c1c" fill-opacity="0.012"/>
<path d="M351.6 536.5l1.4-0.4 2 0 1.5 0.5 1 0.7 1 1 0.8 1.2 0.7 1.4 0.5 1.6 0.2 1.5 0 2-0.1 1.5-0.2 1.5-0.4 1.3-0.5 1.4-0.5 1.1-0.6 1.2-0.7 1-0.8 1-0.9 0.9-1 0.7-1.5 0.9-1.5 0.4-2 0-1.5-0.5-1-0.7-1-1-0.8-1.2-0.7-1.4-0.5-1.6-0.2-1.5 0-2 0.1-1.5 0.2-1.5 0.4-1.3 0.5-1.4 0.5-1.1 0.6-1.2 0.7-1 0.8-1 0.9-0.9 1-0.7 1.5-0.9z" fill="#1c1c1c" fill-opacity="0.012"/>
<path d="M351.5 538l1.5-0.4 2 0.1 1.5 0.6 1 0.9 0.9 1.3 0.6 1.2 0.4 1.3 0.2 1.5 0.1 2-0.2 1.4-0.3 1.6-0.5 1.5-0.7 1.5-0.6 1-0.8 1-0.9 1-1.2 0.9-1 0.6-1.5 0.4-2-0.1-1.5-0.6-1-0.9-0.9-1.3-0.6-1.2-0.4-1.3-0.2-1.5-0.1-2 0.2-1.4 0.3-1.6 0.5-1.5 0.7-1.5 0.6-1 0.8-1 0.9-1 1.2-0.9z" fill="#1c1c1c" fill-opacity="0.012"/>
<path d="M352.8 539l1.6 0 1.3 0.5 1.2 1 0.7 1 0.7 1.5 0.3 1.5 0.1 2-0.2 1.5-0.3 1.5-0.6 1.5-0.6 1.2-0.9 1.3-1 1-1.1 0.8-1.5 0.7-1.5 0.1-1.5-0.5-1-0.7-0.8-0.9-0.7-1.3-0.5-1.7-0.2-1.5 0.1-2 0.3-1.5 0.5-1.5 0.7-1.5 0.6-1 0.9-1 1.1-1 1.5-0.8z" fill="#1c1c1c" fill-opacity="0.012"/>
<path d="M352.3 540.5l1.7-0.1 1.5 0.6 1 1 0.7 1.5 0.4 1.5 0 2-0.2 1.5-0.4 1.4-0.5 1.1-0.6 1-0.8 1-1.1 0.9-1.3 0.6-1.7 0.1-1.5-0.6-1-1-0.7-1.5-0.4-1.5 0-2 0.2-1.5 0.4-1.4 0.5-1.1 0.6-1 0.8-1 1.1-0.9z" fill="#1c1c1c" fill-opacity="0.012"/>
<path d="M351.9 542l1.6-0.3 1.5 0.6 1 1.2 0.5 1.3 0.2 1.7-0.2 1.5-0.4 1.5-0.6 1.2-1 1.3-1 0.8-1.5 0.5-1.5-0.3-1-0.8-0.7-1.2-0.4-1.5 0-2 0.3-1.5 0.7-1.5 0.6-1 1-1z" fill="#1c1c1c" fill-opacity="0.012"/>
<path d="M352.1 545.5l1.7 0.5 0.3 1.5-0.6 1.4-1 0.8-1.3-0.7-0.3-1.5 0.6-1.4z" fill="#fff" fill-opacity="0.2"/>
<path d="M351.7 532.5l1.3-0.4 1.5-0.1 1.5 0.2 1.5 0.4 1.5 0.9 1 0.9 1 1.1 0.6 1 0.8 1.5 0.5 1.5 0.4 1.5 0.2 1.5 0.1 1.5 0 2-0.1 1.5-0.3 1.5-0.3 1.5-0.4 1.2-0.5 1.3-0.5 1.2-0.6 1.3-0.9 1.4-0.8 1.1-0.8 1-0.9 0.9-1 0.8-1 0.7-1.5 0.8-1.5 0.5-1.5 0.3-2-0.2-1.5-0.4-1.5-0.9-1-0.9-1-1.1-0.6-1-0.8-1.5-0.5-1.5-0.4-1.5-0.2-1.5-0.1-1.5 0-2 0.1-1.5 0.3-1.5 0.3-1.5 0.4-1.2 0.5-1.3 0.5-1.2 0.6-1.3 0.9-1.4 0.8-1.1 0.8-1 0.9-0.9 1-0.8 1-0.7 1.5-0.8zM352.6 534.5l1.4-0.2 1.5 0.1 1.5 0.6 1 0.6 1 0.8 0.9 1.1 0.6 1 0.5 1.1 0.5 1.4 0.3 1.5 0.2 1.5 0 2-0.2 1.5-0.2 1.5-0.4 1.5-0.5 1.5-0.7 1.5-0.8 1.5-0.6 1-0.8 1-1 1-1.2 1-1.1 0.7-1.5 0.6-1.5 0.4-2-0.1-1.5-0.6-1-0.6-1-0.8-0.9-1.1-0.6-1-0.5-1.1-0.5-1.4-0.3-1.5-0.2-1.5 0-2 0.2-1.5 0.2-1.5 0.4-1.5 0.5-1.5 0.7-1.5 0.8-1.5 0.6-1 0.8-1 1-1 1.2-1 1.1-0.7 1.5-0.6zM351.6 536.5l1.4-0.4 2 0 1.5 0.5 1 0.7 1 1 0.8 1.2 0.7 1.4 0.5 1.6 0.2 1.5 0 2-0.1 1.5-0.2 1.5-0.4 1.3-0.5 1.4-0.5 1.1-0.6 1.2-0.7 1-0.8 1-0.9 0.9-1 0.7-1.5 0.9-1.5 0.4-2 0-1.5-0.5-1-0.7-1-1-0.8-1.2-0.7-1.4-0.5-1.6-0.2-1.5 0-2 0.1-1.5 0.2-1.5 0.4-1.3 0.5-1.4 0.5-1.1 0.6-1.2 0.7-1 0.8-1 0.9-0.9 1-0.7 1.5-0.9zM351.5 538l1.5-0.4 2 0.1 1.5 0.6 1 0.9 0.9 1.3 0.6 1.2 0.4 1.3 0.2 1.5 0.1 2-0.2 1.4-0.3 1.6-0.5 1.5-0.7 1.5-0.6 1-0.8 1-0.9 1-1.2 0.9-1 0.6-1.5 0.4-2-0.1-1.5-0.6-1-0.9-0.9-1.3-0.6-1.2-0.4-1.3-0.2-1.5-0.1-2 0.2-1.4 0.3-1.6 0.5-1.5 0.7-1.5 0.6-1 0.8-1 0.9-1 1.2-0.9zM352.8 539l1.6 0 1.3 0.5 1.2 1 0.7 1 0.7 1.5 0.3 1.5 0.1 2-0.2 1.5-0.3 1.5-0.6 1.5-0.6 1.2-0.9 1.3-1 1-1.1 0.8-1.5 0.7-1.5 0.1-1.5-0.5-1-0.7-0.8-0.9-0.7-1.3-0.5-1.7-0.2-1.5 0.1-2 0.3-1.5 0.5-1.5 0.7-1.5 0.6-1 0.9-1 1.1-1 1.5-0.8zM352.3 540.5l1.7-0.1 1.5 0.6 1 1 0.7 1.5 0.4 1.5 0 2-0.2 1.5-0.4 1.4-0.5 1.1-0.6 1-0.8 1-1.1 0.9-1.3 0.6-1.7 0.1-1.5-0.6-1-1-0.7-1.5-0.4-1.5 0-2 0.2-1.5 0.4-1.4 0.5-1.1 0.6-1 0.8-1 1.1-0.9zM351.9 542l1.6-0.3 1.5 0.6 1 1.2 0.5 1.3 0.2 1.7-0.2 1.5-0.4 1.5-0.6 1.2-1 1.3-1 0.8-1.5 0.5-1.5-0.3-1-0.8-0.7-1.2-0.4-1.5 0-2 0.3-1.5 0.7-1.5 0.6-1 1-1zM351.8 543.5l1.7-0.3 1.3 0.8 0.7 1.5 0.1 1.5-0.2 1.5-0.7 1.5-0.8 1-1.4 0.8-1.5-0.2-1-0.9-0.5-1.2-0.1-1.5 0.2-1.5 0.7-1.5 0.8-1zM351.9 545l1.6-0.1 0.9 1.1 0.1 1.5-0.5 1.5-0.9 1-1.6 0.1-0.9-1.1-0.1-1.5 0.5-1.5z" fill="none" stroke="#a6a9ad" stroke-width="0.5"/>
<path d="M349.1 561.5l1.4-0.2 2-0.1 2 0.1 1.5 0.3 1.5 0.3 1.5 0.6 1.1 0.5 1.4 0.9 1 0.8 1 1.1 0.8 1.2 0.6 1.5 0.4 1.5 0 2-0.2 1.5-0.4 1.5-0.7 1.5-0.9 1.5-0.7 1-0.9 1-1 1-1 0.9-1 0.7-1 0.7-1.2 0.7-1.3 0.6-1.5 0.7-1.5 0.5-1.5 0.4-1.5 0.3-1.5 0.2-2 0.1-2-0.1-1.5-0.2-1.5-0.2-1.5-0.3-1.5-0.3-1.5-0.2-2 0-2 0-2 0.2-2 0-2-0.1-1.5-0.2-1.5-0.4-1.3-0.5-1.2-0.8-1-1.2-0.2-1.5 0.6-1.5 0.8-1 1.2-1 1.1-0.7 1.5-0.8 1.2-0.5 1.3-0.5 1.3-0.5 1.2-0.5 1.2-0.5 1.3-0.8 0.9-0.7 1-1 0.8-1 0.8-0.9 1-1.1 1-1 1-0.9 1-0.7 1-0.7 1.2-0.7 1.3-0.6 1.5-0.7 1.5-0.5 1.5-0.4 1.5-0.3z" fill="#1c1c1c" fill-opacity="0.050"/>
<path d="M348.3 563.5l1.7-0.3 2-0.1 2 0.1 1.4 0.3 1.6 0.5 1.2 0.5 1.3 0.8 0.9 0.7 0.9 1 0.7 1 0.5 1.1 0.4 1.4 0 2-0.3 1.5-0.5 1.5-0.6 1.2-0.9 1.3-0.8 1-1 1-1.3 1-1 0.7-1 0.6-1.3 0.7-1.1 0.5-1.4 0.5-1.7 0.5-1.5 0.2-1.5 0.2-2 0-1.5-0.1-1.5-0.3-1.5-0.2-1.3-0.3-1.7-0.2-2-0.1-2 0.1-1.5 0.1-1.5 0.1-2 0.1-1.5-0.1-1.5-0.3-1.5-0.5-1-0.8-0.6-1.4 0.5-1.5 1-1 1.1-0.8 1.3-0.7 1.2-0.5 1.4-0.5 1.5-0.5 1.3-0.5 1.3-0.6 1-0.7 1-0.9 1-1.2 0.9-1.1 0.8-1 1-1 1.1-1 1.2-0.9 1-0.7 1.5-0.8 1.4-0.6 1.4-0.5 1.7-0.4z" fill="#1c1c1c" fill-opacity="0.050"/>
<path d="M347.8 565l1.7-0.3 1.5-0.2 2 0.1 1.5 0.3 1.5 0.4 1.5 0.7 1 0.7 0.9 0.8 0.7 1 0.7 1.5 0.3 1.5-0.1 1.8-0.5 1.7-0.7 1.5-0.7 1-0.9 1-1 1-1.2 0.9-1 0.7-1.5 0.8-1.5 0.6-1.5 0.4-1.5 0.4-1.5 0.1-2 0.1-1.5-0.1-1.5-0.3-1.5-0.3-1.5-0.3-1.5-0.2-1.5-0.2-2 0.1-1.5 0.2-1.5 0.1-2 0.1-1.5-0.1-1.5-0.4-1-0.9 0.3-1.7 1.1-1 1.1-0.6 1.5-0.6 1.5-0.5 1.5-0.5 1.5-0.6 1-0.7 1-0.9 0.9-1.1 0.8-1 0.7-1 0.9-1 1-1 1.1-1 1.1-0.7 1.3-0.8 1.2-0.6 1.5-0.5z" fill="#1c1c1c" fill-opacity="0.050"/>
<path d="M348.7 566l1.8-0.2 2 0 1.5 0.3 1.3 0.4 1.2 0.6 1 0.7 1 1.2 0.6 1 0.4 1.5-0.1 2-0.4 1.4-0.5 1.1-0.7 1-0.8 0.9-1 1-1 0.7-1 0.7-1.5 0.7-1.3 0.5-1.7 0.5-1.5 0.2-2 0.1-1.5-0.1-1.5-0.3-1.5-0.4-1.5-0.4-1.5-0.4-1.5-0.3-1.5-0.2-2 0.1-1.5 0.1-1.5-0.2 0.7-1.2 1.3-0.5 1.3-0.5 1.2-0.6 1-0.8 1-1.1 0.7-1 0.6-1 0.7-1 0.7-1 0.8-0.9 1-1 1-0.9 1-0.7 1.5-0.8 1.5-0.6 1.5-0.4z" fill="#1c1c1c" fill-opacity="0.050"/>
<path d="M349.6 567l1.9-0.1 1.5 0.2 1.2 0.4 1.3 0.6 1 0.8 0.9 1.1 0.6 1.5 0 1.8-0.5 1.7-0.9 1.5-0.8 1-1.2 1-1.1 0.8-1.4 0.7-1.3 0.5-1.3 0.3-1.5 0.3-2 0-1.5-0.2-1.5-0.3-1.5-0.5-1.2-0.6-1.3-1-0.4-1.5 0.4-1.5 0.5-1.1 0.7-1.4 0.7-1 0.8-1 1-1 1.3-1 1.5-0.8 1.5-0.6 1.5-0.4z" fill="#1c1c1c" fill-opacity="0.050"/>
<path d="M347.7 568.5l1.8-0.4 2 0 1.5 0.3 1.3 0.6 1.2 0.9 0.7 1.1 0.4 1.5-0.2 1.5-0.6 1.5-0.7 1-1.1 1-1 0.8-1.4 0.7-1.3 0.5-1.3 0.3-1.5 0.2-2-0.1-1.5-0.4-1.2-0.5-1.3-0.9-0.6-1.1 0-2 0.6-1.5 0.6-1 0.8-1 1-1 1.1-0.8 1.4-0.7z" fill="#1c1c1c" fill-opacity="0.050"/>
<path d="M348.2 569.5l1.8-0.3 2 0.2 1.4 0.6 1.1 1 0.6 1.5-0.1 1.5-0.5 1.2-1 1.2-1 0.9-1 0.6-1.5 0.6-1.5 0.3-2 0-1.4-0.3-1.1-0.5-1-0.9-0.5-1.5 0.3-1.6 0.7-1.3 1-1.2 1-0.8 1.3-0.7 1.2-0.5z" fill="#1c1c1c" fill-opacity="0.050"/>
<path d="M347.9 571.5l1.6-0.3 1.5 0.1 1.1 0.7 0.5 1.5-0.5 1.5-1.1 1-1.5 0.7-1.5 0.2-1.5-0.3-1-0.8-0.3-1.3 0.6-1.5 1.2-1z" fill="#fff" fill-opacity="0.4"/>
<path d="M348.1 572.5l1.4-0.3 1.5 0.6 0 1.7-1 0.9-1.5 0.4-1.4-0.3-0.5-1.5 0.8-1z" fill="#fff" fill-opacity="0.6"/>
<path d="M349.1 561.5l1.4-0.2 2-0.1 2 0.1 1.5 0.3 1.5 0.3 1.5 0.6 1.1 0.5 1.4 0.9 1 0.8 1 1.1 0.8 1.2 0.6 1.5 0.4 1.5 0 2-0.2 1.5-0.4 1.5-0.7 1.5-0.9 1.5-0.7 1-0.9 1-1 1-1 0.9-1 0.7-1 0.7-1.2 0.7-1.3 0.6-1.5 0.7-1.5 0.5-1.5 0.4-1.5 0.3-1.5 0.2-2 0.1-2-0.1-1.5-0.2-1.5-0.2-1.5-0.3-1.5-0.3-1.5-0.2-2 0-2 0-2 0.2-2 0-2-0.1-1.5-0.2-1.5-0.4-1.3-0.5-1.2-0.8-1-1.2-0.2-1.5 0.6-1.5 0.8-1 1.2-1 1.1-0.7 1.5-0.8 1.2-0.5 1.3-0.5 1.3-0.5 1.2-0.5 1.2-0.5 1.3-0.8 0.9-0.7 1-1 0.8-1 0.8-0.9 1-1.1 1-1 1-0.9 1-0.7 1-0.7 1.2-0.7 1.3-0.6 1.5-0.7 1.5-0.5 1.5-0.4 1.5-0.3zM348.3 563.5l1.7-0.3 2-0.1 2 0.1 1.4 0.3 1.6 0.5 1.2 0.5 1.3 0.8 0.9 0.7 0.9 1 0.7 1 0.5 1.1 0.4 1.4 0 2-0.3 1.5-0.5 1.5-0.6 1.2-0.9 1.3-0.8 1-1 1-1.3 1-1 0.7-1 0.6-1.3 0.7-1.1 0.5-1.4 0.5-1.7 0.5-1.5 0.2-1.5 0.2-2 0-1.5-0.1-1.5-0.3-1.5-0.2-1.3-0.3-1.7-0.2-2-0.1-2 0.1-1.5 0.1-1.5 0.1-2 0.1-1.5-0.1-1.5-0.3-1.5-0.5-1-0.8-0.6-1.4 0.5-1.5 1-1 1.1-0.8 1.3-0.7 1.2-0.5 1.4-0.5 1.5-0.5 1.3-0.5 1.3-0.6 1-0.7 1-0.9 1-1.2 0.9-1.1 0.8-1 1-1 1.1-1 1.2-0.9 1-0.7 1.5-0.8 1.4-0.6 1.4-0.5 1.7-0.4zM347.8 565l1.7-0.3 1.5-0.2 2 0.1 1.5 0.3 1.5 0.4 1.5 0.7 1 0.7 0.9 0.8 0.7 1 0.7 1.5 0.3 1.5-0.1 1.8-0.5 1.7-0.7 1.5-0.7 1-0.9 1-1 1-1.2 0.9-1 0.7-1.5 0.8-1.5 0.6-1.5 0.4-1.5 0.4-1.5 0.1-2 0.1-1.5-0.1-1.5-0.3-1.5-0.3-1.5-0.3-1.5-0.2-1.5-0.2-2 0.1-1.5 0.2-1.5 0.1-2 0.1-1.5-0.1-1.5-0.4-1-0.9 0.3-1.7 1.1-1 1.1-0.6 1.5-0.6 1.5-0.5 1.5-0.5 1.5-0.6 1-0.7 1-0.9 0.9-1.1 0.8-1 0.7-1 0.9-1 1-1 1.1-1 1.1-0.7 1.3-0.8 1.2-0.6 1.5-0.5zM348.7 566l1.8-0.2 2 0 1.5 0.3 1.3 0.4 1.2 0.6 1 0.7 1 1.2 0.6 1 0.4 1.5-0.1 2-0.4 1.4-0.5 1.1-0.7 1-0.8 0.9-1 1-1 0.7-1 0.7-1.5 0.7-1.3 0.5-1.7 0.5-1.5 0.2-2 0.1-1.5-0.1-1.5-0.3-1.5-0.4-1.5-0.4-1.5-0.4-1.5-0.3-1.5-0.2-2 0.1-1.5 0.1-1.5-0.2 0.7-1.2 1.3-0.5 1.3-0.5 1.2-0.6 1-0.8 1-1.1 0.7-1 0.6-1 0.7-1 0.7-1 0.8-0.9 1-1 1-0.9 1-0.7 1.5-0.8 1.5-0.6 1.5-0.4zM349.6 567l1.9-0.1 1.5 0.2 1.2 0.4 1.3 0.6 1 0.8 0.9 1.1 0.6 1.5 0 1.8-0.5 1.7-0.9 1.5-0.8 1-1.2 1-1.1 0.8-1.4 0.7-1.3 0.5-1.3 0.3-1.5 0.3-2 0-1.5-0.2-1.5-0.3-1.5-0.5-1.2-0.6-1.3-1-0.4-1.5 0.4-1.5 0.5-1.1 0.7-1.4 0.7-1 0.8-1 1-1 1.3-1 1.5-0.8 1.5-0.6 1.5-0.4zM347.7 568.5l1.8-0.4 2 0 1.5 0.3 1.3 0.6 1.2 0.9 0.7 1.1 0.4 1.5-0.2 1.5-0.6 1.5-0.7 1-1.1 1-1 0.8-1.4 0.7-1.3 0.5-1.3 0.3-1.5 0.2-2-0.1-1.5-0.4-1.2-0.5-1.3-0.9-0.6-1.1 0-2 0.6-1.5 0.6-1 0.8-1 1-1 1.1-0.8 1.4-0.7zM348.2 569.5l1.8-0.3 2 0.2 1.4 0.6 1.1 1 0.6 1.5-0.1 1.5-0.5 1.2-1 1.2-1 0.9-1 0.6-1.5 0.6-1.5 0.3-2 0-1.4-0.3-1.1-0.5-1-0.9-0.5-1.5 0.3-1.6 0.7-1.3 1-1.2 1-0.8 1.3-0.7 1.2-0.5zM349.1 570.5l1.6 0 1.3 0.4 1 0.8 0.6 1.3-0.3 1.5-0.7 1-1.1 1-1.5 0.8-1.5 0.3-1.9-0.1-1.2-0.5-0.9-0.9-0.3-1.6 0.7-1.5 0.9-1 1.2-0.8 1.5-0.6zM348.1 572l1.4-0.3 1.4 0.3 1 1-0.2 1.5-0.9 1-1.3 0.7-1.5 0.2-1.5-0.6-0.6-1.3 0.6-1.4 1-0.8z" fill="none" stroke="#a0a3a7" stroke-width="0.5"/>
<path d="M443.6 568.5l1.7-0.1 1.5 0.2 1.5 0.4 1.1 0.5 0.9 0.7 0.8 1.3 0.1 1.5-0.4 1.3-0.7 1.2-0.8 1-1 0.9-1 0.8-1 0.7-1 0.6-1.5 0.8-1.4 0.7-1.1 0.8-1 1-0.7 1.2-0.8 1.5-0.6 1-0.8 1-1 1-1.1 0.8-1.5 0.6-1.5 0.4-2 0-1.4-0.3-1.4-0.5-1.2-0.6-1-0.7-1-0.9-0.8-0.8-0.8-1-0.6-1-0.8-1.5-0.5-1.5-0.3-1.5-0.2-1.5 0.1-2 0.3-1.5 0.6-1.5 0.9-1.5 0.8-1 1.3-1 1-0.6 1.5-0.5 1.5-0.2 2 0.1 1.5 0.3 1.3 0.4 1.7 0.4 2 0 1.5-0.3 1.5-0.4 1.5-0.4 1.5-0.2z" fill="#1c1c1c" fill-opacity="0.012"/>
<path d="M441.8 570l1.5-0.2 2 0.1 1.5 0.3 1.4 0.8 0.7 1 0.2 1.5-0.6 1.5-0.7 0.9-1 1-1 0.8-1 0.7-1.2 0.6-1.3 0.7-1.5 0.8-1 0.7-1 1.2-0.7 1.1-0.8 1.5-0.7 1-0.8 0.8-1 0.8-1.5 0.7-1.5 0.4-2-0.1-1.5-0.4-1.3-0.7-1.2-0.8-1-0.9-1-1.2-0.7-1.1-0.7-1.5-0.4-1.5-0.2-1.5 0.1-2 0.3-1.5 0.6-1.5 0.7-1 0.8-0.9 1-0.8 1.5-0.7 1.5-0.3 2 0.1 1.5 0.3 1.5 0.4 1.5 0.2 2-0.1 1.5-0.3 1.3-0.4 1.7-0.4z" fill="#1c1c1c" fill-opacity="0.012"/>
<path d="M441.9 571l1.9-0.1 1.5 0.2 1.5 0.9 0.6 1.5-0.5 1.5-0.8 1-1.1 1-1.2 0.8-1.4 0.7-1.1 0.5-1.5 0.8-1 0.8-0.7 0.9-0.7 1-0.6 1.1-1 1.4-0.9 1-1.1 0.7-1.5 0.6-1.5 0.1-1.5-0.2-1.5-0.5-1-0.6-1-0.9-1-1.1-0.7-1.1-0.7-1.5-0.4-1.5-0.1-1.5 0.1-1.5 0.4-1.5 0.9-1.5 0.9-1 1.1-0.8 1.5-0.5 1.5-0.2 1.5 0.1 1.5 0.4 1.5 0.3 1.5 0.1 1.5-0.1 1.5-0.4 1.3-0.4 1.7-0.4z" fill="#1c1c1c" fill-opacity="0.012"/>
<path d="M442 572l1.8 0.1 1.5 0.7 0.3 1.7-0.8 1.2-0.9 0.8-1.1 0.7-1.5 0.8-1.1 0.5-1.4 0.8-1 0.9-0.9 1.3-0.9 1.5-0.7 1-0.9 1-1.1 0.8-1.5 0.5-2 0-1.5-0.5-1.3-0.8-1.1-1-0.7-1-0.8-1.5-0.4-1.5-0.2-1.5 0.2-1.5 0.6-1.5 0.6-1 1.1-1 1.5-0.7 1.5-0.3 2 0.2 1.5 0.4 1.5 0.3 2 0 1.5-0.4 1.5-0.4 1.5-0.4z" fill="#1c1c1c" fill-opacity="0.012"/>
<path d="M429.4 573.5l1.9 0.1 1.5 0.4 1.5 0.3 1.5 0.2 1.5-0.1 1.5-0.5 1.3-0.4 1.7-0.3 1.5 0.4 0 1.7-1 0.9-1.5 0.8-1.2 0.5-1.3 0.7-0.9 0.8-0.7 1-0.6 1-0.8 1.3-0.8 1.2-1.1 1-1.1 0.6-1.5 0.3-1.5-0.2-1.4-0.7-1.1-0.9-0.9-1.1-0.6-1.1-0.4-1.4-0.2-1.5 0.3-1.5 0.7-1.5 0.9-1 1.2-0.7 1.5-0.3z" fill="#1c1c1c" fill-opacity="0.012"/>
<path d="M429.2 574.5l1.6 0 1.5 0.3 1.5 0.5 1.5 0.5 1.2 0.7-0.1 1.5-0.6 1.3-0.6 1.2-0.8 1.5-0.8 1-1.3 1-1.5 0.4-1.5-0.2-1.3-0.7-1-1-0.7-1-0.5-1.3-0.2-1.7 0.4-1.5 0.8-1.3 0.9-0.7z" fill="#1c1c1c" fill-opacity="0.012"/>
<path d="M429.1 575.5l1.7-0.1 1.5 0.4 1.4 0.7 0.9 1 0 2-0.6 1.5-0.7 1-1 0.9-1.5 0.5-1.5-0.2-1.1-0.7-0.9-1-0.7-1.5 0-2 0.7-1.4 1-0.8z" fill="#1c1c1c" fill-opacity="0.012"/>
<path d="M429.1 577.5l1.7-0.3 1.4 0.8 0.4 1.5-0.8 1.4-1.3 0.6-1.4-0.5-0.7-1 0.2-2z" fill="#fff" fill-opacity="0.4"/>
<path d="M441.5 569.5l1.8-0.3 2 0 1.5 0.3 1.4 0.5 1.1 0.9 0.6 1.1-0.1 2-0.8 1.5-0.8 1-0.9 0.8-0.9 0.7-1.1 0.7-1.5 0.8-1.5 0.8-1.2 0.7-1.2 1-0.7 1-0.9 1.5-0.9 1.5-0.8 1-0.8 0.8-1 0.7-1.2 0.5-1.8 0.4-2-0.1-1.5-0.4-1.5-0.7-1-0.7-1-0.8-1-1.1-0.8-1.1-0.7-1.3-0.5-1.2-0.4-1.5-0.2-1.5 0-2 0.3-1.5 0.5-1.5 0.8-1.3 1-1.1 1-0.8 1.5-0.8 1.5-0.3 2-0.1 1.5 0.3 1.5 0.4 1.5 0.3 1.5 0.1 1.5-0.2 1.5-0.3 1.5-0.4zM441.9 571l1.9-0.1 1.5 0.2 1.5 0.9 0.6 1.5-0.5 1.5-0.8 1-1.1 1-1.2 0.8-1.4 0.7-1.1 0.5-1.5 0.8-1 0.8-0.7 0.9-0.7 1-0.6 1.1-1 1.4-0.9 1-1.1 0.7-1.5 0.6-1.5 0.1-1.5-0.2-1.5-0.5-1-0.6-1-0.9-1-1.1-0.7-1.1-0.7-1.5-0.4-1.5-0.1-1.5 0.1-1.5 0.4-1.5 0.9-1.5 0.9-1 1.1-0.8 1.5-0.5 1.5-0.2 1.5 0.1 1.5 0.4 1.5 0.3 1.5 0.1 1.5-0.1 1.5-0.4 1.3-0.4 1.7-0.4zM429.2 573l1.6 0.1 1.5 0.3 1.5 0.3 1.5 0.2 1.5-0.1 1.5-0.4 1.3-0.4 1.7-0.4 2 0 1.4 0.9-0.1 1.5-0.8 0.9-1 0.8-1.5 0.7-1.2 0.6-1.3 0.7-1 0.8-0.8 1-0.6 1-0.9 1.5-0.8 1-0.9 0.9-1.1 0.6-1.4 0.4-2-0.2-1.5-0.7-1-0.7-1-1.1-0.7-1.2-0.6-1.5-0.2-1.5 0.2-2 0.6-1.5 0.7-1 1-0.8 1.5-0.6zM428.2 574.5l1.6-0.3 1.5 0.1 1.5 0.4 1.5 0.5 1.5 0.4 1.5 0.3-0.1 1.6-0.6 1-0.8 1.4-0.5 1.1-0.9 1.5-0.9 1-1.2 0.8-1.5 0.3-1.5-0.2-1.5-0.8-1-0.9-0.7-1.2-0.6-1.5-0.1-1.5 0.3-1.5 0.6-1.1 0.9-0.9zM429.1 575.5l1.7-0.1 1.5 0.4 1.4 0.7 0.9 1 0 2-0.6 1.5-0.7 1-1 0.9-1.5 0.5-1.5-0.2-1.1-0.7-0.9-1-0.7-1.5 0-2 0.7-1.4 1-0.8zM428.9 577l1.4-0.4 1.5 0.4 1 0.8 0.3 1.7-0.7 1.5-1.1 0.9-2-0.2-0.9-0.7-0.6-1.4 0.2-1.6 0.8-0.9z" fill="none" stroke="#a0a3a7" stroke-width="0.5"/>
<path d="M454.3 559.5l1.5-0.3 1.5-0.1 2 0 1.5 0.2 1.5 0.3 1.5 0.5 1.5 0.7 1 0.6 1 0.8 0.9 0.8 0.9 1 0.6 1 0.6 1.3 0.4 1.2 0.2 1.5-0.1 2-0.3 1.5-0.5 1.5-0.7 1.3-0.8 1.2-0.9 1-0.8 0.8-1 0.9-1 0.7-1 0.6-1.5 0.8-1.5 0.6-1.5 0.5-1.5 0.3-1.5 0.2-2 0-1.5-0.1-1.5-0.3-1.5-0.4-1.5-0.6-1.5-0.8-1-0.8-1-0.9-0.9-1-0.6-1-0.7-1.5-0.4-1.5-0.1-1.5 0.1-2 0.4-1.5 0.7-1.5 0.9-1.5 0.7-1 0.9-1 1-0.9 1-0.7 1-0.7 1.3-0.7 1.2-0.6 1.2-0.4 1.3-0.4z" fill="#1c1c1c" fill-opacity="0.050"/>
<path d="M455.8 561l1.5-0.1 2 0 1.5 0.3 1.3 0.3 1.2 0.5 1.5 0.8 0.9 0.7 1.1 1 0.7 1 0.8 1.5 0.4 1.5 0.1 1.5-0.2 1.5-0.4 1.5-0.7 1.5-0.7 1-0.8 1-1 1-1.2 0.9-1 0.7-1.5 0.7-1.5 0.6-1.5 0.4-1.5 0.3-2 0-1.5-0.1-1.5-0.2-1.5-0.5-1.5-0.7-1-0.7-1-0.8-1-1.1-0.6-1-0.6-1.5-0.4-1.5 0.1-2 0.3-1.5 0.6-1.5 1-1.5 0.8-1 0.8-0.8 1-0.9 1-0.6 1.2-0.7 1.1-0.5 1.2-0.4 1.5-0.4z" fill="#1c1c1c" fill-opacity="0.050"/>
<path d="M454.8 562.5l1.5-0.3 2 0 1.5 0.2 1.5 0.3 1.5 0.6 1.1 0.7 1.2 1 0.8 1 0.8 1.5 0.4 1.5 0 2-0.3 1.4-0.5 1.2-0.9 1.4-0.8 1-1.1 1-1.2 0.8-1.2 0.7-1.2 0.5-1.6 0.5-1.5 0.2-2 0.1-1.5-0.1-1.5-0.4-1.5-0.6-1.2-0.7-1.2-1-0.8-1-0.8-1.4-0.4-1.6 0-2 0.3-1.5 0.6-1.3 0.8-1.2 0.7-0.9 1-0.9 1-0.8 1-0.6 1.5-0.7 1.5-0.5z" fill="#1c1c1c" fill-opacity="0.050"/>
<path d="M455.6 563.5l1.7-0.2 2 0.2 1.5 0.3 1.5 0.7 1 0.7 0.9 0.8 0.7 1 0.7 1.5 0.2 1.4-0.1 1.6-0.5 1.5-0.9 1.4-0.9 1.1-1.1 0.9-1 0.7-1.5 0.7-1.5 0.5-1.5 0.3-2 0.1-1.5-0.2-1.5-0.5-1.1-0.5-1.4-1-0.9-1-0.6-1-0.5-1.5 0-2 0.3-1.5 0.7-1.3 0.8-1.2 1.1-1 1.1-0.8 1.2-0.7 1.2-0.5 1.6-0.5z" fill="#1c1c1c" fill-opacity="0.050"/>
<path d="M456 564.5l1.8-0.1 1.5 0.2 1.3 0.4 1.2 0.6 1 0.8 0.9 1.1 0.6 1.3 0.2 1.7-0.3 1.5-0.7 1.5-0.7 1-1 0.9-1 0.7-1.5 0.8-1.5 0.5-1.5 0.2-2-0.1-1.5-0.3-1.4-0.7-1.1-0.8-1-1.2-0.7-1.5-0.1-1.5 0.3-1.5 0.5-1.2 0.9-1.3 1.1-1 1-0.7 1.5-0.7 1.5-0.5z" fill="#1c1c1c" fill-opacity="0.050"/>
<path d="M456.6 565.5l1.7 0 1.5 0.4 1.2 0.6 1.1 1 0.7 1 0.4 1.5-0.1 1.5-0.7 1.5-0.7 1-0.9 0.8-1 0.7-1.1 0.5-1.4 0.4-1.5 0.1-1.5-0.1-1.3-0.4-1.2-0.6-0.9-0.9-0.7-1-0.4-1.5 0.1-1.5 0.7-1.5 0.7-1 1-0.9 1-0.6 1.5-0.7 1.5-0.3z" fill="#1c1c1c" fill-opacity="0.050"/>
<path d="M454.6 567l1.7-0.4 2 0 1.5 0.6 1 0.7 0.8 1.1 0.3 1.5-0.3 1.5-0.8 1.3-1 0.9-1.4 0.8-1.6 0.4-2 0-1.3-0.4-1.2-0.8-0.9-1.2-0.3-1.5 0.3-1.5 0.9-1.4 1-0.9z" fill="#1c1c1c" fill-opacity="0.050"/>
<path d="M455.8 568l2 0 1.3 0.5 0.9 1 0.3 1.5-0.5 1.2-1 1.1-1.5 0.7-1.5 0.1-1.5-0.4-1-0.7-0.6-1.5 0.4-1.5 0.7-0.9 1-0.7z" fill="#fff" fill-opacity="0.5"/>
<path d="M456.5 569l1.8 0.5 0.6 1-0.4 1.5-1.2 0.8-1.5 0.2-1.1-0.5-0.6-1.5 0.7-1.3 1.5-0.7z" fill="#fff" fill-opacity="0.8"/>
<path d="M454.3 559.5l1.5-0.3 1.5-0.1 2 0 1.5 0.2 1.5 0.3 1.5 0.5 1.5 0.7 1 0.6 1 0.8 0.9 0.8 0.9 1 0.6 1 0.6 1.3 0.4 1.2 0.2 1.5-0.1 2-0.3 1.5-0.5 1.5-0.7 1.3-0.8 1.2-0.9 1-0.8 0.8-1 0.9-1 0.7-1 0.6-1.5 0.8-1.5 0.6-1.5 0.5-1.5 0.3-1.5 0.2-2 0-1.5-0.1-1.5-0.3-1.5-0.4-1.5-0.6-1.5-0.8-1-0.8-1-0.9-0.9-1-0.6-1-0.7-1.5-0.4-1.5-0.1-1.5 0.1-2 0.4-1.5 0.7-1.5 0.9-1.5 0.7-1 0.9-1 1-0.9 1-0.7 1-0.7 1.3-0.7 1.2-0.6 1.2-0.4 1.3-0.4zM455.8 561l1.5-0.1 2 0 1.5 0.3 1.3 0.3 1.2 0.5 1.5 0.8 0.9 0.7 1.1 1 0.7 1 0.8 1.5 0.4 1.5 0.1 1.5-0.2 1.5-0.4 1.5-0.7 1.5-0.7 1-0.8 1-1 1-1.2 0.9-1 0.7-1.5 0.7-1.5 0.6-1.5 0.4-1.5 0.3-2 0-1.5-0.1-1.5-0.2-1.5-0.5-1.5-0.7-1-0.7-1-0.8-1-1.1-0.6-1-0.6-1.5-0.4-1.5 0.1-2 0.3-1.5 0.6-1.5 1-1.5 0.8-1 0.8-0.8 1-0.9 1-0.6 1.2-0.7 1.1-0.5 1.2-0.4 1.5-0.4zM454.8 562.5l1.5-0.3 2 0 1.5 0.2 1.5 0.3 1.5 0.6 1.1 0.7 1.2 1 0.8 1 0.8 1.5 0.4 1.5 0 2-0.3 1.4-0.5 1.2-0.9 1.4-0.8 1-1.1 1-1.2 0.8-1.2 0.7-1.2 0.5-1.6 0.5-1.5 0.2-2 0.1-1.5-0.1-1.5-0.4-1.5-0.6-1.2-0.7-1.2-1-0.8-1-0.8-1.4-0.4-1.6 0-2 0.3-1.5 0.6-1.3 0.8-1.2 0.7-0.9 1-0.9 1-0.8 1-0.6 1.5-0.7 1.5-0.5zM455.6 563.5l1.7-0.2 2 0.2 1.5 0.3 1.5 0.7 1 0.7 0.9 0.8 0.7 1 0.7 1.5 0.2 1.4-0.1 1.6-0.5 1.5-0.9 1.4-0.9 1.1-1.1 0.9-1 0.7-1.5 0.7-1.5 0.5-1.5 0.3-2 0.1-1.5-0.2-1.5-0.5-1.1-0.5-1.4-1-0.9-1-0.6-1-0.5-1.5 0-2 0.3-1.5 0.7-1.3 0.8-1.2 1.1-1 1.1-0.8 1.2-0.7 1.2-0.5 1.6-0.5zM456 564.5l1.8-0.1 1.5 0.2 1.3 0.4 1.2 0.6 1 0.8 0.9 1.1 0.6 1.3 0.2 1.7-0.3 1.5-0.7 1.5-0.7 1-1 0.9-1 0.7-1.5 0.8-1.5 0.5-1.5 0.2-2-0.1-1.5-0.3-1.4-0.7-1.1-0.8-1-1.2-0.7-1.5-0.1-1.5 0.3-1.5 0.5-1.2 0.9-1.3 1.1-1 1-0.7 1.5-0.7 1.5-0.5zM456.6 565.5l1.7 0 1.5 0.4 1.2 0.6 1.1 1 0.7 1 0.4 1.5-0.1 1.5-0.7 1.5-0.7 1-0.9 0.8-1 0.7-1.1 0.5-1.4 0.4-1.5 0.1-1.5-0.1-1.3-0.4-1.2-0.6-0.9-0.9-0.7-1-0.4-1.5 0.1-1.5 0.7-1.5 0.7-1 1-0.9 1-0.6 1.5-0.7 1.5-0.3zM454.6 567l1.7-0.4 2 0 1.5 0.6 1 0.7 0.8 1.1 0.3 1.5-0.3 1.5-0.8 1.3-1 0.9-1.4 0.8-1.6 0.4-2 0-1.3-0.4-1.2-0.8-0.9-1.2-0.3-1.5 0.3-1.5 0.9-1.4 1-0.9zM455.1 568l1.7-0.3 1.5 0.2 1.2 0.6 0.8 1 0.2 1.5-0.6 1.5-1.1 1-1.5 0.7-1.5 0.1-1.5-0.3-1-0.7-0.8-1.3 0.3-2 0.8-1 1.2-0.9zM455.8 569l1.5-0.1 1.3 0.6 0.5 1.5-0.8 1.4-1.1 0.6-1.9 0-1-0.6-0.4-1.4 0.9-1.5z" fill="none" stroke="#9a9da1" stroke-width="0.5"/>
<path d="M471.8 524l1.5-0.2 1.5 0.1 1.4 0.6 1.1 1 0.7 1 0.6 1.5 0.4 1.5 0.1 1.5 0 2-0.1 1.5-0.3 1.5-0.3 1.5-0.4 1.5-0.4 1.5-0.5 1.5-0.6 1.5-0.7 1.5-0.5 1.2-0.7 1.3-0.8 1.5-0.8 1.5-0.6 1-0.7 1-0.7 1-0.7 1-0.8 1-0.7 0.9-0.9 1.1-0.9 1-1 1-1.1 1-1.1 0.9-1 0.8-1 0.7-1 0.6-1.5 0.8-1.5 0.6-1.5 0.3-2-0.1-1.5-0.6-1-0.9-0.8-1.1-0.6-1.5-0.4-1.5-0.1-1.5 0-2 0.1-1.5 0.3-1.5 0.3-1.5 0.4-1.5 0.4-1.5 0.5-1.5 0.6-1.5 0.6-1.5 0.7-1.4 0.6-1.1 0.8-1.5 0.6-1.1 0.8-1.4 0.7-1 0.7-1 0.7-1 0.8-1 0.8-1 0.8-1 0.9-1 1-1 1.1-1 1.2-1 1-0.8 1-0.7 1-0.6 1.5-0.8 1.5-0.5z" fill="#1c1c1c" fill-opacity="0.100"/>
<path d="M470.9 527l1.9-0.1 1.5 0.5 1 0.8 0.9 1.3 0.5 1.5 0.2 1.5 0.1 2-0.2 1.5-0.2 1.5-0.4 1.5-0.4 1.5-0.5 1.5-0.5 1.4-0.5 1.2-0.5 1.1-0.6 1.3-0.8 1.5-0.9 1.5-0.7 1-0.6 1-0.7 1-0.8 1-0.8 1-0.9 1-1 1-1 1-1.2 1-1 0.8-1 0.6-1.5 0.9-1.5 0.5-1.5 0.3-1.6-0.1-1.2-0.5-1.1-1-0.6-1-0.5-1.5-0.2-1.5-0.1-2 0.2-1.5 0.2-1.5 0.4-1.5 0.4-1.5 0.5-1.5 0.5-1.5 0.6-1.3 0.5-1.2 0.8-1.5 0.7-1.3 0.7-1.2 0.7-1 0.6-1 0.7-1 0.8-1 0.8-1 0.9-1 0.8-0.8 1-1 1-0.9 1-0.8 1-0.7 1-0.6 1.4-0.7 1.6-0.5z" fill="#1c1c1c" fill-opacity="0.100"/>
<path d="M469.2 529.5l1.6-0.3 1.5 0.1 1.3 0.7 0.8 1 0.6 1.5 0.3 1.5 0 2-0.1 1.5-0.3 1.5-0.4 1.5-0.5 1.5-0.5 1.5-0.7 1.5-0.5 1.2-0.7 1.3-0.8 1.4-0.7 1.1-0.7 1-0.7 1-0.7 1-0.9 1-0.8 0.9-1 1-1 0.9-1 0.8-1 0.7-1.3 0.7-1.2 0.5-1.5 0.3-1.5-0.1-1.4-0.7-0.8-1-0.6-1.5-0.3-1.5 0-2 0.1-1.5 0.3-1.5 0.4-1.5 0.5-1.5 0.5-1.5 0.6-1.5 0.7-1.4 0.6-1.1 0.9-1.5 0.6-1 0.7-1 0.7-1 0.7-1 0.8-0.9 1-1.1 1-1 1-0.9 1-0.8 1-0.6 1.2-0.7z" fill="#1c1c1c" fill-opacity="0.100"/>
<path d="M468.4 531.5l1.4-0.3 1.5 0.1 1.2 0.7 0.8 1 0.5 1.5 0.1 1.5-0.1 2-0.2 1.5-0.4 1.5-0.4 1.3-0.4 1.2-0.6 1.4-0.5 1.1-0.8 1.5-0.7 1.1-0.9 1.4-0.7 1-0.8 1-0.8 1-1 1-0.8 0.8-1 0.8-1 0.8-1.1 0.6-1.1 0.5-1.8 0.4-1.5-0.3-1-0.8-0.8-1.3-0.4-1.5 0-2 0.1-1.5 0.3-1.5 0.4-1.5 0.5-1.5 0.6-1.5 0.7-1.5 0.6-1.1 0.8-1.4 0.7-1 0.6-1 0.8-1 0.8-1 0.8-0.9 1-1 1-0.9 1-0.8 1-0.6 1.5-0.8z" fill="#1c1c1c" fill-opacity="0.100"/>
<path d="M467.4 533.5l1.4-0.4 2 0.2 1 0.9 0.6 1.3 0.2 1.5-0.1 2-0.3 1.5-0.4 1.5-0.5 1.5-0.5 1.3-0.6 1.2-0.8 1.5-0.6 1-0.7 1-0.7 1-0.8 1-1 1-0.8 0.8-1 0.8-1 0.7-1.2 0.7-1.3 0.4-2-0.2-0.9-0.7-0.8-1.5-0.2-1.5 0.1-2 0.3-1.5 0.4-1.5 0.5-1.5 0.6-1.5 0.7-1.5 0.8-1.3 0.7-1.2 0.8-1 0.7-1 0.8-0.9 1-1 1-0.9 1-0.8 1-0.6z" fill="#1c1c1c" fill-opacity="0.100"/>
<path d="M467.8 535l1.6 0 1.3 1 0.5 1.5 0.1 2-0.3 1.5-0.4 1.5-0.5 1.5-0.7 1.5-0.6 1.2-0.8 1.3-0.7 1-0.8 1-0.9 1-0.8 0.8-1 0.9-1 0.6-1.5 0.7-1.7 0-1.3-1-0.5-1.4-0.1-1.6 0.2-1.5 0.3-1.5 0.5-1.5 0.6-1.4 0.5-1.1 0.9-1.5 0.6-1 0.8-1 0.7-0.9 1-1.1 1-0.9 1-0.7 1.5-0.8z" fill="#1c1c1c" fill-opacity="0.100"/>
<path d="M466.6 537l1.7-0.2 1.1 0.7 0.6 1.5-0.1 2-0.3 1.5-0.5 1.5-0.7 1.5-0.6 1.1-0.9 1.4-0.8 1-0.8 0.9-1 0.9-0.9 0.7-1.1 0.5-1.5 0.3-1.2-0.8-0.6-1.5 0.1-2 0.3-1.5 0.5-1.5 0.7-1.5 0.7-1.2 0.8-1.3 0.8-1 0.9-1 1-0.9 1-0.7z" fill="#1c1c1c" fill-opacity="0.100"/>
<path d="M466.5 536.5l1.3-0.4 1.5 0.3 0.8 1.1 0.3 1.5-0.1 1.9-0.4 1.6-0.5 1.5-0.6 1.3-0.6 1.2-0.6 1-0.7 1-0.8 1-0.8 0.9-1 0.9-0.9 0.7-1.1 0.6-1.5 0.3-1.5-0.7-0.6-1.2-0.1-1.5 0.1-1.5 0.4-1.5 0.5-1.5 0.7-1.5 0.8-1.5 0.7-1 0.7-1 0.8-1 1-1 1-0.8 1-0.6z" fill="#fff" fill-opacity="0.3"/>
<path d="M467.3 538l1.2 0.5 0.6 1.5-0.2 2-0.4 1.5-0.6 1.5-0.6 1.1-0.9 1.4-0.8 1-0.8 0.9-1 0.8-1.5 0.7-1.5-0.2-0.8-1.2 0-2 0.3-1.4 0.5-1.4 0.5-1.2 0.9-1.5 0.8-1 0.8-1 1-0.9 1-0.7z" fill="#fff" fill-opacity="0.5"/>
<path d="M465.8 540l1.5 0.1 0.5 1.4-0.2 1.5-0.5 1.5-0.8 1.5-0.7 1-0.8 0.9-1 0.8-1.5 0.5-1-1 0-1.7 0.4-1.5 0.6-1.3 0.7-1.2 0.8-1 1-0.9z" fill="#fff" fill-opacity="0.7"/>
<path d="M464.7 542l1.6-0.2 0.2 1.7-0.6 1.5-0.6 1-1 1-1.5 0.3-0.4-1.3 0.4-1.4 0.6-1.1 0.8-1z" fill="#fff" fill-opacity="0.9"/>
<path d="M471.8 524l1.5-0.2 1.5 0.1 1.4 0.6 1.1 1 0.7 1 0.6 1.5 0.4 1.5 0.1 1.5 0 2-0.1 1.5-0.3 1.5-0.3 1.5-0.4 1.5-0.4 1.5-0.5 1.5-0.6 1.5-0.7 1.5-0.5 1.2-0.7 1.3-0.8 1.5-0.8 1.5-0.6 1-0.7 1-0.7 1-0.7 1-0.8 1-0.7 0.9-0.9 1.1-0.9 1-1 1-1.1 1-1.1 0.9-1 0.8-1 0.7-1 0.6-1.5 0.8-1.5 0.6-1.5 0.3-2-0.1-1.5-0.6-1-0.9-0.8-1.1-0.6-1.5-0.4-1.5-0.1-1.5 0-2 0.1-1.5 0.3-1.5 0.3-1.5 0.4-1.5 0.4-1.5 0.5-1.5 0.6-1.5 0.6-1.5 0.7-1.4 0.6-1.1 0.8-1.5 0.6-1.1 0.8-1.4 0.7-1 0.7-1 0.7-1 0.8-1 0.8-1 0.8-1 0.9-1 1-1 1.1-1 1.2-1 1-0.8 1-0.7 1-0.6 1.5-0.8 1.5-0.5zM470.9 527l1.9-0.1 1.5 0.5 1 0.8 0.9 1.3 0.5 1.5 0.2 1.5 0.1 2-0.2 1.5-0.2 1.5-0.4 1.5-0.4 1.5-0.5 1.5-0.5 1.4-0.5 1.2-0.5 1.1-0.6 1.3-0.8 1.5-0.9 1.5-0.7 1-0.6 1-0.7 1-0.8 1-0.8 1-0.9 1-1 1-1 1-1.2 1-1 0.8-1 0.6-1.5 0.9-1.5 0.5-1.5 0.3-1.6-0.1-1.2-0.5-1.1-1-0.6-1-0.5-1.5-0.2-1.5-0.1-2 0.2-1.5 0.2-1.5 0.4-1.5 0.4-1.5 0.5-1.5 0.5-1.5 0.6-1.3 0.5-1.2 0.8-1.5 0.7-1.3 0.7-1.2 0.7-1 0.6-1 0.7-1 0.8-1 0.8-1 0.9-1 0.8-0.8 1-1 1-0.9 1-0.8 1-0.7 1-0.6 1.4-0.7 1.6-0.5zM469.2 529.5l1.6-0.3 1.5 0.1 1.3 0.7 0.8 1 0.6 1.5 0.3 1.5 0 2-0.1 1.5-0.3 1.5-0.4 1.5-0.5 1.5-0.5 1.5-0.7 1.5-0.5 1.2-0.7 1.3-0.8 1.4-0.7 1.1-0.7 1-0.7 1-0.7 1-0.9 1-0.8 0.9-1 1-1 0.9-1 0.8-1 0.7-1.3 0.7-1.2 0.5-1.5 0.3-1.5-0.1-1.4-0.7-0.8-1-0.6-1.5-0.3-1.5 0-2 0.1-1.5 0.3-1.5 0.4-1.5 0.5-1.5 0.5-1.5 0.6-1.5 0.7-1.4 0.6-1.1 0.9-1.5 0.6-1 0.7-1 0.7-1 0.7-1 0.8-0.9 1-1.1 1-1 1-0.9 1-0.8 1-0.6 1.2-0.7zM468.4 531.5l1.4-0.3 1.5 0.1 1.2 0.7 0.8 1 0.5 1.5 0.1 1.5-0.1 2-0.2 1.5-0.4 1.5-0.4 1.3-0.4 1.2-0.6 1.4-0.5 1.1-0.8 1.5-0.7 1.1-0.9 1.4-0.7 1-0.8 1-0.8 1-1 1-0.8 0.8-1 0.8-1 0.8-1.1 0.6-1.1 0.5-1.8 0.4-1.5-0.3-1-0.8-0.8-1.3-0.4-1.5 0-2 0.1-1.5 0.3-1.5 0.4-1.5 0.5-1.5 0.6-1.5 0.7-1.5 0.6-1.1 0.8-1.4 0.7-1 0.6-1 0.8-1 0.8-1 0.8-0.9 1-1 1-0.9 1-0.8 1-0.6 1.5-0.8zM467.4 533.5l1.4-0.4 2 0.2 1 0.9 0.6 1.3 0.2 1.5-0.1 2-0.3 1.5-0.4 1.5-0.5 1.5-0.5 1.3-0.6 1.2-0.8 1.5-0.6 1-0.7 1-0.7 1-0.8 1-1 1-0.8 0.8-1 0.8-1 0.7-1.2 0.7-1.3 0.4-2-0.2-0.9-0.7-0.8-1.5-0.2-1.5 0.1-2 0.3-1.5 0.4-1.5 0.5-1.5 0.6-1.5 0.7-1.5 0.8-1.3 0.7-1.2 0.8-1 0.7-1 0.8-0.9 1-1 1-0.9 1-0.8 1-0.6zM467.8 535l1.6 0 1.3 1 0.5 1.5 0.1 2-0.3 1.5-0.4 1.5-0.5 1.5-0.7 1.5-0.6 1.2-0.8 1.3-0.7 1-0.8 1-0.9 1-0.8 0.8-1 0.9-1 0.6-1.5 0.7-1.7 0-1.3-1-0.5-1.4-0.1-1.6 0.2-1.5 0.3-1.5 0.5-1.5 0.6-1.4 0.5-1.1 0.9-1.5 0.6-1 0.8-1 0.7-0.9 1-1.1 1-0.9 1-0.7 1.5-0.8zM466.6 537l1.7-0.2 1.1 0.7 0.6 1.5-0.1 2-0.3 1.5-0.5 1.5-0.7 1.5-0.6 1.1-0.9 1.4-0.8 1-0.8 0.9-1 0.9-0.9 0.7-1.1 0.5-1.5 0.3-1.2-0.8-0.6-1.5 0.1-2 0.3-1.5 0.5-1.5 0.7-1.5 0.7-1.2 0.8-1.3 0.8-1 0.9-1 1-0.9 1-0.7zM465.8 539l1.5-0.3 1 0.8 0.3 1.5-0.2 1.5-0.5 1.5-0.6 1.4-0.6 1.1-0.7 1-0.9 1-1.1 1-1.2 0.7-1.7-0.2-0.7-1.5 0.2-2 0.5-1.5 0.6-1.5 1-1.5 0.7-1 0.9-0.9 1-0.8zM465.2 541l1.9 0.5-0.1 2-0.6 1.5-1 1.5-0.9 1-1.2 0.7-1.4-0.7 0.1-2 0.6-1.5 0.7-1.1 0.7-0.9z" fill="none" stroke="#85888c" stroke-width="0.5"/>
<rect x="110.5" y="524.2" width="33.30000000000001" height="34.5" fill="none" stroke="#000" stroke-width="1.6"/>
<text x="144.10000000000002" y="523.2" font-size="9.3" text-anchor="end" font-weight="normal" >24</text>
<rect x="225" y="524.2" width="33.80000000000001" height="34.5" fill="none" stroke="#000" stroke-width="1.6"/>
<text x="259.1" y="523.2" font-size="9.3" text-anchor="end" font-weight="normal" >46</text>
<rect x="337" y="524.2" width="33.5" height="34.5" fill="none" stroke="#000" stroke-width="1.6"/>
<text x="370.8" y="523.2" font-size="9.3" text-anchor="end" font-weight="normal" >16</text>
<rect x="447.5" y="524.2" width="33.80000000000001" height="34.5" fill="none" stroke="#000" stroke-width="1.6"/>
<text x="481.6" y="523.2" font-size="9.3" text-anchor="end" font-weight="normal" >42</text>
<path d="M45.5 566V521" stroke="#000" stroke-width="1.5"/><path d="M41.6 523.5H49.4L45.5 514.8Z" fill="#000"/>
<text x="49.5" y="603" font-size="11" text-anchor="start" font-weight="normal" transform="rotate(-90 49.5 603)" >CD11b</text>
<text x="72" y="623.6" font-size="11" text-anchor="start" font-weight="normal" >CD33</text>
<path d="M101 620.8H469" stroke="#000" stroke-width="1.5"/><path d="M467.5 616.8V624.8L476.3 620.8Z" fill="#000"/>
<text x="0" y="659" font-size="16" text-anchor="start" font-weight="bold" >D</text>
<rect x="104.6" y="680.5" width="32.900000000000006" height="75.0" fill="#000"/>
<rect x="149.8" y="732" width="32.69999999999999" height="23.5" fill="#a9a9a9"/>
<rect x="194.8" y="680.5" width="32.19999999999999" height="75.0" fill="#808080"/>
<path d="M121 681V671.3M113 671.3H129M166 733V724M158.3 724H174.5M210.8 681V667.3M203 667.3H219" stroke="#000" stroke-width="1.2" fill="none"/>
<path d="M98.8 663.7V755.3H235.5M94.8 681.5H98.8M94.8 718.3H98.8M94.8 755.3H98.8M121.05 755V759M166.15 755V759M210.9 755V759" stroke="#000" stroke-width="1.3" fill="none"/>
<text x="92.5" y="685.1" font-size="10" text-anchor="end" font-weight="normal" >100</text>
<text x="92.5" y="721.9" font-size="10" text-anchor="end" font-weight="normal" >50</text>
<text x="92.5" y="758.9" font-size="10" text-anchor="end" font-weight="normal" >0</text>
<text x="54" y="718.5" font-size="11" text-anchor="middle" font-weight="normal" transform="rotate(-90 54 718.5)" >% CD14+ cells</text>
<text x="67.5" y="710" font-size="11" text-anchor="middle" font-weight="normal" transform="rotate(-90 67.5 710)" >normalized to GFP</text>
<path d="M121 664V659H166V664" stroke="#000" stroke-width="1.1" fill="none"/>
<text x="126" y="652.5" font-size="10" text-anchor="start" font-weight="normal" >p = 0.0002</text>
<text x="117.7" y="773.3" font-size="10.8" text-anchor="middle" font-weight="normal" >GFP</text>
<text x="164" y="773.3" font-size="10.8" text-anchor="middle" font-weight="normal" >WT1mut</text>
<text x="212" y="773.3" font-size="10.8" text-anchor="middle" font-weight="normal" >WT1wt</text>
<rect x="342.5" y="680" width="33.69999999999999" height="75.5" fill="#000"/>
<rect x="389.8" y="726.4" width="33.19999999999999" height="29.100000000000023" fill="#a9a9a9"/>
<rect x="437" y="681" width="32.80000000000001" height="74.5" fill="#808080"/>
<path d="M359.5 681V660M352 660H367M406.8 727V714.4M398.5 714.4H414.8M453.2 682V666.7M445.2 666.7H461.5" stroke="#000" stroke-width="1.2" fill="none"/>
<path d="M336.3 656.3V755.3H477M332.3 681.5H336.3M332.3 718.3H336.3M332.3 755.3H336.3M359.35 755V759M406.4 755V759M453.4 755V759" stroke="#000" stroke-width="1.3" fill="none"/>
<text x="328.8" y="685.1" font-size="10" text-anchor="end" font-weight="normal" >100</text>
<text x="328.8" y="721.9" font-size="10" text-anchor="end" font-weight="normal" >50</text>
<text x="328.8" y="758.9" font-size="10" text-anchor="end" font-weight="normal" >0</text>
<text x="292.5" y="712" font-size="11" text-anchor="middle" font-weight="normal" transform="rotate(-90 292.5 712)" >% CD11b+ cells</text>
<text x="306" y="706" font-size="11" text-anchor="middle" font-weight="normal" transform="rotate(-90 306 706)" >normalized to GFP</text>
<path d="M358.3 642.5V637H405.2V642.5" stroke="#000" stroke-width="1.1" fill="none"/>
<text x="357.5" y="653" font-size="10" text-anchor="start" font-weight="normal" >p = 0.0034</text>
<text x="359.4" y="773.3" font-size="10.8" text-anchor="middle" font-weight="normal" >GFP</text>
<text x="405" y="773.3" font-size="10.8" text-anchor="middle" font-weight="normal" >WT1mut</text>
<text x="452" y="773.3" font-size="10.8" text-anchor="middle" font-weight="normal" >WT1wt</text>
</g>
</svg>
</body></html>
